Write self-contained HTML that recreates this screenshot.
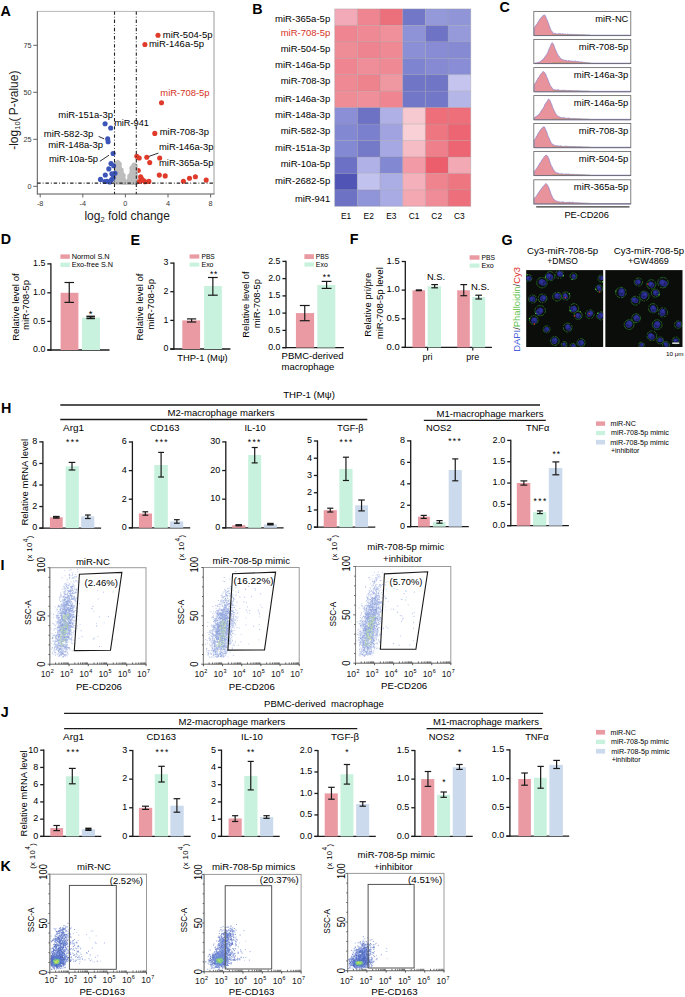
<!DOCTYPE html>
<html><head><meta charset="utf-8"><style>
html,body{margin:0;padding:0;background:#fff;}
svg{display:block;}
text{font-family:"Liberation Sans",sans-serif;}
</style></head><body>
<svg width="685" height="997" viewBox="0 0 685 997">
<rect width="685" height="997" fill="#fff"/>
<text x="0.5" y="16.2" font-size="14.3" fill="#000" font-weight="bold">A</text>
<line x1="37.3" y1="11.4" x2="214" y2="11.4" stroke="#b8b8b8" stroke-width="1"/>
<line x1="214" y1="11.4" x2="214" y2="194" stroke="#9a9a9a" stroke-width="1"/>
<line x1="37.3" y1="11.2" x2="37.3" y2="194.5" stroke="#555" stroke-width="1"/>
<line x1="37.3" y1="194" x2="214.4" y2="194" stroke="#555" stroke-width="1"/>
<line x1="33.2" y1="186.3" x2="37.3" y2="186.3" stroke="#555" stroke-width="0.9"/>
<text x="31.6" y="188.9" font-size="7.3" text-anchor="end" fill="#3a3632">0</text>
<line x1="33.2" y1="139.3" x2="37.3" y2="139.3" stroke="#555" stroke-width="0.9"/>
<text x="31.6" y="141.9" font-size="7.3" text-anchor="end" fill="#3a3632">25</text>
<line x1="33.2" y1="92.3" x2="37.3" y2="92.3" stroke="#555" stroke-width="0.9"/>
<text x="31.6" y="94.9" font-size="7.3" text-anchor="end" fill="#3a3632">50</text>
<line x1="33.2" y1="45.3" x2="37.3" y2="45.3" stroke="#555" stroke-width="0.9"/>
<text x="31.6" y="47.9" font-size="7.3" text-anchor="end" fill="#3a3632">75</text>
<line x1="40.2" y1="194" x2="40.2" y2="197.5" stroke="#555" stroke-width="0.9"/>
<text x="40.2" y="205.5" font-size="7.3" text-anchor="middle" fill="#3a3632">-8</text>
<line x1="82.8" y1="194" x2="82.8" y2="197.5" stroke="#555" stroke-width="0.9"/>
<text x="82.8" y="205.5" font-size="7.3" text-anchor="middle" fill="#3a3632">-4</text>
<line x1="125.4" y1="194" x2="125.4" y2="197.5" stroke="#555" stroke-width="0.9"/>
<text x="125.4" y="205.5" font-size="7.3" text-anchor="middle" fill="#3a3632">0</text>
<line x1="168" y1="194" x2="168" y2="197.5" stroke="#555" stroke-width="0.9"/>
<text x="168" y="205.5" font-size="7.3" text-anchor="middle" fill="#3a3632">4</text>
<line x1="210.6" y1="194" x2="210.6" y2="197.5" stroke="#555" stroke-width="0.9"/>
<text x="210.6" y="205.5" font-size="7.3" text-anchor="middle" fill="#3a3632">8</text>
<circle cx="138.3" cy="170.4" r="2.5" fill="#E03A2A"/>
<path d="M114.6,183.8 L114.8,172 L115.3,165 L116.4,161.6 L117.8,160.6 L119.3,161.4 L120.6,163.6 L120.8,166.5 L121.8,169.5 L123.2,172.5 L124.3,176 L125.2,180 L125.6,184.2 Z" fill="#BDBDBD" stroke="#BDBDBD" stroke-width="1.6" stroke-linejoin="round"/>
<path d="M127.0,184.3 L127.4,180.5 L128.6,176.5 L130.0,173 L130.6,169.5 L131.6,166 L132.8,163.8 L134.3,163.2 L135.8,164.2 L136.6,166.5 L137.0,172 L137.2,184.3 Z" fill="#BDBDBD" stroke="#BDBDBD" stroke-width="1.6" stroke-linejoin="round"/>
<circle cx="116.5" cy="163" r="2.3" fill="#BDBDBD"/>
<circle cx="119.5" cy="164" r="2.3" fill="#BDBDBD"/>
<circle cx="121.5" cy="170" r="2.3" fill="#BDBDBD"/>
<circle cx="123.5" cy="175.5" r="2.3" fill="#BDBDBD"/>
<circle cx="116" cy="170" r="2.3" fill="#BDBDBD"/>
<circle cx="129.5" cy="176" r="2.3" fill="#BDBDBD"/>
<circle cx="131.5" cy="168" r="2.3" fill="#BDBDBD"/>
<circle cx="135.5" cy="166" r="2.3" fill="#BDBDBD"/>
<circle cx="128.5" cy="181" r="2.3" fill="#BDBDBD"/>
<circle cx="124.6" cy="181" r="2.3" fill="#BDBDBD"/>
<circle cx="158" cy="35.3" r="2.55" fill="#E03A2A"/>
<circle cx="144.9" cy="44.5" r="2.55" fill="#E03A2A"/>
<circle cx="161.5" cy="102.8" r="2.55" fill="#E03A2A"/>
<circle cx="154.8" cy="133.4" r="2.55" fill="#E03A2A"/>
<circle cx="136.8" cy="156.2" r="2.55" fill="#E03A2A"/>
<circle cx="139.2" cy="158" r="2.55" fill="#E03A2A"/>
<circle cx="146.8" cy="157.3" r="2.55" fill="#E03A2A"/>
<circle cx="149.7" cy="162.6" r="2.55" fill="#E03A2A"/>
<circle cx="159.7" cy="158" r="2.55" fill="#E03A2A"/>
<circle cx="140.6" cy="176.9" r="2.55" fill="#E03A2A"/>
<circle cx="141.5" cy="178.6" r="2.55" fill="#E03A2A"/>
<circle cx="143.5" cy="180.5" r="2.55" fill="#E03A2A"/>
<circle cx="145" cy="181.8" r="2.55" fill="#E03A2A"/>
<circle cx="148.9" cy="181.4" r="2.55" fill="#E03A2A"/>
<circle cx="159.3" cy="175.1" r="2.55" fill="#E03A2A"/>
<circle cx="165.2" cy="175.9" r="2.55" fill="#E03A2A"/>
<circle cx="183.4" cy="181.2" r="2.55" fill="#E03A2A"/>
<circle cx="189.5" cy="178.2" r="2.55" fill="#E03A2A"/>
<circle cx="195.4" cy="176.7" r="2.55" fill="#E03A2A"/>
<circle cx="206.2" cy="180.1" r="2.55" fill="#E03A2A"/>
<circle cx="139.5" cy="181.5" r="2.55" fill="#E03A2A"/>
<circle cx="105.1" cy="123.7" r="2.55" fill="#3C55B8"/>
<circle cx="110.7" cy="128" r="2.55" fill="#3C55B8"/>
<circle cx="107.7" cy="138.9" r="2.55" fill="#3C55B8"/>
<circle cx="108.1" cy="141.7" r="2.55" fill="#3C55B8"/>
<circle cx="113.1" cy="153.5" r="2.55" fill="#3C55B8"/>
<circle cx="111" cy="163.5" r="2.55" fill="#3C55B8"/>
<circle cx="113.6" cy="165.8" r="2.55" fill="#3C55B8"/>
<circle cx="108.8" cy="168.9" r="2.55" fill="#3C55B8"/>
<circle cx="105.3" cy="175" r="2.55" fill="#3C55B8"/>
<circle cx="111.9" cy="173.7" r="2.55" fill="#3C55B8"/>
<circle cx="115" cy="173.3" r="2.55" fill="#3C55B8"/>
<circle cx="100.5" cy="179.4" r="2.55" fill="#3C55B8"/>
<circle cx="107.1" cy="181.2" r="2.55" fill="#3C55B8"/>
<circle cx="109.7" cy="182" r="2.55" fill="#3C55B8"/>
<circle cx="111.5" cy="179.8" r="2.55" fill="#3C55B8"/>
<circle cx="113.2" cy="177.7" r="2.55" fill="#3C55B8"/>
<circle cx="104.8" cy="181.5" r="2.55" fill="#3C55B8"/>
<line x1="114.5" y1="11.4" x2="114.5" y2="194" stroke="#222" stroke-width="1.1" stroke-dasharray="3.4,2,0.8,2"/>
<line x1="136.3" y1="11.4" x2="136.3" y2="194" stroke="#222" stroke-width="1.1" stroke-dasharray="3.4,2,0.8,2"/>
<line x1="37.3" y1="183.1" x2="214" y2="183.1" stroke="#222" stroke-width="1.1" stroke-dasharray="3.4,2,0.8,2"/>
<text x="162.8" y="37.8" font-size="8.2" textLength="49.7" lengthAdjust="spacingAndGlyphs">miR-504-5p</text>
<text x="148.9" y="46.8" font-size="8.2" textLength="55.1" lengthAdjust="spacingAndGlyphs">miR-146a-5p</text>
<text x="160.3" y="95.8" font-size="8.2" textLength="49.3" lengthAdjust="spacingAndGlyphs" fill="#D63224">miR-708-5p</text>
<text x="58.3" y="117.5" font-size="8.2" textLength="54.7" lengthAdjust="spacingAndGlyphs">miR-151a-3p</text>
<text x="114.2" y="126" font-size="8.2" textLength="34.7" lengthAdjust="spacingAndGlyphs">miR-941</text>
<text x="43.8" y="137.3" font-size="8.2" textLength="49.6" lengthAdjust="spacingAndGlyphs">miR-582-3p</text>
<text x="48.2" y="148.2" font-size="8.2" textLength="54.8" lengthAdjust="spacingAndGlyphs">miR-148a-3p</text>
<text x="49" y="161.7" font-size="8.2" textLength="49.1" lengthAdjust="spacingAndGlyphs">miR-10a-5p</text>
<text x="159.7" y="135.1" font-size="8.2" textLength="49.3" lengthAdjust="spacingAndGlyphs">miR-708-3p</text>
<text x="159" y="149.7" font-size="8.2" textLength="54.4" lengthAdjust="spacingAndGlyphs">miR-146a-3p</text>
<text x="159" y="166" font-size="8.2" textLength="54.4" lengthAdjust="spacingAndGlyphs">miR-365a-5p</text>
<line x1="98.6" y1="136.4" x2="104.2" y2="138.9" stroke="#1a1a1a" stroke-width="0.9"/>
<line x1="99.9" y1="161.3" x2="109" y2="155.2" stroke="#1a1a1a" stroke-width="0.9"/>
<line x1="148.9" y1="156.4" x2="158.4" y2="153.1" stroke="#1a1a1a" stroke-width="0.9"/>
<text x="18" y="149.8" font-size="12" transform="rotate(-90 18 149.8)" fill="#1a1a1a">-log<tspan font-size="7.5" dy="2.2">10</tspan><tspan dy="-2.2">(</tspan><tspan dx="2.2">P-value)</tspan></text>
<text x="84.4" y="219.7" font-size="12" fill="#1a1a1a">log<tspan font-size="7.5" dy="2.2">2</tspan><tspan dy="-2.2"> fold change</tspan></text>
<text x="252.3" y="14.2" font-size="14.3" fill="#000" font-weight="bold">B</text>
<rect x="334.7" y="8.9" width="22.72" height="16.5" fill="#F2AAB8"/>
<rect x="357.37" y="8.9" width="22.72" height="16.5" fill="#EE8590"/>
<rect x="380.04" y="8.9" width="22.72" height="16.5" fill="#EC6F7C"/>
<rect x="402.71" y="8.9" width="22.72" height="16.5" fill="#7277C8"/>
<rect x="425.38" y="8.9" width="22.72" height="16.5" fill="#9499DA"/>
<rect x="448.05" y="8.9" width="22.72" height="16.5" fill="#9095D8"/>
<rect x="334.7" y="25.35" width="22.72" height="16.5" fill="#EF8590"/>
<rect x="357.37" y="25.35" width="22.72" height="16.5" fill="#EF8A95"/>
<rect x="380.04" y="25.35" width="22.72" height="16.5" fill="#EF909A"/>
<rect x="402.71" y="25.35" width="22.72" height="16.5" fill="#8E93D8"/>
<rect x="425.38" y="25.35" width="22.72" height="16.5" fill="#6E73C6"/>
<rect x="448.05" y="25.35" width="22.72" height="16.5" fill="#969ADB"/>
<rect x="334.7" y="41.8" width="22.72" height="16.5" fill="#EF8D97"/>
<rect x="357.37" y="41.8" width="22.72" height="16.5" fill="#EE8490"/>
<rect x="380.04" y="41.8" width="22.72" height="16.5" fill="#EF8A95"/>
<rect x="402.71" y="41.8" width="22.72" height="16.5" fill="#8B90D6"/>
<rect x="425.38" y="41.8" width="22.72" height="16.5" fill="#878CD4"/>
<rect x="448.05" y="41.8" width="22.72" height="16.5" fill="#858AD3"/>
<rect x="334.7" y="58.25" width="22.72" height="16.5" fill="#EE8590"/>
<rect x="357.37" y="58.25" width="22.72" height="16.5" fill="#EF8D98"/>
<rect x="380.04" y="58.25" width="22.72" height="16.5" fill="#EF8A95"/>
<rect x="402.71" y="58.25" width="22.72" height="16.5" fill="#7F84D0"/>
<rect x="425.38" y="58.25" width="22.72" height="16.5" fill="#858AD3"/>
<rect x="448.05" y="58.25" width="22.72" height="16.5" fill="#888DD5"/>
<rect x="334.7" y="74.7" width="22.72" height="16.5" fill="#EF8994"/>
<rect x="357.37" y="74.7" width="22.72" height="16.5" fill="#EE828D"/>
<rect x="380.04" y="74.7" width="22.72" height="16.5" fill="#F098A2"/>
<rect x="402.71" y="74.7" width="22.72" height="16.5" fill="#7075C6"/>
<rect x="425.38" y="74.7" width="22.72" height="16.5" fill="#7075C6"/>
<rect x="448.05" y="74.7" width="22.72" height="16.5" fill="#C4C4EE"/>
<rect x="334.7" y="91.15" width="22.72" height="16.5" fill="#EF8D97"/>
<rect x="357.37" y="91.15" width="22.72" height="16.5" fill="#EF8F99"/>
<rect x="380.04" y="91.15" width="22.72" height="16.5" fill="#EE8590"/>
<rect x="402.71" y="91.15" width="22.72" height="16.5" fill="#7277C8"/>
<rect x="425.38" y="91.15" width="22.72" height="16.5" fill="#7277C8"/>
<rect x="448.05" y="91.15" width="22.72" height="16.5" fill="#B5B6E8"/>
<rect x="334.7" y="107.6" width="22.72" height="16.5" fill="#8B90D6"/>
<rect x="357.37" y="107.6" width="22.72" height="16.5" fill="#6D72C5"/>
<rect x="380.04" y="107.6" width="22.72" height="16.5" fill="#AFB0E6"/>
<rect x="402.71" y="107.6" width="22.72" height="16.5" fill="#F6C8D0"/>
<rect x="425.38" y="107.6" width="22.72" height="16.5" fill="#EE6E7A"/>
<rect x="448.05" y="107.6" width="22.72" height="16.5" fill="#EE6E7A"/>
<rect x="334.7" y="124.05" width="22.72" height="16.5" fill="#8388D2"/>
<rect x="357.37" y="124.05" width="22.72" height="16.5" fill="#7B80CE"/>
<rect x="380.04" y="124.05" width="22.72" height="16.5" fill="#A0A3E0"/>
<rect x="402.71" y="124.05" width="22.72" height="16.5" fill="#F8D0D6"/>
<rect x="425.38" y="124.05" width="22.72" height="16.5" fill="#EE7681"/>
<rect x="448.05" y="124.05" width="22.72" height="16.5" fill="#ED6572"/>
<rect x="334.7" y="140.5" width="22.72" height="16.5" fill="#8489D3"/>
<rect x="357.37" y="140.5" width="22.72" height="16.5" fill="#7479C8"/>
<rect x="380.04" y="140.5" width="22.72" height="16.5" fill="#A6A8E3"/>
<rect x="402.71" y="140.5" width="22.72" height="16.5" fill="#F5BCC5"/>
<rect x="425.38" y="140.5" width="22.72" height="16.5" fill="#EF7F8A"/>
<rect x="448.05" y="140.5" width="22.72" height="16.5" fill="#ED6572"/>
<rect x="334.7" y="156.95" width="22.72" height="16.5" fill="#6C71C5"/>
<rect x="357.37" y="156.95" width="22.72" height="16.5" fill="#B0B1E7"/>
<rect x="380.04" y="156.95" width="22.72" height="16.5" fill="#8388D2"/>
<rect x="402.71" y="156.95" width="22.72" height="16.5" fill="#F29AA5"/>
<rect x="425.38" y="156.95" width="22.72" height="16.5" fill="#EC5E6B"/>
<rect x="448.05" y="156.95" width="22.72" height="16.5" fill="#F3A9B3"/>
<rect x="334.7" y="173.4" width="22.72" height="16.5" fill="#5055B5"/>
<rect x="357.37" y="173.4" width="22.72" height="16.5" fill="#C2C2EE"/>
<rect x="380.04" y="173.4" width="22.72" height="16.5" fill="#ABADE5"/>
<rect x="402.71" y="173.4" width="22.72" height="16.5" fill="#F4B1BB"/>
<rect x="425.38" y="173.4" width="22.72" height="16.5" fill="#EF838E"/>
<rect x="448.05" y="173.4" width="22.72" height="16.5" fill="#EE7681"/>
<rect x="334.7" y="189.85" width="22.72" height="16.5" fill="#6D72C5"/>
<rect x="357.37" y="189.85" width="22.72" height="16.5" fill="#9094D8"/>
<rect x="380.04" y="189.85" width="22.72" height="16.5" fill="#A9ABE4"/>
<rect x="402.71" y="189.85" width="22.72" height="16.5" fill="#F4A8B2"/>
<rect x="425.38" y="189.85" width="22.72" height="16.5" fill="#F08C97"/>
<rect x="448.05" y="189.85" width="22.72" height="16.5" fill="#ED6F7B"/>
<line x1="334.7" y1="8.9" x2="470.72" y2="8.9" stroke="rgba(150,150,150,0.55)" stroke-width="0.6"/>
<line x1="334.7" y1="25.35" x2="470.72" y2="25.35" stroke="rgba(150,150,150,0.55)" stroke-width="0.6"/>
<line x1="334.7" y1="41.8" x2="470.72" y2="41.8" stroke="rgba(150,150,150,0.55)" stroke-width="0.6"/>
<line x1="334.7" y1="58.25" x2="470.72" y2="58.25" stroke="rgba(150,150,150,0.55)" stroke-width="0.6"/>
<line x1="334.7" y1="74.7" x2="470.72" y2="74.7" stroke="rgba(150,150,150,0.55)" stroke-width="0.6"/>
<line x1="334.7" y1="91.15" x2="470.72" y2="91.15" stroke="rgba(150,150,150,0.55)" stroke-width="0.6"/>
<line x1="334.7" y1="107.6" x2="470.72" y2="107.6" stroke="rgba(150,150,150,0.55)" stroke-width="0.6"/>
<line x1="334.7" y1="124.05" x2="470.72" y2="124.05" stroke="rgba(150,150,150,0.55)" stroke-width="0.6"/>
<line x1="334.7" y1="140.5" x2="470.72" y2="140.5" stroke="rgba(150,150,150,0.55)" stroke-width="0.6"/>
<line x1="334.7" y1="156.95" x2="470.72" y2="156.95" stroke="rgba(150,150,150,0.55)" stroke-width="0.6"/>
<line x1="334.7" y1="173.4" x2="470.72" y2="173.4" stroke="rgba(150,150,150,0.55)" stroke-width="0.6"/>
<line x1="334.7" y1="189.85" x2="470.72" y2="189.85" stroke="rgba(150,150,150,0.55)" stroke-width="0.6"/>
<line x1="334.7" y1="206.3" x2="470.72" y2="206.3" stroke="rgba(150,150,150,0.55)" stroke-width="0.6"/>
<line x1="334.7" y1="8.9" x2="334.7" y2="206.3" stroke="rgba(150,150,150,0.55)" stroke-width="0.6"/>
<line x1="357.37" y1="8.9" x2="357.37" y2="206.3" stroke="rgba(150,150,150,0.55)" stroke-width="0.6"/>
<line x1="380.04" y1="8.9" x2="380.04" y2="206.3" stroke="rgba(150,150,150,0.55)" stroke-width="0.6"/>
<line x1="402.71" y1="8.9" x2="402.71" y2="206.3" stroke="rgba(150,150,150,0.55)" stroke-width="0.6"/>
<line x1="425.38" y1="8.9" x2="425.38" y2="206.3" stroke="rgba(150,150,150,0.55)" stroke-width="0.6"/>
<line x1="448.05" y1="8.9" x2="448.05" y2="206.3" stroke="rgba(150,150,150,0.55)" stroke-width="0.6"/>
<line x1="470.72" y1="8.9" x2="470.72" y2="206.3" stroke="rgba(150,150,150,0.55)" stroke-width="0.6"/>
<text x="330.2" y="21.9" font-size="8.2" text-anchor="end" textLength="55.2" lengthAdjust="spacingAndGlyphs">miR-365a-5p</text>
<text x="330.2" y="36.4" font-size="8.2" text-anchor="end" textLength="49.5" lengthAdjust="spacingAndGlyphs" fill="#D63224">miR-708-5p</text>
<text x="330.2" y="51.8" font-size="8.2" text-anchor="end" textLength="49.5" lengthAdjust="spacingAndGlyphs">miR-504-5p</text>
<text x="330.2" y="68.4" font-size="8.2" text-anchor="end" textLength="55.2" lengthAdjust="spacingAndGlyphs">miR-146a-5p</text>
<text x="330.2" y="84.4" font-size="8.2" text-anchor="end" textLength="49.5" lengthAdjust="spacingAndGlyphs">miR-708-3p</text>
<text x="330.2" y="101.6" font-size="8.2" text-anchor="end" textLength="55.2" lengthAdjust="spacingAndGlyphs">miR-146a-3p</text>
<text x="330.2" y="117.6" font-size="8.2" text-anchor="end" textLength="55.2" lengthAdjust="spacingAndGlyphs">miR-148a-3p</text>
<text x="330.2" y="133.8" font-size="8.2" text-anchor="end" textLength="49.5" lengthAdjust="spacingAndGlyphs">miR-582-3p</text>
<text x="330.2" y="150.6" font-size="8.2" text-anchor="end" textLength="55.2" lengthAdjust="spacingAndGlyphs">miR-151a-3p</text>
<text x="330.2" y="167.3" font-size="8.2" text-anchor="end" textLength="49.5" lengthAdjust="spacingAndGlyphs">miR-10a-5p</text>
<text x="330.2" y="184.4" font-size="8.2" text-anchor="end" textLength="55.2" lengthAdjust="spacingAndGlyphs">miR-2682-5p</text>
<text x="330.2" y="201.8" font-size="8.2" text-anchor="end" textLength="35.3" lengthAdjust="spacingAndGlyphs">miR-941</text>
<text x="346.03" y="219.1" font-size="8.4" text-anchor="middle">E1</text>
<text x="368.7" y="219.1" font-size="8.4" text-anchor="middle">E2</text>
<text x="391.38" y="219.1" font-size="8.4" text-anchor="middle">E3</text>
<text x="414.04" y="219.1" font-size="8.4" text-anchor="middle">C1</text>
<text x="436.72" y="219.1" font-size="8.4" text-anchor="middle">C2</text>
<text x="459.38" y="219.1" font-size="8.4" text-anchor="middle">C3</text>
<text x="499.5" y="11.6" font-size="14.3" fill="#000" font-weight="bold">C</text>
<path d="M534.3,35.6 L534.3,27.89 L534.8,26.86 L535.3,26.27 L535.8,25.31 L536.3,24.54 L536.8,24.29 L537.3,23.59 L537.8,22.1 L538.3,21.87 L538.8,21.14 L539.3,19.7 L539.8,19.43 L540.3,18.42 L540.8,18.12 L541.3,17.35 L541.8,17.16 L542.3,16.26 L542.8,15.68 L543.3,15.63 L543.8,15.05 L544.3,14.72 L544.8,15.67 L545.3,15.63 L545.8,16.72 L546.3,18.15 L546.8,19.56 L547.3,20.1 L547.8,21.82 L548.3,22.98 L548.8,24.21 L549.3,25.71 L549.8,26.85 L550.3,28.66 L550.8,29.39 L551.3,30.64 L551.8,31.13 L552.3,31.77 L552.8,32.82 L553.3,33.14 L553.8,33.41 L554.3,32.94 L554.8,33.52 L555.3,33.45 L555.8,33.84 L556.3,33.75 L556.8,33.96 L557.3,34.05 L557.8,33.85 L558.3,33.87 L558.8,33.6 L559.3,33.82 L559.8,33.62 L560.3,33.7 L560.8,33.6 L561.3,33.91 L561.8,34.38 L562.3,33.77 L562.8,33.7 L563.3,33.77 L563.8,34.09 L564.3,33.98 L564.8,34.45 L565.3,33.91 L565.8,34.16 L566.3,34.43 L566.8,34.65 L567.3,33.95 L567.8,33.84 L568.3,34.67 L568.8,34.31 L569.3,34.33 L569.8,34.34 L570.3,34.36 L570.8,34.37 L571.3,34.39 L571.8,34.4 L572.3,34.42 L572.8,34.43 L573.3,34.45 L573.8,34.46 L574.3,34.48 L574.8,34.49 L575.3,34.51 L575.8,34.53 L576.3,34.55 L576.8,34.56 L577.3,34.58 L577.8,34.6 L578.3,34.62 L578.8,34.63 L579.3,34.65 L579.8,34.67 L580.3,34.69 L580.8,34.7 L581.3,34.72 L581.8,34.74 L582.3,34.76 L582.8,34.77 L583.3,34.79 L583.8,34.81 L584.3,34.83 L584.8,34.84 L585.3,34.86 L585.8,34.88 L586.3,34.9 L586.8,34.91 L587.3,34.93 L587.8,34.95 L588.3,34.97 L588.8,34.99 L589.3,35 L589.8,35.02 L590.3,35.04 L590.8,35.06 L591.3,35.08 L591.8,35.09 L592.3,35.1 L592.8,35.1 L593.3,35.1 L593.8,35.1 L594.3,35.1 L594.8,35.1 L595.3,35.1 L595.8,35.1 L596.3,35.1 L596.8,35.1 L597.3,35.1 L597.8,35.1 L598.3,35.1 L598.8,35.1 L599.3,35.1 L599.8,35.1 L600.3,35.1 L600.8,35.1 L601.3,35.1 L601.8,35.1 L602.3,35.1 L602.8,35.1 L603.3,35.1 L603.8,35.1 L604.3,35.1 L604.8,35.1 L605.3,35.1 L605.8,35.1 L606.3,35.1 L606.8,35.1 L607.3,35.1 L607.8,35.1 L608.3,35.1 L608.8,35.1 L609.3,35.1 L609.8,35.1 L610.3,35.1 L610.8,35.1 L611.3,35.1 L611.8,35.1 L612.3,35.1 L612.8,35.1 L613.3,35.1 L613.8,35.1 L614.3,35.1 L614.8,35.1 L615.3,35.1 L615.8,35.1 L616.3,35.1 L616.8,35.1 L617.3,35.1 L617.8,35.1 L618.3,35.1 L618.8,35.1 L619.3,35.1 L619.8,35.1 L620.3,35.1 L620.8,35.1 L621.3,35.1 L621.8,35.1 L622.3,35.1 L622.8,35.1 L623.3,35.1 L623.8,35.1 L624.3,35.1 L624.8,35.1 L625.3,35.1 L625.8,35.1 L626.3,35.1 L626.8,35.1 L627.3,35.1 L627.8,35.1 L628.3,35.1 L628.8,35.1 L629.3,35.1 L629.8,35.1 L630.3,35.1 L630.3,35.6 Z" fill="#E8939C" stroke="#6E72D0" stroke-width="0.55"/>
<line x1="552" y1="34.6" x2="590" y2="34.8" stroke="rgba(120,140,60,0.45)" stroke-width="0.6"/>
<rect x="533.8" y="11.4" width="97" height="24.2" fill="none" stroke="#6a6a6a" stroke-width="0.85"/>
<text x="628.3" y="21.6" font-size="8.4" text-anchor="end" textLength="33" lengthAdjust="spacingAndGlyphs">miR-NC</text>
<path d="M534.3,63.6 L534.3,63.05 L534.8,62.98 L535.3,62.91 L535.8,62.83 L536.3,62.76 L536.8,62.68 L537.3,62.61 L537.8,62.53 L538.3,62.36 L538.8,61.86 L539.3,61.97 L539.8,61.97 L540.3,61.61 L540.8,60.95 L541.3,60.48 L541.8,60.76 L542.3,59.78 L542.8,59.83 L543.3,58.76 L543.8,58.64 L544.3,57.55 L544.8,56.79 L545.3,56.54 L545.8,55.42 L546.3,55.17 L546.8,54.38 L547.3,52.91 L547.8,52.42 L548.3,51.12 L548.8,49.68 L549.3,48.25 L549.8,47.41 L550.3,46.41 L550.8,44.67 L551.3,44.17 L551.8,42.95 L552.3,42.62 L552.8,43.45 L553.3,43.92 L553.8,44.98 L554.3,46.37 L554.8,47.91 L555.3,49.22 L555.8,50.29 L556.3,51.13 L556.8,52.64 L557.3,53.69 L557.8,54.3 L558.3,55.61 L558.8,56.43 L559.3,56.47 L559.8,57.38 L560.3,57.86 L560.8,58.84 L561.3,58.98 L561.8,59.15 L562.3,59.85 L562.8,59.52 L563.3,59.7 L563.8,60.42 L564.3,60.04 L564.8,60.26 L565.3,60.16 L565.8,60.53 L566.3,60.3 L566.8,60.35 L567.3,61.06 L567.8,61.08 L568.3,60.57 L568.8,60.36 L569.3,61.05 L569.8,60.92 L570.3,60.84 L570.8,61.12 L571.3,61.11 L571.8,61.19 L572.3,61.17 L572.8,61 L573.3,61.29 L573.8,61.25 L574.3,60.92 L574.8,61.62 L575.3,61.15 L575.8,61.03 L576.3,61.44 L576.8,61.54 L577.3,61.07 L577.8,61.66 L578.3,61.79 L578.8,61.65 L579.3,61.49 L579.8,62.11 L580.3,61.99 L580.8,62.06 L581.3,61.69 L581.8,62.12 L582.3,61.82 L582.8,62.49 L583.3,62.4 L583.8,62.31 L584.3,62.37 L584.8,62.43 L585.3,62.48 L585.8,62.54 L586.3,62.6 L586.8,62.66 L587.3,62.72 L587.8,62.78 L588.3,62.81 L588.8,62.84 L589.3,62.86 L589.8,62.89 L590.3,62.91 L590.8,62.94 L591.3,62.96 L591.8,62.99 L592.3,63.01 L592.8,63.04 L593.3,63.06 L593.8,63.09 L594.3,63.1 L594.8,63.1 L595.3,63.1 L595.8,63.1 L596.3,63.1 L596.8,63.1 L597.3,63.1 L597.8,63.1 L598.3,63.1 L598.8,63.1 L599.3,63.1 L599.8,63.1 L600.3,63.1 L600.8,63.1 L601.3,63.1 L601.8,63.1 L602.3,63.1 L602.8,63.1 L603.3,63.1 L603.8,63.1 L604.3,63.1 L604.8,63.1 L605.3,63.1 L605.8,63.1 L606.3,63.1 L606.8,63.1 L607.3,63.1 L607.8,63.1 L608.3,63.1 L608.8,63.1 L609.3,63.1 L609.8,63.1 L610.3,63.1 L610.8,63.1 L611.3,63.1 L611.8,63.1 L612.3,63.1 L612.8,63.1 L613.3,63.1 L613.8,63.1 L614.3,63.1 L614.8,63.1 L615.3,63.1 L615.8,63.1 L616.3,63.1 L616.8,63.1 L617.3,63.1 L617.8,63.1 L618.3,63.1 L618.8,63.1 L619.3,63.1 L619.8,63.1 L620.3,63.1 L620.8,63.1 L621.3,63.1 L621.8,63.1 L622.3,63.1 L622.8,63.1 L623.3,63.1 L623.8,63.1 L624.3,63.1 L624.8,63.1 L625.3,63.1 L625.8,63.1 L626.3,63.1 L626.8,63.1 L627.3,63.1 L627.8,63.1 L628.3,63.1 L628.8,63.1 L629.3,63.1 L629.8,63.1 L630.3,63.1 L630.3,63.6 Z" fill="#E8939C" stroke="#6E72D0" stroke-width="0.55"/>
<line x1="552" y1="62.6" x2="590" y2="62.8" stroke="rgba(120,140,60,0.45)" stroke-width="0.6"/>
<rect x="533.8" y="39.4" width="97" height="24.2" fill="none" stroke="#6a6a6a" stroke-width="0.85"/>
<text x="628.3" y="49.6" font-size="8.4" text-anchor="end" textLength="49.5" lengthAdjust="spacingAndGlyphs">miR-708-5p</text>
<path d="M534.3,91.8 L534.3,84.47 L534.8,83.43 L535.3,83 L535.8,82.38 L536.3,81.62 L536.8,80.37 L537.3,79.8 L537.8,78.37 L538.3,77.55 L538.8,77.38 L539.3,76.55 L539.8,75.32 L540.3,74.75 L540.8,73.9 L541.3,73.62 L541.8,73.11 L542.3,72.45 L542.8,71.6 L543.3,71.67 L543.8,71.74 L544.3,72.17 L544.8,72.67 L545.3,73.56 L545.8,74.22 L546.3,76.03 L546.8,77.3 L547.3,77.73 L547.8,79.16 L548.3,80.44 L548.8,82.31 L549.3,82.99 L549.8,84.02 L550.3,85.65 L550.8,86.18 L551.3,86.84 L551.8,87.57 L552.3,88.28 L552.8,89.06 L553.3,89.33 L553.8,89.59 L554.3,89.88 L554.8,89.56 L555.3,89.98 L555.8,89.66 L556.3,90.42 L556.8,89.67 L557.3,89.88 L557.8,89.7 L558.3,89.75 L558.8,89.76 L559.3,90.08 L559.8,90.61 L560.3,89.97 L560.8,90.51 L561.3,90.42 L561.8,90.11 L562.3,90.26 L562.8,90.38 L563.3,89.93 L563.8,90.25 L564.3,90.51 L564.8,90.61 L565.3,90.08 L565.8,90.45 L566.3,90.19 L566.8,90.59 L567.3,90.74 L567.8,90.45 L568.3,90.5 L568.8,90.52 L569.3,90.53 L569.8,90.55 L570.3,90.56 L570.8,90.58 L571.3,90.59 L571.8,90.61 L572.3,90.62 L572.8,90.64 L573.3,90.66 L573.8,90.67 L574.3,90.69 L574.8,90.7 L575.3,90.72 L575.8,90.73 L576.3,90.75 L576.8,90.76 L577.3,90.78 L577.8,90.79 L578.3,90.81 L578.8,90.83 L579.3,90.85 L579.8,90.88 L580.3,90.9 L580.8,90.92 L581.3,90.94 L581.8,90.96 L582.3,90.98 L582.8,91 L583.3,91.02 L583.8,91.04 L584.3,91.06 L584.8,91.08 L585.3,91.1 L585.8,91.12 L586.3,91.15 L586.8,91.17 L587.3,91.19 L587.8,91.21 L588.3,91.23 L588.8,91.25 L589.3,91.27 L589.8,91.29 L590.3,91.3 L590.8,91.3 L591.3,91.3 L591.8,91.3 L592.3,91.3 L592.8,91.3 L593.3,91.3 L593.8,91.3 L594.3,91.3 L594.8,91.3 L595.3,91.3 L595.8,91.3 L596.3,91.3 L596.8,91.3 L597.3,91.3 L597.8,91.3 L598.3,91.3 L598.8,91.3 L599.3,91.3 L599.8,91.3 L600.3,91.3 L600.8,91.3 L601.3,91.3 L601.8,91.3 L602.3,91.3 L602.8,91.3 L603.3,91.3 L603.8,91.3 L604.3,91.3 L604.8,91.3 L605.3,91.3 L605.8,91.3 L606.3,91.3 L606.8,91.3 L607.3,91.3 L607.8,91.3 L608.3,91.3 L608.8,91.3 L609.3,91.3 L609.8,91.3 L610.3,91.3 L610.8,91.3 L611.3,91.3 L611.8,91.3 L612.3,91.3 L612.8,91.3 L613.3,91.3 L613.8,91.3 L614.3,91.3 L614.8,91.3 L615.3,91.3 L615.8,91.3 L616.3,91.3 L616.8,91.3 L617.3,91.3 L617.8,91.3 L618.3,91.3 L618.8,91.3 L619.3,91.3 L619.8,91.3 L620.3,91.3 L620.8,91.3 L621.3,91.3 L621.8,91.3 L622.3,91.3 L622.8,91.3 L623.3,91.3 L623.8,91.3 L624.3,91.3 L624.8,91.3 L625.3,91.3 L625.8,91.3 L626.3,91.3 L626.8,91.3 L627.3,91.3 L627.8,91.3 L628.3,91.3 L628.8,91.3 L629.3,91.3 L629.8,91.3 L630.3,91.3 L630.3,91.8 Z" fill="#E8939C" stroke="#6E72D0" stroke-width="0.55"/>
<line x1="552" y1="90.8" x2="590" y2="91" stroke="rgba(120,140,60,0.45)" stroke-width="0.6"/>
<rect x="533.8" y="67.6" width="97" height="24.2" fill="none" stroke="#6a6a6a" stroke-width="0.85"/>
<text x="628.3" y="77.8" font-size="8.4" text-anchor="end" textLength="54.5" lengthAdjust="spacingAndGlyphs">miR-146a-3p</text>
<path d="M534.3,119.8 L534.3,117.62 L534.8,117.88 L535.3,116.99 L535.8,116.55 L536.3,116.3 L536.8,115.91 L537.3,116.27 L537.8,115.33 L538.3,114.6 L538.8,114.71 L539.3,113.88 L539.8,113.26 L540.3,112.33 L540.8,111.67 L541.3,110.87 L541.8,109.85 L542.3,109.72 L542.8,108.8 L543.3,107.86 L543.8,106.99 L544.3,106.16 L544.8,104.47 L545.3,103.71 L545.8,103.52 L546.3,102.3 L546.8,101.63 L547.3,100.8 L547.8,100.13 L548.3,99.37 L548.8,98.92 L549.3,99.58 L549.8,100.19 L550.3,101.03 L550.8,102.52 L551.3,103.43 L551.8,104.59 L552.3,106.16 L552.8,107.68 L553.3,108.84 L553.8,109.91 L554.3,110.81 L554.8,111.65 L555.3,113.01 L555.8,113.63 L556.3,114.49 L556.8,115.16 L557.3,115.71 L557.8,116.1 L558.3,116.24 L558.8,116.69 L559.3,116.65 L559.8,117.06 L560.3,117.45 L560.8,117.39 L561.3,117.37 L561.8,118 L562.3,117.75 L562.8,117.82 L563.3,117.48 L563.8,117.5 L564.3,118.08 L564.8,117.67 L565.3,117.84 L565.8,118.39 L566.3,118.25 L566.8,118.57 L567.3,117.98 L567.8,118.13 L568.3,117.95 L568.8,118.06 L569.3,118.2 L569.8,118.16 L570.3,118.33 L570.8,118.77 L571.3,118.36 L571.8,118.9 L572.3,118.8 L572.8,118.5 L573.3,118.52 L573.8,118.55 L574.3,118.57 L574.8,118.59 L575.3,118.61 L575.8,118.64 L576.3,118.66 L576.8,118.68 L577.3,118.71 L577.8,118.73 L578.3,118.75 L578.8,118.78 L579.3,118.8 L579.8,118.82 L580.3,118.85 L580.8,118.87 L581.3,118.89 L581.8,118.92 L582.3,118.94 L582.8,118.96 L583.3,118.99 L583.8,119.01 L584.3,119.03 L584.8,119.06 L585.3,119.08 L585.8,119.1 L586.3,119.13 L586.8,119.15 L587.3,119.17 L587.8,119.2 L588.3,119.22 L588.8,119.24 L589.3,119.27 L589.8,119.29 L590.3,119.3 L590.8,119.3 L591.3,119.3 L591.8,119.3 L592.3,119.3 L592.8,119.3 L593.3,119.3 L593.8,119.3 L594.3,119.3 L594.8,119.3 L595.3,119.3 L595.8,119.3 L596.3,119.3 L596.8,119.3 L597.3,119.3 L597.8,119.3 L598.3,119.3 L598.8,119.3 L599.3,119.3 L599.8,119.3 L600.3,119.3 L600.8,119.3 L601.3,119.3 L601.8,119.3 L602.3,119.3 L602.8,119.3 L603.3,119.3 L603.8,119.3 L604.3,119.3 L604.8,119.3 L605.3,119.3 L605.8,119.3 L606.3,119.3 L606.8,119.3 L607.3,119.3 L607.8,119.3 L608.3,119.3 L608.8,119.3 L609.3,119.3 L609.8,119.3 L610.3,119.3 L610.8,119.3 L611.3,119.3 L611.8,119.3 L612.3,119.3 L612.8,119.3 L613.3,119.3 L613.8,119.3 L614.3,119.3 L614.8,119.3 L615.3,119.3 L615.8,119.3 L616.3,119.3 L616.8,119.3 L617.3,119.3 L617.8,119.3 L618.3,119.3 L618.8,119.3 L619.3,119.3 L619.8,119.3 L620.3,119.3 L620.8,119.3 L621.3,119.3 L621.8,119.3 L622.3,119.3 L622.8,119.3 L623.3,119.3 L623.8,119.3 L624.3,119.3 L624.8,119.3 L625.3,119.3 L625.8,119.3 L626.3,119.3 L626.8,119.3 L627.3,119.3 L627.8,119.3 L628.3,119.3 L628.8,119.3 L629.3,119.3 L629.8,119.3 L630.3,119.3 L630.3,119.8 Z" fill="#E8939C" stroke="#6E72D0" stroke-width="0.55"/>
<line x1="552" y1="118.8" x2="590" y2="119" stroke="rgba(120,140,60,0.45)" stroke-width="0.6"/>
<rect x="533.8" y="95.6" width="97" height="24.2" fill="none" stroke="#6a6a6a" stroke-width="0.85"/>
<text x="628.3" y="105.8" font-size="8.4" text-anchor="end" textLength="54.5" lengthAdjust="spacingAndGlyphs">miR-146a-5p</text>
<path d="M534.3,147.7 L534.3,139.59 L534.8,139.47 L535.3,138.65 L535.8,137.87 L536.3,136.33 L536.8,136.09 L537.3,135.35 L537.8,133.74 L538.3,133.59 L538.8,132.19 L539.3,131.59 L539.8,130.7 L540.3,129.92 L540.8,129.63 L541.3,128.81 L541.8,128.87 L542.3,127.68 L542.8,127.43 L543.3,126.78 L543.8,126.85 L544.3,126.88 L544.8,127.32 L545.3,128.84 L545.8,129.86 L546.3,130.89 L546.8,131.9 L547.3,133.76 L547.8,135.19 L548.3,136.5 L548.8,137.55 L549.3,138.6 L549.8,139.98 L550.3,141.05 L550.8,142.07 L551.3,142.89 L551.8,143.43 L552.3,144.34 L552.8,144.56 L553.3,144.47 L553.8,145.15 L554.3,145.01 L554.8,145.71 L555.3,145.39 L555.8,145.5 L556.3,145.66 L556.8,145.83 L557.3,145.89 L557.8,145.77 L558.3,145.57 L558.8,146.27 L559.3,146.35 L559.8,145.79 L560.3,145.66 L560.8,146.05 L561.3,146.15 L561.8,145.93 L562.3,146.43 L562.8,146.39 L563.3,146.48 L563.8,146.16 L564.3,146.43 L564.8,146.53 L565.3,146.14 L565.8,145.92 L566.3,146.52 L566.8,146.17 L567.3,146.45 L567.8,146.07 L568.3,146.4 L568.8,146.42 L569.3,146.43 L569.8,146.45 L570.3,146.46 L570.8,146.48 L571.3,146.49 L571.8,146.51 L572.3,146.52 L572.8,146.54 L573.3,146.56 L573.8,146.57 L574.3,146.59 L574.8,146.6 L575.3,146.62 L575.8,146.63 L576.3,146.65 L576.8,146.66 L577.3,146.68 L577.8,146.69 L578.3,146.71 L578.8,146.73 L579.3,146.75 L579.8,146.77 L580.3,146.8 L580.8,146.82 L581.3,146.84 L581.8,146.86 L582.3,146.88 L582.8,146.9 L583.3,146.92 L583.8,146.94 L584.3,146.96 L584.8,146.98 L585.3,147 L585.8,147.02 L586.3,147.05 L586.8,147.07 L587.3,147.09 L587.8,147.11 L588.3,147.13 L588.8,147.15 L589.3,147.17 L589.8,147.19 L590.3,147.2 L590.8,147.2 L591.3,147.2 L591.8,147.2 L592.3,147.2 L592.8,147.2 L593.3,147.2 L593.8,147.2 L594.3,147.2 L594.8,147.2 L595.3,147.2 L595.8,147.2 L596.3,147.2 L596.8,147.2 L597.3,147.2 L597.8,147.2 L598.3,147.2 L598.8,147.2 L599.3,147.2 L599.8,147.2 L600.3,147.2 L600.8,147.2 L601.3,147.2 L601.8,147.2 L602.3,147.2 L602.8,147.2 L603.3,147.2 L603.8,147.2 L604.3,147.2 L604.8,147.2 L605.3,147.2 L605.8,147.2 L606.3,147.2 L606.8,147.2 L607.3,147.2 L607.8,147.2 L608.3,147.2 L608.8,147.2 L609.3,147.2 L609.8,147.2 L610.3,147.2 L610.8,147.2 L611.3,147.2 L611.8,147.2 L612.3,147.2 L612.8,147.2 L613.3,147.2 L613.8,147.2 L614.3,147.2 L614.8,147.2 L615.3,147.2 L615.8,147.2 L616.3,147.2 L616.8,147.2 L617.3,147.2 L617.8,147.2 L618.3,147.2 L618.8,147.2 L619.3,147.2 L619.8,147.2 L620.3,147.2 L620.8,147.2 L621.3,147.2 L621.8,147.2 L622.3,147.2 L622.8,147.2 L623.3,147.2 L623.8,147.2 L624.3,147.2 L624.8,147.2 L625.3,147.2 L625.8,147.2 L626.3,147.2 L626.8,147.2 L627.3,147.2 L627.8,147.2 L628.3,147.2 L628.8,147.2 L629.3,147.2 L629.8,147.2 L630.3,147.2 L630.3,147.7 Z" fill="#E8939C" stroke="#6E72D0" stroke-width="0.55"/>
<line x1="552" y1="146.7" x2="590" y2="146.9" stroke="rgba(120,140,60,0.45)" stroke-width="0.6"/>
<rect x="533.8" y="123.5" width="97" height="24.2" fill="none" stroke="#6a6a6a" stroke-width="0.85"/>
<text x="628.3" y="133.7" font-size="8.4" text-anchor="end" textLength="49.5" lengthAdjust="spacingAndGlyphs">miR-708-3p</text>
<path d="M534.3,175.6 L534.3,170.98 L534.8,170.69 L535.3,170.16 L535.8,169.76 L536.3,168.67 L536.8,168.01 L537.3,167.44 L537.8,166.53 L538.3,165.81 L538.8,164.65 L539.3,164.47 L539.8,162.96 L540.3,162.67 L540.8,161.81 L541.3,161.18 L541.8,160.1 L542.3,159.36 L542.8,158.85 L543.3,158.17 L543.8,157.2 L544.3,156.52 L544.8,156.49 L545.3,155.75 L545.8,155.1 L546.3,155.11 L546.8,155.48 L547.3,156.05 L547.8,156.18 L548.3,157.27 L548.8,158.39 L549.3,159.86 L549.8,161.78 L550.3,163.13 L550.8,164.32 L551.3,165.63 L551.8,166.42 L552.3,167.3 L552.8,168.14 L553.3,169.6 L553.8,169.92 L554.3,171.05 L554.8,171.43 L555.3,171.63 L555.8,172.68 L556.3,172.97 L556.8,172.47 L557.3,173.12 L557.8,173.23 L558.3,173.19 L558.8,173.28 L559.3,173.97 L559.8,173.73 L560.3,173.69 L560.8,173.69 L561.3,173.99 L561.8,173.7 L562.3,173.42 L562.8,173.98 L563.3,173.89 L563.8,174.32 L564.3,174.23 L564.8,173.93 L565.3,174.46 L565.8,173.78 L566.3,173.77 L566.8,174.52 L567.3,173.77 L567.8,174.3 L568.3,173.95 L568.8,173.98 L569.3,174.41 L569.8,174.09 L570.3,174.12 L570.8,174 L571.3,174.5 L571.8,174.3 L572.3,174.32 L572.8,174.33 L573.3,174.35 L573.8,174.36 L574.3,174.38 L574.8,174.39 L575.3,174.41 L575.8,174.44 L576.3,174.46 L576.8,174.48 L577.3,174.51 L577.8,174.53 L578.3,174.55 L578.8,174.58 L579.3,174.6 L579.8,174.62 L580.3,174.65 L580.8,174.67 L581.3,174.69 L581.8,174.72 L582.3,174.74 L582.8,174.76 L583.3,174.79 L583.8,174.81 L584.3,174.83 L584.8,174.86 L585.3,174.88 L585.8,174.9 L586.3,174.93 L586.8,174.95 L587.3,174.97 L587.8,175 L588.3,175.02 L588.8,175.04 L589.3,175.07 L589.8,175.09 L590.3,175.1 L590.8,175.1 L591.3,175.1 L591.8,175.1 L592.3,175.1 L592.8,175.1 L593.3,175.1 L593.8,175.1 L594.3,175.1 L594.8,175.1 L595.3,175.1 L595.8,175.1 L596.3,175.1 L596.8,175.1 L597.3,175.1 L597.8,175.1 L598.3,175.1 L598.8,175.1 L599.3,175.1 L599.8,175.1 L600.3,175.1 L600.8,175.1 L601.3,175.1 L601.8,175.1 L602.3,175.1 L602.8,175.1 L603.3,175.1 L603.8,175.1 L604.3,175.1 L604.8,175.1 L605.3,175.1 L605.8,175.1 L606.3,175.1 L606.8,175.1 L607.3,175.1 L607.8,175.1 L608.3,175.1 L608.8,175.1 L609.3,175.1 L609.8,175.1 L610.3,175.1 L610.8,175.1 L611.3,175.1 L611.8,175.1 L612.3,175.1 L612.8,175.1 L613.3,175.1 L613.8,175.1 L614.3,175.1 L614.8,175.1 L615.3,175.1 L615.8,175.1 L616.3,175.1 L616.8,175.1 L617.3,175.1 L617.8,175.1 L618.3,175.1 L618.8,175.1 L619.3,175.1 L619.8,175.1 L620.3,175.1 L620.8,175.1 L621.3,175.1 L621.8,175.1 L622.3,175.1 L622.8,175.1 L623.3,175.1 L623.8,175.1 L624.3,175.1 L624.8,175.1 L625.3,175.1 L625.8,175.1 L626.3,175.1 L626.8,175.1 L627.3,175.1 L627.8,175.1 L628.3,175.1 L628.8,175.1 L629.3,175.1 L629.8,175.1 L630.3,175.1 L630.3,175.6 Z" fill="#E8939C" stroke="#6E72D0" stroke-width="0.55"/>
<line x1="552" y1="174.6" x2="590" y2="174.8" stroke="rgba(120,140,60,0.45)" stroke-width="0.6"/>
<rect x="533.8" y="151.4" width="97" height="24.2" fill="none" stroke="#6a6a6a" stroke-width="0.85"/>
<text x="628.3" y="161.6" font-size="8.4" text-anchor="end" textLength="49.5" lengthAdjust="spacingAndGlyphs">miR-504-5p</text>
<path d="M534.3,204 L534.3,198.4 L534.8,197.58 L535.3,197.22 L535.8,196.72 L536.3,196.4 L536.8,195.31 L537.3,194.68 L537.8,193.6 L538.3,192.89 L538.8,192.24 L539.3,191.84 L539.8,190.67 L540.3,190.01 L540.8,189.79 L541.3,188.52 L541.8,188.11 L542.3,187.96 L542.8,186.61 L543.3,186.7 L543.8,185.9 L544.3,184.99 L544.8,184.57 L545.3,184.09 L545.8,183.48 L546.3,183.7 L546.8,184.26 L547.3,184.82 L547.8,185.81 L548.3,186.43 L548.8,187.59 L549.3,188.98 L549.8,190.11 L550.3,191.83 L550.8,193.29 L551.3,194.55 L551.8,195.26 L552.3,197.01 L552.8,197.6 L553.3,198.83 L553.8,199 L554.3,199.77 L554.8,200.19 L555.3,200.53 L555.8,200.8 L556.3,200.82 L556.8,201.31 L557.3,200.98 L557.8,201.75 L558.3,201.72 L558.8,201.99 L559.3,202.09 L559.8,201.6 L560.3,201.72 L560.8,202.24 L561.3,202.27 L561.8,202.1 L562.3,201.83 L562.8,201.8 L563.3,201.9 L563.8,202.07 L564.3,202.5 L564.8,202.31 L565.3,202.53 L565.8,202.26 L566.3,202.25 L566.8,202.59 L567.3,202.57 L567.8,202.11 L568.3,202.8 L568.8,202.12 L569.3,202.06 L569.8,202.02 L570.3,202.55 L570.8,202.41 L571.3,202.4 L571.8,202.37 L572.3,202.09 L572.8,202.37 L573.3,202.75 L573.8,202.27 L574.3,202.63 L574.8,202.55 L575.3,202.46 L575.8,203.14 L576.3,202.72 L576.8,202.74 L577.3,202.76 L577.8,202.79 L578.3,202.82 L578.8,202.85 L579.3,202.88 L579.8,202.91 L580.3,202.93 L580.8,202.96 L581.3,202.99 L581.8,203.02 L582.3,203.05 L582.8,203.08 L583.3,203.11 L583.8,203.14 L584.3,203.17 L584.8,203.2 L585.3,203.23 L585.8,203.25 L586.3,203.28 L586.8,203.31 L587.3,203.34 L587.8,203.37 L588.3,203.4 L588.8,203.43 L589.3,203.46 L589.8,203.49 L590.3,203.5 L590.8,203.5 L591.3,203.5 L591.8,203.5 L592.3,203.5 L592.8,203.5 L593.3,203.5 L593.8,203.5 L594.3,203.5 L594.8,203.5 L595.3,203.5 L595.8,203.5 L596.3,203.5 L596.8,203.5 L597.3,203.5 L597.8,203.5 L598.3,203.5 L598.8,203.5 L599.3,203.5 L599.8,203.5 L600.3,203.5 L600.8,203.5 L601.3,203.5 L601.8,203.5 L602.3,203.5 L602.8,203.5 L603.3,203.5 L603.8,203.5 L604.3,203.5 L604.8,203.5 L605.3,203.5 L605.8,203.5 L606.3,203.5 L606.8,203.5 L607.3,203.5 L607.8,203.5 L608.3,203.5 L608.8,203.5 L609.3,203.5 L609.8,203.5 L610.3,203.5 L610.8,203.5 L611.3,203.5 L611.8,203.5 L612.3,203.5 L612.8,203.5 L613.3,203.5 L613.8,203.5 L614.3,203.5 L614.8,203.5 L615.3,203.5 L615.8,203.5 L616.3,203.5 L616.8,203.5 L617.3,203.5 L617.8,203.5 L618.3,203.5 L618.8,203.5 L619.3,203.5 L619.8,203.5 L620.3,203.5 L620.8,203.5 L621.3,203.5 L621.8,203.5 L622.3,203.5 L622.8,203.5 L623.3,203.5 L623.8,203.5 L624.3,203.5 L624.8,203.5 L625.3,203.5 L625.8,203.5 L626.3,203.5 L626.8,203.5 L627.3,203.5 L627.8,203.5 L628.3,203.5 L628.8,203.5 L629.3,203.5 L629.8,203.5 L630.3,203.5 L630.3,204 Z" fill="#E8939C" stroke="#6E72D0" stroke-width="0.55"/>
<line x1="552" y1="203" x2="590" y2="203.2" stroke="rgba(120,140,60,0.45)" stroke-width="0.6"/>
<rect x="533.8" y="179.8" width="97" height="24.2" fill="none" stroke="#6a6a6a" stroke-width="0.85"/>
<text x="628.3" y="190" font-size="8.4" text-anchor="end" textLength="54.5" lengthAdjust="spacingAndGlyphs">miR-365a-5p</text>
<line x1="536.2" y1="206.9" x2="629.5" y2="206.9" stroke="#3a3a3a" stroke-width="1.4"/>
<text x="564.4" y="218.1" font-size="8.8" textLength="44.5" lengthAdjust="spacingAndGlyphs">PE-CD206</text>
<text x="0.8" y="244.4" font-size="14.3" fill="#000" font-weight="bold">D</text>
<line x1="50.9" y1="263.3" x2="50.9" y2="350.65" stroke="#1a1a1a" stroke-width="1.3"/>
<line x1="47.3" y1="350" x2="109.5" y2="350" stroke="#1a1a1a" stroke-width="1.3"/>
<line x1="47.3" y1="263.9" x2="50.9" y2="263.9" stroke="#1a1a1a" stroke-width="1.3"/>
<text x="45.3" y="266.2" font-size="8.8" text-anchor="end" textLength="12.3" lengthAdjust="spacingAndGlyphs">1.5</text>
<line x1="47.3" y1="292.8" x2="50.9" y2="292.8" stroke="#1a1a1a" stroke-width="1.3"/>
<text x="45.3" y="295.1" font-size="8.8" text-anchor="end" textLength="12.3" lengthAdjust="spacingAndGlyphs">1.0</text>
<line x1="47.3" y1="321.4" x2="50.9" y2="321.4" stroke="#1a1a1a" stroke-width="1.3"/>
<text x="45.3" y="323.7" font-size="8.8" text-anchor="end" textLength="12.3" lengthAdjust="spacingAndGlyphs">0.5</text>
<line x1="47.3" y1="350" x2="50.9" y2="350" stroke="#1a1a1a" stroke-width="1.3"/>
<text x="45.3" y="352.3" font-size="8.8" text-anchor="end" textLength="12.3" lengthAdjust="spacingAndGlyphs">0.0</text>
<rect x="60.6" y="292.8" width="17.8" height="57.2" fill="#E99AA2"/>
<line x1="69.25" y1="282.5" x2="69.25" y2="302.4" stroke="#1a1a1a" stroke-width="1.2"/>
<line x1="64.5" y1="282.5" x2="74" y2="282.5" stroke="#1a1a1a" stroke-width="1.2"/>
<line x1="64.5" y1="302.4" x2="74" y2="302.4" stroke="#1a1a1a" stroke-width="1.2"/>
<rect x="82" y="317.6" width="18" height="32.4" fill="#C8F2DE"/>
<line x1="90.65" y1="316.4" x2="90.65" y2="318.4" stroke="#1a1a1a" stroke-width="1.6"/>
<line x1="86.4" y1="316.4" x2="94.9" y2="316.4" stroke="#1a1a1a" stroke-width="1.6"/>
<line x1="86.4" y1="318.4" x2="94.9" y2="318.4" stroke="#1a1a1a" stroke-width="1.6"/>
<text x="90.7" y="317.2" font-size="9.5" text-anchor="middle" textLength="3.2" lengthAdjust="spacing">*</text>
<rect x="60.4" y="254.4" width="9.4" height="4.4" fill="#E99AA2"/>
<rect x="60.4" y="262.6" width="9.4" height="4.4" fill="#C8F2DE"/>
<text x="71.7" y="258.8" font-size="7.4" textLength="38" lengthAdjust="spacingAndGlyphs">Normol S.N</text>
<text x="71.7" y="266.9" font-size="7.4" textLength="41.2" lengthAdjust="spacingAndGlyphs">Exo-free S.N</text>
<text x="18.6" y="307.1" font-size="9.2" text-anchor="middle" textLength="67.4" lengthAdjust="spacingAndGlyphs" transform="rotate(-90 18.6 307.1)">Relative level of</text>
<text x="29.2" y="305" font-size="9.2" text-anchor="middle" textLength="50" lengthAdjust="spacingAndGlyphs" transform="rotate(-90 29.2 305)">miR-708-5p</text>
<text x="130.5" y="244.7" font-size="14.3" fill="#000" font-weight="bold">E</text>
<line x1="173.9" y1="262.5" x2="173.9" y2="349.65" stroke="#1a1a1a" stroke-width="1.3"/>
<line x1="170.3" y1="349" x2="230.4" y2="349" stroke="#1a1a1a" stroke-width="1.3"/>
<line x1="170.3" y1="263.1" x2="173.9" y2="263.1" stroke="#1a1a1a" stroke-width="1.3"/>
<text x="168.3" y="265.4" font-size="8.8" text-anchor="end">3</text>
<line x1="170.3" y1="291.7" x2="173.9" y2="291.7" stroke="#1a1a1a" stroke-width="1.3"/>
<text x="168.3" y="294" font-size="8.8" text-anchor="end">2</text>
<line x1="170.3" y1="320.4" x2="173.9" y2="320.4" stroke="#1a1a1a" stroke-width="1.3"/>
<text x="168.3" y="322.7" font-size="8.8" text-anchor="end">1</text>
<line x1="170.3" y1="349" x2="173.9" y2="349" stroke="#1a1a1a" stroke-width="1.3"/>
<text x="168.3" y="351.3" font-size="8.8" text-anchor="end">0</text>
<rect x="182.3" y="320.4" width="17.8" height="28.6" fill="#E99AA2"/>
<line x1="191.6" y1="318.9" x2="191.6" y2="322" stroke="#1a1a1a" stroke-width="1.2"/>
<line x1="187" y1="318.9" x2="196.2" y2="318.9" stroke="#1a1a1a" stroke-width="1.2"/>
<line x1="187" y1="322" x2="196.2" y2="322" stroke="#1a1a1a" stroke-width="1.2"/>
<rect x="204.1" y="286" width="17.8" height="63" fill="#C8F2DE"/>
<line x1="212.85" y1="277.5" x2="212.85" y2="295.2" stroke="#1a1a1a" stroke-width="1.2"/>
<line x1="208" y1="277.5" x2="217.7" y2="277.5" stroke="#1a1a1a" stroke-width="1.2"/>
<line x1="208" y1="295.2" x2="217.7" y2="295.2" stroke="#1a1a1a" stroke-width="1.2"/>
<text x="213.6" y="277.4" font-size="8.5" text-anchor="middle" textLength="7.4" lengthAdjust="spacing">**</text>
<rect x="189.6" y="254.4" width="9.7" height="4.2" fill="#E99AA2"/>
<rect x="189.6" y="262.6" width="9.7" height="4" fill="#C8F2DE"/>
<text x="201.5" y="258.7" font-size="7.2" textLength="13.2" lengthAdjust="spacingAndGlyphs">PBS</text>
<text x="201.5" y="266.7" font-size="7.2" textLength="12" lengthAdjust="spacingAndGlyphs">Exo</text>
<text x="142.8" y="307.1" font-size="9.2" text-anchor="middle" textLength="67" lengthAdjust="spacingAndGlyphs" transform="rotate(-90 142.8 307.1)">Relative level of</text>
<text x="154.2" y="304.3" font-size="9.2" text-anchor="middle" textLength="50.7" lengthAdjust="spacingAndGlyphs" transform="rotate(-90 154.2 304.3)">miR-708-5p</text>
<text x="177.3" y="361.1" font-size="9.2" textLength="50.4" lengthAdjust="spacingAndGlyphs">THP-1 (M&#968;)</text>
<line x1="286" y1="260.8" x2="286" y2="348.25" stroke="#1a1a1a" stroke-width="1.3"/>
<line x1="282.4" y1="347.6" x2="343.9" y2="347.6" stroke="#1a1a1a" stroke-width="1.3"/>
<line x1="282.4" y1="261.4" x2="286" y2="261.4" stroke="#1a1a1a" stroke-width="1.3"/>
<text x="280.4" y="263.7" font-size="8.8" text-anchor="end" textLength="12.2" lengthAdjust="spacingAndGlyphs">2.5</text>
<line x1="282.4" y1="278.6" x2="286" y2="278.6" stroke="#1a1a1a" stroke-width="1.3"/>
<text x="280.4" y="280.9" font-size="8.8" text-anchor="end" textLength="12.2" lengthAdjust="spacingAndGlyphs">2.0</text>
<line x1="282.4" y1="295.9" x2="286" y2="295.9" stroke="#1a1a1a" stroke-width="1.3"/>
<text x="280.4" y="298.2" font-size="8.8" text-anchor="end" textLength="12.2" lengthAdjust="spacingAndGlyphs">1.5</text>
<line x1="282.4" y1="313.1" x2="286" y2="313.1" stroke="#1a1a1a" stroke-width="1.3"/>
<text x="280.4" y="315.4" font-size="8.8" text-anchor="end" textLength="12.2" lengthAdjust="spacingAndGlyphs">1.0</text>
<line x1="282.4" y1="330.4" x2="286" y2="330.4" stroke="#1a1a1a" stroke-width="1.3"/>
<text x="280.4" y="332.7" font-size="8.8" text-anchor="end" textLength="12.2" lengthAdjust="spacingAndGlyphs">0.5</text>
<line x1="282.4" y1="347.6" x2="286" y2="347.6" stroke="#1a1a1a" stroke-width="1.3"/>
<text x="280.4" y="349.9" font-size="8.8" text-anchor="end" textLength="12.2" lengthAdjust="spacingAndGlyphs">0.0</text>
<rect x="295.9" y="313.1" width="18.2" height="34.5" fill="#E99AA2"/>
<line x1="304.75" y1="305.5" x2="304.75" y2="320.7" stroke="#1a1a1a" stroke-width="1.2"/>
<line x1="299.8" y1="305.5" x2="309.7" y2="305.5" stroke="#1a1a1a" stroke-width="1.2"/>
<line x1="299.8" y1="320.7" x2="309.7" y2="320.7" stroke="#1a1a1a" stroke-width="1.2"/>
<rect x="317.3" y="285" width="18" height="62.6" fill="#C8F2DE"/>
<line x1="326.6" y1="281.4" x2="326.6" y2="288.4" stroke="#1a1a1a" stroke-width="1.2"/>
<line x1="321.7" y1="281.4" x2="331.5" y2="281.4" stroke="#1a1a1a" stroke-width="1.2"/>
<line x1="321.7" y1="288.4" x2="331.5" y2="288.4" stroke="#1a1a1a" stroke-width="1.2"/>
<text x="326.5" y="279.6" font-size="8.5" text-anchor="middle" textLength="7.4" lengthAdjust="spacing">**</text>
<rect x="304.4" y="254.2" width="9.5" height="4.8" fill="#E99AA2"/>
<rect x="304.4" y="262.4" width="9.5" height="4.2" fill="#C8F2DE"/>
<text x="315.8" y="259" font-size="7.2" textLength="13.2" lengthAdjust="spacingAndGlyphs">PBS</text>
<text x="315.8" y="266.8" font-size="7.2" textLength="12" lengthAdjust="spacingAndGlyphs">Exo</text>
<text x="249.3" y="304.5" font-size="9.2" text-anchor="middle" textLength="66.4" lengthAdjust="spacingAndGlyphs" transform="rotate(-90 249.3 304.5)">Relative level of</text>
<text x="260.4" y="303.6" font-size="9.2" text-anchor="middle" textLength="49.4" lengthAdjust="spacingAndGlyphs" transform="rotate(-90 260.4 303.6)">miR-708-5p</text>
<text x="281.6" y="358.6" font-size="9.2" textLength="61.9" lengthAdjust="spacingAndGlyphs">PBMC-derived</text>
<text x="281.6" y="370" font-size="9.2" textLength="52.8" lengthAdjust="spacingAndGlyphs">macrophage</text>
<text x="349.8" y="244.4" font-size="14.3" fill="#000" font-weight="bold">F</text>
<line x1="405.3" y1="260.9" x2="405.3" y2="348.05" stroke="#1a1a1a" stroke-width="1.3"/>
<line x1="401.7" y1="347.4" x2="491.9" y2="347.4" stroke="#1a1a1a" stroke-width="1.3"/>
<line x1="401.7" y1="261.5" x2="405.3" y2="261.5" stroke="#1a1a1a" stroke-width="1.3"/>
<text x="399.7" y="263.8" font-size="8.8" text-anchor="end" textLength="13.1" lengthAdjust="spacingAndGlyphs">1.5</text>
<line x1="401.7" y1="290.1" x2="405.3" y2="290.1" stroke="#1a1a1a" stroke-width="1.3"/>
<text x="399.7" y="292.4" font-size="8.8" text-anchor="end" textLength="13.1" lengthAdjust="spacingAndGlyphs">1.0</text>
<line x1="401.7" y1="318.8" x2="405.3" y2="318.8" stroke="#1a1a1a" stroke-width="1.3"/>
<text x="399.7" y="321.1" font-size="8.8" text-anchor="end" textLength="13.1" lengthAdjust="spacingAndGlyphs">0.5</text>
<line x1="401.7" y1="347.4" x2="405.3" y2="347.4" stroke="#1a1a1a" stroke-width="1.3"/>
<text x="399.7" y="349.7" font-size="8.8" text-anchor="end" textLength="13.1" lengthAdjust="spacingAndGlyphs">0.0</text>
<line x1="427.6" y1="347.4" x2="427.6" y2="350.6" stroke="#1a1a1a" stroke-width="1.2"/>
<line x1="472.8" y1="347.4" x2="472.8" y2="350.6" stroke="#1a1a1a" stroke-width="1.2"/>
<rect x="412.5" y="290.3" width="12.6" height="57.1" fill="#E99AA2"/>
<line x1="418.9" y1="290" x2="418.9" y2="290.6" stroke="#1a1a1a" stroke-width="1.3"/>
<line x1="415.8" y1="290" x2="422" y2="290" stroke="#1a1a1a" stroke-width="1.3"/>
<line x1="415.8" y1="290.6" x2="422" y2="290.6" stroke="#1a1a1a" stroke-width="1.3"/>
<rect x="427.6" y="286.3" width="13.4" height="61.1" fill="#C8F2DE"/>
<line x1="434.65" y1="284.6" x2="434.65" y2="287.8" stroke="#1a1a1a" stroke-width="1.2"/>
<line x1="431.3" y1="284.6" x2="438" y2="284.6" stroke="#1a1a1a" stroke-width="1.2"/>
<line x1="431.3" y1="287.8" x2="438" y2="287.8" stroke="#1a1a1a" stroke-width="1.2"/>
<rect x="457.2" y="290.3" width="12.6" height="57.1" fill="#E99AA2"/>
<line x1="463.75" y1="284.6" x2="463.75" y2="295.7" stroke="#1a1a1a" stroke-width="1.2"/>
<line x1="460.4" y1="284.6" x2="467.1" y2="284.6" stroke="#1a1a1a" stroke-width="1.2"/>
<line x1="460.4" y1="295.7" x2="467.1" y2="295.7" stroke="#1a1a1a" stroke-width="1.2"/>
<rect x="472.3" y="297" width="12.9" height="50.4" fill="#C8F2DE"/>
<line x1="478.65" y1="295.2" x2="478.65" y2="299" stroke="#1a1a1a" stroke-width="1.2"/>
<line x1="475.3" y1="295.2" x2="482" y2="295.2" stroke="#1a1a1a" stroke-width="1.2"/>
<line x1="475.3" y1="299" x2="482" y2="299" stroke="#1a1a1a" stroke-width="1.2"/>
<text x="426.9" y="280.1" font-size="8.8" textLength="18.1" lengthAdjust="spacingAndGlyphs">N.S.</text>
<text x="471" y="290" font-size="8.8" textLength="18.4" lengthAdjust="spacingAndGlyphs">N.S.</text>
<rect x="469.6" y="255.3" width="9.9" height="4.4" fill="#E99AA2"/>
<rect x="469.6" y="263.5" width="9.9" height="4.2" fill="#C8F2DE"/>
<text x="481.5" y="259.8" font-size="7.2" textLength="13.5" lengthAdjust="spacingAndGlyphs">PBS</text>
<text x="481.5" y="267.8" font-size="7.2" textLength="12.2" lengthAdjust="spacingAndGlyphs">Exo</text>
<text x="427.6" y="360.3" font-size="9" text-anchor="middle">pri</text>
<text x="472.8" y="360.3" font-size="9" text-anchor="middle">pre</text>
<text x="370.6" y="304.7" font-size="9.2" text-anchor="middle" textLength="64" lengthAdjust="spacingAndGlyphs" transform="rotate(-90 370.6 304.7)">Relative pri/pre</text>
<text x="382.9" y="303.2" font-size="9.2" text-anchor="middle" textLength="72" lengthAdjust="spacingAndGlyphs" transform="rotate(-90 382.9 303.2)">miR-708-5p level</text>
<text x="501.5" y="244.9" font-size="14.3" fill="#000" font-weight="bold">G</text>
<text x="527" y="253.5" font-size="8.8" textLength="71.2" lengthAdjust="spacingAndGlyphs">Cy3-miR-708-5p</text>
<text x="562.6" y="264.3" font-size="8.8" text-anchor="middle" textLength="30.5" lengthAdjust="spacingAndGlyphs">+DMSO</text>
<text x="613.8" y="253.5" font-size="8.8" textLength="70.3" lengthAdjust="spacingAndGlyphs">Cy3-miR-708-5p</text>
<text x="648.4" y="264.3" font-size="8.8" text-anchor="middle" textLength="41" lengthAdjust="spacingAndGlyphs">+GW4869</text>
<text x="520.2" y="309.4" font-size="8.8" text-anchor="middle" transform="rotate(-90 520.2 309.4)" textLength="84.6" lengthAdjust="spacingAndGlyphs"><tspan fill="#4a5fd8">DAPI</tspan><tspan fill="#1a1a1a">/</tspan><tspan fill="#5ec24a">Phalloidin</tspan><tspan fill="#1a1a1a">/</tspan><tspan fill="#e0302a">Cy3</tspan></text>
<defs><radialGradient id="nuc" cx="50%" cy="50%" r="50%"><stop offset="0" stop-color="#4a4ad8"/><stop offset="0.7" stop-color="#3535b0"/><stop offset="1" stop-color="#1c1c6a"/></radialGradient><clipPath id="g1"><rect x="526.2" y="270.1" width="77.2" height="76.9"/></clipPath><clipPath id="g2"><rect x="605.2" y="270.1" width="77.3" height="76.9"/></clipPath><filter id="blur1" x="-20%" y="-20%" width="140%" height="140%"><feGaussianBlur stdDeviation="0.5"/></filter></defs>
<rect x="526.2" y="270.1" width="77.2" height="76.9" fill="#0b0d0b"/>
<rect x="605.2" y="270.1" width="77.3" height="76.9" fill="#0b0d0b"/>
<g clip-path="url(#g1)"><g filter="url(#blur1)">
<circle cx="528.5" cy="277.93" r="3.5" fill="#0c120d" stroke="#2e8a32" stroke-width="0.75" stroke-dasharray="4.68,0.97,3.49,1.43" opacity="0.85"/>
<g transform="rotate(7 528.76 278.37)">
<ellipse cx="528.76" cy="278.37" rx="2.81" ry="2.36" fill="#262a82"/>
<ellipse cx="527.88" cy="278.02" rx="1.33" ry="1.05" fill="#3034a2" opacity="0.7"/>
<ellipse cx="529.81" cy="278.55" rx="0.49" ry="1.12" fill="#14163c" opacity="0.55"/>
</g>
<circle cx="541.93" cy="282.6" r="5.26" fill="#0c120d" stroke="#2e8a32" stroke-width="0.75" stroke-dasharray="3.37,0.35,1.89,0.75" opacity="0.85"/>
<g transform="rotate(26 542.52 282.41)">
<ellipse cx="542.52" cy="282.41" rx="4.04" ry="3.06" fill="#262a82"/>
<ellipse cx="541.2" cy="281.88" rx="2" ry="1.58" fill="#3034a2" opacity="0.7"/>
<ellipse cx="544.09" cy="282.67" rx="0.74" ry="1.68" fill="#14163c" opacity="0.55"/>
</g>
<circle cx="550.11" cy="276.18" r="4.67" fill="#0c120d" stroke="#2e8a32" stroke-width="0.75" stroke-dasharray="3.26,0.55,3.79,1.22" opacity="0.85"/>
<g transform="rotate(35 549.63 276.59)">
<ellipse cx="549.63" cy="276.59" rx="3.62" ry="2.96" fill="#262a82"/>
<ellipse cx="548.46" cy="276.12" rx="1.78" ry="1.4" fill="#3034a2" opacity="0.7"/>
<ellipse cx="551.03" cy="276.83" rx="0.65" ry="1.49" fill="#14163c" opacity="0.55"/>
</g>
<circle cx="559.45" cy="274.42" r="4.09" fill="#0c120d" stroke="#2e8a32" stroke-width="0.75" stroke-dasharray="2.96,1.18,1.51,1.23" opacity="0.85"/>
<g transform="rotate(42 560.02 274.01)">
<ellipse cx="560.02" cy="274.01" rx="3" ry="2.84" fill="#262a82"/>
<ellipse cx="558.99" cy="273.6" rx="1.55" ry="1.23" fill="#3034a2" opacity="0.7"/>
<ellipse cx="561.24" cy="274.22" rx="0.57" ry="1.31" fill="#14163c" opacity="0.55"/>
</g>
<circle cx="573.47" cy="276.18" r="3.5" fill="#0c120d" stroke="#2e8a32" stroke-width="0.75" stroke-dasharray="4.39,0.91,2.01,1.43" opacity="0.85"/>
<g transform="rotate(98 573.67 276.67)">
<ellipse cx="573.67" cy="276.67" rx="2.58" ry="2.18" fill="#262a82"/>
<ellipse cx="572.79" cy="276.32" rx="1.33" ry="1.05" fill="#3034a2" opacity="0.7"/>
<ellipse cx="574.72" cy="276.84" rx="0.49" ry="1.12" fill="#14163c" opacity="0.55"/>
</g>
<circle cx="601.5" cy="278.51" r="3.5" fill="#0c120d" stroke="#2e8a32" stroke-width="0.75" stroke-dasharray="3.08,0.43,1.66,0.66" opacity="0.85"/>
<g transform="rotate(173 601.6 277.99)">
<ellipse cx="601.6" cy="277.99" rx="2.75" ry="2.06" fill="#262a82"/>
<ellipse cx="600.73" cy="277.64" rx="1.33" ry="1.05" fill="#3034a2" opacity="0.7"/>
<ellipse cx="602.66" cy="278.16" rx="0.49" ry="1.12" fill="#14163c" opacity="0.55"/>
</g>
<circle cx="599.16" cy="288.44" r="3.5" fill="#0c120d" stroke="#2e8a32" stroke-width="0.75" stroke-dasharray="3.74,0.58,3.24,0.52" opacity="0.85"/>
<g transform="rotate(65 599.13 288.1)">
<ellipse cx="599.13" cy="288.1" rx="2.86" ry="2.04" fill="#262a82"/>
<ellipse cx="598.26" cy="287.75" rx="1.33" ry="1.05" fill="#3034a2" opacity="0.7"/>
<ellipse cx="600.18" cy="288.27" rx="0.49" ry="1.12" fill="#14163c" opacity="0.55"/>
</g>
<circle cx="532.59" cy="298.95" r="4.09" fill="#0c120d" stroke="#2e8a32" stroke-width="0.75" stroke-dasharray="5.12,1.06,1.55,1.25" opacity="0.85"/>
<g transform="rotate(2 532.43 299.05)">
<ellipse cx="532.43" cy="299.05" rx="3.08" ry="2.72" fill="#262a82"/>
<ellipse cx="531.41" cy="298.64" rx="1.55" ry="1.23" fill="#3034a2" opacity="0.7"/>
<ellipse cx="533.65" cy="299.25" rx="0.57" ry="1.31" fill="#14163c" opacity="0.55"/>
</g>
<circle cx="542.52" cy="298.36" r="4.44" fill="#0c120d" stroke="#2e8a32" stroke-width="0.75" stroke-dasharray="4.68,1.16,1.8,0.6" opacity="0.85"/>
<g transform="rotate(131 542.94 298.31)">
<ellipse cx="542.94" cy="298.31" rx="3.3" ry="2.85" fill="#262a82"/>
<ellipse cx="541.83" cy="297.87" rx="1.69" ry="1.33" fill="#3034a2" opacity="0.7"/>
<ellipse cx="544.28" cy="298.54" rx="0.62" ry="1.42" fill="#14163c" opacity="0.55"/>
</g>
<circle cx="557.12" cy="296.61" r="4.44" fill="#0c120d" stroke="#2e8a32" stroke-width="0.75" stroke-dasharray="5.21,0.4,3.37,1.26" opacity="0.85"/>
<g transform="rotate(23 557.6 296)">
<ellipse cx="557.6" cy="296" rx="3.22" ry="2.85" fill="#262a82"/>
<ellipse cx="556.49" cy="295.55" rx="1.69" ry="1.33" fill="#3034a2" opacity="0.7"/>
<ellipse cx="558.93" cy="296.22" rx="0.62" ry="1.42" fill="#14163c" opacity="0.55"/>
</g>
<circle cx="565.88" cy="296.03" r="4.09" fill="#0c120d" stroke="#2e8a32" stroke-width="0.75" stroke-dasharray="3.77,0.43,2.19,1.14" opacity="0.85"/>
<g transform="rotate(78 565.38 296.26)">
<ellipse cx="565.38" cy="296.26" rx="2.95" ry="2.41" fill="#262a82"/>
<ellipse cx="564.35" cy="295.85" rx="1.55" ry="1.23" fill="#3034a2" opacity="0.7"/>
<ellipse cx="566.6" cy="296.46" rx="0.57" ry="1.31" fill="#14163c" opacity="0.55"/>
</g>
<circle cx="540.18" cy="310.63" r="5.26" fill="#0c120d" stroke="#2e8a32" stroke-width="0.75" stroke-dasharray="3.02,0.92,3.99,0.49" opacity="0.85"/>
<g transform="rotate(136 539.47 311.4)">
<ellipse cx="539.47" cy="311.4" rx="4.26" ry="3.07" fill="#262a82"/>
<ellipse cx="538.16" cy="310.87" rx="2" ry="1.58" fill="#3034a2" opacity="0.7"/>
<ellipse cx="541.05" cy="311.66" rx="0.74" ry="1.68" fill="#14163c" opacity="0.55"/>
</g>
<circle cx="574.05" cy="308.29" r="4.67" fill="#0c120d" stroke="#2e8a32" stroke-width="0.75" stroke-dasharray="5.09,0.61,2.13,1.08" opacity="0.85"/>
<g transform="rotate(163 573.55 308.96)">
<ellipse cx="573.55" cy="308.96" rx="3.29" ry="2.99" fill="#262a82"/>
<ellipse cx="572.39" cy="308.5" rx="1.78" ry="1.4" fill="#3034a2" opacity="0.7"/>
<ellipse cx="574.96" cy="309.2" rx="0.65" ry="1.49" fill="#14163c" opacity="0.55"/>
</g>
<circle cx="578.14" cy="315.3" r="4.09" fill="#0c120d" stroke="#2e8a32" stroke-width="0.75" stroke-dasharray="5.43,0.42,3.33,1.44" opacity="0.85"/>
<g transform="rotate(27 578.3 315.65)">
<ellipse cx="578.3" cy="315.65" rx="2.94" ry="2.55" fill="#262a82"/>
<ellipse cx="577.28" cy="315.24" rx="1.55" ry="1.23" fill="#3034a2" opacity="0.7"/>
<ellipse cx="579.52" cy="315.86" rx="0.57" ry="1.31" fill="#14163c" opacity="0.55"/>
</g>
<circle cx="589.82" cy="314.13" r="4.44" fill="#0c120d" stroke="#2e8a32" stroke-width="0.75" stroke-dasharray="2.71,0.68,1.85,1.41" opacity="0.85"/>
<g transform="rotate(133 589.98 313.69)">
<ellipse cx="589.98" cy="313.69" rx="3.35" ry="2.83" fill="#262a82"/>
<ellipse cx="588.87" cy="313.25" rx="1.69" ry="1.33" fill="#3034a2" opacity="0.7"/>
<ellipse cx="591.31" cy="313.91" rx="0.62" ry="1.42" fill="#14163c" opacity="0.55"/>
</g>
<circle cx="600.91" cy="315.88" r="4.09" fill="#0c120d" stroke="#2e8a32" stroke-width="0.75" stroke-dasharray="5.05,0.73,2.23,0.78" opacity="0.85"/>
<g transform="rotate(136 600.48 315.73)">
<ellipse cx="600.48" cy="315.73" rx="3.33" ry="2.68" fill="#262a82"/>
<ellipse cx="599.46" cy="315.32" rx="1.55" ry="1.23" fill="#3034a2" opacity="0.7"/>
<ellipse cx="601.71" cy="315.94" rx="0.57" ry="1.31" fill="#14163c" opacity="0.55"/>
</g>
<circle cx="533.76" cy="319.97" r="4.44" fill="#0c120d" stroke="#2e8a32" stroke-width="0.75" stroke-dasharray="4.25,0.6,1.72,0.63" opacity="0.85"/>
<g transform="rotate(92 534.13 320.46)">
<ellipse cx="534.13" cy="320.46" rx="3.14" ry="3" fill="#262a82"/>
<ellipse cx="533.03" cy="320.02" rx="1.69" ry="1.33" fill="#3034a2" opacity="0.7"/>
<ellipse cx="535.47" cy="320.68" rx="0.62" ry="1.42" fill="#14163c" opacity="0.55"/>
</g>
<circle cx="546.61" cy="329.31" r="3.5" fill="#0c120d" stroke="#2e8a32" stroke-width="0.75" stroke-dasharray="3.74,0.83,1.59,0.67" opacity="0.85"/>
<g transform="rotate(124 546.67 329.49)">
<ellipse cx="546.67" cy="329.49" rx="2.56" ry="2.44" fill="#262a82"/>
<ellipse cx="545.79" cy="329.14" rx="1.33" ry="1.05" fill="#3034a2" opacity="0.7"/>
<ellipse cx="547.72" cy="329.67" rx="0.49" ry="1.12" fill="#14163c" opacity="0.55"/>
</g>
<circle cx="567.63" cy="327.56" r="4.44" fill="#0c120d" stroke="#2e8a32" stroke-width="0.75" stroke-dasharray="5.01,1.16,2.35,0.51" opacity="0.85"/>
<g transform="rotate(64 568.1 327.53)">
<ellipse cx="568.1" cy="327.53" rx="3.28" ry="2.72" fill="#262a82"/>
<ellipse cx="566.99" cy="327.08" rx="1.69" ry="1.33" fill="#3034a2" opacity="0.7"/>
<ellipse cx="569.43" cy="327.75" rx="0.62" ry="1.42" fill="#14163c" opacity="0.55"/>
</g>
<circle cx="554.78" cy="340.99" r="4.44" fill="#0c120d" stroke="#2e8a32" stroke-width="0.75" stroke-dasharray="3.51,0.75,3.18,0.73" opacity="0.85"/>
<g transform="rotate(104 554.48 340.79)">
<ellipse cx="554.48" cy="340.79" rx="3.29" ry="3.02" fill="#262a82"/>
<ellipse cx="553.37" cy="340.34" rx="1.69" ry="1.33" fill="#3034a2" opacity="0.7"/>
<ellipse cx="555.81" cy="341.01" rx="0.62" ry="1.42" fill="#14163c" opacity="0.55"/>
</g>
<circle cx="564.12" cy="344.5" r="2.92" fill="#0c120d" stroke="#2e8a32" stroke-width="0.75" stroke-dasharray="5.54,0.92,3.94,1.45" opacity="0.85"/>
<g transform="rotate(42 564.14 344.52)">
<ellipse cx="564.14" cy="344.52" rx="2.11" ry="1.82" fill="#262a82"/>
<ellipse cx="563.41" cy="344.23" rx="1.11" ry="0.88" fill="#3034a2" opacity="0.7"/>
<ellipse cx="565.02" cy="344.67" rx="0.41" ry="0.93" fill="#14163c" opacity="0.55"/>
</g>
<circle cx="581.06" cy="342.74" r="4.09" fill="#0c120d" stroke="#2e8a32" stroke-width="0.75" stroke-dasharray="5.49,0.55,1.7,1.11" opacity="0.85"/>
<g transform="rotate(148 580.96 342.89)">
<ellipse cx="580.96" cy="342.89" rx="3.11" ry="2.83" fill="#262a82"/>
<ellipse cx="579.93" cy="342.48" rx="1.55" ry="1.23" fill="#3034a2" opacity="0.7"/>
<ellipse cx="582.18" cy="343.09" rx="0.57" ry="1.31" fill="#14163c" opacity="0.55"/>
</g>
<circle cx="572.88" cy="346.25" r="2.92" fill="#0c120d" stroke="#2e8a32" stroke-width="0.75" stroke-dasharray="3.56,0.8,3.67,0.62" opacity="0.85"/>
<g transform="rotate(150 573.32 345.98)">
<ellipse cx="573.32" cy="345.98" rx="2.2" ry="1.92" fill="#262a82"/>
<ellipse cx="572.59" cy="345.69" rx="1.11" ry="0.88" fill="#3034a2" opacity="0.7"/>
<ellipse cx="574.19" cy="346.13" rx="0.41" ry="0.93" fill="#14163c" opacity="0.55"/>
</g>
<circle cx="565.29" cy="297.43" r="0.75" fill="#d83028"/>
<circle cx="589.23" cy="313.78" r="0.75" fill="#d83028"/>
<circle cx="534.34" cy="324.06" r="0.75" fill="#d83028"/>
<circle cx="574.64" cy="315.88" r="0.75" fill="#d83028"/>
<circle cx="599.74" cy="291.94" r="0.75" fill="#d83028"/>
<circle cx="527.13" cy="274.7" r="0.7" fill="#4cc040"/>
<circle cx="545.51" cy="277.01" r="0.7" fill="#4cc040"/>
<circle cx="563.31" cy="275.79" r="0.7" fill="#4cc040"/>
<circle cx="572.03" cy="279.37" r="0.7" fill="#4cc040"/>
<circle cx="602.72" cy="281.8" r="0.7" fill="#4cc040"/>
<circle cx="595.74" cy="289.2" r="0.7" fill="#4cc040"/>
<circle cx="569.23" cy="293.69" r="0.7" fill="#4cc040"/>
<circle cx="535.83" cy="313.57" r="0.7" fill="#4cc040"/>
<circle cx="570.11" cy="310.79" r="0.7" fill="#4cc040"/>
<circle cx="580.14" cy="311.73" r="0.7" fill="#4cc040"/>
<circle cx="597.82" cy="313.21" r="0.7" fill="#4cc040"/>
<circle cx="529.5" cy="318.73" r="0.7" fill="#4cc040"/>
</g></g>
<g clip-path="url(#g2)"><g filter="url(#blur1)">
<circle cx="638.45" cy="282.01" r="4.09" fill="#0c120d" stroke="#2e8a32" stroke-width="0.75" stroke-dasharray="4.12,0.64,1.85,1.34" opacity="0.85"/>
<g transform="rotate(154 637.85 282.02)">
<ellipse cx="637.85" cy="282.02" rx="2.9" ry="2.64" fill="#262a82"/>
<ellipse cx="636.83" cy="281.61" rx="1.55" ry="1.23" fill="#3034a2" opacity="0.7"/>
<ellipse cx="639.07" cy="282.22" rx="0.57" ry="1.31" fill="#14163c" opacity="0.55"/>
</g>
<circle cx="651.3" cy="284.35" r="4.67" fill="#0c120d" stroke="#2e8a32" stroke-width="0.75" stroke-dasharray="4.66,0.34,2.45,1.14" opacity="0.85"/>
<g transform="rotate(40 651.23 284.67)">
<ellipse cx="651.23" cy="284.67" rx="3.36" ry="2.74" fill="#262a82"/>
<ellipse cx="650.06" cy="284.2" rx="1.78" ry="1.4" fill="#3034a2" opacity="0.7"/>
<ellipse cx="652.63" cy="284.9" rx="0.65" ry="1.49" fill="#14163c" opacity="0.55"/>
</g>
<circle cx="662.98" cy="282.6" r="5.26" fill="#0c120d" stroke="#2e8a32" stroke-width="0.75" stroke-dasharray="2.96,1.08,3.98,0.38" opacity="0.85"/>
<g transform="rotate(26 663.28 283.06)">
<ellipse cx="663.28" cy="283.06" rx="4.26" ry="3.18" fill="#262a82"/>
<ellipse cx="661.96" cy="282.53" rx="2" ry="1.58" fill="#3034a2" opacity="0.7"/>
<ellipse cx="664.85" cy="283.32" rx="0.74" ry="1.68" fill="#14163c" opacity="0.55"/>
</g>
<circle cx="620.93" cy="292.53" r="5.26" fill="#0c120d" stroke="#2e8a32" stroke-width="0.75" stroke-dasharray="3.29,1.01,3.72,1.23" opacity="0.85"/>
<g transform="rotate(87 621.58 292.36)">
<ellipse cx="621.58" cy="292.36" rx="4.19" ry="3.17" fill="#262a82"/>
<ellipse cx="620.27" cy="291.84" rx="2" ry="1.58" fill="#3034a2" opacity="0.7"/>
<ellipse cx="623.16" cy="292.63" rx="0.74" ry="1.68" fill="#14163c" opacity="0.55"/>
</g>
<circle cx="644.29" cy="296.03" r="4.91" fill="#0c120d" stroke="#2e8a32" stroke-width="0.75" stroke-dasharray="5.6,1.09,1.64,0.75" opacity="0.85"/>
<g transform="rotate(108 644.28 295.33)">
<ellipse cx="644.28" cy="295.33" rx="3.87" ry="3.35" fill="#262a82"/>
<ellipse cx="643.05" cy="294.84" rx="1.86" ry="1.47" fill="#3034a2" opacity="0.7"/>
<ellipse cx="645.75" cy="295.57" rx="0.69" ry="1.57" fill="#14163c" opacity="0.55"/>
</g>
<circle cx="655.39" cy="293.11" r="4.09" fill="#0c120d" stroke="#2e8a32" stroke-width="0.75" stroke-dasharray="5.87,0.3,3.41,0.54" opacity="0.85"/>
<g transform="rotate(21 655.82 292.9)">
<ellipse cx="655.82" cy="292.9" rx="2.93" ry="2.82" fill="#262a82"/>
<ellipse cx="654.8" cy="292.49" rx="1.55" ry="1.23" fill="#3034a2" opacity="0.7"/>
<ellipse cx="657.05" cy="293.11" rx="0.57" ry="1.31" fill="#14163c" opacity="0.55"/>
</g>
<circle cx="635.53" cy="300.7" r="4.44" fill="#0c120d" stroke="#2e8a32" stroke-width="0.75" stroke-dasharray="4.25,0.82,2.84,0.54" opacity="0.85"/>
<g transform="rotate(23 634.96 300.29)">
<ellipse cx="634.96" cy="300.29" rx="3.48" ry="2.65" fill="#262a82"/>
<ellipse cx="633.85" cy="299.85" rx="1.69" ry="1.33" fill="#3034a2" opacity="0.7"/>
<ellipse cx="636.29" cy="300.51" rx="0.62" ry="1.42" fill="#14163c" opacity="0.55"/>
</g>
<circle cx="653.05" cy="308.29" r="4.67" fill="#0c120d" stroke="#2e8a32" stroke-width="0.75" stroke-dasharray="5.79,0.95,1.6,0.62" opacity="0.85"/>
<g transform="rotate(68 653.31 308.79)">
<ellipse cx="653.31" cy="308.79" rx="3.68" ry="3.03" fill="#262a82"/>
<ellipse cx="652.14" cy="308.32" rx="1.78" ry="1.4" fill="#3034a2" opacity="0.7"/>
<ellipse cx="654.71" cy="309.02" rx="0.65" ry="1.49" fill="#14163c" opacity="0.55"/>
</g>
<circle cx="662.98" cy="312.38" r="4.67" fill="#0c120d" stroke="#2e8a32" stroke-width="0.75" stroke-dasharray="2.62,1.08,2.51,1.39" opacity="0.85"/>
<g transform="rotate(93 662.5 312.39)">
<ellipse cx="662.5" cy="312.39" rx="3.74" ry="3" fill="#262a82"/>
<ellipse cx="661.34" cy="311.92" rx="1.78" ry="1.4" fill="#3034a2" opacity="0.7"/>
<ellipse cx="663.91" cy="312.62" rx="0.65" ry="1.49" fill="#14163c" opacity="0.55"/>
</g>
<circle cx="636.12" cy="318.22" r="4.44" fill="#0c120d" stroke="#2e8a32" stroke-width="0.75" stroke-dasharray="4.48,0.92,3.67,0.43" opacity="0.85"/>
<g transform="rotate(53 636.62 318.04)">
<ellipse cx="636.62" cy="318.04" rx="3.32" ry="3.1" fill="#262a82"/>
<ellipse cx="635.52" cy="317.6" rx="1.69" ry="1.33" fill="#3034a2" opacity="0.7"/>
<ellipse cx="637.96" cy="318.26" rx="0.62" ry="1.42" fill="#14163c" opacity="0.55"/>
</g>
<circle cx="629.11" cy="324.64" r="4.91" fill="#0c120d" stroke="#2e8a32" stroke-width="0.75" stroke-dasharray="4.51,0.32,3.5,0.69" opacity="0.85"/>
<g transform="rotate(113 629.01 324.22)">
<ellipse cx="629.01" cy="324.22" rx="3.59" ry="3.32" fill="#262a82"/>
<ellipse cx="627.79" cy="323.73" rx="1.86" ry="1.47" fill="#3034a2" opacity="0.7"/>
<ellipse cx="630.48" cy="324.47" rx="0.69" ry="1.57" fill="#14163c" opacity="0.55"/>
</g>
<circle cx="657.14" cy="324.64" r="4.91" fill="#0c120d" stroke="#2e8a32" stroke-width="0.75" stroke-dasharray="3.58,0.56,2.79,0.37" opacity="0.85"/>
<g transform="rotate(109 656.96 324.73)">
<ellipse cx="656.96" cy="324.73" rx="3.73" ry="3.26" fill="#262a82"/>
<ellipse cx="655.74" cy="324.24" rx="1.86" ry="1.47" fill="#3034a2" opacity="0.7"/>
<ellipse cx="658.44" cy="324.98" rx="0.69" ry="1.57" fill="#14163c" opacity="0.55"/>
</g>
<circle cx="678.16" cy="324.64" r="3.74" fill="#0c120d" stroke="#2e8a32" stroke-width="0.75" stroke-dasharray="3.37,0.96,2.56,0.58" opacity="0.85"/>
<g transform="rotate(95 678.68 324.53)">
<ellipse cx="678.68" cy="324.53" rx="3.04" ry="2.42" fill="#262a82"/>
<ellipse cx="677.75" cy="324.16" rx="1.42" ry="1.12" fill="#3034a2" opacity="0.7"/>
<ellipse cx="679.8" cy="324.72" rx="0.52" ry="1.2" fill="#14163c" opacity="0.55"/>
</g>
<circle cx="651.88" cy="335.74" r="4.91" fill="#0c120d" stroke="#2e8a32" stroke-width="0.75" stroke-dasharray="2.99,0.56,3.23,1.35" opacity="0.85"/>
<g transform="rotate(44 651.19 336.38)">
<ellipse cx="651.19" cy="336.38" rx="3.59" ry="2.94" fill="#262a82"/>
<ellipse cx="649.96" cy="335.89" rx="1.86" ry="1.47" fill="#3034a2" opacity="0.7"/>
<ellipse cx="652.66" cy="336.63" rx="0.69" ry="1.57" fill="#14163c" opacity="0.55"/>
</g>
<circle cx="660.06" cy="340.41" r="3.5" fill="#0c120d" stroke="#2e8a32" stroke-width="0.75" stroke-dasharray="2.92,0.43,1.62,0.84" opacity="0.85"/>
<g transform="rotate(3 660.36 340.19)">
<ellipse cx="660.36" cy="340.19" rx="2.86" ry="2.18" fill="#262a82"/>
<ellipse cx="659.48" cy="339.84" rx="1.33" ry="1.05" fill="#3034a2" opacity="0.7"/>
<ellipse cx="661.41" cy="340.37" rx="0.49" ry="1.12" fill="#14163c" opacity="0.55"/>
</g>
<circle cx="675.82" cy="340.41" r="3.5" fill="#0c120d" stroke="#2e8a32" stroke-width="0.75" stroke-dasharray="2.99,0.81,1.84,0.4" opacity="0.85"/>
<g transform="rotate(16 675.88 340.61)">
<ellipse cx="675.88" cy="340.61" rx="2.63" ry="2.09" fill="#262a82"/>
<ellipse cx="675.01" cy="340.26" rx="1.33" ry="1.05" fill="#3034a2" opacity="0.7"/>
<ellipse cx="676.93" cy="340.79" rx="0.49" ry="1.12" fill="#14163c" opacity="0.55"/>
</g>
<circle cx="641.37" cy="345.08" r="2.92" fill="#0c120d" stroke="#2e8a32" stroke-width="0.75" stroke-dasharray="4.47,1.02,2.97,1.26" opacity="0.85"/>
<g transform="rotate(152 641.52 344.88)">
<ellipse cx="641.52" cy="344.88" rx="2.35" ry="1.87" fill="#262a82"/>
<ellipse cx="640.79" cy="344.59" rx="1.11" ry="0.88" fill="#3034a2" opacity="0.7"/>
<ellipse cx="642.39" cy="345.03" rx="0.41" ry="0.93" fill="#14163c" opacity="0.55"/>
</g>
<circle cx="665.9" cy="345.08" r="3.5" fill="#0c120d" stroke="#2e8a32" stroke-width="0.75" stroke-dasharray="2.85,0.34,2.82,0.51" opacity="0.85"/>
<g transform="rotate(56 666.03 344.64)">
<ellipse cx="666.03" cy="344.64" rx="2.81" ry="2.12" fill="#262a82"/>
<ellipse cx="665.16" cy="344.29" rx="1.33" ry="1.05" fill="#3034a2" opacity="0.7"/>
<ellipse cx="667.09" cy="344.82" rx="0.49" ry="1.12" fill="#14163c" opacity="0.55"/>
</g>
<circle cx="647.8" cy="284.12" r="0.75" fill="#d83028"/>
<circle cx="615.92" cy="290.95" r="0.7" fill="#4cc040"/>
<circle cx="659.12" cy="294.77" r="0.7" fill="#4cc040"/>
<circle cx="666.46" cy="348.54" r="0.7" fill="#4cc040"/>
</g></g>
<rect x="603.4" y="270.1" width="1.8" height="76.9" fill="#ffffff"/>
<line x1="672.2" y1="343.2" x2="679.3" y2="343.2" stroke="#e8e8e8" stroke-width="1.4"/>
<text x="665.9" y="356" font-size="6" textLength="17.7" lengthAdjust="spacingAndGlyphs">10 &#956;m</text>
<text x="1" y="412.7" font-size="14.3" fill="#000" font-weight="bold">H</text>
<text x="283.2" y="398.4" font-size="8.8" textLength="51.7" lengthAdjust="spacingAndGlyphs">THP-1 (M&#968;)</text>
<line x1="60.3" y1="405" x2="540" y2="405" stroke="#1a1a1a" stroke-width="1.3"/>
<text x="274.5" y="415.9" font-size="8.8" text-anchor="end" textLength="107" lengthAdjust="spacingAndGlyphs">M2-macrophage markers</text>
<line x1="60.3" y1="419.5" x2="367.3" y2="419.5" stroke="#1a1a1a" stroke-width="1.3"/>
<text x="436.4" y="416.8" font-size="8.8" textLength="107.1" lengthAdjust="spacingAndGlyphs">M1-macrophage markers</text>
<line x1="423.8" y1="420.3" x2="545.8" y2="420.3" stroke="#1a1a1a" stroke-width="1.3"/>
<text x="63" y="430.7" font-size="8.8" textLength="21" lengthAdjust="spacingAndGlyphs">Arg1</text>
<text x="150" y="430.7" font-size="8.8" textLength="29.4" lengthAdjust="spacingAndGlyphs">CD163</text>
<text x="244.4" y="430.7" font-size="8.8" textLength="21.3" lengthAdjust="spacingAndGlyphs">IL-10</text>
<text x="337.2" y="430.7" font-size="8.8" textLength="26.3" lengthAdjust="spacingAndGlyphs">TGF-&#946;</text>
<text x="426.1" y="430.7" font-size="8.8" textLength="25.4" lengthAdjust="spacingAndGlyphs">NOS2</text>
<text x="526" y="430.7" font-size="8.8" textLength="23.3" lengthAdjust="spacingAndGlyphs">TNF&#945;</text>
<line x1="42.9" y1="441.3" x2="42.9" y2="528.75" stroke="#1a1a1a" stroke-width="1.3"/>
<line x1="39.3" y1="528.1" x2="101.1" y2="528.1" stroke="#1a1a1a" stroke-width="1.3"/>
<line x1="39.3" y1="528.1" x2="42.9" y2="528.1" stroke="#1a1a1a" stroke-width="1.3"/>
<text x="37.3" y="530.4" font-size="9" text-anchor="end">0</text>
<line x1="39.3" y1="506.55" x2="42.9" y2="506.55" stroke="#1a1a1a" stroke-width="1.3"/>
<text x="37.3" y="508.85" font-size="9" text-anchor="end">2</text>
<line x1="39.3" y1="485" x2="42.9" y2="485" stroke="#1a1a1a" stroke-width="1.3"/>
<text x="37.3" y="487.3" font-size="9" text-anchor="end">4</text>
<line x1="39.3" y1="463.45" x2="42.9" y2="463.45" stroke="#1a1a1a" stroke-width="1.3"/>
<text x="37.3" y="465.75" font-size="9" text-anchor="end">6</text>
<line x1="39.3" y1="441.9" x2="42.9" y2="441.9" stroke="#1a1a1a" stroke-width="1.3"/>
<text x="37.3" y="444.2" font-size="9" text-anchor="end">8</text>
<rect x="49.9" y="517.3" width="12.8" height="10.8" fill="#E99AA2"/>
<line x1="56.3" y1="516.6" x2="56.3" y2="518" stroke="#1a1a1a" stroke-width="1.5"/>
<line x1="53" y1="516.6" x2="59.6" y2="516.6" stroke="#1a1a1a" stroke-width="1.5"/>
<line x1="53" y1="518" x2="59.6" y2="518" stroke="#1a1a1a" stroke-width="1.5"/>
<rect x="65.7" y="466.3" width="13.1" height="61.8" fill="#C8F2DE"/>
<line x1="72" y1="462.4" x2="72" y2="470" stroke="#1a1a1a" stroke-width="1.2"/>
<line x1="68.7" y1="462.4" x2="75.3" y2="462.4" stroke="#1a1a1a" stroke-width="1.2"/>
<line x1="68.7" y1="470" x2="75.3" y2="470" stroke="#1a1a1a" stroke-width="1.2"/>
<rect x="81.1" y="516.4" width="13.2" height="11.7" fill="#CBDAEC"/>
<line x1="87.85" y1="515" x2="87.85" y2="518.5" stroke="#1a1a1a" stroke-width="1.2"/>
<line x1="85" y1="515" x2="90.7" y2="515" stroke="#1a1a1a" stroke-width="1.2"/>
<line x1="85" y1="518.5" x2="90.7" y2="518.5" stroke="#1a1a1a" stroke-width="1.2"/>
<text x="72.4" y="445.3" font-size="8.5" text-anchor="middle" textLength="12.6" lengthAdjust="spacing">***</text>
<text x="27.7" y="482.2" font-size="9.2" text-anchor="middle" textLength="86.7" lengthAdjust="spacingAndGlyphs" transform="rotate(-90 27.7 482.2)">Relative mRNA level</text>
<line x1="132.4" y1="441.3" x2="132.4" y2="528.45" stroke="#1a1a1a" stroke-width="1.3"/>
<line x1="128.8" y1="527.8" x2="190.2" y2="527.8" stroke="#1a1a1a" stroke-width="1.3"/>
<line x1="128.8" y1="527.8" x2="132.4" y2="527.8" stroke="#1a1a1a" stroke-width="1.3"/>
<text x="126.8" y="530.1" font-size="9" text-anchor="end">0</text>
<line x1="128.8" y1="499.2" x2="132.4" y2="499.2" stroke="#1a1a1a" stroke-width="1.3"/>
<text x="126.8" y="501.5" font-size="9" text-anchor="end">2</text>
<line x1="128.8" y1="470.6" x2="132.4" y2="470.6" stroke="#1a1a1a" stroke-width="1.3"/>
<text x="126.8" y="472.9" font-size="9" text-anchor="end">4</text>
<line x1="128.8" y1="442" x2="132.4" y2="442" stroke="#1a1a1a" stroke-width="1.3"/>
<text x="126.8" y="444.3" font-size="9" text-anchor="end">6</text>
<rect x="138.9" y="513.5" width="13.1" height="14.3" fill="#E99AA2"/>
<line x1="145.3" y1="511.8" x2="145.3" y2="515.2" stroke="#1a1a1a" stroke-width="1.2"/>
<line x1="142.4" y1="511.8" x2="148.2" y2="511.8" stroke="#1a1a1a" stroke-width="1.2"/>
<line x1="142.4" y1="515.2" x2="148.2" y2="515.2" stroke="#1a1a1a" stroke-width="1.2"/>
<rect x="154.3" y="465" width="13.5" height="62.8" fill="#C8F2DE"/>
<line x1="161.1" y1="452.4" x2="161.1" y2="477" stroke="#1a1a1a" stroke-width="1.2"/>
<line x1="158.2" y1="452.4" x2="164" y2="452.4" stroke="#1a1a1a" stroke-width="1.2"/>
<line x1="158.2" y1="477" x2="164" y2="477" stroke="#1a1a1a" stroke-width="1.2"/>
<rect x="170.1" y="521.4" width="13.1" height="6.4" fill="#CBDAEC"/>
<line x1="176.85" y1="519.7" x2="176.85" y2="523.2" stroke="#1a1a1a" stroke-width="1.2"/>
<line x1="174" y1="519.7" x2="179.7" y2="519.7" stroke="#1a1a1a" stroke-width="1.2"/>
<line x1="174" y1="523.2" x2="179.7" y2="523.2" stroke="#1a1a1a" stroke-width="1.2"/>
<text x="161.3" y="445.3" font-size="8.5" text-anchor="middle" textLength="12.6" lengthAdjust="spacing">***</text>
<line x1="225.8" y1="441.3" x2="225.8" y2="528.45" stroke="#1a1a1a" stroke-width="1.3"/>
<line x1="222.2" y1="527.8" x2="283.6" y2="527.8" stroke="#1a1a1a" stroke-width="1.3"/>
<line x1="222.2" y1="527.8" x2="225.8" y2="527.8" stroke="#1a1a1a" stroke-width="1.3"/>
<text x="220.2" y="530.1" font-size="9" text-anchor="end">0</text>
<line x1="222.2" y1="499.17" x2="225.8" y2="499.17" stroke="#1a1a1a" stroke-width="1.3"/>
<text x="220.2" y="501.47" font-size="9" text-anchor="end">10</text>
<line x1="222.2" y1="470.54" x2="225.8" y2="470.54" stroke="#1a1a1a" stroke-width="1.3"/>
<text x="220.2" y="472.84" font-size="9" text-anchor="end">20</text>
<line x1="222.2" y1="441.91" x2="225.8" y2="441.91" stroke="#1a1a1a" stroke-width="1.3"/>
<text x="220.2" y="444.21" font-size="9" text-anchor="end">30</text>
<rect x="232.2" y="525.2" width="13.2" height="2.6" fill="#E99AA2"/>
<line x1="238.75" y1="524.9" x2="238.75" y2="525.6" stroke="#1a1a1a" stroke-width="1.6"/>
<line x1="235.5" y1="524.9" x2="242" y2="524.9" stroke="#1a1a1a" stroke-width="1.6"/>
<line x1="235.5" y1="525.6" x2="242" y2="525.6" stroke="#1a1a1a" stroke-width="1.6"/>
<rect x="248.2" y="455" width="13" height="72.8" fill="#C8F2DE"/>
<line x1="254.7" y1="447.5" x2="254.7" y2="462.9" stroke="#1a1a1a" stroke-width="1.2"/>
<line x1="251.7" y1="447.5" x2="257.7" y2="447.5" stroke="#1a1a1a" stroke-width="1.2"/>
<line x1="251.7" y1="462.9" x2="257.7" y2="462.9" stroke="#1a1a1a" stroke-width="1.2"/>
<rect x="264" y="524.4" width="12.9" height="3.4" fill="#CBDAEC"/>
<line x1="270.4" y1="523.7" x2="270.4" y2="524.6" stroke="#1a1a1a" stroke-width="1.8"/>
<line x1="267.2" y1="523.7" x2="273.6" y2="523.7" stroke="#1a1a1a" stroke-width="1.8"/>
<line x1="267.2" y1="524.6" x2="273.6" y2="524.6" stroke="#1a1a1a" stroke-width="1.8"/>
<text x="254.1" y="445.3" font-size="8.5" text-anchor="middle" textLength="12.6" lengthAdjust="spacing">***</text>
<line x1="317.5" y1="440.4" x2="317.5" y2="527.85" stroke="#1a1a1a" stroke-width="1.3"/>
<line x1="313.9" y1="527.2" x2="375.3" y2="527.2" stroke="#1a1a1a" stroke-width="1.3"/>
<line x1="313.9" y1="527.2" x2="317.5" y2="527.2" stroke="#1a1a1a" stroke-width="1.3"/>
<text x="311.9" y="529.5" font-size="9" text-anchor="end">0</text>
<line x1="313.9" y1="509.96" x2="317.5" y2="509.96" stroke="#1a1a1a" stroke-width="1.3"/>
<text x="311.9" y="512.26" font-size="9" text-anchor="end">1</text>
<line x1="313.9" y1="492.72" x2="317.5" y2="492.72" stroke="#1a1a1a" stroke-width="1.3"/>
<text x="311.9" y="495.02" font-size="9" text-anchor="end">2</text>
<line x1="313.9" y1="475.48" x2="317.5" y2="475.48" stroke="#1a1a1a" stroke-width="1.3"/>
<text x="311.9" y="477.78" font-size="9" text-anchor="end">3</text>
<line x1="313.9" y1="458.24" x2="317.5" y2="458.24" stroke="#1a1a1a" stroke-width="1.3"/>
<text x="311.9" y="460.54" font-size="9" text-anchor="end">4</text>
<line x1="313.9" y1="441" x2="317.5" y2="441" stroke="#1a1a1a" stroke-width="1.3"/>
<text x="311.9" y="443.3" font-size="9" text-anchor="end">5</text>
<rect x="323.7" y="510.2" width="13.1" height="17" fill="#E99AA2"/>
<line x1="330.25" y1="508.2" x2="330.25" y2="512" stroke="#1a1a1a" stroke-width="1.2"/>
<line x1="327.2" y1="508.2" x2="333.3" y2="508.2" stroke="#1a1a1a" stroke-width="1.2"/>
<line x1="327.2" y1="512" x2="333.3" y2="512" stroke="#1a1a1a" stroke-width="1.2"/>
<rect x="339.4" y="468.9" width="13.2" height="58.3" fill="#C8F2DE"/>
<line x1="345.95" y1="457.2" x2="345.95" y2="480.5" stroke="#1a1a1a" stroke-width="1.2"/>
<line x1="342.9" y1="457.2" x2="349" y2="457.2" stroke="#1a1a1a" stroke-width="1.2"/>
<line x1="342.9" y1="480.5" x2="349" y2="480.5" stroke="#1a1a1a" stroke-width="1.2"/>
<rect x="355.2" y="505.3" width="12.8" height="21.9" fill="#CBDAEC"/>
<line x1="361.55" y1="500" x2="361.55" y2="510.9" stroke="#1a1a1a" stroke-width="1.2"/>
<line x1="358.3" y1="500" x2="364.8" y2="500" stroke="#1a1a1a" stroke-width="1.2"/>
<line x1="358.3" y1="510.9" x2="364.8" y2="510.9" stroke="#1a1a1a" stroke-width="1.2"/>
<text x="345.9" y="444.8" font-size="8.5" text-anchor="middle" textLength="12.6" lengthAdjust="spacing">***</text>
<line x1="410.7" y1="440.3" x2="410.7" y2="527.35" stroke="#1a1a1a" stroke-width="1.3"/>
<line x1="407.1" y1="526.7" x2="468.8" y2="526.7" stroke="#1a1a1a" stroke-width="1.3"/>
<line x1="407.1" y1="526.7" x2="410.7" y2="526.7" stroke="#1a1a1a" stroke-width="1.3"/>
<text x="405.1" y="529" font-size="9" text-anchor="end">0</text>
<line x1="407.1" y1="505.25" x2="410.7" y2="505.25" stroke="#1a1a1a" stroke-width="1.3"/>
<text x="405.1" y="507.55" font-size="9" text-anchor="end">2</text>
<line x1="407.1" y1="483.8" x2="410.7" y2="483.8" stroke="#1a1a1a" stroke-width="1.3"/>
<text x="405.1" y="486.1" font-size="9" text-anchor="end">4</text>
<line x1="407.1" y1="462.35" x2="410.7" y2="462.35" stroke="#1a1a1a" stroke-width="1.3"/>
<text x="405.1" y="464.65" font-size="9" text-anchor="end">6</text>
<line x1="407.1" y1="440.9" x2="410.7" y2="440.9" stroke="#1a1a1a" stroke-width="1.3"/>
<text x="405.1" y="443.2" font-size="9" text-anchor="end">8</text>
<rect x="418" y="516.7" width="11.8" height="10" fill="#E99AA2"/>
<line x1="423.75" y1="515.4" x2="423.75" y2="518.4" stroke="#1a1a1a" stroke-width="1.2"/>
<line x1="420.7" y1="515.4" x2="426.8" y2="515.4" stroke="#1a1a1a" stroke-width="1.2"/>
<line x1="420.7" y1="518.4" x2="426.8" y2="518.4" stroke="#1a1a1a" stroke-width="1.2"/>
<rect x="432.9" y="522" width="12.8" height="4.7" fill="#C8F2DE"/>
<line x1="439.5" y1="520.6" x2="439.5" y2="523.2" stroke="#1a1a1a" stroke-width="1.2"/>
<line x1="436.4" y1="520.6" x2="442.6" y2="520.6" stroke="#1a1a1a" stroke-width="1.2"/>
<line x1="436.4" y1="523.2" x2="442.6" y2="523.2" stroke="#1a1a1a" stroke-width="1.2"/>
<rect x="448.7" y="470" width="13.1" height="56.7" fill="#CBDAEC"/>
<line x1="455.25" y1="458.9" x2="455.25" y2="480.8" stroke="#1a1a1a" stroke-width="1.2"/>
<line x1="452.2" y1="458.9" x2="458.3" y2="458.9" stroke="#1a1a1a" stroke-width="1.2"/>
<line x1="452.2" y1="480.8" x2="458.3" y2="480.8" stroke="#1a1a1a" stroke-width="1.2"/>
<text x="454.5" y="444.2" font-size="8.5" text-anchor="middle" textLength="12.6" lengthAdjust="spacing">***</text>
<line x1="510.8" y1="439.8" x2="510.8" y2="526.35" stroke="#1a1a1a" stroke-width="1.3"/>
<line x1="507.2" y1="525.7" x2="568.9" y2="525.7" stroke="#1a1a1a" stroke-width="1.3"/>
<line x1="507.2" y1="525.7" x2="510.8" y2="525.7" stroke="#1a1a1a" stroke-width="1.3"/>
<text x="505.2" y="528" font-size="9" text-anchor="end" textLength="12.6" lengthAdjust="spacingAndGlyphs">0.0</text>
<line x1="507.2" y1="504.38" x2="510.8" y2="504.38" stroke="#1a1a1a" stroke-width="1.3"/>
<text x="505.2" y="506.68" font-size="9" text-anchor="end" textLength="12.6" lengthAdjust="spacingAndGlyphs">0.5</text>
<line x1="507.2" y1="483.05" x2="510.8" y2="483.05" stroke="#1a1a1a" stroke-width="1.3"/>
<text x="505.2" y="485.35" font-size="9" text-anchor="end" textLength="12.6" lengthAdjust="spacingAndGlyphs">1.0</text>
<line x1="507.2" y1="461.73" x2="510.8" y2="461.73" stroke="#1a1a1a" stroke-width="1.3"/>
<text x="505.2" y="464.03" font-size="9" text-anchor="end" textLength="12.6" lengthAdjust="spacingAndGlyphs">1.5</text>
<line x1="507.2" y1="440.4" x2="510.8" y2="440.4" stroke="#1a1a1a" stroke-width="1.3"/>
<text x="505.2" y="442.7" font-size="9" text-anchor="end" textLength="12.6" lengthAdjust="spacingAndGlyphs">2.0</text>
<rect x="516.8" y="483" width="13.5" height="42.7" fill="#E99AA2"/>
<line x1="523.85" y1="480.9" x2="523.85" y2="485.1" stroke="#1a1a1a" stroke-width="1.2"/>
<line x1="520.4" y1="480.9" x2="527.3" y2="480.9" stroke="#1a1a1a" stroke-width="1.2"/>
<line x1="520.4" y1="485.1" x2="527.3" y2="485.1" stroke="#1a1a1a" stroke-width="1.2"/>
<rect x="533" y="512.2" width="13.4" height="13.5" fill="#C8F2DE"/>
<line x1="539.9" y1="510.9" x2="539.9" y2="513.6" stroke="#1a1a1a" stroke-width="1.2"/>
<line x1="536.9" y1="510.9" x2="542.9" y2="510.9" stroke="#1a1a1a" stroke-width="1.2"/>
<line x1="536.9" y1="513.6" x2="542.9" y2="513.6" stroke="#1a1a1a" stroke-width="1.2"/>
<rect x="548.8" y="468" width="13.5" height="57.7" fill="#CBDAEC"/>
<line x1="555.85" y1="461.9" x2="555.85" y2="474.8" stroke="#1a1a1a" stroke-width="1.2"/>
<line x1="552.4" y1="461.9" x2="559.3" y2="461.9" stroke="#1a1a1a" stroke-width="1.2"/>
<line x1="552.4" y1="474.8" x2="559.3" y2="474.8" stroke="#1a1a1a" stroke-width="1.2"/>
<text x="539.9" y="503.6" font-size="8.5" text-anchor="middle" textLength="12.6" lengthAdjust="spacing">***</text>
<text x="556.3" y="457" font-size="8.5" text-anchor="middle" textLength="7.4" lengthAdjust="spacing">**</text>
<rect x="596" y="421.4" width="9.1" height="4.4" fill="#E99AA2"/>
<rect x="596" y="430.9" width="9.1" height="4.2" fill="#C8F2DE"/>
<rect x="596" y="439.9" width="9.1" height="4.6" fill="#CBDAEC"/>
<text x="610.5" y="425.8" font-size="6.6" textLength="25.3" lengthAdjust="spacingAndGlyphs">miR-NC</text>
<text x="611" y="435.1" font-size="6.6" textLength="57.9" lengthAdjust="spacingAndGlyphs">miR-708-5p mimic</text>
<text x="610.3" y="444.6" font-size="6.6" textLength="58.6" lengthAdjust="spacingAndGlyphs">miR-708-5p mimic</text>
<text x="611" y="453.4" font-size="6.6" textLength="28.3" lengthAdjust="spacingAndGlyphs">+inhibitor</text>
<text x="0.6" y="569.6" font-size="14.3" fill="#000" font-weight="bold">I</text>
<g opacity="0.6" stroke-width="0.6" stroke-linecap="square" fill="none"><path d="M69.9 599.5h0M63.0 606.1h0M68.3 595.6h0M63.9 632.4h0M74.3 600.0h0M52.7 623.5h0M67.2 612.2h0M64.6 608.5h0M73.1 640.1h0M74.3 585.9h0M64.2 628.0h0M57.7 632.0h0M61.0 612.0h0M56.1 638.2h0M67.2 623.0h0M57.7 623.8h0M70.7 620.6h0M76.0 581.0h0M75.2 601.0h0M59.0 617.7h0M70.4 607.7h0M64.9 634.4h0M66.2 628.0h0M66.8 604.6h0M62.3 604.5h0M58.2 614.9h0M58.0 654.9h0M58.8 626.1h0M62.9 617.0h0M76.0 608.3h0M64.1 618.0h0M59.0 650.8h0M64.5 639.9h0M56.3 636.1h0M65.7 630.6h0M58.6 630.4h0M62.1 628.5h0M72.5 619.0h0M66.8 589.9h0M66.6 614.6h0M76.6 615.3h0M72.8 617.3h0M74.1 612.3h0M69.9 634.6h0M69.7 618.6h0M67.0 627.1h0M69.7 614.5h0M66.4 607.1h0M58.1 617.8h0M59.8 650.2h0M68.8 629.8h0M64.7 621.3h0M71.3 639.3h0M66.5 644.6h0M67.7 624.1h0M68.0 605.6h0M65.7 641.0h0M65.7 643.9h0M65.0 620.2h0M62.1 653.4h0M61.2 631.1h0M62.5 637.9h0M65.9 609.9h0M59.1 631.6h0M72.1 615.2h0M68.7 629.3h0M66.2 607.4h0M67.3 612.8h0M71.0 608.8h0M76.5 608.1h0M67.3 655.9h0M57.7 645.8h0M74.2 617.8h0M68.2 639.0h0M60.7 629.6h0M60.3 638.3h0M60.9 592.8h0M67.9 618.3h0M63.6 631.4h0M65.3 611.3h0M65.6 621.5h0M77.0 612.0h0M73.0 577.4h0M63.2 635.3h0M70.6 595.7h0M58.7 636.2h0M62.3 631.0h0M64.4 646.8h0M62.2 653.7h0M60.4 649.2h0M57.2 615.9h0M59.6 632.8h0M61.9 614.2h0M68.8 609.8h0M65.4 590.6h0M65.8 647.2h0M68.1 597.7h0M60.2 596.6h0M60.6 648.0h0M62.5 626.8h0M64.8 654.6h0M70.6 610.6h0M67.6 599.2h0M69.5 612.0h0M70.0 630.1h0M61.7 647.2h0M65.0 622.1h0M70.6 608.3h0M66.7 633.0h0M62.0 636.1h0M69.5 593.4h0M62.7 608.2h0M58.9 640.8h0M59.4 627.2h0M75.3 620.0h0M62.4 609.5h0M64.0 631.5h0M67.9 610.0h0M66.6 629.1h0M74.4 605.4h0M64.7 628.9h0M57.1 638.1h0M72.1 626.8h0M61.9 652.9h0M66.8 622.9h0M57.2 644.7h0M65.2 602.3h0M63.0 624.6h0M59.3 652.2h0M58.0 631.1h0M58.3 623.8h0M69.3 615.9h0M58.5 637.3h0M65.1 614.5h0M56.7 618.0h0M75.2 598.7h0M60.1 633.8h0M72.0 622.8h0M67.1 618.8h0M60.8 615.9h0M66.9 608.8h0M61.9 596.9h0M63.2 641.5h0M64.6 625.0h0M63.9 603.4h0M68.4 634.0h0M68.5 632.3h0M71.4 632.7h0M59.1 634.5h0M72.5 592.8h0M60.9 636.4h0M62.9 644.9h0M68.1 633.8h0M60.5 643.2h0M72.0 625.7h0M63.5 630.4h0M68.1 611.8h0M58.0 616.2h0M71.8 622.7h0M71.2 588.2h0M57.6 632.9h0M65.9 603.7h0M67.2 585.2h0M68.1 631.1h0M67.5 590.4h0M65.0 638.9h0M68.5 595.4h0M64.9 646.2h0M65.3 631.7h0M58.6 619.1h0M58.3 625.4h0M64.6 595.1h0M58.5 630.7h0M64.1 608.0h0M63.5 620.6h0M67.2 632.1h0M64.7 598.4h0M71.0 586.5h0M54.5 647.1h0M68.3 630.0h0M61.8 636.9h0M63.5 640.4h0M67.0 617.6h0M71.2 612.1h0M61.1 636.7h0M66.1 645.6h0M68.4 636.6h0M70.4 613.7h0M76.2 621.5h0M75.1 606.0h0M67.8 612.6h0M62.8 618.3h0M60.9 596.5h0M60.5 646.4h0M65.5 637.3h0M62.0 612.4h0M61.8 619.1h0M64.6 634.4h0M57.9 633.0h0M67.2 578.8h0M56.3 615.3h0M68.4 592.2h0M79.8 582.2h0M59.2 637.4h0M65.3 655.3h0M62.8 643.9h0M59.6 609.7h0M69.9 619.4h0M76.1 576.4h0M65.9 611.3h0M62.4 630.7h0M64.6 624.7h0M63.4 628.1h0M71.2 611.0h0M69.5 626.5h0M74.9 599.4h0M61.6 619.0h0M74.6 620.3h0M62.4 619.8h0M64.8 625.8h0M71.5 591.3h0M66.8 585.2h0M68.3 636.0h0M66.6 597.5h0M76.5 590.1h0M65.7 596.9h0M68.8 637.9h0M59.7 628.0h0M72.4 584.0h0M69.4 634.5h0M61.0 626.2h0M65.6 585.2h0M71.5 634.7h0M59.8 648.8h0M62.8 625.0h0M65.1 617.4h0M65.1 589.8h0M69.0 635.3h0M60.1 630.1h0M65.7 618.4h0M66.5 598.1h0M62.4 619.2h0M67.0 588.4h0M68.3 629.2h0M68.7 621.4h0M69.5 615.4h0M64.5 630.1h0M51.1 628.9h0M71.3 614.4h0M69.6 632.7h0M74.8 643.6h0M64.7 596.2h0M68.2 634.2h0M64.8 633.9h0M65.8 614.9h0M57.4 622.7h0M64.4 625.3h0M62.2 633.3h0M66.1 624.9h0M67.4 649.0h0M53.1 641.2h0M68.3 618.7h0M61.8 652.1h0M56.6 638.7h0M63.8 640.0h0M67.3 625.3h0M69.5 605.6h0M64.5 628.7h0M64.5 628.7h0M72.7 607.7h0M59.0 627.4h0M76.8 589.1h0M65.6 629.6h0M70.8 608.2h0M62.2 646.1h0M69.7 621.7h0M66.6 626.5h0M65.5 597.9h0M60.3 634.8h0M64.5 617.8h0M67.0 604.0h0M65.3 629.1h0M60.5 645.9h0M70.2 601.9h0M65.6 626.7h0M62.9 627.9h0M67.2 625.1h0M59.2 636.1h0M72.6 610.6h0M62.8 605.7h0M60.2 630.2h0M70.0 634.8h0M64.6 616.7h0M62.8 623.3h0M59.8 619.8h0M62.3 652.2h0M66.5 584.5h0M61.8 652.4h0M65.7 612.8h0M68.2 654.2h0M64.2 638.1h0M61.8 595.2h0M70.4 617.1h0M66.3 607.6h0M56.5 648.7h0M64.4 619.1h0M68.2 619.3h0M71.7 604.6h0M64.5 607.5h0M63.9 630.7h0M63.8 619.7h0M63.0 612.8h0M62.7 645.6h0M67.8 598.2h0M56.9 644.1h0M63.4 620.4h0M65.8 610.3h0M61.6 649.6h0M69.6 633.2h0M63.3 626.9h0M64.9 634.0h0M72.1 616.3h0M63.5 653.1h0M67.6 613.1h0M59.9 598.8h0" stroke="#5a7ad0"/><path d="M72.5 586.5h0M64.5 614.3h0M62.9 645.9h0M58.4 634.5h0M69.2 647.5h0M70.9 603.3h0M63.9 639.6h0M64.6 608.4h0M64.5 605.8h0M55.9 650.2h0M69.6 610.5h0M62.2 624.8h0M74.9 576.5h0M63.3 611.1h0M68.7 609.2h0M71.5 601.9h0M57.9 648.2h0M70.4 621.3h0M66.3 610.3h0M57.7 640.3h0M60.8 638.3h0M67.6 593.9h0M56.0 639.7h0M69.5 602.3h0M69.4 631.5h0M64.8 622.5h0M65.0 605.3h0M68.9 628.3h0M68.1 617.1h0M65.8 610.7h0M65.0 593.4h0M52.9 654.0h0M64.6 637.8h0M66.1 626.9h0M59.5 629.8h0M70.9 621.4h0M65.3 612.7h0M54.8 640.8h0M64.9 616.7h0M62.8 638.5h0M58.3 648.9h0M65.5 617.1h0M67.8 623.3h0M67.4 608.7h0M74.5 597.2h0M68.8 585.6h0M62.8 601.0h0M58.7 617.8h0M68.3 621.9h0M59.3 645.2h0M69.5 614.4h0M71.6 610.7h0M69.1 620.6h0M64.1 636.6h0M68.8 629.9h0M75.9 589.3h0M58.8 624.9h0M62.2 635.1h0M73.1 598.4h0M59.3 606.8h0M67.1 602.7h0M74.3 593.7h0M65.4 639.4h0M74.6 617.3h0M65.1 639.3h0M62.1 654.8h0M68.3 618.3h0M64.2 655.7h0M60.3 652.5h0M63.7 597.0h0M66.2 637.7h0M66.1 583.1h0M54.6 643.6h0M60.9 615.3h0M71.6 637.2h0M66.0 649.9h0M67.4 595.1h0M68.1 617.3h0M71.9 597.8h0M65.5 633.9h0M68.5 623.8h0M67.1 605.6h0M68.7 585.0h0M72.8 573.0h0M75.8 600.9h0M63.1 630.3h0M63.0 617.0h0M61.1 604.4h0M66.5 642.4h0M73.8 614.5h0M64.9 605.1h0M58.8 632.7h0M69.2 611.0h0M65.8 636.8h0M61.5 650.8h0M69.6 615.8h0M64.7 621.3h0M66.1 627.9h0M59.9 648.6h0M62.4 623.4h0M63.3 646.1h0M65.5 625.4h0M63.4 633.6h0M52.8 637.0h0M61.9 632.3h0M65.7 607.0h0M66.8 637.1h0M62.1 618.9h0M72.1 650.7h0M68.9 627.8h0M73.8 632.1h0M69.2 591.3h0M68.1 624.5h0M60.9 612.6h0M73.9 598.3h0M69.0 619.6h0M71.6 601.6h0M56.8 616.0h0M58.3 615.3h0M60.5 651.8h0M63.7 635.7h0M70.6 591.4h0M66.3 610.3h0M65.2 628.0h0M72.7 598.9h0M59.8 646.1h0M69.1 602.9h0M67.1 618.8h0M71.4 622.4h0M63.3 630.0h0M62.5 626.7h0M61.9 612.7h0M67.4 633.4h0M62.1 610.6h0M67.8 626.4h0M72.9 632.8h0M63.0 656.8h0M55.6 636.0h0M64.5 640.4h0M63.2 632.2h0M65.9 621.2h0M74.5 597.3h0M64.9 621.6h0M71.1 569.8h0M72.2 623.5h0M68.5 625.0h0M69.3 574.9h0M63.7 622.9h0M71.3 625.5h0M68.4 616.1h0M60.9 595.7h0M70.4 599.9h0M72.2 611.9h0M62.5 637.2h0M61.8 615.7h0M76.0 592.3h0M53.7 624.0h0M60.0 655.7h0M58.0 606.2h0M68.6 632.0h0M75.5 610.5h0M69.3 611.6h0M63.2 638.8h0M63.4 656.7h0M68.0 617.4h0M61.1 625.3h0M65.4 594.2h0M67.1 639.8h0M71.6 606.4h0M71.1 634.9h0M73.3 612.0h0M66.7 601.7h0M74.4 607.0h0M69.5 574.2h0M60.9 649.5h0M64.1 620.8h0M62.0 641.5h0M65.5 599.8h0M59.6 625.5h0M69.5 625.2h0M67.1 649.9h0M58.7 620.1h0M70.1 616.6h0M61.7 640.1h0M65.6 646.3h0M61.1 601.1h0M65.8 624.7h0M65.3 604.5h0M59.9 638.6h0M68.4 627.2h0M65.6 605.5h0M60.4 610.4h0M65.4 629.9h0M65.4 626.0h0M69.7 630.1h0M65.7 652.0h0M55.0 642.0h0M71.7 605.1h0M60.1 613.6h0M61.2 653.4h0M70.5 594.2h0M63.8 605.2h0M68.2 616.4h0M61.7 628.7h0M64.4 655.0h0M63.8 607.5h0M70.2 607.5h0M67.8 617.2h0M58.2 643.3h0M69.5 601.1h0M58.3 640.6h0M54.8 644.2h0M69.6 623.5h0M70.3 591.5h0M64.5 637.3h0M65.7 620.3h0M72.2 610.3h0M60.8 631.0h0M65.5 647.5h0M66.9 587.0h0M68.4 595.7h0M57.9 627.9h0M66.7 610.2h0M74.9 592.6h0M61.3 629.1h0M72.1 606.1h0M63.7 621.3h0M67.5 644.7h0M70.1 627.6h0M66.3 612.2h0M63.7 616.7h0M66.6 648.5h0M62.3 653.6h0M60.8 622.7h0M74.2 589.4h0M65.5 615.6h0M71.1 617.0h0M61.6 627.4h0M77.4 626.0h0M62.7 620.8h0M66.1 605.8h0M64.9 633.9h0M62.0 605.3h0M71.0 639.9h0M62.1 577.8h0M64.9 600.7h0M61.6 618.1h0M66.5 624.6h0M67.9 623.6h0M63.5 627.4h0M73.5 599.2h0M69.0 609.0h0M54.9 647.2h0M73.9 627.6h0M63.8 638.3h0M67.6 652.3h0M65.9 640.4h0M63.3 634.8h0M63.9 593.1h0M72.0 615.0h0M58.3 636.2h0M68.9 648.4h0M69.0 621.4h0M60.8 607.9h0M71.0 611.2h0M59.8 597.5h0M65.5 626.7h0M59.9 642.7h0M68.7 616.0h0M64.1 628.5h0M66.0 640.6h0M58.5 651.7h0M64.6 639.9h0M61.6 616.8h0M72.6 608.0h0M66.0 625.4h0M60.4 648.7h0M63.2 601.7h0M68.1 604.2h0M60.3 622.6h0M69.8 584.3h0M55.5 655.1h0M66.6 639.1h0M74.8 598.8h0M73.4 611.9h0M66.5 647.4h0M54.8 635.0h0M58.2 611.5h0M55.1 641.8h0M66.2 618.7h0M67.4 623.8h0M67.8 603.3h0M68.7 590.9h0M67.2 636.5h0M67.0 628.7h0M68.3 599.0h0M61.7 648.8h0M66.4 646.1h0M67.9 587.4h0M64.7 609.2h0M69.6 638.6h0M62.9 588.9h0M63.4 626.9h0M70.7 589.2h0M68.6 616.6h0M61.9 640.0h0M57.1 641.4h0M63.9 597.9h0M66.5 604.2h0M66.5 604.6h0M58.9 647.4h0M61.7 615.3h0M55.9 637.5h0" stroke="#3a5cc0"/><path d="M68.6 633.6h0M65.1 654.7h0M62.0 637.1h0M66.5 637.0h0M66.4 640.0h0M73.3 634.4h0M64.4 646.4h0M65.9 607.4h0M64.9 624.5h0M65.1 638.7h0M57.5 635.0h0M76.1 598.8h0M69.4 615.0h0M73.2 578.0h0M64.9 617.2h0M71.4 613.3h0M63.9 605.4h0M64.8 634.2h0M63.7 644.3h0M61.3 644.6h0M64.3 628.3h0M56.6 609.1h0M68.2 622.2h0M58.7 640.0h0M62.0 623.7h0M72.8 599.2h0M63.9 636.7h0M60.2 636.4h0M64.9 606.2h0M63.2 646.4h0M70.2 603.5h0M71.2 593.6h0M58.5 605.1h0M63.5 612.9h0M56.1 610.9h0M59.9 642.9h0M56.2 636.2h0M73.5 625.4h0M67.8 604.2h0M70.8 616.3h0M64.7 622.2h0M65.6 621.2h0M63.1 591.3h0M65.8 629.6h0M60.1 642.5h0M59.7 642.8h0M68.8 599.3h0M55.3 647.2h0M67.1 643.9h0M66.6 649.7h0M75.1 599.9h0M78.6 615.8h0M68.6 613.8h0M66.8 616.0h0M76.7 623.6h0M53.4 644.8h0M64.3 654.9h0M55.8 637.9h0M73.1 602.3h0M58.5 643.2h0M59.8 643.6h0M67.6 593.3h0M67.0 637.6h0M60.4 610.4h0M69.0 601.1h0M63.7 606.5h0M69.7 622.5h0M65.8 613.6h0M65.6 609.7h0M66.3 631.7h0M64.7 625.7h0M63.1 624.8h0M73.3 611.7h0M73.5 586.1h0M63.8 629.0h0M63.6 610.4h0M69.4 612.0h0M67.7 614.7h0M65.4 613.8h0M66.7 618.5h0M65.0 575.7h0M56.4 638.9h0M60.0 631.1h0M55.1 654.0h0M66.8 647.7h0M61.3 622.7h0M66.6 606.9h0M73.6 597.4h0M60.5 654.7h0M62.5 650.2h0M68.2 607.0h0M62.0 644.0h0M67.9 616.4h0M64.6 624.5h0M63.7 586.1h0M57.1 636.5h0M59.4 630.9h0M61.5 618.1h0M62.0 627.4h0M68.1 604.7h0M75.1 615.5h0M62.0 616.9h0M57.9 633.6h0M64.1 604.6h0M69.0 641.4h0M68.8 605.6h0M66.8 603.3h0M64.2 589.4h0M64.8 587.7h0M66.7 627.8h0M59.8 656.0h0M61.2 630.8h0M62.8 636.4h0M61.8 645.0h0M57.9 650.4h0M66.1 640.8h0M67.2 580.5h0M70.2 575.9h0M66.2 639.4h0M71.1 599.7h0M63.2 621.8h0M68.9 600.3h0M58.4 631.6h0M65.7 611.2h0M65.6 609.6h0M63.9 618.8h0M65.6 627.9h0M60.6 635.1h0M65.3 649.6h0M72.8 608.4h0M66.2 617.1h0M59.7 629.6h0M68.1 612.5h0M65.2 616.7h0M60.4 611.6h0M70.4 623.5h0M71.9 611.6h0M73.6 621.2h0M67.4 626.0h0M56.0 621.4h0M61.6 641.0h0M75.6 610.3h0M75.9 589.6h0M55.4 606.9h0M61.9 606.1h0M61.8 608.3h0M59.0 640.1h0M69.1 619.9h0M66.4 637.3h0M76.5 610.3h0M69.5 622.5h0M62.9 623.0h0M69.2 616.4h0M67.5 597.0h0M65.9 611.4h0M71.9 587.9h0M73.7 616.0h0M66.9 642.5h0M71.2 624.2h0M59.1 645.2h0M60.1 615.2h0M58.4 632.4h0M71.2 608.5h0M66.9 609.1h0M57.3 632.9h0M56.4 635.4h0M68.1 624.9h0M58.0 649.7h0M64.8 647.3h0M65.2 632.5h0M77.2 589.0h0M58.1 616.6h0M70.8 623.3h0M63.1 638.3h0M67.2 603.3h0M59.8 611.2h0M72.3 623.1h0M67.9 582.4h0M66.6 618.9h0M65.9 593.8h0M65.0 613.4h0M61.5 642.8h0M57.1 647.2h0M65.3 606.2h0M63.6 619.7h0M75.8 600.0h0M61.6 624.5h0M54.2 629.0h0M65.4 622.1h0M65.8 631.0h0M60.7 642.3h0M71.5 615.8h0M58.5 647.9h0M68.6 630.6h0M68.1 622.9h0M66.3 611.8h0M69.8 610.4h0M65.3 635.9h0M58.1 612.4h0M61.0 619.0h0M64.2 630.9h0M67.3 613.3h0M69.9 600.6h0M72.6 590.4h0M71.4 613.8h0M65.8 621.8h0M68.0 603.2h0M73.7 584.1h0M63.2 615.3h0M60.4 624.5h0M64.8 630.8h0M61.4 621.5h0M69.0 598.9h0M65.1 583.5h0M63.5 640.3h0M62.7 648.6h0M65.2 615.6h0M68.8 617.5h0M66.9 629.3h0M62.6 619.0h0M67.7 645.1h0M61.1 621.9h0M71.0 605.7h0M64.4 618.8h0M73.6 590.5h0M65.3 616.3h0M60.4 623.0h0M69.2 630.6h0M64.5 639.7h0M57.9 648.8h0M60.4 627.2h0M65.1 588.3h0M57.8 621.3h0M64.9 617.4h0M64.7 640.5h0M69.3 605.7h0M66.0 627.8h0M74.0 621.7h0M68.1 609.6h0M57.7 646.8h0M65.5 614.1h0M66.2 637.6h0M70.1 593.5h0M66.2 616.2h0M63.5 633.2h0M64.3 599.6h0M59.0 650.8h0M63.9 649.0h0M59.4 620.7h0M61.9 643.3h0M69.9 602.1h0M73.4 617.4h0M69.5 618.7h0M63.3 624.6h0M65.8 617.1h0M65.6 610.1h0M55.7 644.9h0M60.1 616.0h0M65.9 591.0h0M65.0 626.4h0M58.3 613.2h0M60.5 630.0h0M64.2 598.2h0M62.9 635.4h0M60.2 625.3h0M69.6 590.0h0M72.5 607.2h0M65.9 616.6h0M65.7 651.9h0M61.3 625.2h0M64.5 630.6h0M63.2 636.6h0M54.6 651.1h0M67.3 592.2h0M68.1 617.9h0M63.8 634.5h0M67.7 628.5h0M65.2 656.6h0M62.4 626.2h0M60.1 636.1h0M65.9 598.3h0M59.1 617.8h0M53.0 641.0h0M66.5 644.8h0M70.7 628.0h0M55.1 652.5h0M60.3 620.1h0M60.8 648.1h0M56.0 646.3h0M67.2 600.4h0M63.6 604.5h0M68.2 600.5h0M62.7 610.0h0M65.2 630.7h0M69.7 611.8h0M57.6 615.7h0" stroke="#7c94dc"/><path d="M59.6 652.4h0M62.2 607.6h0M64.8 629.0h0M72.0 638.0h0M61.0 651.1h0M67.9 627.5h0M66.7 642.6h0M69.6 648.8h0M67.9 624.0h0M61.6 607.1h0M70.9 608.9h0M58.0 634.2h0M57.2 645.0h0M71.5 597.1h0M64.0 606.8h0M52.4 638.4h0M64.1 592.9h0M78.0 619.3h0M66.7 601.6h0M64.7 642.1h0M67.2 600.9h0M67.4 603.9h0M69.9 615.8h0M68.3 600.5h0M62.0 652.0h0M59.7 628.2h0M59.5 613.5h0M65.4 633.8h0M69.6 625.8h0M66.8 601.4h0M70.4 617.0h0M63.2 609.3h0M65.0 635.4h0M73.0 614.7h0M55.5 632.5h0M70.2 602.6h0M62.1 645.2h0M64.0 636.3h0M54.0 649.3h0M68.3 626.0h0M71.1 593.1h0M73.1 609.3h0M67.3 646.4h0M59.8 649.6h0M69.5 630.5h0M70.4 615.8h0M61.9 636.9h0M63.1 634.6h0M70.8 615.1h0M71.8 596.5h0M77.8 571.8h0M66.6 625.8h0M65.2 610.0h0M59.3 643.5h0M72.6 622.6h0M73.9 623.3h0M57.2 635.2h0M64.7 625.6h0M64.9 636.3h0M59.5 622.0h0M68.5 610.9h0M64.6 628.3h0M73.3 605.3h0M67.6 608.7h0M69.7 621.3h0M58.2 627.8h0M69.7 628.5h0M73.3 616.6h0M68.1 625.4h0M55.1 644.7h0M61.6 633.0h0M70.0 619.8h0M72.5 588.6h0M68.3 603.4h0M67.7 632.6h0M71.5 595.4h0M56.1 649.5h0M65.0 603.0h0M55.5 641.1h0M65.7 630.8h0M72.6 598.9h0M69.2 607.9h0M62.8 625.5h0M70.7 604.7h0M61.7 634.7h0M59.7 648.5h0M60.1 647.1h0M71.2 614.7h0M67.9 601.1h0M63.7 620.5h0M64.4 646.5h0M60.0 654.2h0M69.3 605.4h0M71.2 622.0h0M65.2 602.4h0M60.2 607.8h0M65.2 649.4h0M70.9 620.4h0M68.8 611.9h0M67.0 639.1h0M64.2 626.8h0M70.4 611.7h0M69.1 608.6h0M70.9 607.1h0M56.2 624.2h0M72.8 612.1h0M77.5 611.6h0M59.7 645.0h0M65.3 620.1h0M62.9 623.6h0M60.4 630.8h0M59.7 634.4h0M67.3 601.8h0M58.7 634.9h0M63.6 644.8h0M72.3 589.8h0M57.8 627.2h0M55.4 628.6h0M62.7 623.9h0M62.9 597.3h0M67.5 597.4h0M75.6 616.6h0M61.6 637.8h0M76.9 598.7h0M69.3 635.4h0M61.0 654.3h0M65.6 623.0h0M65.9 638.0h0M68.0 618.5h0M65.0 629.3h0M71.6 597.9h0M64.6 584.2h0M58.5 643.0h0M67.7 608.5h0M62.2 633.9h0M60.7 652.9h0M69.5 598.3h0M65.3 631.7h0M65.8 605.0h0M61.9 633.1h0M53.5 617.5h0M70.2 633.4h0M67.6 640.5h0M60.8 626.1h0M69.1 637.1h0M59.0 627.6h0M54.8 628.8h0M72.5 636.2h0M72.7 626.8h0M58.7 640.7h0M64.2 604.1h0M55.1 642.7h0M62.2 629.5h0M72.3 606.6h0M72.4 588.5h0M67.7 600.2h0M65.7 616.7h0M73.6 623.0h0M67.3 623.7h0M64.9 627.6h0M72.0 595.0h0M63.8 623.9h0M58.7 656.5h0M67.6 628.4h0M71.6 640.0h0M70.2 627.8h0M58.4 643.8h0M66.6 631.6h0M67.0 629.2h0M64.8 586.8h0M58.3 638.3h0M61.4 612.9h0M64.8 610.3h0M67.0 613.2h0M71.3 581.9h0M72.5 643.6h0M58.2 627.3h0M60.6 623.3h0M76.6 601.9h0M62.3 616.5h0M76.7 628.4h0M60.9 651.3h0M67.8 599.1h0M59.3 627.0h0M70.2 592.5h0M62.1 646.1h0M67.6 629.2h0M60.2 624.0h0M62.8 629.2h0M62.3 617.3h0M64.4 624.3h0M59.1 634.6h0M60.1 624.7h0M61.0 626.0h0M73.1 593.6h0M66.6 630.4h0M64.6 633.5h0M62.6 614.4h0M62.4 652.7h0M62.9 626.3h0M57.2 636.1h0M57.2 650.2h0M66.9 598.7h0M53.1 635.7h0M69.9 610.9h0M58.5 611.2h0M73.0 610.2h0M70.2 614.9h0M58.1 642.4h0M67.4 609.3h0M65.1 625.0h0M63.7 608.8h0M66.0 650.4h0M59.6 652.3h0M60.7 628.3h0M68.1 587.1h0M57.9 607.7h0M60.6 642.1h0M64.4 603.4h0M65.1 632.3h0M71.4 643.0h0M63.8 630.0h0M72.7 627.1h0M70.5 615.4h0M64.7 570.5h0M64.1 609.8h0M71.6 641.8h0M65.9 632.7h0M69.7 615.8h0M55.5 645.0h0M63.4 631.6h0M61.7 647.1h0M59.9 640.0h0M65.9 612.2h0M68.1 602.3h0M56.8 629.0h0M65.3 632.6h0M65.0 629.0h0M56.2 649.3h0M66.1 641.6h0M63.4 634.2h0M66.7 604.8h0M68.3 591.8h0M66.4 629.9h0M62.8 632.5h0M66.4 605.2h0M61.6 617.0h0M59.7 634.3h0M61.9 605.8h0M70.3 623.7h0M70.5 593.8h0M64.9 634.6h0M65.2 631.0h0M73.5 615.1h0M68.0 642.5h0M55.3 646.5h0M51.1 649.4h0M71.2 595.5h0M71.7 605.1h0M69.3 570.2h0M63.7 639.1h0M69.0 637.6h0M71.5 615.8h0M64.0 628.5h0M67.4 607.0h0M68.9 622.8h0M54.6 625.1h0M62.8 650.1h0M61.7 644.9h0M73.4 586.9h0M61.6 621.2h0M66.2 613.9h0M71.0 623.0h0M66.5 625.1h0M69.9 606.9h0M65.8 602.4h0M65.9 641.5h0M67.2 626.3h0M72.0 589.0h0M58.3 622.2h0M64.0 600.1h0M57.2 621.8h0M51.2 643.6h0M57.4 613.9h0M72.2 578.3h0M64.1 645.6h0M66.7 631.7h0M70.3 626.4h0" stroke="#6a88d8"/><path d="M68.9 623.0h0M65.8 642.6h0M71.7 626.3h0M57.7 640.6h0M65.1 633.1h0M68.3 605.4h0M63.0 636.9h0M68.3 618.8h0M60.4 627.0h0M62.7 616.9h0M70.9 591.3h0M76.3 617.3h0M73.4 617.2h0M66.9 602.9h0M68.8 616.2h0M66.4 641.1h0M71.9 627.6h0M66.1 633.9h0M65.3 645.4h0M72.3 596.2h0M53.5 614.4h0M66.6 621.4h0M68.7 623.1h0M60.3 634.3h0M61.5 604.1h0M72.4 618.0h0M51.1 613.7h0M67.5 603.2h0M65.2 612.7h0M66.5 605.3h0M71.8 605.1h0M67.2 627.7h0M67.2 614.4h0M60.4 638.1h0M58.2 621.1h0M67.1 601.9h0M58.1 638.3h0M57.1 622.8h0M70.8 638.9h0M72.0 593.7h0M72.1 575.6h0M70.0 631.4h0M61.3 621.9h0M66.8 594.4h0M61.6 645.3h0M59.4 620.0h0M68.1 600.8h0M61.3 641.2h0M62.1 626.7h0M65.8 605.2h0M63.5 630.1h0M70.8 606.3h0M68.7 614.7h0M73.1 606.9h0M64.1 613.5h0M69.1 630.2h0M63.4 645.1h0M73.6 613.9h0M70.7 609.8h0M68.0 603.7h0M66.7 636.6h0M69.2 629.0h0M62.0 617.2h0M62.0 620.6h0M63.3 654.2h0M59.8 636.0h0M59.8 639.9h0M73.2 614.2h0M64.9 628.8h0M63.9 586.7h0M57.2 634.1h0M69.1 595.2h0M74.2 582.1h0M69.2 593.3h0M68.8 622.2h0M69.3 648.0h0M68.1 605.0h0M56.8 635.5h0M61.3 616.7h0M72.0 598.4h0M60.3 620.2h0M63.0 626.9h0M63.4 629.7h0M59.3 645.5h0M65.3 601.6h0M67.3 637.0h0M56.8 645.6h0M72.4 612.8h0M66.3 626.4h0M70.6 626.5h0M70.6 629.3h0M62.9 630.8h0M63.9 600.4h0M62.2 611.5h0M67.3 623.3h0M63.0 632.1h0M61.7 623.0h0M72.1 606.1h0M68.5 612.6h0M63.5 606.0h0M57.3 618.7h0M61.7 639.5h0M63.6 602.7h0M61.6 613.5h0M73.2 617.5h0M66.3 609.1h0M71.4 618.2h0M67.6 608.1h0M57.0 654.2h0M70.5 616.7h0M70.4 630.0h0M68.2 630.4h0M68.7 633.8h0M65.3 632.8h0M60.8 601.5h0M59.6 634.2h0M60.2 619.9h0M71.2 626.2h0M61.7 633.1h0M57.5 646.4h0M72.2 590.3h0M57.9 629.5h0M63.8 612.4h0M63.7 617.0h0M74.5 588.1h0M65.1 629.0h0M68.5 601.1h0M63.0 635.7h0M61.1 615.8h0M76.7 612.9h0M76.9 597.0h0M57.1 615.6h0M67.9 625.9h0M73.3 605.5h0M58.8 644.5h0M69.2 575.7h0M59.6 655.3h0M59.2 623.4h0M72.4 607.8h0M54.0 630.1h0M58.3 653.2h0M67.5 588.0h0M70.9 619.3h0M69.6 597.1h0M61.1 608.6h0M65.8 606.6h0M60.9 615.4h0M71.9 605.1h0M57.6 639.7h0M69.5 617.5h0M64.6 612.2h0M64.1 599.8h0M73.7 593.2h0M73.4 580.8h0M64.3 604.3h0M69.3 632.1h0M70.1 623.2h0M64.8 594.3h0M60.5 640.8h0M66.4 624.4h0M52.1 633.6h0M67.0 651.7h0M67.6 608.4h0M63.9 613.9h0M64.9 618.5h0M74.2 611.3h0M68.3 611.8h0M61.4 619.2h0M64.2 634.1h0M66.6 603.4h0M57.2 627.9h0M71.1 589.0h0M63.4 630.7h0M64.4 647.7h0M64.6 637.5h0M69.1 618.4h0M70.8 603.1h0M62.5 633.9h0M62.9 646.4h0M62.8 633.4h0M66.1 613.4h0M71.9 586.1h0M68.2 596.6h0M73.6 596.6h0M62.7 624.9h0M72.3 599.4h0M64.1 620.9h0M69.1 632.4h0M73.3 620.2h0M71.2 606.9h0M67.1 641.1h0M64.4 600.9h0M55.5 637.0h0M61.0 637.0h0M62.4 645.8h0M65.4 637.1h0M69.9 625.1h0M63.7 636.2h0M67.2 601.4h0M55.4 625.8h0M65.7 612.9h0M59.4 649.1h0M71.8 618.9h0M59.8 649.3h0M73.4 585.2h0M67.3 622.5h0M59.9 635.8h0M65.1 634.8h0M63.7 636.9h0M65.7 608.9h0M62.4 639.6h0M61.9 615.5h0M65.6 615.1h0M71.8 587.5h0M60.8 641.6h0M60.3 613.7h0M59.6 639.3h0M65.7 608.3h0M68.3 588.5h0M68.1 615.0h0M66.9 636.5h0M57.0 646.7h0M63.1 613.3h0M72.5 586.4h0M65.0 627.9h0M75.8 603.8h0M61.2 625.3h0M75.7 627.9h0M75.8 592.5h0M66.8 646.9h0M59.2 654.2h0M69.9 649.9h0M62.1 608.8h0M67.9 615.2h0M69.2 600.6h0M65.2 619.1h0M53.1 637.9h0M66.3 615.4h0M63.3 605.9h0M70.2 631.0h0M61.8 646.0h0M69.6 577.5h0M68.3 638.8h0M77.0 597.8h0M64.3 622.7h0M63.9 647.9h0M66.7 639.8h0M65.1 612.5h0M68.0 609.4h0M66.7 618.1h0M65.1 632.5h0M60.5 654.2h0M66.8 622.8h0M74.2 616.8h0M59.5 630.6h0M61.1 615.1h0M62.3 631.8h0M66.0 597.1h0M65.1 614.4h0M72.4 624.3h0M66.2 637.6h0M57.5 609.6h0M54.0 650.6h0M61.9 606.3h0M66.6 605.2h0M61.0 622.0h0M70.1 615.8h0M63.1 651.1h0M63.7 621.8h0M71.1 638.5h0M56.8 648.1h0M62.1 648.1h0M70.1 623.6h0M65.2 632.7h0M65.9 624.1h0M70.0 620.8h0M54.2 652.1h0M63.6 619.0h0M75.7 628.9h0M66.5 623.2h0M58.8 636.2h0M59.8 612.9h0M70.4 625.5h0M56.3 616.9h0M65.2 605.4h0M60.0 623.5h0M59.3 626.9h0M71.0 586.7h0M66.4 601.2h0M65.6 620.3h0M64.9 610.0h0M62.8 603.0h0M72.4 627.3h0M64.7 623.7h0M54.9 635.7h0M67.8 614.3h0M66.8 610.8h0M69.8 583.6h0M65.4 655.2h0M71.4 610.8h0M59.2 656.0h0M62.8 631.8h0M69.3 609.2h0M69.9 615.0h0M63.9 639.6h0M77.6 569.3h0M68.1 616.3h0M74.7 578.0h0M63.7 632.2h0M67.3 619.9h0M67.7 616.3h0M62.6 620.8h0M71.1 606.1h0M62.8 651.8h0M56.3 640.9h0M70.7 631.3h0M59.9 628.9h0" stroke="#4a6cc8"/><path d="M68.9 597.5h0M71.8 608.4h0M69.4 626.0h0M69.4 616.0h0M64.7 636.2h0M64.5 607.3h0M68.2 620.7h0M63.2 639.8h0M59.5 649.2h0M62.4 613.5h0M64.8 648.4h0M65.5 604.3h0M70.7 629.8h0M57.3 617.4h0M74.2 611.2h0M60.3 645.6h0M69.3 613.4h0M71.4 606.2h0M66.0 614.5h0M62.6 633.4h0M78.8 638.2h0M71.8 599.1h0M60.8 622.0h0M63.1 656.9h0M64.4 591.9h0M77.0 607.8h0M64.2 636.5h0M64.3 597.0h0M63.5 596.2h0M64.7 602.8h0M71.8 595.6h0M61.7 625.3h0M73.1 608.8h0M61.6 643.4h0M66.5 610.6h0M74.0 617.0h0M59.7 622.0h0M70.8 625.8h0M66.5 627.9h0M59.9 606.4h0M64.6 613.8h0M72.7 603.4h0M62.0 643.9h0M73.1 591.6h0M60.3 632.5h0M74.3 596.3h0M58.9 606.5h0M66.1 618.7h0M64.8 637.8h0M57.3 647.7h0M60.4 609.1h0M67.9 607.5h0M69.0 605.4h0M70.5 613.9h0M62.3 620.0h0M63.0 618.0h0M69.6 578.8h0M71.8 590.4h0M64.5 620.6h0M70.5 590.6h0M62.3 610.3h0M73.9 607.1h0M58.5 637.3h0M64.3 616.3h0M73.5 625.8h0M70.2 623.6h0M54.4 648.4h0M67.4 634.4h0M73.0 577.9h0M64.3 611.3h0M67.3 626.3h0M66.8 603.8h0M66.2 633.7h0M63.1 641.5h0M59.2 627.1h0M64.1 635.1h0M65.8 594.6h0M67.3 597.4h0M75.2 591.7h0M69.9 617.2h0M61.7 641.7h0M64.0 630.3h0M63.5 634.1h0M61.7 637.9h0M69.3 609.7h0M65.6 613.3h0M58.1 646.5h0M68.5 607.6h0M65.2 651.5h0M76.2 577.1h0M69.4 599.1h0M63.0 629.5h0M58.9 627.3h0M62.1 627.3h0M68.5 636.5h0M64.0 611.7h0M67.3 653.3h0M63.2 615.4h0M75.1 600.2h0M64.3 619.9h0M62.5 625.6h0M70.0 610.8h0M65.7 640.0h0M65.0 613.6h0M72.2 586.3h0M67.7 637.6h0M62.6 599.8h0M65.4 621.3h0M61.4 631.4h0M60.7 625.0h0M63.2 612.4h0M72.6 617.3h0M57.8 630.8h0M72.4 609.7h0M61.9 611.3h0M58.8 651.2h0M65.4 623.5h0M63.2 628.9h0M72.7 616.7h0M71.0 620.5h0M66.5 654.8h0M69.9 611.1h0M58.8 645.4h0M71.2 587.5h0M60.5 629.8h0M67.6 617.0h0M63.3 631.8h0M60.7 629.2h0M61.7 618.1h0M67.9 628.2h0M69.6 633.6h0M70.4 601.2h0M74.9 625.7h0M58.7 650.2h0M56.1 647.1h0M61.8 636.7h0M70.7 627.3h0M70.4 594.0h0M62.1 605.8h0M75.8 601.8h0M70.8 616.7h0M64.7 632.3h0M68.9 625.0h0M53.7 635.0h0M64.6 606.4h0M70.3 595.3h0M67.5 626.5h0M64.4 609.4h0M67.9 637.4h0M73.4 606.8h0M63.3 650.3h0M67.4 601.5h0M66.8 603.1h0M68.8 596.7h0M68.7 636.5h0M56.8 641.6h0M62.9 653.5h0M65.0 591.8h0M63.9 604.9h0M77.2 581.9h0M66.2 628.0h0M71.3 598.9h0M71.3 605.6h0M67.8 624.9h0M71.8 619.4h0M60.4 623.0h0M67.9 630.3h0M61.6 642.2h0M70.5 622.6h0M67.5 647.6h0M72.1 620.7h0M59.4 600.0h0M67.1 633.9h0M62.4 616.6h0M61.0 613.3h0M69.3 610.1h0M65.7 645.2h0M64.0 622.1h0M70.6 615.2h0M67.9 609.3h0M65.2 614.7h0M66.4 586.4h0M59.7 631.2h0M72.4 604.2h0M66.0 629.4h0M63.6 654.2h0M62.6 618.7h0M71.5 619.8h0M67.8 627.2h0M63.3 646.3h0M69.8 602.2h0M70.7 609.0h0M65.2 647.3h0M69.3 619.1h0M61.2 629.0h0M58.6 636.4h0M65.1 588.4h0M61.1 626.7h0M70.3 605.3h0M65.6 597.6h0M68.4 627.5h0M65.9 609.6h0M68.3 616.3h0M75.2 631.5h0M70.8 586.5h0M58.2 618.9h0M62.2 638.3h0M62.1 634.0h0M66.2 628.8h0M70.2 619.3h0M65.0 613.1h0M57.9 639.5h0M63.9 651.9h0M68.5 601.4h0M68.2 625.7h0M74.1 630.8h0M60.7 619.4h0M64.1 644.2h0M75.9 580.6h0M70.4 608.8h0M67.4 639.8h0M67.3 610.4h0M52.6 637.7h0M66.1 601.4h0M63.6 625.6h0M65.2 610.9h0M70.8 627.1h0M55.7 652.6h0M70.0 639.4h0M61.5 625.9h0M65.2 615.1h0M63.8 632.6h0M64.8 627.3h0M72.5 623.7h0M72.8 624.4h0M66.3 611.4h0M79.4 603.6h0M61.6 654.7h0M68.3 604.6h0M68.7 591.1h0M64.0 600.1h0M64.0 628.5h0M65.4 622.3h0M66.7 629.0h0M60.5 609.6h0M58.2 642.1h0M57.1 635.3h0M63.3 612.7h0M58.6 605.8h0M62.7 619.9h0M52.5 647.4h0M61.3 625.2h0M66.6 616.2h0M69.7 613.5h0M64.7 599.5h0M61.7 626.9h0M69.2 628.0h0M66.1 611.6h0M71.3 630.8h0M60.2 605.8h0M61.6 632.6h0M68.7 617.7h0M68.7 637.6h0M72.4 615.0h0M63.0 633.8h0M68.7 609.1h0M70.3 623.7h0M70.9 608.4h0M59.7 617.6h0M61.8 614.4h0M52.2 638.6h0M61.3 631.3h0M59.1 640.8h0M56.0 644.6h0M62.9 634.4h0M67.1 626.0h0M72.7 592.6h0M62.3 624.7h0M68.2 614.9h0M63.9 636.4h0M58.6 622.2h0M55.8 638.1h0M75.9 593.0h0M67.3 603.1h0M69.3 591.5h0M68.7 618.3h0M63.4 608.2h0M59.5 635.9h0M69.1 614.2h0M61.5 654.9h0M63.6 624.6h0M59.2 634.6h0M67.6 619.8h0M63.3 609.5h0M75.7 574.7h0M52.2 648.1h0M70.9 633.0h0M61.9 627.8h0M59.9 636.9h0M65.5 599.7h0M65.0 615.2h0M71.7 596.3h0M63.6 637.4h0M69.9 595.9h0M65.9 648.3h0M52.5 652.8h0M60.1 645.9h0M76.6 590.2h0M60.7 594.2h0M69.8 622.9h0M71.8 610.9h0M62.1 653.1h0M67.5 596.0h0M72.2 593.6h0M69.6 622.6h0M68.9 618.0h0M72.7 574.7h0M59.3 622.9h0M59.2 617.6h0M60.7 639.6h0M68.6 610.0h0M62.4 641.1h0M63.4 641.3h0M67.3 635.7h0M68.5 647.6h0M64.1 613.9h0M69.6 598.2h0M69.7 590.6h0M62.0 624.3h0M63.7 611.7h0M75.4 634.4h0M70.7 595.9h0M66.0 625.6h0M69.2 613.4h0M64.6 651.8h0M57.6 627.1h0M70.6 608.6h0M64.2 620.7h0M58.1 621.1h0M60.5 621.1h0M63.3 603.3h0" stroke="#2f50b8"/><path d="M65.9 638.6h0M63.6 634.4h0M64.4 639.7h0M61.9 640.7h0M66.6 616.5h0M64.4 629.8h0M68.5 615.0h0M66.1 618.8h0M59.8 641.1h0M65.2 638.5h0M64.2 617.3h0M67.7 614.2h0M63.9 640.3h0M67.2 622.9h0M61.6 627.3h0M62.2 627.3h0M66.0 624.6h0M68.9 614.7h0M63.7 618.8h0M67.4 627.6h0M59.4 641.8h0M62.5 629.9h0M64.9 621.2h0M68.1 622.6h0M61.8 639.7h0M68.1 617.0h0M61.3 627.9h0M66.5 625.4h0M66.2 616.2h0M66.7 627.2h0" stroke="#7fc85a"/><path d="M63.9 636.5h0M66.8 631.3h0M64.0 635.3h0M63.6 641.9h0M60.9 637.6h0M63.6 618.3h0M61.0 631.1h0M60.7 638.6h0M61.8 630.5h0M60.5 635.9h0M65.1 641.2h0M68.0 615.9h0M67.4 625.1h0M64.4 627.5h0M67.1 625.9h0M60.9 641.8h0M62.1 627.2h0M67.4 628.7h0M65.4 619.3h0M64.0 616.0h0M65.1 615.1h0M62.1 645.4h0M62.4 635.1h0M64.9 633.0h0M65.2 618.0h0" stroke="#c8d850"/><path d="M61.9 624.1h0M65.3 626.3h0M65.5 630.4h0M66.8 623.5h0M65.7 614.5h0M61.4 635.9h0M64.7 631.2h0M65.5 616.0h0M66.9 629.6h0M64.6 644.5h0M63.5 645.3h0M62.4 629.0h0M65.8 630.9h0M65.7 614.7h0M60.8 644.6h0M65.2 632.8h0M62.4 633.6h0M67.0 626.0h0M68.5 616.7h0M62.6 621.4h0M59.5 640.3h0M66.3 635.6h0M61.2 640.1h0M65.2 624.6h0M66.5 618.5h0M65.2 630.3h0M64.7 624.0h0M61.8 632.0h0M63.3 629.8h0M62.5 634.0h0M68.8 618.2h0M64.7 633.5h0M61.4 631.5h0M63.9 631.5h0M65.8 630.4h0" stroke="#5ab48a"/><path d="M60.9 633.3h0M65.1 631.8h0M64.2 616.3h0M67.0 632.5h0M64.4 626.4h0M65.1 635.9h0M67.9 614.7h0M60.7 637.4h0M67.4 626.9h0M63.5 616.5h0M63.5 618.3h0M61.1 644.1h0M62.0 643.8h0M61.9 633.4h0M64.0 620.6h0M69.0 615.1h0M66.2 627.1h0M65.1 633.4h0M64.8 615.3h0M63.8 631.9h0M64.2 621.6h0M61.9 643.9h0M63.2 616.4h0M62.8 628.7h0M65.4 619.1h0M63.8 641.7h0M60.1 642.2h0M63.2 615.2h0M66.0 622.6h0M64.1 627.4h0" stroke="#9ad25a"/></g>
<g opacity="0.8" stroke-width="0.7" stroke-linecap="square" fill="none"><path d="M96.6 626.4h0M104.2 622.9h0M98.0 636.6h0M112.2 636.6h0M114.0 619.0h0M94.0 611.4h0M96.4 623.4h0M91.7 608.4h0" stroke="#9ab0e6"/><path d="M92.2 609.0h0M96.9 625.5h0M80.1 624.3h0M97.8 590.7h0M113.1 592.1h0M114.2 626.8h0M112.9 639.6h0M98.2 599.0h0" stroke="#8aa2e0"/><path d="M92.9 606.4h0M82.1 636.6h0M94.2 638.1h0M99.5 646.5h0M99.4 617.0h0M81.1 630.8h0M103.6 592.2h0M108.4 616.5h0M93.3 639.1h0" stroke="#6a88d8"/></g>
<rect x="49.8" y="567.7" width="96.2" height="96.5" fill="none" stroke="#9a9a9a" stroke-width="1"/>
<line x1="49.8" y1="567.2" x2="49.8" y2="664.7" stroke="#8a8a8a" stroke-width="1.1"/>
<line x1="49.3" y1="664.2" x2="146.5" y2="664.2" stroke="#8a8a8a" stroke-width="1.1"/>
<line x1="47.6" y1="664.2" x2="49.8" y2="664.2" stroke="#444" stroke-width="0.8"/>
<line x1="48.4" y1="654.55" x2="49.8" y2="654.55" stroke="#444" stroke-width="0.8"/>
<line x1="48.4" y1="644.9" x2="49.8" y2="644.9" stroke="#444" stroke-width="0.8"/>
<line x1="48.4" y1="635.25" x2="49.8" y2="635.25" stroke="#444" stroke-width="0.8"/>
<line x1="48.4" y1="625.6" x2="49.8" y2="625.6" stroke="#444" stroke-width="0.8"/>
<line x1="47.6" y1="615.95" x2="49.8" y2="615.95" stroke="#444" stroke-width="0.8"/>
<line x1="48.4" y1="606.3" x2="49.8" y2="606.3" stroke="#444" stroke-width="0.8"/>
<line x1="48.4" y1="596.65" x2="49.8" y2="596.65" stroke="#444" stroke-width="0.8"/>
<line x1="48.4" y1="587" x2="49.8" y2="587" stroke="#444" stroke-width="0.8"/>
<line x1="48.4" y1="577.35" x2="49.8" y2="577.35" stroke="#444" stroke-width="0.8"/>
<line x1="47.6" y1="567.7" x2="49.8" y2="567.7" stroke="#444" stroke-width="0.8"/>
<line x1="55.59" y1="662.4" x2="55.59" y2="664.2" stroke="#333" stroke-width="0.7"/>
<line x1="58.98" y1="662.4" x2="58.98" y2="664.2" stroke="#333" stroke-width="0.7"/>
<line x1="61.38" y1="662.4" x2="61.38" y2="664.2" stroke="#333" stroke-width="0.7"/>
<line x1="63.25" y1="662.4" x2="63.25" y2="664.2" stroke="#333" stroke-width="0.7"/>
<line x1="64.77" y1="662.4" x2="64.77" y2="664.2" stroke="#333" stroke-width="0.7"/>
<line x1="66.06" y1="662.4" x2="66.06" y2="664.2" stroke="#333" stroke-width="0.7"/>
<line x1="67.18" y1="662.4" x2="67.18" y2="664.2" stroke="#333" stroke-width="0.7"/>
<line x1="68.16" y1="662.4" x2="68.16" y2="664.2" stroke="#333" stroke-width="0.7"/>
<line x1="74.83" y1="662.4" x2="74.83" y2="664.2" stroke="#333" stroke-width="0.7"/>
<line x1="78.22" y1="662.4" x2="78.22" y2="664.2" stroke="#333" stroke-width="0.7"/>
<line x1="80.62" y1="662.4" x2="80.62" y2="664.2" stroke="#333" stroke-width="0.7"/>
<line x1="82.49" y1="662.4" x2="82.49" y2="664.2" stroke="#333" stroke-width="0.7"/>
<line x1="84.01" y1="662.4" x2="84.01" y2="664.2" stroke="#333" stroke-width="0.7"/>
<line x1="85.3" y1="662.4" x2="85.3" y2="664.2" stroke="#333" stroke-width="0.7"/>
<line x1="86.42" y1="662.4" x2="86.42" y2="664.2" stroke="#333" stroke-width="0.7"/>
<line x1="87.4" y1="662.4" x2="87.4" y2="664.2" stroke="#333" stroke-width="0.7"/>
<line x1="94.07" y1="662.4" x2="94.07" y2="664.2" stroke="#333" stroke-width="0.7"/>
<line x1="97.46" y1="662.4" x2="97.46" y2="664.2" stroke="#333" stroke-width="0.7"/>
<line x1="99.86" y1="662.4" x2="99.86" y2="664.2" stroke="#333" stroke-width="0.7"/>
<line x1="101.73" y1="662.4" x2="101.73" y2="664.2" stroke="#333" stroke-width="0.7"/>
<line x1="103.25" y1="662.4" x2="103.25" y2="664.2" stroke="#333" stroke-width="0.7"/>
<line x1="104.54" y1="662.4" x2="104.54" y2="664.2" stroke="#333" stroke-width="0.7"/>
<line x1="105.66" y1="662.4" x2="105.66" y2="664.2" stroke="#333" stroke-width="0.7"/>
<line x1="106.64" y1="662.4" x2="106.64" y2="664.2" stroke="#333" stroke-width="0.7"/>
<line x1="113.31" y1="662.4" x2="113.31" y2="664.2" stroke="#333" stroke-width="0.7"/>
<line x1="116.7" y1="662.4" x2="116.7" y2="664.2" stroke="#333" stroke-width="0.7"/>
<line x1="119.1" y1="662.4" x2="119.1" y2="664.2" stroke="#333" stroke-width="0.7"/>
<line x1="120.97" y1="662.4" x2="120.97" y2="664.2" stroke="#333" stroke-width="0.7"/>
<line x1="122.49" y1="662.4" x2="122.49" y2="664.2" stroke="#333" stroke-width="0.7"/>
<line x1="123.78" y1="662.4" x2="123.78" y2="664.2" stroke="#333" stroke-width="0.7"/>
<line x1="124.9" y1="662.4" x2="124.9" y2="664.2" stroke="#333" stroke-width="0.7"/>
<line x1="125.88" y1="662.4" x2="125.88" y2="664.2" stroke="#333" stroke-width="0.7"/>
<line x1="132.55" y1="662.4" x2="132.55" y2="664.2" stroke="#333" stroke-width="0.7"/>
<line x1="135.94" y1="662.4" x2="135.94" y2="664.2" stroke="#333" stroke-width="0.7"/>
<line x1="138.34" y1="662.4" x2="138.34" y2="664.2" stroke="#333" stroke-width="0.7"/>
<line x1="140.21" y1="662.4" x2="140.21" y2="664.2" stroke="#333" stroke-width="0.7"/>
<line x1="141.73" y1="662.4" x2="141.73" y2="664.2" stroke="#333" stroke-width="0.7"/>
<line x1="143.02" y1="662.4" x2="143.02" y2="664.2" stroke="#333" stroke-width="0.7"/>
<line x1="144.14" y1="662.4" x2="144.14" y2="664.2" stroke="#333" stroke-width="0.7"/>
<line x1="145.12" y1="662.4" x2="145.12" y2="664.2" stroke="#333" stroke-width="0.7"/>
<line x1="49.8" y1="664.2" x2="49.8" y2="666.2" stroke="#333" stroke-width="0.8"/>
<text x="50.4" y="677.4" font-size="9.8" text-anchor="end" fill="#1a1a1a" textLength="9.6" lengthAdjust="spacingAndGlyphs">10</text>
<text x="50.7" y="673.4" font-size="5.4">2</text>
<line x1="69.04" y1="664.2" x2="69.04" y2="666.2" stroke="#333" stroke-width="0.8"/>
<text x="69.64" y="677.4" font-size="9.8" text-anchor="end" fill="#1a1a1a" textLength="9.6" lengthAdjust="spacingAndGlyphs">10</text>
<text x="69.94" y="673.4" font-size="5.4">3</text>
<line x1="88.28" y1="664.2" x2="88.28" y2="666.2" stroke="#333" stroke-width="0.8"/>
<text x="88.88" y="677.4" font-size="9.8" text-anchor="end" fill="#1a1a1a" textLength="9.6" lengthAdjust="spacingAndGlyphs">10</text>
<text x="89.18" y="673.4" font-size="5.4">4</text>
<line x1="107.52" y1="664.2" x2="107.52" y2="666.2" stroke="#333" stroke-width="0.8"/>
<text x="108.12" y="677.4" font-size="9.8" text-anchor="end" fill="#1a1a1a" textLength="9.6" lengthAdjust="spacingAndGlyphs">10</text>
<text x="108.42" y="673.4" font-size="5.4">5</text>
<line x1="126.76" y1="664.2" x2="126.76" y2="666.2" stroke="#333" stroke-width="0.8"/>
<text x="127.36" y="677.4" font-size="9.8" text-anchor="end" fill="#1a1a1a" textLength="9.6" lengthAdjust="spacingAndGlyphs">10</text>
<text x="127.66" y="673.4" font-size="5.4">6</text>
<line x1="146" y1="664.2" x2="146" y2="666.2" stroke="#333" stroke-width="0.8"/>
<text x="146.6" y="677.4" font-size="9.8" text-anchor="end" fill="#1a1a1a" textLength="9.6" lengthAdjust="spacingAndGlyphs">10</text>
<text x="146.9" y="673.4" font-size="5.4">7</text>
<text x="44.8" y="564.9" font-size="10.5" text-anchor="middle" textLength="15.6" lengthAdjust="spacingAndGlyphs" transform="rotate(-90 44.8 564.9)">100</text>
<text x="44.8" y="615.95" font-size="10.5" text-anchor="middle" textLength="10.4" lengthAdjust="spacingAndGlyphs" transform="rotate(-90 44.8 615.95)">50</text>
<text x="44.8" y="664.2" font-size="10.5" text-anchor="middle" textLength="5.2" lengthAdjust="spacingAndGlyphs" transform="rotate(-90 44.8 664.2)">0</text>
<text x="75.9" y="690.3" font-size="9" textLength="46" lengthAdjust="spacingAndGlyphs">PE-CD206</text>
<polygon points="79.4,574.2 121.9,572.4 110.5,650.2 74.3,650.6" fill="none" stroke="#1a1a1a" stroke-width="1.1"/>
<text x="75.9" y="565.4" font-size="9" textLength="33.9" lengthAdjust="spacingAndGlyphs">miR-NC</text>
<text x="84.6" y="585.9" font-size="9.2" textLength="33.4" lengthAdjust="spacingAndGlyphs">(2.46%)</text>
<text x="30.9" y="612.6" font-size="8.6" text-anchor="middle" textLength="24.7" lengthAdjust="spacingAndGlyphs" transform="rotate(-90 30.9 612.6)">SSC-A</text>
<text x="32.4" y="548.4" font-size="7.8" text-anchor="middle" letter-spacing="0.35" transform="rotate(-90 32.4 548.4)">(x 10<tspan font-size="6.6" dy="-4.6">4</tspan><tspan dy="4.6">)</tspan></text>
<g opacity="0.6" stroke-width="0.6" stroke-linecap="square" fill="none"><path d="M227.5 643.2h0M218.2 623.7h0M216.2 615.9h0M221.0 638.2h0M230.6 611.8h0M235.8 587.4h0M223.7 633.4h0M222.1 638.9h0M221.0 614.0h0M219.2 630.9h0M227.9 588.8h0M213.6 652.8h0M219.4 614.1h0M213.9 646.7h0M219.1 627.7h0M221.2 631.9h0M235.9 625.5h0M220.8 614.9h0M215.5 646.3h0M228.0 656.9h0M230.2 624.4h0M219.8 645.7h0M228.4 628.2h0M230.4 615.8h0M233.6 598.7h0M223.7 629.6h0M219.4 651.6h0M232.1 622.0h0M223.9 639.0h0M222.1 603.8h0M225.5 634.0h0M223.9 602.7h0M219.6 614.1h0M224.3 648.7h0M219.0 624.0h0M219.1 646.0h0M222.9 620.3h0M227.5 625.2h0M217.5 611.9h0M223.5 657.1h0M235.4 641.6h0M227.2 615.5h0M229.8 593.9h0M225.1 631.0h0M218.9 639.7h0M218.2 624.5h0M212.9 649.7h0M222.4 640.9h0M222.4 615.4h0M222.1 625.6h0M225.8 609.7h0M229.6 603.5h0M222.5 637.7h0M228.4 632.1h0M216.5 654.0h0M232.4 593.9h0M232.7 645.8h0M233.2 619.8h0M221.1 626.1h0M230.1 623.4h0M213.8 648.1h0M224.1 636.8h0M224.3 606.0h0M224.3 617.8h0M226.8 591.2h0M226.0 639.6h0M226.4 608.5h0M221.7 597.3h0M222.6 641.7h0M226.7 635.1h0M221.0 637.2h0M221.6 617.2h0M210.7 638.2h0M230.5 633.3h0M228.9 638.5h0M223.5 653.5h0M216.4 628.6h0M226.9 628.2h0M224.3 631.3h0M225.7 608.8h0M222.5 606.2h0M229.7 611.0h0M211.8 633.5h0M221.3 625.7h0M217.7 631.2h0M208.2 651.0h0M219.8 638.1h0M221.2 633.0h0M231.3 617.6h0M221.8 629.4h0M229.3 623.7h0M227.2 628.2h0M220.2 639.3h0M219.5 627.6h0M221.5 643.6h0M227.9 621.8h0M215.6 625.4h0M214.2 652.0h0M216.1 648.2h0M226.3 647.8h0M215.2 653.2h0M225.9 605.5h0M217.5 620.9h0M227.5 646.1h0M221.1 623.9h0M232.0 611.5h0M216.9 635.9h0M230.1 628.2h0M224.9 642.2h0M232.6 618.5h0M231.2 631.8h0M214.9 614.0h0M226.4 628.5h0M218.7 631.3h0M219.1 630.2h0M221.6 603.2h0M216.3 647.8h0M215.3 644.5h0M219.1 646.8h0M215.3 654.2h0M223.2 653.5h0M218.4 631.3h0M225.0 600.3h0M228.0 642.4h0M221.1 627.7h0M228.0 626.6h0M224.7 638.7h0M214.7 646.3h0M225.2 616.5h0M226.5 637.4h0M219.8 628.0h0M228.2 609.2h0M226.1 623.3h0M226.6 622.8h0M224.7 651.2h0M226.2 637.0h0M225.4 621.3h0M229.7 626.7h0M231.6 610.4h0M223.1 623.1h0M220.4 614.7h0M220.0 635.5h0M221.0 633.1h0M228.2 627.7h0M218.4 639.5h0M234.9 630.7h0M215.1 625.1h0M231.6 577.7h0M217.0 631.6h0M219.0 639.0h0M215.0 627.4h0M221.8 628.9h0M212.0 626.6h0M217.7 627.6h0M217.5 634.0h0M225.1 611.3h0M220.7 636.8h0M217.4 627.1h0M223.5 614.9h0M217.2 615.6h0M228.2 612.8h0M216.3 613.2h0M217.7 632.4h0M226.5 615.5h0M230.1 623.7h0M235.3 642.1h0M229.1 609.5h0M223.9 637.2h0M232.9 603.3h0M227.1 622.6h0M226.7 635.9h0M222.4 609.2h0M214.6 650.3h0M224.1 629.0h0M224.5 626.9h0M223.4 647.0h0M232.0 619.3h0M223.0 631.8h0M226.4 615.6h0M224.6 656.5h0M217.4 641.4h0M225.9 628.6h0M226.1 599.4h0M223.0 648.2h0M229.9 614.8h0M227.4 610.0h0M210.4 653.8h0M219.6 633.0h0M226.3 651.5h0M220.3 634.3h0M224.6 639.4h0M222.1 613.1h0M207.8 632.5h0M220.1 633.9h0M218.0 611.8h0M228.7 612.9h0M232.0 613.8h0M235.7 606.0h0M224.9 631.2h0M222.2 627.5h0M225.4 627.5h0M220.6 634.4h0M222.2 622.6h0M219.2 639.5h0M214.4 639.8h0M229.3 629.4h0M227.2 621.5h0M225.2 620.9h0M228.2 620.5h0M218.7 645.4h0M219.0 630.8h0M222.8 613.8h0M223.7 635.6h0M225.9 629.9h0M226.9 611.7h0M228.8 613.9h0M222.6 627.3h0M221.5 614.5h0M218.3 625.4h0M230.0 633.6h0M232.4 616.5h0M219.3 609.2h0M210.8 652.9h0M219.8 641.5h0M225.4 620.8h0M219.4 623.1h0M225.2 649.4h0M221.5 650.0h0M225.8 607.3h0M218.3 625.1h0M230.0 623.3h0M216.6 630.0h0M222.5 641.0h0M209.3 632.4h0M225.4 616.9h0M221.8 622.1h0M217.6 616.2h0M222.6 646.0h0M227.3 609.3h0M229.3 629.6h0M216.6 632.5h0M224.0 621.6h0M223.3 602.5h0M222.7 634.0h0M233.2 594.3h0M224.0 651.5h0M226.0 633.2h0M225.2 647.9h0M217.4 648.8h0M231.6 628.3h0M218.9 610.4h0M225.3 624.9h0M217.8 656.8h0M227.5 641.2h0M219.0 647.8h0M215.6 612.3h0M232.2 601.6h0M226.5 647.9h0M219.3 608.1h0M213.8 650.1h0M220.4 616.5h0M223.5 624.5h0M216.3 631.4h0M219.7 632.2h0M224.8 614.5h0M220.0 635.2h0M218.4 647.4h0M220.1 626.4h0M222.3 628.7h0M226.6 625.8h0M225.2 605.8h0M230.4 634.6h0M222.8 637.7h0M224.7 638.3h0M216.1 616.2h0M217.4 656.9h0M219.1 644.5h0M212.5 647.5h0M230.0 609.0h0M220.5 623.1h0M213.1 635.5h0M221.4 648.0h0M227.0 630.0h0M223.2 602.2h0M220.0 629.5h0M225.2 651.7h0M215.5 637.8h0M211.5 643.2h0M228.3 603.8h0M224.6 610.2h0M217.8 622.4h0M225.8 607.9h0M225.5 641.5h0M218.1 629.8h0M209.9 650.7h0M229.3 618.3h0M223.9 640.7h0" stroke="#7c94dc"/><path d="M233.2 623.6h0M216.9 632.3h0M225.3 622.1h0M227.1 616.3h0M224.5 615.1h0M223.0 635.0h0M221.7 600.3h0M216.2 632.8h0M226.4 647.4h0M236.1 616.5h0M231.9 604.1h0M222.3 652.8h0M229.9 626.4h0M228.6 628.5h0M221.7 629.4h0M220.2 636.6h0M226.5 627.7h0M223.6 614.0h0M216.1 635.5h0M230.7 613.4h0M224.8 621.1h0M228.1 625.1h0M223.1 581.1h0M220.3 622.4h0M218.5 635.6h0M229.2 627.9h0M233.2 620.7h0M222.0 645.4h0M225.6 632.3h0M221.9 654.5h0M220.4 639.0h0M220.0 654.2h0M214.9 620.1h0M217.8 617.2h0M221.4 656.8h0M226.2 624.7h0M227.0 594.6h0M206.7 651.0h0M217.6 654.3h0M228.2 642.7h0M226.2 629.8h0M226.6 626.3h0M219.9 603.1h0M232.1 604.4h0M221.7 626.4h0M227.2 639.3h0M217.9 613.7h0M219.4 616.4h0M226.5 623.5h0M221.6 613.1h0M225.8 653.9h0M222.2 614.1h0M228.5 640.1h0M219.7 618.5h0M228.7 635.8h0M219.0 626.5h0M218.2 630.6h0M228.1 600.5h0M207.3 652.8h0M226.7 642.2h0M233.5 600.2h0M221.8 615.0h0M212.4 634.0h0M228.5 610.5h0M222.1 645.5h0M221.8 636.1h0M227.9 631.3h0M221.5 636.0h0M223.5 633.2h0M228.3 611.2h0M232.8 624.7h0M221.3 646.3h0M227.8 604.9h0M225.4 655.2h0M230.8 639.6h0M219.0 647.0h0M219.3 646.7h0M217.9 648.4h0M225.2 615.1h0M229.2 603.4h0M227.9 628.0h0M223.6 656.1h0M213.5 628.6h0M227.7 640.6h0M225.5 624.3h0M223.5 627.7h0M230.3 632.0h0M214.6 635.6h0M228.9 595.9h0M224.5 631.3h0M219.4 641.9h0M224.4 644.9h0M224.4 630.5h0M218.0 636.4h0M217.6 636.8h0M223.5 648.4h0M216.6 637.8h0M231.7 623.8h0M226.2 644.5h0M213.7 636.5h0M217.3 651.2h0M214.1 654.5h0M215.6 633.9h0M210.5 639.3h0M232.5 614.3h0M219.4 644.2h0M233.7 599.8h0M220.5 639.4h0M219.8 653.1h0M208.5 652.7h0M227.1 637.6h0M225.0 652.3h0M214.4 644.1h0M222.7 638.8h0M225.6 634.0h0M213.8 611.2h0M216.8 642.0h0M218.9 643.1h0M227.5 637.1h0M218.2 610.0h0M220.9 636.7h0M221.9 626.4h0M220.9 615.8h0M223.5 635.0h0M228.5 629.2h0M225.9 647.1h0M209.6 640.1h0M212.9 650.4h0M233.5 599.0h0M217.0 639.3h0M229.7 578.9h0M220.4 621.8h0M229.9 627.0h0M211.8 625.3h0M225.7 616.4h0M215.9 625.9h0M211.0 657.2h0M214.8 628.5h0M220.9 626.1h0M216.8 633.6h0M216.0 630.8h0M228.3 613.3h0M226.2 639.8h0M221.8 637.0h0M208.4 653.7h0M226.6 653.7h0M218.4 649.9h0M227.6 591.3h0M216.1 608.4h0M220.0 637.6h0M227.7 633.5h0M221.6 627.8h0M221.4 656.1h0M224.6 638.6h0M225.9 592.2h0M227.4 634.3h0M225.5 633.4h0M209.0 653.6h0M224.5 636.6h0M219.8 617.0h0M215.6 653.5h0M218.1 634.1h0M224.3 614.5h0M226.9 611.6h0M220.5 636.5h0M224.3 605.2h0M234.4 622.6h0M223.8 623.6h0M220.5 625.9h0M217.2 649.2h0M221.5 617.2h0M224.9 633.6h0M225.3 615.5h0M229.2 640.0h0M207.2 640.3h0M230.3 604.1h0M212.1 631.3h0M228.6 600.9h0M211.8 630.6h0M229.6 614.0h0M224.8 640.7h0M220.5 621.4h0M229.9 593.3h0M231.4 613.6h0M216.5 639.7h0M216.1 651.6h0M228.2 626.3h0M225.8 646.2h0M227.4 638.1h0M219.8 630.7h0M220.2 640.0h0M227.5 616.5h0M226.6 615.3h0M216.9 632.9h0M224.7 637.8h0M227.7 630.1h0M222.2 624.4h0M232.2 611.3h0M217.1 616.9h0M224.9 610.5h0M228.6 628.2h0M226.8 601.2h0M212.6 616.7h0M221.6 655.5h0M224.4 614.5h0M223.0 625.4h0M215.2 646.4h0M223.7 629.9h0M233.5 612.3h0M212.6 639.1h0M221.5 652.3h0M219.0 624.2h0M232.1 641.3h0M222.4 635.0h0M226.4 639.5h0M220.2 633.0h0M229.5 637.3h0M221.7 629.6h0M220.7 638.3h0M211.0 611.7h0M216.1 621.5h0M218.8 612.7h0M220.2 646.3h0M219.7 648.0h0M229.7 622.6h0M222.2 615.9h0M225.3 620.6h0M213.4 615.7h0M232.1 631.0h0M231.2 607.5h0M223.4 635.8h0M223.9 612.1h0M227.8 631.0h0M212.5 638.3h0M232.2 602.8h0M230.1 642.5h0M223.2 638.5h0M218.1 633.1h0M213.1 626.9h0M220.7 638.8h0M228.5 643.8h0M221.6 623.1h0M219.3 629.6h0M213.2 619.2h0M224.0 630.1h0M220.8 627.3h0M225.7 618.2h0M220.4 619.3h0M227.1 609.6h0M205.7 639.6h0M225.7 615.0h0M225.2 617.0h0M219.7 631.3h0M224.1 624.6h0M220.7 613.1h0M214.6 646.8h0M231.0 588.2h0M225.4 616.3h0M210.9 642.0h0M228.7 611.8h0M226.7 630.8h0M223.0 621.3h0M224.7 638.1h0M225.6 651.8h0M219.5 641.0h0M222.5 653.2h0M222.6 619.6h0M229.5 641.7h0M220.8 636.0h0M219.4 627.2h0M224.5 639.7h0M223.3 635.6h0M213.0 627.7h0M216.7 654.2h0M211.4 617.8h0M219.5 646.3h0M224.5 622.9h0M220.7 624.1h0M218.3 628.6h0M223.0 611.9h0M214.4 627.5h0M231.5 597.7h0M226.8 650.0h0M212.8 633.3h0M213.4 625.2h0M215.0 626.0h0M221.6 631.6h0M221.9 610.5h0M222.1 635.5h0M224.1 603.2h0M219.0 638.2h0M218.5 637.5h0M225.4 619.9h0M226.3 609.1h0M224.9 653.2h0M225.1 604.2h0M226.3 627.6h0M217.4 624.2h0M233.5 655.4h0M215.9 605.7h0M227.8 650.0h0M222.9 616.8h0M222.5 640.3h0M232.0 597.1h0M226.9 612.9h0M216.5 631.2h0M222.4 614.6h0M228.3 604.0h0M218.9 616.0h0M227.6 621.9h0M214.6 650.7h0M222.3 651.1h0M223.9 613.0h0M233.4 610.1h0M216.7 634.0h0M225.6 640.0h0M219.6 613.8h0M224.0 628.0h0M221.8 640.5h0M219.5 643.8h0M221.5 631.1h0M226.2 652.1h0M221.3 595.5h0M224.9 613.5h0M222.5 636.7h0M222.8 626.9h0M223.7 618.8h0M218.0 634.0h0M216.8 641.0h0M221.4 628.1h0M220.2 651.9h0M221.4 615.3h0M227.5 617.7h0M215.2 628.0h0M208.1 655.3h0M215.7 634.9h0M226.3 618.3h0M218.9 610.9h0M222.5 619.1h0M217.4 629.2h0M219.9 630.4h0M225.4 598.5h0M226.7 629.1h0M231.6 610.2h0M228.2 608.4h0M226.4 603.0h0M228.7 607.9h0M229.5 632.8h0M225.0 637.5h0M227.7 640.0h0M222.1 631.0h0M223.0 634.9h0M217.6 633.5h0M216.0 647.6h0M223.1 642.9h0M214.5 650.0h0M218.5 641.8h0M229.6 612.5h0M221.6 642.6h0M226.8 605.0h0" stroke="#5a7ad0"/><path d="M215.7 637.2h0M213.6 630.9h0M221.4 636.5h0M218.7 635.3h0M221.6 636.5h0M228.9 634.1h0M210.8 639.8h0M235.2 634.6h0M207.9 622.3h0M215.9 636.5h0M224.0 648.8h0M221.7 617.5h0M231.4 620.3h0M219.1 630.5h0M219.6 618.7h0M221.8 640.2h0M229.7 612.3h0M225.5 629.0h0M225.5 613.4h0M212.0 645.1h0M217.1 619.7h0M221.7 630.7h0M229.8 650.7h0M232.2 627.3h0M222.9 628.8h0M227.8 622.0h0M222.0 656.5h0M221.9 628.0h0M217.5 624.4h0M219.9 617.6h0M212.8 646.3h0M227.9 630.6h0M222.4 625.4h0M213.7 634.4h0M221.4 652.8h0M227.5 628.5h0M219.0 633.4h0M230.6 643.7h0M227.6 625.5h0M226.9 645.7h0M223.8 617.9h0M223.0 613.9h0M226.7 605.9h0M231.1 629.9h0M228.4 612.5h0M223.2 627.7h0M227.9 609.7h0M227.9 635.9h0M226.3 627.3h0M223.8 631.0h0M229.5 628.1h0M221.2 655.4h0M230.3 616.5h0M215.9 656.6h0M213.0 634.6h0M227.4 616.6h0M221.5 633.8h0M218.0 630.1h0M211.6 654.0h0M222.0 643.1h0M226.4 652.6h0M219.2 634.3h0M227.4 640.1h0M221.4 654.6h0M223.0 640.2h0M225.8 632.7h0M222.2 627.1h0M228.5 617.5h0M219.9 617.0h0M228.0 604.8h0M224.8 621.5h0M222.7 619.7h0M210.3 635.3h0M221.2 631.7h0M219.9 643.1h0M214.1 654.9h0M230.7 602.5h0M223.4 612.1h0M234.4 622.7h0M211.5 650.8h0M232.9 612.8h0M225.0 613.6h0M219.0 649.0h0M222.6 619.7h0M211.1 630.8h0M233.9 605.3h0M230.0 634.9h0M212.1 625.4h0M227.9 611.2h0M222.1 627.4h0M222.7 593.2h0M220.2 623.2h0M215.9 623.7h0M234.4 627.9h0M222.8 619.5h0M216.9 648.0h0M211.6 641.0h0M235.8 591.8h0M221.5 613.8h0M222.9 636.1h0M212.1 634.2h0M221.8 601.5h0M223.9 620.6h0M220.9 613.5h0M226.7 625.6h0M227.8 630.8h0M221.0 626.3h0M221.7 629.8h0M229.2 623.5h0M217.2 627.9h0M221.3 622.1h0M221.3 614.8h0M211.8 650.0h0M220.0 641.7h0M226.9 619.1h0M224.8 638.4h0M226.6 634.4h0M219.6 636.7h0M219.2 625.3h0M218.1 618.1h0M216.9 652.1h0M224.8 597.0h0M222.7 640.6h0M227.1 613.7h0M215.1 631.9h0M224.6 638.0h0M222.5 644.4h0M225.8 618.6h0M214.0 643.3h0M227.9 626.1h0M224.5 627.4h0M220.4 625.0h0M221.3 631.1h0M231.7 597.8h0M217.1 624.2h0M225.0 640.6h0M227.2 620.2h0M218.8 625.0h0M235.3 595.6h0M233.3 616.1h0M221.2 636.2h0M227.0 626.3h0M220.0 618.5h0M221.1 620.6h0M223.6 652.1h0M221.0 631.1h0M225.4 623.6h0M214.0 643.2h0M224.3 616.9h0M218.8 654.1h0M222.2 627.0h0M218.8 639.8h0M228.1 593.4h0M225.4 626.6h0M222.2 601.3h0M216.2 629.4h0M225.7 611.1h0M220.1 608.9h0M229.1 629.3h0M219.4 641.8h0M232.2 636.8h0M220.2 653.8h0M214.4 643.4h0M225.1 655.2h0M214.7 635.8h0M218.1 624.5h0M226.0 595.6h0M230.3 593.7h0M219.0 632.9h0M234.8 599.2h0M227.7 631.2h0M221.8 633.5h0M226.1 609.0h0M224.2 646.0h0M219.1 646.7h0M220.1 655.1h0M232.2 610.7h0M223.0 602.1h0M230.5 623.1h0M225.2 625.7h0M229.4 624.7h0M231.2 614.7h0M218.8 615.8h0M212.9 648.8h0M223.2 607.0h0M228.5 610.2h0M224.5 616.2h0M233.7 618.4h0M221.6 640.4h0M207.5 626.3h0M222.8 629.0h0M226.9 592.5h0M225.4 598.8h0M214.8 649.0h0M224.5 631.0h0M219.6 627.8h0M216.6 638.6h0M227.3 651.9h0M228.1 636.2h0M227.8 622.8h0M220.2 634.8h0M227.2 620.7h0M226.3 638.9h0M212.2 652.9h0M220.6 626.9h0M229.0 640.3h0M223.4 610.0h0M227.6 626.7h0M225.1 640.0h0M222.3 639.5h0M224.0 643.4h0M220.0 622.1h0M225.2 648.0h0M222.7 625.9h0M223.5 610.2h0M231.9 625.1h0M227.4 619.4h0M223.9 619.5h0M226.8 640.2h0M225.5 645.2h0M217.3 613.0h0M214.8 644.0h0M225.8 631.4h0M226.3 610.1h0M229.6 641.8h0M220.9 634.3h0M216.2 650.3h0M224.4 608.8h0M231.0 614.0h0M222.5 638.5h0M231.3 615.5h0M228.8 601.2h0M223.9 645.6h0M224.9 653.1h0M224.8 623.2h0M232.0 620.9h0M216.1 631.2h0M217.0 636.6h0M227.7 622.3h0M214.2 638.9h0M224.6 646.4h0M225.1 639.5h0M230.2 652.4h0M230.0 614.0h0M218.0 634.9h0M223.0 626.5h0M226.4 606.1h0M217.9 627.5h0M226.5 607.8h0M224.4 639.7h0M225.1 633.5h0M222.5 605.6h0M229.5 611.6h0M225.4 649.3h0M227.2 613.6h0M236.0 617.7h0M222.2 633.7h0M215.9 619.5h0M216.8 620.5h0M227.9 617.8h0M220.4 633.9h0M220.6 601.8h0M221.1 616.0h0M224.9 650.5h0M221.8 629.4h0M217.5 649.3h0M231.0 589.8h0M223.9 632.6h0M221.9 625.8h0M222.1 646.0h0M216.3 645.3h0M229.9 623.3h0M215.8 654.1h0M232.7 648.8h0M221.3 629.8h0M224.5 619.7h0M211.9 625.1h0M224.1 609.2h0M226.9 618.9h0M227.7 618.1h0M218.5 615.2h0M235.8 616.7h0M233.3 590.2h0M220.1 649.4h0M223.6 633.5h0M223.4 600.9h0M212.9 650.7h0M223.0 623.2h0M215.6 605.6h0M223.1 622.8h0M223.4 617.2h0M220.0 618.0h0M223.6 640.7h0M221.1 647.0h0M220.9 648.7h0M230.0 599.8h0M217.1 618.8h0M229.4 606.7h0M227.9 637.1h0M225.4 616.2h0M219.3 617.0h0M227.7 626.7h0M212.2 648.2h0M224.1 636.7h0M218.3 638.2h0M229.2 643.2h0M230.5 624.9h0M219.1 621.7h0M229.8 627.9h0M236.6 610.5h0M220.5 650.7h0M226.3 615.6h0M216.9 628.3h0M220.6 648.4h0M217.6 650.5h0M224.0 623.3h0" stroke="#6a88d8"/><path d="M225.3 600.5h0M229.7 614.5h0M221.4 644.8h0M217.4 606.2h0M228.0 647.7h0M227.9 597.8h0M214.3 645.1h0M213.0 613.3h0M218.0 611.2h0M216.9 624.7h0M212.8 634.6h0M226.6 595.4h0M218.3 600.5h0M228.3 630.6h0M221.1 618.9h0M233.3 621.4h0M227.5 632.1h0M209.0 634.5h0M217.0 628.1h0M219.6 640.2h0M216.1 632.6h0M219.1 624.9h0M225.0 619.0h0M219.6 626.4h0M222.9 640.9h0M232.2 611.4h0M219.5 630.2h0M213.6 650.3h0M223.0 624.7h0M224.1 634.2h0M222.9 617.0h0M217.7 623.0h0M228.2 644.0h0M219.0 631.4h0M227.9 639.1h0M230.8 607.7h0M214.8 625.8h0M220.1 645.8h0M210.0 640.2h0M222.5 616.0h0M223.6 614.7h0M216.9 635.4h0M220.3 627.1h0M224.2 645.1h0M224.2 625.4h0M228.3 618.3h0M231.6 603.1h0M224.6 616.3h0M232.2 647.9h0M223.5 633.3h0M223.3 615.0h0M221.1 614.2h0M227.2 650.1h0M217.5 641.9h0M225.0 632.5h0M222.2 621.1h0M213.4 617.1h0M217.8 649.1h0M217.3 656.2h0M214.1 627.3h0M217.2 617.1h0M224.7 639.2h0M221.3 615.1h0M214.4 636.1h0M233.1 630.6h0M214.1 625.2h0M225.3 630.3h0M223.7 646.7h0M230.3 641.7h0M228.6 613.2h0M227.1 632.8h0M223.6 649.4h0M222.3 630.8h0M230.4 634.3h0M226.4 634.5h0M232.6 620.7h0M221.8 637.2h0M217.5 628.9h0M222.3 638.2h0M227.7 621.3h0M216.6 631.3h0M222.0 635.8h0M218.4 642.6h0M220.3 617.8h0M224.8 605.7h0M221.7 652.0h0M226.0 635.4h0M222.8 649.8h0M217.2 652.6h0M221.5 624.8h0M209.9 631.3h0M225.7 639.2h0M215.8 635.7h0M219.9 604.5h0M230.6 630.7h0M227.0 618.3h0M225.7 613.4h0M234.0 614.9h0M224.2 643.3h0M225.8 645.3h0M217.7 631.8h0M221.7 622.2h0M230.0 622.1h0M227.8 591.6h0M211.4 647.0h0M223.9 609.2h0M220.9 609.7h0M214.7 646.0h0M219.7 633.7h0M233.9 612.8h0M229.8 596.2h0M217.2 657.1h0M225.0 618.5h0M212.3 644.9h0M215.4 652.1h0M223.0 612.1h0M224.8 604.6h0M231.9 619.3h0M216.6 638.3h0M221.0 626.3h0M217.6 622.9h0M220.3 613.5h0M234.7 619.9h0M214.4 620.9h0M225.4 647.0h0M226.0 633.0h0M215.8 645.8h0M214.9 620.5h0M224.9 609.2h0M233.0 611.2h0M222.2 655.8h0M218.5 626.3h0M221.1 621.8h0M217.1 647.0h0M221.2 628.7h0M230.6 613.6h0M222.2 623.3h0M223.9 620.2h0M222.6 628.7h0M226.2 594.6h0M221.5 639.9h0M226.7 643.4h0M219.6 622.5h0M219.1 626.3h0M224.5 624.7h0M224.2 577.5h0M215.8 621.8h0M220.5 624.9h0M219.1 613.9h0M220.5 652.0h0M224.9 621.5h0M227.8 616.7h0M233.5 626.0h0M219.2 626.3h0M226.2 635.7h0M231.7 635.1h0M213.8 626.6h0M215.4 627.8h0M220.6 619.8h0M219.5 635.3h0M230.5 619.7h0M233.0 633.4h0M221.8 644.5h0M220.7 638.9h0M227.3 611.2h0M221.4 648.7h0M221.2 630.2h0M224.5 643.8h0M234.0 645.4h0M226.9 623.2h0M216.4 656.9h0M224.8 589.3h0M218.7 623.0h0M222.0 652.9h0M219.0 625.9h0M215.0 631.7h0M218.5 655.5h0M211.5 636.1h0M218.8 633.5h0M229.4 603.3h0M228.1 628.5h0M223.2 631.1h0M221.0 635.9h0M220.1 630.6h0M215.8 634.8h0M223.4 655.9h0M217.0 612.1h0M221.6 633.6h0M224.1 607.7h0M222.1 610.1h0M224.2 628.4h0M214.4 641.1h0M221.1 630.7h0M218.9 628.4h0M220.3 653.5h0M231.5 620.5h0M223.3 625.1h0M228.8 600.1h0M225.8 619.3h0M228.8 636.7h0M222.2 618.5h0M227.1 621.3h0M218.7 631.4h0M221.0 613.2h0M221.0 628.2h0M220.5 656.6h0M223.6 654.3h0M227.9 628.4h0M221.7 616.8h0M223.7 636.4h0M230.9 624.1h0M228.0 601.8h0M220.7 656.4h0M222.7 647.3h0M217.7 614.8h0M226.0 592.8h0M215.8 642.0h0M232.1 608.8h0M231.3 614.9h0M214.5 643.7h0M225.1 627.3h0M217.6 630.7h0M222.1 638.2h0M224.7 628.0h0M224.4 611.6h0M215.7 651.4h0M226.3 615.6h0M213.7 621.5h0M230.2 615.3h0M216.9 631.4h0M219.1 626.2h0M226.7 629.6h0M212.4 648.6h0M227.9 621.7h0M224.0 649.6h0M223.9 619.6h0M221.9 642.1h0M231.8 587.7h0M225.3 619.8h0M221.9 642.4h0M221.7 625.4h0M220.8 611.0h0M222.1 611.9h0M226.8 617.5h0M213.2 642.9h0M228.9 611.8h0M226.4 632.4h0M225.7 598.3h0M213.0 629.6h0M230.0 638.7h0M218.1 647.4h0M220.2 622.8h0M224.2 638.9h0M213.8 642.6h0M217.7 614.2h0M216.0 624.0h0M223.5 612.8h0M218.2 620.5h0M226.4 618.0h0M209.4 657.0h0M219.7 633.5h0M216.0 648.7h0M225.2 618.7h0M220.3 625.3h0M216.2 624.4h0M232.8 633.3h0M226.5 625.0h0M217.3 623.8h0M226.6 602.8h0M213.7 641.6h0M232.5 626.0h0M233.6 616.3h0M222.7 618.9h0M225.5 590.4h0M217.4 631.9h0M231.8 600.8h0M227.8 628.9h0M225.6 653.4h0M220.5 626.8h0M223.4 608.9h0M217.7 610.5h0M216.3 638.3h0M224.5 649.3h0M228.3 621.1h0M221.4 638.8h0M221.8 655.0h0M222.3 643.7h0M220.5 640.9h0M231.9 618.2h0M220.8 643.1h0M220.7 618.4h0M214.4 640.7h0M229.3 590.9h0M224.5 624.8h0M232.4 621.8h0M225.3 628.1h0M223.0 657.1h0M226.8 611.5h0M214.9 642.5h0M214.1 622.0h0M222.1 620.5h0M218.2 628.1h0M226.0 641.8h0M226.1 611.6h0M221.1 612.7h0M218.0 638.4h0M217.3 630.0h0M216.1 651.7h0M219.5 612.8h0M216.6 648.9h0M226.6 606.0h0M216.0 618.9h0M222.9 617.8h0M218.2 627.3h0M222.2 606.0h0M222.0 632.5h0M226.1 614.1h0M221.9 626.4h0M227.7 650.8h0M215.0 618.6h0M218.7 656.6h0M225.2 619.4h0M226.3 623.3h0M222.4 613.9h0M216.1 637.5h0" stroke="#2f50b8"/><path d="M226.9 647.4h0M218.5 638.3h0M210.1 632.9h0M225.2 605.3h0M225.8 604.8h0M227.3 628.6h0M216.2 618.4h0M214.5 646.7h0M224.3 618.0h0M229.9 644.0h0M224.0 630.8h0M217.3 626.9h0M227.0 617.8h0M221.7 618.7h0M232.5 640.3h0M215.5 635.0h0M237.2 613.5h0M221.2 615.3h0M223.6 638.4h0M229.6 640.6h0M215.4 629.5h0M215.2 651.3h0M224.9 612.5h0M226.6 610.6h0M218.6 629.7h0M221.8 614.3h0M217.7 629.9h0M219.8 606.6h0M230.0 606.2h0M227.6 598.6h0M230.7 626.8h0M223.4 622.0h0M222.9 614.8h0M223.9 619.9h0M230.1 632.4h0M227.9 609.2h0M223.6 600.7h0M218.3 615.3h0M233.4 601.4h0M214.2 629.3h0M227.7 604.7h0M236.2 595.1h0M224.4 602.4h0M217.6 641.8h0M217.3 626.2h0M231.1 632.2h0M217.0 620.0h0M230.6 624.9h0M222.8 639.0h0M220.2 623.9h0M220.2 624.6h0M212.0 656.9h0M213.0 617.6h0M222.1 609.9h0M221.9 638.7h0M222.1 649.2h0M213.7 640.4h0M226.7 617.9h0M217.5 613.5h0M218.6 614.5h0M227.2 604.9h0M224.3 596.5h0M216.2 639.8h0M217.7 633.2h0M206.5 649.1h0M224.4 609.6h0M225.0 633.6h0M224.4 622.6h0M229.4 628.7h0M233.3 623.0h0M205.6 644.2h0M237.0 602.1h0M212.9 606.6h0M209.1 650.7h0M216.1 644.7h0M233.9 614.6h0M220.1 613.8h0M220.4 615.4h0M212.5 638.9h0M218.7 618.8h0M223.3 625.1h0M211.3 654.2h0M231.7 631.5h0M220.3 634.3h0M222.9 616.9h0M220.5 637.3h0M221.9 647.3h0M229.5 604.2h0M221.3 640.7h0M223.8 623.4h0M224.7 645.4h0M225.1 622.7h0M218.3 612.2h0M227.5 613.6h0M218.5 655.3h0M221.2 618.7h0M212.9 638.0h0M222.7 631.9h0M218.6 656.4h0M226.0 596.6h0M215.1 641.4h0M228.9 625.5h0M224.7 581.6h0M228.3 624.1h0M227.2 614.0h0M218.9 625.0h0M226.9 631.8h0M220.0 629.6h0M216.5 636.5h0M220.3 641.8h0M215.6 641.3h0M225.7 620.0h0M219.7 653.9h0M223.3 645.6h0M222.0 595.2h0M221.7 642.3h0M217.7 634.2h0M225.3 636.3h0M216.9 631.7h0M234.6 622.3h0M225.0 607.9h0M227.3 637.7h0M225.6 631.6h0M222.5 612.5h0M218.6 628.7h0M232.3 605.2h0M227.9 608.7h0M227.5 623.4h0M213.7 655.1h0M231.6 620.2h0M230.4 609.6h0M218.8 613.8h0M221.7 646.6h0M216.7 623.8h0M215.9 631.7h0M217.4 633.8h0M235.6 571.5h0M223.4 646.3h0M217.2 634.1h0M229.7 631.8h0M212.3 630.1h0M225.8 627.0h0M226.7 630.5h0M225.6 611.5h0M222.8 618.1h0M223.4 646.9h0M230.4 603.7h0M219.3 613.7h0M216.3 618.1h0M227.1 621.7h0M214.5 627.8h0M225.7 608.1h0M226.4 611.7h0M223.8 645.4h0M220.0 615.7h0M235.7 624.1h0M222.0 599.8h0M230.1 617.7h0M225.1 646.8h0M227.9 625.1h0M215.2 622.1h0M223.2 616.4h0M223.2 630.6h0M226.6 627.3h0M218.8 645.7h0M223.2 625.3h0M224.8 606.9h0M222.5 610.7h0M230.2 644.0h0M228.6 627.6h0M215.3 623.3h0M233.5 618.9h0M215.5 620.1h0M225.6 618.8h0M229.2 643.8h0M222.7 610.4h0M214.6 635.1h0M235.2 623.7h0M226.2 628.9h0M214.3 646.9h0M227.9 625.7h0M223.0 617.0h0M231.7 631.6h0M234.0 612.3h0M218.7 618.8h0M216.0 648.2h0M227.4 612.1h0M230.7 626.7h0M227.5 633.5h0M219.5 620.1h0M235.0 613.0h0M229.3 606.0h0M226.4 617.1h0M213.0 633.5h0M235.6 609.6h0M228.3 640.7h0M217.2 633.4h0M233.5 597.7h0M223.2 598.1h0M231.4 603.9h0M227.0 633.1h0M217.8 630.2h0M232.1 623.5h0M229.0 624.3h0M217.3 625.3h0M229.1 593.3h0M218.5 639.4h0M229.1 627.3h0M225.7 601.9h0M225.0 591.2h0M214.0 657.2h0M212.1 642.0h0M227.3 595.6h0M224.8 645.0h0M214.7 643.1h0M220.8 635.2h0M226.3 622.6h0M235.3 583.1h0M224.9 618.0h0M220.5 654.9h0M229.5 624.6h0M221.5 632.0h0M229.3 613.7h0M232.1 607.5h0M228.1 603.7h0M222.4 621.6h0M215.3 652.5h0M223.7 624.3h0M221.6 648.3h0M216.7 647.1h0M225.9 633.5h0M223.9 641.6h0M224.5 602.4h0M228.3 650.5h0M214.4 650.0h0M225.5 643.7h0M225.5 595.1h0M224.5 622.9h0M218.3 639.0h0M215.8 649.9h0M217.3 626.4h0M218.2 625.0h0M229.1 606.7h0M207.6 643.1h0M227.2 613.1h0M222.3 636.9h0M225.2 617.6h0M225.9 612.6h0M221.1 618.5h0M229.0 617.5h0M223.4 597.3h0M217.1 655.5h0M211.0 632.6h0M223.5 646.9h0M219.0 617.8h0M224.9 618.1h0M237.0 627.5h0M217.9 633.3h0M222.5 632.2h0M217.9 606.3h0M232.6 596.0h0M209.4 638.4h0M217.8 637.1h0M215.5 654.5h0M215.9 650.0h0M213.4 635.2h0M217.4 632.2h0M214.8 649.0h0M225.7 600.0h0M218.4 627.2h0M224.6 646.8h0M227.8 618.2h0M218.0 637.6h0M225.7 615.9h0M218.7 627.6h0M227.9 623.4h0M227.4 611.5h0M223.0 614.3h0M227.5 595.9h0M210.0 630.3h0M217.7 638.7h0M233.9 644.1h0M227.3 620.3h0M224.3 610.2h0M225.8 613.6h0M220.4 625.4h0M230.3 640.2h0M228.2 622.1h0M225.1 638.5h0M214.0 641.4h0M222.4 646.4h0M231.0 601.0h0M222.5 597.0h0M217.3 653.8h0M227.9 611.1h0M231.1 613.4h0" stroke="#3a5cc0"/><path d="M221.4 631.2h0M225.3 620.9h0M222.6 641.8h0M220.4 645.5h0M220.8 636.5h0M220.4 640.2h0M223.0 636.5h0M219.8 628.0h0M220.4 624.8h0M223.6 626.7h0M224.6 625.5h0M223.6 631.5h0M222.5 625.1h0M223.9 626.1h0M219.8 639.8h0M225.9 624.7h0M223.5 620.6h0M218.0 640.9h0M223.6 628.5h0M220.7 638.7h0M224.4 629.5h0M220.7 628.9h0M220.5 626.8h0M218.3 644.7h0M222.0 623.3h0M222.1 627.4h0M221.8 620.7h0M220.1 626.7h0M225.8 623.3h0M221.4 634.1h0M218.4 650.5h0" stroke="#c8d850"/><path d="M223.7 627.0h0M221.0 624.2h0M223.1 635.3h0M221.1 638.2h0M220.7 631.0h0M223.2 620.2h0M224.5 635.6h0M218.7 643.2h0M219.6 642.9h0M223.1 645.2h0M223.9 630.0h0M222.0 628.2h0M223.9 640.5h0M222.1 624.8h0M222.7 623.0h0M219.4 645.7h0M217.3 646.2h0M222.9 636.0h0M224.0 622.2h0M220.3 629.5h0M221.0 641.9h0M220.7 622.5h0M223.8 643.8h0M222.0 649.9h0M219.1 632.2h0M223.4 632.6h0M223.5 622.4h0M223.4 637.9h0M222.2 631.3h0M223.4 627.5h0M222.5 630.5h0M217.3 645.4h0" stroke="#5ab48a"/><path d="M233.9 607.5h0M229.8 588.3h0M229.6 622.5h0M215.1 643.4h0M224.2 628.1h0M206.8 648.4h0M228.6 618.4h0M223.2 611.0h0M227.6 624.6h0M220.4 640.9h0M225.2 607.0h0M225.6 593.6h0M229.3 631.5h0M224.7 599.7h0M208.1 654.3h0M230.2 638.2h0M227.6 649.5h0M222.7 627.7h0M228.4 645.5h0M223.3 625.3h0M217.8 636.4h0M231.6 637.6h0M216.9 654.6h0M228.4 590.8h0M221.4 629.3h0M221.3 624.6h0M216.6 610.2h0M214.4 620.4h0M234.2 607.6h0M230.9 607.4h0M224.1 617.3h0M225.7 607.4h0M215.1 619.1h0M224.1 619.6h0M230.7 586.6h0M226.9 631.2h0M226.6 624.0h0M215.8 637.1h0M217.1 632.9h0M233.5 617.4h0M220.4 653.7h0M226.6 624.2h0M219.8 644.8h0M230.0 608.1h0M232.9 605.0h0M215.5 656.1h0M221.4 623.3h0M211.2 645.3h0M228.4 618.4h0M221.8 638.1h0M223.2 633.2h0M216.6 638.9h0M223.7 592.0h0M212.9 626.9h0M218.5 631.7h0M222.2 640.5h0M216.9 635.8h0M213.6 653.9h0M227.5 611.0h0M227.0 614.8h0M215.9 620.9h0M217.5 633.0h0M218.6 633.6h0M222.5 620.3h0M221.2 613.8h0M225.1 627.1h0M231.5 619.8h0M223.6 628.9h0M218.1 638.0h0M224.9 622.5h0M221.9 635.1h0M221.5 639.1h0M219.9 646.9h0M228.0 634.6h0M225.2 611.3h0M220.1 652.9h0M229.6 611.3h0M231.3 630.6h0M225.9 623.9h0M226.0 637.8h0M229.1 633.9h0M226.4 632.3h0M224.6 637.8h0M222.4 641.8h0M223.7 609.8h0M212.8 637.3h0M227.0 625.6h0M227.7 624.9h0M226.1 614.1h0M223.5 611.0h0M227.3 625.9h0M231.1 586.4h0M230.1 630.7h0M226.2 625.4h0M221.7 614.2h0M223.9 628.2h0M225.3 606.8h0M224.7 636.2h0M217.8 642.6h0M218.8 638.7h0M221.3 642.5h0M231.5 629.2h0M221.7 644.5h0M220.7 600.7h0M223.2 626.9h0M216.6 634.5h0M223.3 620.2h0M218.9 626.4h0M227.4 621.9h0M213.1 650.7h0M224.2 647.1h0M230.0 636.1h0M221.6 629.7h0M224.0 622.9h0M214.3 638.9h0M225.5 623.3h0M225.6 632.3h0M218.6 634.1h0M221.6 609.9h0M220.8 632.7h0M220.3 648.0h0M221.3 621.6h0M230.6 595.4h0M219.2 635.8h0M220.8 614.8h0M221.8 630.8h0M213.4 651.5h0M222.2 642.5h0M222.2 628.8h0M213.2 630.2h0M227.4 602.8h0M216.7 625.0h0M221.9 639.9h0M237.3 620.8h0M217.7 636.9h0M220.1 613.5h0M224.2 614.9h0M218.5 637.6h0M210.3 646.0h0M222.5 619.4h0M213.8 626.6h0M219.3 644.9h0M225.4 621.0h0M218.7 627.7h0M237.1 618.4h0M216.0 637.5h0M222.5 632.8h0M226.8 621.2h0M217.1 639.4h0M229.3 616.8h0M224.2 635.8h0M228.8 629.5h0M224.0 625.6h0M221.5 636.9h0M224.8 614.9h0M221.6 627.2h0M237.9 612.3h0M214.1 651.4h0M212.4 632.2h0M213.7 626.6h0M216.8 621.1h0M230.3 615.4h0M216.3 631.2h0M224.9 641.7h0M228.6 615.8h0M226.5 630.4h0M214.0 644.7h0M221.3 609.3h0M219.3 604.3h0M216.1 642.1h0M219.4 634.5h0M228.5 612.7h0M223.0 636.0h0M221.3 610.6h0M212.5 643.4h0M232.8 627.7h0M223.4 626.7h0M219.2 641.6h0M228.1 634.7h0M233.2 605.3h0M216.6 633.6h0M215.0 630.8h0M213.3 655.6h0M220.3 622.7h0M223.7 615.6h0M217.1 614.0h0M223.9 636.3h0M226.4 626.6h0M224.6 640.3h0M219.7 631.9h0M215.8 611.9h0M223.8 643.5h0M223.4 623.4h0M231.3 616.3h0M221.2 625.4h0M223.9 634.4h0M214.7 645.0h0M227.1 628.0h0M226.7 611.5h0M219.7 626.4h0M223.0 635.1h0M217.5 639.4h0M215.5 637.5h0M220.2 647.2h0M223.3 623.6h0M229.7 614.2h0M216.3 632.6h0M238.3 617.0h0M219.1 617.5h0M223.4 643.5h0M220.9 624.1h0M228.4 613.1h0M226.7 646.2h0M218.0 648.7h0M225.8 607.6h0M224.6 639.2h0M231.8 625.4h0M221.2 649.5h0M226.6 600.4h0M227.2 628.5h0M224.4 619.5h0M229.1 640.0h0M225.4 650.6h0M223.6 642.7h0M223.1 638.0h0M217.4 620.4h0M220.7 617.6h0M235.2 620.0h0M216.5 613.8h0M230.7 595.7h0M220.2 649.5h0M221.3 637.7h0M225.8 640.9h0M218.1 627.0h0M226.4 618.8h0M218.8 646.6h0M223.7 619.1h0M224.4 653.7h0M229.5 623.0h0M227.8 588.2h0M217.4 640.0h0M225.9 618.4h0M231.7 642.9h0M224.6 631.5h0M218.5 654.5h0M221.8 615.6h0M218.3 645.2h0M209.7 644.7h0M224.5 615.5h0M229.0 624.2h0M226.8 634.7h0M218.7 637.1h0M219.3 625.4h0M212.3 636.6h0M223.5 627.6h0M229.5 632.2h0M217.9 604.8h0M227.5 623.7h0M225.3 628.6h0M222.7 628.6h0M219.3 609.1h0M231.5 635.2h0M223.6 632.0h0M221.9 635.5h0M212.4 640.6h0M214.8 640.4h0M218.9 642.5h0M226.7 614.9h0M216.2 629.4h0M209.0 637.9h0M224.8 607.7h0M209.7 637.0h0M217.8 625.2h0M221.0 604.4h0M217.3 631.5h0M227.6 619.1h0M231.4 622.0h0M219.4 629.2h0M222.3 641.3h0M226.1 623.3h0M222.7 610.3h0M225.4 636.0h0M218.2 615.3h0M218.7 610.8h0M227.7 629.6h0M222.7 596.8h0M225.5 642.7h0M214.3 649.0h0" stroke="#4a6cc8"/><path d="M223.5 635.1h0M218.6 642.3h0M222.4 628.9h0M222.9 621.3h0M223.1 620.3h0M222.1 632.5h0M221.0 635.5h0M223.6 624.1h0M220.2 636.4h0M222.7 647.4h0M225.9 622.5h0M224.1 630.6h0M220.5 645.0h0M225.6 626.4h0M223.9 624.2h0M222.4 635.0h0M223.0 640.2h0M222.6 641.7h0M219.1 645.9h0M226.4 620.5h0M221.8 637.6h0M225.3 629.3h0M222.4 623.8h0M223.4 632.2h0" stroke="#7fc85a"/><path d="M223.1 634.6h0M224.2 637.7h0M225.0 631.1h0M225.1 632.8h0M220.4 643.6h0M225.7 624.9h0M220.4 626.6h0M221.2 643.3h0M222.3 627.4h0M223.7 642.6h0M221.3 641.6h0M223.5 632.8h0M224.1 626.5h0M220.5 624.4h0M221.5 624.2h0M222.1 622.3h0M219.6 635.7h0M225.9 622.9h0M225.7 628.2h0M224.3 624.2h0M221.7 645.1h0M223.7 628.4h0M218.8 643.9h0M223.4 627.5h0M221.3 630.2h0M217.6 644.3h0M219.2 642.1h0M223.3 644.2h0M221.2 638.9h0M224.6 636.9h0M219.3 645.6h0" stroke="#9ad25a"/></g>
<g opacity="0.8" stroke-width="0.7" stroke-linecap="square" fill="none"><path d="M260.7 593.8h0M259.6 629.6h0M239.9 597.0h0M251.4 596.7h0M258.2 610.0h0M258.8 611.9h0M255.0 588.7h0M246.4 610.2h0M244.7 597.2h0M253.6 626.3h0M231.7 610.9h0M259.5 614.0h0M238.3 592.5h0M243.9 601.9h0M245.6 589.3h0M249.8 610.4h0" stroke="#6a88d8"/><path d="M249.6 613.2h0M260.7 605.1h0M235.7 619.8h0M248.7 644.1h0M258.8 639.9h0M259.6 616.9h0M239.8 608.5h0M230.8 621.3h0M247.4 612.3h0M231.2 618.7h0M246.0 618.0h0M245.2 589.1h0M241.3 634.4h0M233.1 624.6h0M232.4 597.0h0" stroke="#9ab0e6"/><path d="M233.9 626.0h0M255.4 590.0h0M248.5 586.3h0M232.0 605.6h0M238.3 645.3h0M246.5 602.6h0M241.0 641.8h0M261.9 607.4h0M247.5 607.0h0M259.1 624.7h0M239.1 628.1h0M246.0 625.0h0M233.8 598.6h0M238.8 591.1h0" stroke="#8aa2e0"/></g>
<rect x="203.4" y="567.5" width="95.8" height="96.7" fill="none" stroke="#9a9a9a" stroke-width="1"/>
<line x1="203.4" y1="567" x2="203.4" y2="664.7" stroke="#8a8a8a" stroke-width="1.1"/>
<line x1="202.9" y1="664.2" x2="299.7" y2="664.2" stroke="#8a8a8a" stroke-width="1.1"/>
<line x1="201.2" y1="664.2" x2="203.4" y2="664.2" stroke="#444" stroke-width="0.8"/>
<line x1="202" y1="654.53" x2="203.4" y2="654.53" stroke="#444" stroke-width="0.8"/>
<line x1="202" y1="644.86" x2="203.4" y2="644.86" stroke="#444" stroke-width="0.8"/>
<line x1="202" y1="635.19" x2="203.4" y2="635.19" stroke="#444" stroke-width="0.8"/>
<line x1="202" y1="625.52" x2="203.4" y2="625.52" stroke="#444" stroke-width="0.8"/>
<line x1="201.2" y1="615.85" x2="203.4" y2="615.85" stroke="#444" stroke-width="0.8"/>
<line x1="202" y1="606.18" x2="203.4" y2="606.18" stroke="#444" stroke-width="0.8"/>
<line x1="202" y1="596.51" x2="203.4" y2="596.51" stroke="#444" stroke-width="0.8"/>
<line x1="202" y1="586.84" x2="203.4" y2="586.84" stroke="#444" stroke-width="0.8"/>
<line x1="202" y1="577.17" x2="203.4" y2="577.17" stroke="#444" stroke-width="0.8"/>
<line x1="201.2" y1="567.5" x2="203.4" y2="567.5" stroke="#444" stroke-width="0.8"/>
<line x1="209.17" y1="662.4" x2="209.17" y2="664.2" stroke="#333" stroke-width="0.7"/>
<line x1="212.54" y1="662.4" x2="212.54" y2="664.2" stroke="#333" stroke-width="0.7"/>
<line x1="214.94" y1="662.4" x2="214.94" y2="664.2" stroke="#333" stroke-width="0.7"/>
<line x1="216.79" y1="662.4" x2="216.79" y2="664.2" stroke="#333" stroke-width="0.7"/>
<line x1="218.31" y1="662.4" x2="218.31" y2="664.2" stroke="#333" stroke-width="0.7"/>
<line x1="219.59" y1="662.4" x2="219.59" y2="664.2" stroke="#333" stroke-width="0.7"/>
<line x1="220.7" y1="662.4" x2="220.7" y2="664.2" stroke="#333" stroke-width="0.7"/>
<line x1="221.68" y1="662.4" x2="221.68" y2="664.2" stroke="#333" stroke-width="0.7"/>
<line x1="228.33" y1="662.4" x2="228.33" y2="664.2" stroke="#333" stroke-width="0.7"/>
<line x1="231.7" y1="662.4" x2="231.7" y2="664.2" stroke="#333" stroke-width="0.7"/>
<line x1="234.1" y1="662.4" x2="234.1" y2="664.2" stroke="#333" stroke-width="0.7"/>
<line x1="235.95" y1="662.4" x2="235.95" y2="664.2" stroke="#333" stroke-width="0.7"/>
<line x1="237.47" y1="662.4" x2="237.47" y2="664.2" stroke="#333" stroke-width="0.7"/>
<line x1="238.75" y1="662.4" x2="238.75" y2="664.2" stroke="#333" stroke-width="0.7"/>
<line x1="239.86" y1="662.4" x2="239.86" y2="664.2" stroke="#333" stroke-width="0.7"/>
<line x1="240.84" y1="662.4" x2="240.84" y2="664.2" stroke="#333" stroke-width="0.7"/>
<line x1="247.49" y1="662.4" x2="247.49" y2="664.2" stroke="#333" stroke-width="0.7"/>
<line x1="250.86" y1="662.4" x2="250.86" y2="664.2" stroke="#333" stroke-width="0.7"/>
<line x1="253.26" y1="662.4" x2="253.26" y2="664.2" stroke="#333" stroke-width="0.7"/>
<line x1="255.11" y1="662.4" x2="255.11" y2="664.2" stroke="#333" stroke-width="0.7"/>
<line x1="256.63" y1="662.4" x2="256.63" y2="664.2" stroke="#333" stroke-width="0.7"/>
<line x1="257.91" y1="662.4" x2="257.91" y2="664.2" stroke="#333" stroke-width="0.7"/>
<line x1="259.02" y1="662.4" x2="259.02" y2="664.2" stroke="#333" stroke-width="0.7"/>
<line x1="260" y1="662.4" x2="260" y2="664.2" stroke="#333" stroke-width="0.7"/>
<line x1="266.65" y1="662.4" x2="266.65" y2="664.2" stroke="#333" stroke-width="0.7"/>
<line x1="270.02" y1="662.4" x2="270.02" y2="664.2" stroke="#333" stroke-width="0.7"/>
<line x1="272.42" y1="662.4" x2="272.42" y2="664.2" stroke="#333" stroke-width="0.7"/>
<line x1="274.27" y1="662.4" x2="274.27" y2="664.2" stroke="#333" stroke-width="0.7"/>
<line x1="275.79" y1="662.4" x2="275.79" y2="664.2" stroke="#333" stroke-width="0.7"/>
<line x1="277.07" y1="662.4" x2="277.07" y2="664.2" stroke="#333" stroke-width="0.7"/>
<line x1="278.18" y1="662.4" x2="278.18" y2="664.2" stroke="#333" stroke-width="0.7"/>
<line x1="279.16" y1="662.4" x2="279.16" y2="664.2" stroke="#333" stroke-width="0.7"/>
<line x1="285.81" y1="662.4" x2="285.81" y2="664.2" stroke="#333" stroke-width="0.7"/>
<line x1="289.18" y1="662.4" x2="289.18" y2="664.2" stroke="#333" stroke-width="0.7"/>
<line x1="291.58" y1="662.4" x2="291.58" y2="664.2" stroke="#333" stroke-width="0.7"/>
<line x1="293.43" y1="662.4" x2="293.43" y2="664.2" stroke="#333" stroke-width="0.7"/>
<line x1="294.95" y1="662.4" x2="294.95" y2="664.2" stroke="#333" stroke-width="0.7"/>
<line x1="296.23" y1="662.4" x2="296.23" y2="664.2" stroke="#333" stroke-width="0.7"/>
<line x1="297.34" y1="662.4" x2="297.34" y2="664.2" stroke="#333" stroke-width="0.7"/>
<line x1="298.32" y1="662.4" x2="298.32" y2="664.2" stroke="#333" stroke-width="0.7"/>
<line x1="203.4" y1="664.2" x2="203.4" y2="666.2" stroke="#333" stroke-width="0.8"/>
<text x="204" y="676.9" font-size="9.8" text-anchor="end" fill="#1a1a1a" textLength="9.6" lengthAdjust="spacingAndGlyphs">10</text>
<text x="204.3" y="672.9" font-size="5.4">2</text>
<line x1="222.56" y1="664.2" x2="222.56" y2="666.2" stroke="#333" stroke-width="0.8"/>
<text x="223.16" y="676.9" font-size="9.8" text-anchor="end" fill="#1a1a1a" textLength="9.6" lengthAdjust="spacingAndGlyphs">10</text>
<text x="223.46" y="672.9" font-size="5.4">3</text>
<line x1="241.72" y1="664.2" x2="241.72" y2="666.2" stroke="#333" stroke-width="0.8"/>
<text x="242.32" y="676.9" font-size="9.8" text-anchor="end" fill="#1a1a1a" textLength="9.6" lengthAdjust="spacingAndGlyphs">10</text>
<text x="242.62" y="672.9" font-size="5.4">4</text>
<line x1="260.88" y1="664.2" x2="260.88" y2="666.2" stroke="#333" stroke-width="0.8"/>
<text x="261.48" y="676.9" font-size="9.8" text-anchor="end" fill="#1a1a1a" textLength="9.6" lengthAdjust="spacingAndGlyphs">10</text>
<text x="261.78" y="672.9" font-size="5.4">5</text>
<line x1="280.04" y1="664.2" x2="280.04" y2="666.2" stroke="#333" stroke-width="0.8"/>
<text x="280.64" y="676.9" font-size="9.8" text-anchor="end" fill="#1a1a1a" textLength="9.6" lengthAdjust="spacingAndGlyphs">10</text>
<text x="280.94" y="672.9" font-size="5.4">6</text>
<line x1="299.2" y1="664.2" x2="299.2" y2="666.2" stroke="#333" stroke-width="0.8"/>
<text x="299.8" y="676.9" font-size="9.8" text-anchor="end" fill="#1a1a1a" textLength="9.6" lengthAdjust="spacingAndGlyphs">10</text>
<text x="300.1" y="672.9" font-size="5.4">7</text>
<text x="198.4" y="564.7" font-size="10.5" text-anchor="middle" textLength="15.6" lengthAdjust="spacingAndGlyphs" transform="rotate(-90 198.4 564.7)">100</text>
<text x="198.4" y="615.85" font-size="10.5" text-anchor="middle" textLength="10.4" lengthAdjust="spacingAndGlyphs" transform="rotate(-90 198.4 615.85)">50</text>
<text x="198.4" y="664.2" font-size="10.5" text-anchor="middle" textLength="5.2" lengthAdjust="spacingAndGlyphs" transform="rotate(-90 198.4 664.2)">0</text>
<text x="228.8" y="690.1" font-size="9" textLength="46" lengthAdjust="spacingAndGlyphs">PE-CD206</text>
<polygon points="232.6,573.8 275.6,572.1 264.5,649.9 227.9,650.1" fill="none" stroke="#1a1a1a" stroke-width="1.1"/>
<text x="212.5" y="563.9" font-size="9" textLength="77.5" lengthAdjust="spacingAndGlyphs">miR-708-5p mimic</text>
<text x="233.6" y="584.4" font-size="9.2" textLength="39.9" lengthAdjust="spacingAndGlyphs">(16.22%)</text>
<text x="183.8" y="612.2" font-size="8.6" text-anchor="middle" textLength="24.7" lengthAdjust="spacingAndGlyphs" transform="rotate(-90 183.8 612.2)">SSC-A</text>
<text x="184.2" y="547.5" font-size="7.8" text-anchor="middle" letter-spacing="0.35" transform="rotate(-90 184.2 547.5)">(x 10<tspan font-size="6.6" dy="-4.6">4</tspan><tspan dy="4.6">)</tspan></text>
<g opacity="0.6" stroke-width="0.6" stroke-linecap="square" fill="none"><path d="M369.2 634.7h0M376.0 618.1h0M369.6 651.3h0M367.7 631.2h0M363.2 608.4h0M374.1 636.9h0M367.9 637.0h0M371.9 633.5h0M379.2 578.0h0M366.4 622.4h0M377.8 577.2h0M371.4 626.3h0M372.8 629.4h0M376.3 597.3h0M362.4 642.5h0M368.5 649.8h0M378.7 620.4h0M364.1 608.1h0M361.8 638.3h0M379.4 602.9h0M374.9 600.6h0M373.6 636.2h0M378.7 601.5h0M377.7 597.8h0M365.0 621.6h0M369.9 605.4h0M367.7 629.4h0M361.6 649.0h0M366.5 620.0h0M373.6 626.4h0M377.5 620.9h0M370.4 638.3h0M367.0 648.4h0M380.1 605.3h0M370.9 633.0h0M374.9 579.4h0M375.4 619.3h0M364.3 642.3h0M370.5 632.0h0M366.7 620.8h0M372.4 637.0h0M378.5 620.9h0M380.8 584.8h0M372.5 592.7h0M362.1 620.8h0M366.6 644.4h0M366.2 615.6h0M365.5 613.9h0M364.0 626.3h0M369.5 645.6h0M371.3 606.3h0M370.9 636.3h0M367.7 642.5h0M368.8 622.7h0M368.3 648.7h0M375.9 593.3h0M371.6 642.7h0M380.3 627.1h0M376.1 647.0h0M365.1 610.7h0M363.6 636.4h0M367.0 617.0h0M373.9 604.0h0M372.5 597.3h0M363.8 655.3h0M362.7 628.7h0M371.5 631.7h0M376.5 610.1h0M367.3 627.7h0M369.6 605.5h0M376.5 595.1h0M372.0 626.1h0M378.5 614.1h0M370.9 604.5h0M361.7 627.5h0M367.6 641.1h0M372.8 610.8h0M385.5 607.0h0M378.3 619.5h0M368.8 623.2h0M377.7 607.5h0M367.1 605.6h0M386.8 589.4h0M376.2 610.0h0M372.2 611.9h0M369.2 621.4h0M369.8 635.2h0M372.2 614.6h0M372.2 612.8h0M369.5 642.9h0M374.9 622.8h0M370.6 623.8h0M373.5 622.0h0M370.1 625.3h0M372.0 607.4h0M385.8 610.1h0M366.4 614.8h0M372.5 638.8h0M366.1 611.2h0M366.5 644.7h0M371.2 649.8h0M365.2 642.4h0M368.8 628.2h0M370.8 631.6h0M363.0 638.5h0M375.3 625.7h0M375.1 623.0h0M374.0 617.4h0M362.7 649.4h0M372.8 597.4h0M378.3 616.7h0M362.7 637.0h0M380.6 635.0h0M371.9 624.8h0M367.1 650.7h0M368.9 622.2h0M362.6 632.1h0M363.6 636.0h0M373.0 604.3h0M378.8 622.1h0M375.9 586.6h0M357.0 640.7h0M370.5 595.1h0M367.8 616.7h0M374.3 649.0h0M379.4 617.6h0M369.6 632.6h0M368.4 654.9h0M369.6 622.4h0M378.4 603.4h0M367.1 645.6h0M371.0 614.4h0M375.2 630.6h0M363.9 610.0h0M363.9 654.2h0M362.8 626.9h0M365.0 618.3h0M381.4 585.6h0M360.6 623.3h0M368.1 639.2h0M373.4 623.5h0M373.1 613.3h0M361.2 641.5h0M372.2 615.5h0M360.9 625.1h0M363.4 622.1h0M369.8 649.5h0M366.6 625.8h0M368.4 608.6h0M364.1 628.4h0M371.3 620.1h0M373.0 630.3h0M363.6 632.6h0M376.6 593.3h0M362.9 606.2h0M371.9 606.9h0M369.7 624.6h0M381.4 605.8h0M380.8 590.0h0M372.2 613.9h0M368.9 619.1h0M375.8 613.8h0M373.3 637.1h0M372.1 639.4h0M369.4 592.5h0M369.6 606.0h0M373.3 608.0h0M363.4 625.7h0M378.3 611.7h0M366.1 629.4h0M375.3 594.0h0M380.7 606.4h0M374.6 603.1h0M365.7 654.2h0M366.9 620.1h0M363.8 608.0h0M377.0 629.2h0M369.7 631.5h0M370.9 610.0h0M362.0 603.7h0M373.7 607.1h0M358.5 638.0h0M371.2 621.0h0M369.1 630.6h0M374.3 643.8h0M368.0 605.7h0M371.6 620.9h0M368.3 593.6h0M369.9 630.5h0M373.4 623.8h0M371.4 611.0h0M371.1 636.9h0M373.4 626.3h0M372.5 617.6h0M373.9 618.2h0M371.9 637.5h0M369.6 610.9h0M378.6 622.9h0M366.8 651.6h0M373.2 605.3h0M373.2 634.2h0M374.6 628.1h0M368.2 607.0h0M362.6 646.4h0M371.4 616.2h0M373.6 583.6h0M369.8 603.4h0M377.2 632.6h0M369.2 636.9h0M375.9 643.5h0M373.4 620.5h0M366.0 636.8h0M366.7 609.5h0M374.1 625.5h0M371.8 617.1h0M378.4 617.8h0M360.4 641.7h0M370.5 653.9h0M380.7 621.7h0M360.8 626.2h0M370.3 630.4h0M364.0 616.3h0M374.5 613.0h0M368.4 623.8h0M375.2 602.3h0M374.9 597.6h0M370.9 624.3h0M371.8 637.3h0M370.6 629.5h0M369.1 618.1h0M363.3 642.0h0M374.2 603.6h0M371.7 611.7h0M380.1 619.5h0M375.6 607.5h0M369.0 643.4h0M361.7 625.7h0M374.8 621.1h0M373.5 592.9h0M370.7 616.0h0M367.1 653.8h0M371.1 607.9h0M362.2 635.4h0M378.4 602.8h0M375.4 598.9h0M373.8 631.0h0M371.4 610.6h0M370.1 624.5h0M375.3 598.4h0M381.0 640.2h0M365.7 629.9h0M363.4 642.9h0M374.3 614.2h0M366.0 641.0h0M361.8 653.4h0M367.3 625.6h0M363.2 636.4h0M367.2 647.7h0M377.5 614.1h0M374.5 586.6h0M367.1 625.6h0M370.6 647.1h0M375.8 596.9h0M378.6 606.0h0M363.4 628.8h0M364.5 650.9h0M361.9 633.4h0M376.2 611.7h0M372.7 634.4h0M366.6 653.1h0M371.0 648.4h0M370.3 623.3h0M363.1 640.4h0M369.7 634.7h0M370.8 626.7h0M369.1 598.7h0M365.7 605.7h0M374.7 617.1h0M373.9 607.3h0M370.1 626.3h0M365.7 621.9h0M384.3 572.8h0M367.1 620.2h0M380.0 593.6h0M371.0 637.8h0M361.1 650.1h0M376.6 624.3h0M371.6 634.3h0M378.2 604.4h0M371.9 615.9h0M371.4 606.9h0M373.1 634.4h0M378.8 607.0h0M362.3 640.6h0M373.4 633.6h0M371.8 638.6h0M367.1 613.3h0M364.6 613.6h0M375.2 620.9h0M376.2 608.7h0M363.8 643.7h0M374.6 610.4h0M369.9 607.4h0M363.1 641.4h0M379.1 611.8h0M367.4 653.6h0M367.0 603.8h0M374.4 632.8h0M368.6 632.8h0M375.2 609.4h0M372.8 635.2h0M369.9 621.2h0" stroke="#7c94dc"/><path d="M361.6 638.2h0M369.5 613.6h0M373.4 611.8h0M377.2 617.1h0M376.3 634.0h0M373.5 644.1h0M374.8 619.2h0M381.7 610.0h0M365.3 630.2h0M365.1 640.3h0M372.7 607.6h0M372.6 601.7h0M375.5 635.7h0M362.2 637.7h0M372.7 599.6h0M367.5 632.6h0M365.5 638.4h0M373.3 650.9h0M365.5 635.7h0M369.5 643.7h0M364.4 648.0h0M367.5 620.8h0M369.1 647.8h0M366.3 630.6h0M378.5 594.1h0M365.8 633.4h0M376.1 595.0h0M366.3 652.3h0M369.9 616.9h0M377.7 608.6h0M363.5 630.6h0M377.7 616.9h0M370.5 620.7h0M365.3 640.5h0M369.7 654.6h0M367.8 631.8h0M361.0 620.6h0M360.4 635.4h0M360.3 642.1h0M366.2 630.0h0M372.9 597.8h0M377.7 575.1h0M366.6 646.4h0M368.8 644.8h0M369.7 624.5h0M365.4 622.2h0M371.0 612.1h0M362.3 622.1h0M366.0 646.6h0M363.1 651.2h0M376.9 626.8h0M372.0 616.9h0M367.2 626.8h0M369.6 652.3h0M374.2 604.5h0M377.9 595.7h0M365.3 616.7h0M362.2 645.2h0M379.8 641.8h0M366.3 635.5h0M378.6 593.6h0M369.4 614.9h0M374.1 599.9h0M373.2 653.3h0M364.0 630.5h0M377.0 602.0h0M377.7 618.5h0M371.0 628.1h0M369.4 633.2h0M376.1 624.7h0M366.9 615.0h0M368.3 643.6h0M362.5 637.7h0M378.9 604.3h0M374.1 602.2h0M363.1 638.8h0M359.8 640.0h0M372.2 619.9h0M374.3 620.0h0M385.2 585.0h0M375.3 600.8h0M369.9 631.7h0M367.0 648.4h0M370.3 591.8h0M372.9 620.6h0M366.8 626.2h0M376.4 611.1h0M380.5 587.2h0M371.0 637.7h0M361.5 639.7h0M376.3 606.1h0M370.3 631.8h0M367.4 638.8h0M364.5 633.9h0M375.9 596.7h0M370.6 623.5h0M377.2 618.1h0M366.7 651.9h0M369.3 635.4h0M364.7 607.3h0M369.2 647.7h0M368.1 653.3h0M367.3 643.5h0M366.5 640.3h0M363.1 637.7h0M366.0 633.9h0M361.4 613.8h0M370.3 653.5h0M360.7 633.8h0M365.0 648.7h0M360.0 621.5h0M372.2 599.9h0M368.5 630.9h0M364.8 624.9h0M379.1 595.2h0M363.9 637.7h0M370.4 622.2h0M364.8 638.1h0M361.6 622.2h0M365.4 616.8h0M377.7 625.6h0M379.1 608.8h0M381.0 603.6h0M376.3 609.1h0M364.3 629.5h0M379.0 599.2h0M375.9 637.4h0M366.3 615.4h0M372.9 621.1h0M372.5 638.0h0M370.2 632.6h0M377.2 630.1h0M378.7 607.6h0M370.2 599.6h0M379.9 609.7h0M375.0 623.1h0M370.1 628.4h0M372.3 623.1h0M372.1 647.2h0M376.7 579.5h0M367.4 648.9h0M372.5 620.5h0M372.1 597.6h0M364.1 640.6h0M377.8 648.1h0M367.8 642.3h0M367.0 635.8h0M377.2 600.5h0M370.6 632.5h0M359.8 651.9h0M362.3 642.8h0M376.2 612.2h0M372.3 621.5h0M376.0 604.2h0M376.2 626.6h0M380.5 608.8h0M364.8 645.1h0M362.9 653.8h0M379.3 618.4h0M366.4 632.6h0M369.9 631.6h0M369.8 622.3h0M370.3 636.7h0M371.4 590.6h0M377.8 624.4h0M360.7 648.0h0M359.5 646.1h0M366.1 646.8h0M370.2 588.6h0M359.5 649.1h0M370.7 626.2h0M365.6 621.8h0M366.2 626.1h0M359.9 634.1h0M383.0 629.0h0M376.0 578.6h0M360.4 617.5h0M368.9 639.2h0M365.1 627.6h0M382.0 597.9h0M371.5 643.5h0M376.6 607.3h0M379.5 600.0h0M367.2 643.8h0M369.9 607.6h0M361.9 636.2h0M376.3 597.9h0M375.3 604.7h0M370.9 611.1h0M370.3 651.5h0M370.0 648.5h0M371.1 631.9h0M372.7 581.2h0M368.4 577.7h0M371.1 651.3h0M369.4 624.2h0M366.7 618.3h0M378.7 622.5h0M368.9 616.5h0M369.1 612.8h0M364.1 655.3h0M374.2 583.0h0M365.5 629.0h0M374.4 623.4h0M371.6 639.8h0M377.8 613.3h0M368.2 632.6h0M375.8 577.5h0M371.4 641.3h0M379.5 648.8h0M372.7 643.4h0M371.6 622.1h0M375.2 628.5h0M376.7 609.0h0M369.6 628.3h0M367.7 643.0h0M374.6 611.0h0M370.2 603.2h0M363.1 639.3h0M365.6 632.0h0M364.7 644.1h0M373.6 585.3h0M373.9 620.8h0M368.3 615.8h0M368.4 609.4h0M369.4 628.8h0M359.2 654.9h0M375.5 621.2h0M372.4 609.2h0M363.6 626.3h0M381.0 602.5h0M365.8 631.2h0M371.1 628.3h0M376.7 604.2h0M374.0 609.1h0M373.3 631.1h0M367.1 651.4h0M364.5 621.0h0M368.9 639.6h0M375.4 620.2h0M367.5 619.2h0M367.4 614.4h0M360.3 642.0h0M362.6 617.7h0M371.4 636.3h0M363.5 616.1h0M382.5 609.1h0M376.1 618.6h0M369.9 599.5h0M370.3 638.2h0M374.8 606.9h0M366.2 638.3h0M369.2 646.3h0M367.1 646.1h0M369.8 625.8h0M369.6 626.8h0M376.5 626.6h0M382.2 594.6h0M375.6 631.8h0M370.5 641.6h0M371.1 609.9h0M374.0 617.7h0M372.6 621.9h0M378.8 602.5h0M363.7 625.1h0M376.0 609.1h0M367.3 617.0h0M363.7 650.5h0M368.9 615.8h0M370.4 607.4h0M365.2 628.0h0M379.4 591.2h0M361.9 642.3h0M377.6 628.1h0M376.0 630.1h0M375.6 619.2h0M372.3 617.3h0M373.0 644.8h0M359.6 645.0h0M368.0 654.6h0M370.7 624.6h0M376.9 642.6h0M375.9 634.4h0M369.5 633.8h0M374.8 625.4h0M371.4 647.8h0M372.6 618.2h0" stroke="#3a5cc0"/><path d="M365.3 630.4h0M368.5 627.2h0M361.7 633.8h0M374.7 601.8h0M375.3 621.6h0M376.5 589.4h0M371.3 646.1h0M360.4 645.2h0M369.0 632.6h0M382.0 611.2h0M373.4 632.4h0M378.4 631.1h0M371.9 647.8h0M370.9 604.3h0M360.6 626.0h0M368.8 614.2h0M374.6 618.1h0M376.8 590.9h0M367.4 609.2h0M371.9 646.5h0M367.0 621.5h0M369.6 636.4h0M367.4 617.7h0M374.4 582.2h0M365.6 615.0h0M361.0 652.5h0M371.9 618.0h0M370.6 622.7h0M376.0 611.9h0M365.6 633.8h0M372.1 638.8h0M366.2 608.4h0M372.2 614.2h0M377.5 625.9h0M370.3 614.1h0M365.7 616.3h0M373.3 591.3h0M371.4 633.5h0M359.0 639.2h0M375.1 609.7h0M370.0 615.2h0M371.0 638.4h0M369.8 616.0h0M373.7 593.0h0M368.5 619.3h0M370.6 602.6h0M370.0 634.1h0M375.9 632.0h0M368.1 611.5h0M366.9 613.0h0M366.7 639.0h0M370.1 613.2h0M373.7 619.9h0M374.6 613.0h0M367.6 655.3h0M368.2 605.3h0M375.3 610.3h0M372.8 608.4h0M372.6 603.6h0M370.5 617.8h0M373.3 589.8h0M364.2 650.3h0M370.3 647.6h0M375.2 638.0h0M367.9 629.6h0M371.3 649.5h0M363.5 645.8h0M365.1 623.8h0M370.8 595.1h0M366.2 622.7h0M366.7 640.4h0M367.9 636.5h0M371.5 645.6h0M368.5 617.1h0M372.2 641.8h0M377.1 635.8h0M373.3 646.8h0M379.4 575.0h0M382.0 619.4h0M362.5 647.0h0M360.2 632.0h0M368.9 652.5h0M372.0 652.0h0M368.6 594.2h0M369.8 613.3h0M359.1 608.0h0M374.8 582.0h0M365.5 619.1h0M372.6 597.9h0M374.7 582.9h0M369.6 639.3h0M380.9 623.6h0M366.3 617.5h0M373.8 614.1h0M359.9 644.0h0M369.2 594.0h0M378.1 610.5h0M374.7 632.3h0M376.4 596.2h0M372.0 634.4h0M365.2 629.9h0M379.4 597.3h0M378.5 608.1h0M371.4 605.3h0M372.4 635.4h0M371.4 613.2h0M369.2 602.6h0M381.4 610.2h0M367.5 606.3h0M370.3 587.8h0M367.7 651.2h0M366.6 596.7h0M379.6 615.5h0M363.7 649.6h0M359.5 637.3h0M364.8 629.9h0M374.8 610.1h0M371.5 612.7h0M370.3 606.5h0M374.3 614.7h0M379.3 597.3h0M376.4 618.6h0M369.8 624.9h0M375.3 615.2h0M368.2 598.0h0M375.6 606.0h0M376.2 621.1h0M376.6 631.3h0M373.5 616.8h0M381.0 586.0h0M375.1 599.5h0M362.7 641.0h0M362.8 629.8h0M368.6 634.9h0M372.9 630.1h0M371.6 631.4h0M368.1 642.6h0M377.2 637.0h0M370.9 609.7h0M373.0 614.5h0M364.5 647.4h0M364.0 645.1h0M373.4 625.9h0M368.1 621.1h0M378.9 576.7h0M370.3 609.0h0M370.0 601.2h0M362.5 637.8h0M366.0 624.1h0M360.8 641.0h0M372.8 629.1h0M378.0 592.4h0M380.4 609.4h0M367.5 630.8h0M371.5 637.0h0M380.1 576.8h0M362.2 628.1h0M373.7 618.6h0M370.4 605.2h0M368.2 600.0h0M373.4 609.0h0M375.1 620.3h0M373.5 616.6h0M363.7 628.7h0M373.4 598.0h0M373.1 623.8h0M370.6 623.8h0M376.0 598.0h0M368.7 627.6h0M374.5 638.7h0M361.6 632.9h0M374.3 646.4h0M367.3 615.4h0M374.3 618.5h0M372.8 641.4h0M373.4 637.1h0M370.4 626.4h0M369.9 610.0h0M365.1 642.8h0M373.1 640.7h0M365.9 649.7h0M375.6 604.0h0M377.1 608.2h0M366.5 600.6h0M378.2 606.4h0M373.3 619.0h0M367.6 653.8h0M361.9 630.9h0M364.0 652.4h0M368.2 613.8h0M377.5 616.8h0M367.3 606.2h0M367.3 594.9h0M359.0 637.4h0M370.6 646.5h0M361.0 639.1h0M374.4 621.6h0M380.4 611.1h0M377.9 607.2h0M369.3 624.0h0M369.4 618.4h0M375.6 618.6h0M368.3 614.6h0M359.6 633.5h0M367.7 623.1h0M373.3 623.4h0M374.8 620.3h0M380.1 610.2h0M375.9 633.4h0M372.7 642.6h0M371.0 624.7h0M374.3 607.1h0M373.2 581.6h0M363.9 649.1h0M374.3 617.9h0M367.8 598.1h0M374.2 618.4h0M366.9 652.6h0M378.2 620.5h0M376.5 625.9h0M366.1 605.5h0M370.8 613.8h0M372.2 578.7h0M371.5 626.0h0M379.9 597.2h0M370.8 654.5h0M369.9 636.2h0M365.2 644.2h0M374.3 581.8h0M373.2 640.6h0M375.6 584.7h0M368.7 618.1h0M374.0 619.8h0M369.5 651.1h0M371.2 626.1h0M375.1 596.1h0M377.8 593.4h0M375.4 601.6h0M367.9 598.8h0M369.4 639.5h0M373.4 592.1h0M363.0 624.0h0M365.0 644.0h0M371.5 624.6h0M373.6 617.8h0M372.5 629.9h0M374.8 614.5h0M369.3 642.9h0M367.5 636.8h0M364.4 640.8h0M366.5 629.7h0M367.6 619.5h0M375.1 588.0h0M367.4 652.2h0M372.4 631.0h0M368.5 648.5h0M376.6 580.3h0M370.3 606.8h0M367.0 625.6h0M377.0 578.3h0M369.0 641.8h0M366.1 630.1h0M373.9 642.9h0M363.2 645.3h0M367.6 637.2h0M372.3 605.1h0M380.0 628.1h0M374.2 587.8h0M362.5 637.4h0M372.9 614.6h0M369.6 613.5h0M361.3 605.1h0M373.8 602.2h0M371.0 620.8h0M376.3 577.9h0M361.6 641.0h0M370.6 648.2h0M370.1 612.9h0M362.2 651.1h0M369.2 614.1h0M374.4 572.3h0M370.8 597.0h0M373.3 627.9h0M370.0 652.6h0M370.4 613.6h0M373.7 645.6h0M366.0 613.3h0M366.2 605.2h0M387.9 581.6h0M372.8 629.2h0M374.7 581.2h0M367.9 611.7h0M363.7 641.2h0M374.7 648.7h0M369.1 648.1h0M373.1 593.0h0M370.4 620.1h0M368.0 607.4h0M373.0 635.8h0M365.7 625.4h0M373.2 615.0h0M369.0 628.5h0M361.6 612.6h0M366.4 626.2h0M372.4 601.8h0M375.8 600.9h0M369.1 637.8h0M378.2 596.9h0" stroke="#6a88d8"/><path d="M370.3 631.7h0M373.8 614.1h0M376.4 633.5h0M378.3 624.0h0M362.5 648.1h0M373.2 607.9h0M371.4 611.7h0M378.8 627.6h0M368.7 627.1h0M380.0 612.0h0M370.8 627.7h0M369.1 616.4h0M373.1 592.1h0M374.4 619.7h0M367.4 651.1h0M365.1 628.3h0M372.5 614.0h0M376.5 622.8h0M365.6 633.1h0M372.1 627.4h0M374.6 626.5h0M372.3 635.9h0M363.7 630.8h0M363.0 636.3h0M376.3 604.9h0M372.9 613.5h0M378.6 601.6h0M381.7 622.7h0M372.3 609.9h0M367.5 606.2h0M368.3 618.8h0M376.7 607.7h0M370.4 646.8h0M378.7 574.5h0M370.0 618.8h0M364.9 641.7h0M376.6 610.5h0M371.8 628.7h0M378.7 596.1h0M371.2 651.9h0M372.4 628.4h0M366.5 652.2h0M364.6 635.3h0M364.5 617.7h0M373.6 646.7h0M365.7 641.2h0M371.9 619.8h0M370.5 612.6h0M375.5 600.5h0M367.4 633.8h0M369.1 637.6h0M373.9 611.3h0M370.5 605.4h0M373.9 615.1h0M372.5 620.0h0M371.5 612.4h0M364.9 631.8h0M366.2 608.6h0M374.9 610.8h0M375.2 611.8h0M367.4 636.0h0M365.2 652.0h0M370.4 653.9h0M373.9 639.6h0M370.9 621.0h0M377.8 609.3h0M365.0 638.1h0M364.5 609.5h0M373.8 652.2h0M364.1 652.3h0M369.0 630.2h0M367.6 621.4h0M364.6 630.9h0M381.2 602.1h0M376.9 596.9h0M376.0 636.8h0M366.3 634.6h0M378.2 576.7h0M372.3 606.9h0M367.0 634.6h0M377.7 631.8h0M377.0 632.7h0M360.3 628.2h0M371.9 607.0h0M375.9 603.2h0M373.7 620.3h0M368.5 639.8h0M370.2 627.9h0M369.9 618.9h0M374.2 588.5h0M363.4 635.2h0M369.2 623.7h0M379.1 586.4h0M368.3 606.7h0M376.8 609.7h0M373.0 639.4h0M378.1 635.9h0M360.6 615.3h0M368.1 632.7h0M365.1 632.5h0M375.0 595.5h0M371.5 628.9h0M376.5 589.4h0M379.9 619.4h0M376.2 603.9h0M363.6 633.1h0M373.5 612.0h0M364.5 635.8h0M372.4 631.4h0M377.0 595.3h0M372.8 638.4h0M368.3 633.7h0M375.4 610.3h0M374.5 614.3h0M366.0 654.6h0M360.5 620.8h0M380.0 635.7h0M365.6 625.7h0M365.1 612.4h0M366.2 639.3h0M372.9 623.2h0M368.3 629.5h0M375.0 630.1h0M366.8 608.5h0M367.0 632.5h0M375.8 615.5h0M365.3 629.5h0M373.1 615.1h0M373.1 632.6h0M371.8 624.8h0M367.9 639.0h0M369.4 633.6h0M377.0 604.7h0M371.3 611.3h0M373.0 575.2h0M377.8 603.2h0M374.7 641.8h0M369.3 630.6h0M374.1 618.7h0M371.0 594.9h0M374.5 580.8h0M361.2 643.8h0M367.4 635.4h0M375.8 605.9h0M364.9 627.5h0M373.5 620.9h0M368.0 615.6h0M364.7 656.1h0M381.5 592.5h0M360.3 642.6h0M369.1 627.9h0M367.0 618.2h0M372.4 609.3h0M370.6 644.5h0M366.5 608.0h0M372.4 634.0h0M368.8 637.6h0M367.3 638.1h0M363.7 641.9h0M375.4 618.8h0M368.9 617.6h0M373.8 598.7h0M364.8 630.5h0M378.3 590.1h0M367.9 634.3h0M372.2 606.4h0M377.8 629.3h0M366.1 631.5h0M372.2 641.8h0M367.0 641.0h0M380.8 607.5h0M376.5 639.2h0M382.5 572.5h0M370.7 615.7h0M368.5 619.0h0M371.0 620.5h0M377.3 628.5h0M376.4 607.9h0M377.0 602.7h0M369.0 603.3h0M376.1 575.0h0M373.5 635.0h0M363.7 644.1h0M367.8 640.1h0M362.7 624.5h0M377.1 631.1h0M363.8 611.6h0M364.1 644.1h0M361.9 619.3h0M370.0 646.5h0M373.6 614.2h0M372.8 626.2h0M367.2 611.0h0M371.6 607.3h0M365.0 637.7h0M367.7 649.8h0M381.4 629.0h0M364.0 655.8h0M366.0 601.3h0M373.9 626.4h0M378.9 640.9h0M369.6 613.0h0M370.2 607.4h0M366.5 645.2h0M380.7 617.6h0M380.9 601.4h0M369.3 614.1h0M367.6 647.6h0M368.0 647.3h0M365.5 627.3h0M371.6 623.4h0M376.7 623.3h0M372.2 639.7h0M364.4 650.6h0M378.3 615.5h0M371.3 594.2h0M364.3 645.3h0M359.3 623.4h0M367.9 617.2h0M377.0 644.1h0M372.8 581.9h0M373.0 607.0h0M369.1 619.8h0M372.0 616.2h0M377.8 587.5h0M365.0 642.4h0M372.0 629.2h0M376.5 612.9h0M376.5 592.6h0M363.4 631.6h0M364.8 650.5h0M366.9 620.1h0M367.2 626.5h0M367.3 618.1h0M372.8 634.4h0M374.4 593.0h0M374.3 640.3h0M376.2 640.1h0M359.9 644.2h0M383.8 604.5h0M365.4 626.9h0M379.1 606.8h0M372.9 626.3h0M370.1 613.8h0M371.3 640.3h0M377.5 599.4h0M363.6 628.1h0M365.0 616.5h0M365.2 646.2h0M366.9 632.3h0M377.5 619.8h0M371.9 642.1h0M377.5 613.7h0M363.0 634.1h0M374.3 619.3h0M370.6 628.5h0M374.6 607.8h0M377.7 628.9h0M369.9 654.1h0M359.7 642.4h0M372.2 639.7h0M370.8 602.8h0M379.6 596.6h0M370.5 629.4h0M367.7 631.8h0M365.4 626.8h0M375.5 597.6h0M373.0 585.0h0M370.3 626.1h0M368.7 616.9h0M375.2 593.8h0M376.0 626.0h0M372.8 623.2h0M381.1 633.6h0M378.9 586.2h0M358.2 632.7h0M380.0 619.4h0M373.9 610.9h0M369.1 623.6h0M377.3 614.1h0M371.8 604.3h0M379.2 599.3h0M375.1 619.9h0M374.6 604.9h0M366.5 622.9h0M367.0 597.7h0M375.8 622.7h0M374.4 630.3h0M364.1 645.8h0M364.9 640.0h0M368.3 612.4h0M371.0 622.8h0M372.7 643.8h0M373.0 613.8h0M371.9 600.2h0M370.1 608.7h0M375.6 616.9h0M372.2 613.5h0M373.4 624.0h0M366.2 615.1h0M377.6 643.8h0M385.6 597.4h0M364.6 606.2h0M368.8 619.0h0M376.5 635.2h0M377.9 624.5h0M373.6 618.7h0M369.7 577.5h0M363.9 640.7h0M374.0 609.0h0M364.3 636.8h0M376.6 614.4h0M363.1 622.3h0M369.7 619.2h0M370.8 583.9h0M365.3 620.0h0" stroke="#5a7ad0"/><path d="M371.8 636.4h0M369.9 615.1h0M373.6 622.0h0M365.6 645.3h0M368.4 624.4h0M367.6 634.1h0M370.5 617.8h0M368.7 626.2h0M369.7 637.0h0M371.3 626.1h0M369.8 639.3h0M370.7 615.3h0M371.8 619.6h0M373.0 618.9h0M370.1 621.4h0M371.1 625.5h0M368.7 627.8h0M372.6 626.7h0M370.4 624.6h0M370.9 636.7h0M370.8 626.7h0M368.5 637.7h0M373.2 623.6h0M368.8 620.0h0M370.4 634.1h0M373.1 624.0h0M371.1 635.9h0M372.4 625.9h0M368.7 638.4h0M369.1 622.8h0M369.2 623.7h0M370.6 627.1h0M371.3 621.0h0M371.8 626.7h0M369.6 617.8h0M371.7 624.6h0" stroke="#7fc85a"/><path d="M379.3 621.2h0M365.0 638.3h0M368.0 626.8h0M378.9 612.1h0M375.1 609.5h0M375.0 609.6h0M371.3 623.3h0M365.5 639.2h0M373.7 613.7h0M371.8 610.6h0M377.3 588.0h0M373.6 624.3h0M371.2 627.2h0M374.4 622.3h0M372.9 625.8h0M375.5 585.7h0M368.7 629.3h0M362.5 654.5h0M374.6 628.2h0M371.7 617.9h0M363.6 652.2h0M373.8 635.5h0M374.4 627.5h0M363.3 646.1h0M377.2 633.2h0M362.2 640.0h0M362.7 651.4h0M362.3 637.4h0M367.3 619.8h0M368.0 615.2h0M364.1 633.9h0M378.8 612.1h0M374.1 598.2h0M373.5 617.1h0M373.6 639.2h0M376.7 618.5h0M372.3 602.5h0M363.9 642.2h0M364.6 632.7h0M374.0 593.6h0M379.6 623.7h0M360.0 653.6h0M375.3 614.7h0M376.8 611.6h0M380.8 618.6h0M381.8 603.0h0M358.4 634.9h0M372.1 626.9h0M367.4 649.6h0M373.9 640.1h0M370.6 643.0h0M376.0 607.9h0M379.2 608.7h0M367.5 640.4h0M370.7 601.2h0M365.2 613.2h0M369.1 640.8h0M367.7 647.6h0M370.0 623.4h0M371.4 644.4h0M373.2 631.8h0M368.2 614.2h0M371.1 638.7h0M376.6 648.6h0M376.2 639.0h0M366.0 610.6h0M370.2 645.0h0M378.9 619.8h0M363.1 636.2h0M366.8 636.3h0M373.9 625.4h0M377.3 616.2h0M360.1 655.9h0M359.4 649.9h0M372.7 617.6h0M367.3 636.7h0M357.4 621.9h0M377.5 613.0h0M360.7 632.0h0M370.2 610.6h0M374.5 601.0h0M375.6 603.2h0M372.0 655.0h0M361.8 649.7h0M366.0 635.8h0M375.8 616.8h0M369.2 651.6h0M377.6 589.3h0M366.7 636.1h0M375.0 619.7h0M369.6 606.8h0M369.1 605.5h0M373.3 641.8h0M371.0 597.0h0M375.0 602.6h0M379.1 627.4h0M366.8 633.6h0M365.7 586.8h0M362.6 643.0h0M366.2 610.5h0M371.1 630.6h0M369.5 629.3h0M369.4 630.8h0M372.0 617.8h0M369.2 630.8h0M373.3 640.1h0M368.9 622.9h0M364.7 608.4h0M365.4 614.5h0M360.3 625.5h0M365.8 634.3h0M375.2 618.8h0M360.1 635.5h0M369.6 620.2h0M376.1 589.0h0M366.2 628.9h0M366.4 607.8h0M372.0 637.3h0M372.2 602.6h0M376.3 591.0h0M367.9 605.8h0M372.2 603.2h0M367.9 640.5h0M370.5 604.7h0M370.7 624.5h0M375.4 590.6h0M377.4 631.2h0M377.9 632.9h0M362.9 655.8h0M368.3 611.6h0M370.5 620.9h0M374.4 593.1h0M373.9 619.4h0M368.8 650.2h0M365.2 624.8h0M371.7 626.0h0M373.0 604.0h0M363.1 629.9h0M374.2 631.4h0M367.0 632.1h0M368.5 632.2h0M379.9 585.0h0M367.2 614.6h0M363.7 636.6h0M372.7 604.8h0M374.5 624.9h0M366.1 614.2h0M366.0 651.7h0M374.5 626.6h0M366.1 621.5h0M365.2 641.6h0M365.5 586.9h0M374.3 593.0h0M372.0 635.0h0M363.5 642.0h0M360.3 636.7h0M379.8 585.0h0M371.8 623.8h0M370.9 623.7h0M381.0 602.8h0M367.4 616.9h0M367.6 618.8h0M366.4 625.3h0M373.3 619.5h0M371.6 598.5h0M370.0 579.8h0M368.9 653.2h0M366.6 609.0h0M361.4 618.8h0M374.9 589.7h0M364.6 623.7h0M378.0 588.5h0M365.9 629.0h0M366.7 641.2h0M361.7 654.0h0M374.4 623.1h0M366.7 612.3h0M366.2 651.4h0M373.6 588.3h0M371.9 616.5h0M361.9 634.8h0M362.3 623.7h0M368.2 641.6h0M370.3 615.7h0M380.0 602.8h0M374.6 587.8h0M377.9 624.4h0M372.5 611.5h0M377.0 601.4h0M374.3 617.1h0M364.7 637.9h0M375.6 623.7h0M363.0 647.4h0M373.4 593.5h0M372.3 608.4h0M365.3 633.6h0M374.5 625.5h0M364.3 647.1h0M372.8 601.1h0M365.1 616.3h0M364.3 650.2h0M375.2 618.8h0M367.8 639.3h0M374.7 647.4h0M371.3 627.6h0M369.0 618.1h0M372.6 627.1h0M371.8 632.4h0M365.9 613.1h0M369.2 618.2h0M378.2 595.5h0M371.7 636.0h0M376.6 600.9h0M371.6 617.7h0M369.8 627.1h0M368.3 610.8h0M374.7 615.6h0M373.8 618.6h0M373.8 610.0h0M360.9 634.5h0M358.7 629.2h0M369.9 634.3h0M369.9 620.6h0M370.2 599.8h0M366.5 610.0h0M378.6 592.9h0M362.1 644.6h0M369.9 606.0h0M366.1 631.5h0M368.6 638.5h0M371.5 619.2h0M361.0 623.9h0M368.8 613.9h0M365.1 637.2h0M367.7 617.7h0M364.8 628.0h0M376.8 621.0h0M373.3 589.9h0M365.9 641.7h0M361.2 624.9h0M378.3 605.1h0M366.7 643.0h0M375.8 617.5h0M376.9 605.1h0M375.0 581.9h0M360.7 643.4h0M377.6 613.2h0M370.4 617.8h0M375.7 589.3h0M380.6 621.1h0M369.4 637.5h0M371.0 602.8h0M365.3 634.0h0M371.3 601.2h0M369.1 594.1h0M373.2 617.6h0M376.7 619.1h0M359.2 624.0h0M374.9 621.7h0M362.8 645.9h0M368.3 634.7h0M371.2 601.7h0M370.8 644.7h0M371.0 626.8h0M372.0 624.6h0M368.8 605.7h0M364.2 647.4h0M367.7 649.8h0M370.7 605.2h0M372.1 640.9h0M366.1 623.3h0M375.9 612.8h0M375.9 629.2h0M372.9 614.3h0M373.9 647.6h0M381.6 601.5h0M370.7 632.2h0M377.4 618.5h0M376.7 603.1h0M373.7 620.4h0M377.8 628.3h0M373.6 645.9h0M372.6 633.9h0M379.4 603.7h0M370.9 628.2h0M374.7 597.7h0M368.8 604.9h0M375.7 617.5h0M377.5 603.6h0M361.9 625.2h0M365.4 645.3h0M372.2 627.3h0M380.9 612.0h0M370.2 628.5h0M377.3 604.5h0M378.4 599.3h0M367.2 623.2h0M368.0 615.1h0M360.5 654.0h0M358.0 630.1h0M368.9 629.2h0M368.0 639.5h0M377.2 599.3h0M373.6 612.5h0M371.3 640.3h0M369.6 639.2h0M377.0 599.8h0M372.6 615.2h0M361.4 654.6h0M376.4 587.3h0" stroke="#4a6cc8"/><path d="M379.9 642.3h0M372.3 607.8h0M374.8 598.3h0M362.0 606.1h0M362.6 621.5h0M360.5 638.5h0M367.9 617.9h0M365.6 626.4h0M364.9 609.6h0M371.1 609.7h0M380.1 602.6h0M372.2 623.1h0M362.1 645.2h0M374.8 613.1h0M371.9 624.0h0M372.3 598.5h0M371.9 600.5h0M375.8 613.2h0M373.7 629.3h0M376.5 626.6h0M363.9 624.3h0M368.4 647.1h0M372.9 629.2h0M367.2 617.9h0M371.2 618.6h0M368.4 624.7h0M365.5 620.6h0M372.0 586.1h0M379.5 614.3h0M369.1 653.5h0M367.5 597.4h0M367.9 613.6h0M369.4 590.6h0M362.7 626.0h0M379.2 624.5h0M365.9 628.0h0M372.0 599.3h0M368.9 611.1h0M366.5 631.5h0M363.5 644.4h0M363.8 649.6h0M363.3 620.3h0M366.5 618.6h0M380.2 580.5h0M368.8 603.6h0M373.5 623.3h0M372.4 617.4h0M363.3 625.3h0M371.7 591.3h0M371.3 651.6h0M373.4 620.8h0M366.7 630.0h0M368.9 617.1h0M371.6 610.8h0M369.4 627.5h0M368.1 645.5h0M367.7 602.2h0M363.3 616.5h0M368.2 640.2h0M371.8 604.9h0M373.1 609.4h0M379.9 617.3h0M374.0 598.5h0M378.3 607.7h0M367.7 628.8h0M372.2 624.4h0M365.4 651.4h0M365.1 654.8h0M364.6 626.9h0M367.4 619.3h0M371.3 606.7h0M376.4 613.0h0M370.4 628.4h0M375.2 628.1h0M372.7 607.0h0M378.8 614.6h0M378.4 639.8h0M375.0 613.9h0M367.4 627.7h0M369.8 613.9h0M375.3 599.4h0M372.2 610.1h0M374.8 603.0h0M369.3 621.4h0M366.6 634.5h0M380.0 584.8h0M364.5 628.6h0M366.4 643.9h0M377.3 634.9h0M368.9 621.5h0M366.8 629.1h0M370.9 614.6h0M376.8 600.9h0M373.6 629.5h0M367.9 643.3h0M377.0 603.1h0M377.3 629.5h0M373.4 643.5h0M359.7 631.3h0M372.9 594.4h0M371.8 624.8h0M378.9 602.4h0M375.6 610.3h0M365.2 628.0h0M375.5 599.4h0M360.7 638.4h0M366.0 643.3h0M366.7 640.3h0M367.0 622.8h0M366.9 646.1h0M369.0 621.4h0M372.6 620.4h0M366.9 629.4h0M366.6 637.5h0M366.3 611.7h0M374.3 640.6h0M368.7 616.7h0M373.5 633.8h0M371.1 650.2h0M373.8 598.9h0M366.4 632.4h0M366.0 644.5h0M371.4 628.1h0M363.2 623.2h0M366.5 652.8h0M376.2 635.0h0M368.3 617.3h0M373.1 628.5h0M379.1 613.3h0M369.7 609.2h0M371.9 614.1h0M379.3 616.1h0M366.6 646.0h0M360.6 631.1h0M376.3 610.1h0M375.5 596.6h0M382.5 584.4h0M379.1 601.5h0M365.5 630.5h0M374.5 598.2h0M371.3 621.5h0M362.2 639.7h0M367.0 632.8h0M370.0 635.6h0M381.0 580.7h0M373.8 610.4h0M370.8 644.6h0M376.3 591.6h0M370.3 617.0h0M365.3 643.7h0M368.5 614.1h0M369.4 612.6h0M375.6 603.3h0M366.6 644.2h0M368.1 614.7h0M368.9 635.1h0M378.0 630.1h0M370.9 642.8h0M378.2 598.3h0M365.9 654.9h0M367.5 644.4h0M373.3 630.8h0M367.8 612.7h0M374.4 625.7h0M372.0 601.4h0M375.0 618.9h0M369.1 609.8h0M366.3 617.0h0M368.0 647.8h0M378.1 572.0h0M386.0 582.1h0M364.8 621.9h0M375.0 598.5h0M372.2 642.5h0M370.2 630.7h0M380.6 611.9h0M370.6 609.4h0M361.9 632.4h0M367.3 647.2h0M376.1 608.4h0M364.5 640.1h0M377.3 634.3h0M377.6 601.3h0M367.5 598.9h0M363.3 635.8h0M373.0 637.1h0M379.5 634.3h0M374.7 644.5h0M372.0 636.9h0M373.8 600.8h0M364.2 624.3h0M364.3 633.8h0M368.1 628.6h0M362.5 654.5h0M380.7 617.7h0M373.7 606.3h0M359.0 640.3h0M369.2 606.8h0M372.0 607.8h0M375.8 609.6h0M364.4 648.7h0M376.2 594.7h0M377.6 595.8h0M364.5 656.1h0M383.6 628.1h0M370.0 624.0h0M364.7 624.8h0M373.8 609.5h0M376.2 596.8h0M371.2 616.4h0M363.6 629.8h0M371.4 642.3h0M368.4 631.7h0M366.7 633.7h0M371.1 629.5h0M376.0 622.5h0M362.8 641.0h0M370.0 636.7h0M369.8 625.0h0M375.5 618.8h0M365.9 630.1h0M373.8 627.5h0M360.5 637.7h0M363.6 643.2h0M365.9 613.4h0M375.9 612.3h0M371.0 610.8h0M376.9 589.1h0M385.6 598.7h0M369.3 609.0h0M372.7 622.9h0M374.4 604.8h0M371.0 625.1h0M376.7 611.4h0M378.9 589.1h0M369.1 645.9h0M373.9 615.6h0M365.7 618.7h0M368.6 596.0h0M369.9 631.5h0M376.2 580.7h0M369.5 626.7h0M373.6 640.9h0M372.4 632.1h0M376.8 584.7h0M368.5 631.7h0M383.0 590.6h0M365.0 647.9h0M366.8 614.8h0M365.0 617.9h0M366.3 653.5h0M375.3 609.5h0M366.7 627.2h0M373.4 603.5h0M368.9 649.0h0M372.2 603.5h0M364.3 635.3h0M373.2 638.2h0M366.7 636.8h0M372.9 615.1h0M377.2 599.1h0M373.9 617.4h0M373.3 626.5h0M375.2 615.4h0M376.9 624.1h0M381.6 626.0h0M357.3 634.5h0M376.6 606.0h0M367.6 647.2h0M369.3 632.3h0M374.2 612.8h0M376.0 617.6h0M366.7 614.6h0M371.6 625.1h0M372.9 605.3h0M366.6 636.3h0M377.5 619.3h0M369.2 592.0h0M361.3 652.3h0M371.5 631.9h0M372.8 599.9h0M371.7 653.0h0M374.5 612.1h0M363.0 637.0h0M360.8 626.2h0M365.7 647.2h0M364.3 631.0h0M380.3 608.0h0M367.2 625.0h0M363.2 644.9h0M365.9 638.1h0M369.2 607.1h0M374.7 628.9h0M374.8 635.2h0M371.1 652.0h0M372.8 624.4h0M368.1 601.8h0M373.3 614.8h0M365.3 643.2h0M374.0 633.0h0M370.9 610.1h0M363.2 643.2h0M366.2 628.6h0M372.3 601.2h0M370.0 638.4h0M374.0 612.5h0M368.0 599.9h0M374.7 615.0h0M376.1 611.4h0M368.5 628.6h0M368.7 627.5h0M374.5 604.3h0M367.7 613.3h0M364.2 649.8h0M370.2 630.8h0M361.0 651.2h0M363.3 647.4h0M365.6 624.0h0M370.1 631.0h0" stroke="#2f50b8"/><path d="M368.6 639.3h0M365.9 635.3h0M371.9 617.8h0M366.6 644.0h0M374.5 616.0h0M372.1 623.4h0M370.1 623.9h0M365.5 641.3h0M368.1 630.6h0M369.3 637.3h0M368.7 624.4h0M366.6 631.5h0M368.5 623.8h0M371.1 639.4h0M369.9 630.2h0M370.5 623.4h0M365.4 640.4h0M370.7 617.3h0M370.6 622.4h0M372.2 620.1h0M373.8 621.1h0M370.3 639.0h0M372.5 626.4h0M374.8 617.3h0M366.8 636.3h0M371.3 627.3h0M370.0 639.0h0M369.1 637.6h0M373.1 620.8h0M367.6 633.4h0M373.7 619.1h0M369.7 645.0h0M371.9 629.5h0M365.5 642.1h0M370.9 643.1h0" stroke="#c8d850"/><path d="M368.5 634.4h0M367.7 640.3h0M372.3 632.9h0M369.7 631.3h0M367.6 634.1h0M370.6 625.7h0M374.1 620.0h0M370.6 634.1h0M373.4 624.6h0M370.2 624.1h0M371.6 618.2h0M368.4 625.3h0M365.9 640.1h0M371.4 629.0h0M367.6 642.2h0M369.7 630.5h0M370.4 636.5h0M367.9 634.5h0M371.7 628.0h0M369.4 626.5h0M373.7 618.2h0M368.9 620.7h0M373.4 617.5h0M369.9 629.1h0M372.7 620.2h0M372.7 624.4h0M368.3 645.0h0M372.6 622.7h0M367.7 644.8h0M368.4 636.8h0M369.9 625.0h0M367.9 630.3h0M374.4 616.5h0M366.5 632.6h0M365.7 643.5h0M368.0 633.1h0M371.6 629.7h0" stroke="#9ad25a"/><path d="M365.9 638.9h0M371.8 635.4h0M370.1 630.8h0M368.1 619.8h0M367.7 643.8h0M371.9 622.1h0M372.0 629.8h0M367.5 635.6h0M374.4 616.5h0M371.5 638.2h0M364.6 644.6h0M371.1 621.0h0M371.7 632.0h0M371.1 623.1h0M373.3 616.5h0M372.4 632.3h0M369.6 631.6h0M370.6 628.0h0M367.8 637.6h0M367.6 630.4h0M367.0 633.2h0M366.4 645.3h0M368.4 635.7h0M367.3 635.6h0M364.9 645.4h0M371.2 623.9h0M367.6 627.6h0M368.2 631.5h0M370.7 631.5h0M369.5 645.6h0M368.3 635.6h0M368.6 618.3h0M366.2 643.5h0M373.5 615.1h0M369.3 620.6h0M367.7 628.5h0M370.5 641.7h0M372.6 622.7h0M367.5 637.1h0M367.9 634.6h0" stroke="#5ab48a"/></g>
<g opacity="0.8" stroke-width="0.7" stroke-linecap="square" fill="none"><path d="M386.4 598.5h0M413.3 640.6h0M401.2 599.3h0M400.6 636.2h0M402.2 599.4h0M386.4 626.8h0M397.2 589.4h0M413.5 628.4h0M388.0 628.1h0M408.2 604.9h0M414.3 612.3h0" stroke="#8aa2e0"/><path d="M405.6 600.0h0M402.6 619.2h0M400.3 615.6h0M409.9 645.1h0M397.8 606.1h0M414.3 592.1h0M397.6 612.2h0M393.6 643.5h0M401.6 621.3h0M384.3 596.3h0M405.8 590.7h0M393.4 609.2h0M399.2 645.1h0M404.0 593.7h0M414.0 616.4h0M413.5 622.4h0M412.6 613.7h0" stroke="#6a88d8"/><path d="M406.3 591.3h0M394.2 588.6h0M388.1 601.4h0M402.3 615.9h0M403.2 618.1h0M391.2 609.2h0M406.4 597.3h0" stroke="#9ab0e6"/></g>
<rect x="355.5" y="566.5" width="95.3" height="96.7" fill="none" stroke="#9a9a9a" stroke-width="1"/>
<line x1="355.5" y1="566" x2="355.5" y2="663.7" stroke="#8a8a8a" stroke-width="1.1"/>
<line x1="355" y1="663.2" x2="451.3" y2="663.2" stroke="#8a8a8a" stroke-width="1.1"/>
<line x1="353.3" y1="663.2" x2="355.5" y2="663.2" stroke="#444" stroke-width="0.8"/>
<line x1="354.1" y1="653.53" x2="355.5" y2="653.53" stroke="#444" stroke-width="0.8"/>
<line x1="354.1" y1="643.86" x2="355.5" y2="643.86" stroke="#444" stroke-width="0.8"/>
<line x1="354.1" y1="634.19" x2="355.5" y2="634.19" stroke="#444" stroke-width="0.8"/>
<line x1="354.1" y1="624.52" x2="355.5" y2="624.52" stroke="#444" stroke-width="0.8"/>
<line x1="353.3" y1="614.85" x2="355.5" y2="614.85" stroke="#444" stroke-width="0.8"/>
<line x1="354.1" y1="605.18" x2="355.5" y2="605.18" stroke="#444" stroke-width="0.8"/>
<line x1="354.1" y1="595.51" x2="355.5" y2="595.51" stroke="#444" stroke-width="0.8"/>
<line x1="354.1" y1="585.84" x2="355.5" y2="585.84" stroke="#444" stroke-width="0.8"/>
<line x1="354.1" y1="576.17" x2="355.5" y2="576.17" stroke="#444" stroke-width="0.8"/>
<line x1="353.3" y1="566.5" x2="355.5" y2="566.5" stroke="#444" stroke-width="0.8"/>
<line x1="361.24" y1="661.4" x2="361.24" y2="663.2" stroke="#333" stroke-width="0.7"/>
<line x1="364.59" y1="661.4" x2="364.59" y2="663.2" stroke="#333" stroke-width="0.7"/>
<line x1="366.98" y1="661.4" x2="366.98" y2="663.2" stroke="#333" stroke-width="0.7"/>
<line x1="368.82" y1="661.4" x2="368.82" y2="663.2" stroke="#333" stroke-width="0.7"/>
<line x1="370.33" y1="661.4" x2="370.33" y2="663.2" stroke="#333" stroke-width="0.7"/>
<line x1="371.61" y1="661.4" x2="371.61" y2="663.2" stroke="#333" stroke-width="0.7"/>
<line x1="372.71" y1="661.4" x2="372.71" y2="663.2" stroke="#333" stroke-width="0.7"/>
<line x1="373.69" y1="661.4" x2="373.69" y2="663.2" stroke="#333" stroke-width="0.7"/>
<line x1="380.3" y1="661.4" x2="380.3" y2="663.2" stroke="#333" stroke-width="0.7"/>
<line x1="383.65" y1="661.4" x2="383.65" y2="663.2" stroke="#333" stroke-width="0.7"/>
<line x1="386.04" y1="661.4" x2="386.04" y2="663.2" stroke="#333" stroke-width="0.7"/>
<line x1="387.88" y1="661.4" x2="387.88" y2="663.2" stroke="#333" stroke-width="0.7"/>
<line x1="389.39" y1="661.4" x2="389.39" y2="663.2" stroke="#333" stroke-width="0.7"/>
<line x1="390.67" y1="661.4" x2="390.67" y2="663.2" stroke="#333" stroke-width="0.7"/>
<line x1="391.77" y1="661.4" x2="391.77" y2="663.2" stroke="#333" stroke-width="0.7"/>
<line x1="392.75" y1="661.4" x2="392.75" y2="663.2" stroke="#333" stroke-width="0.7"/>
<line x1="399.36" y1="661.4" x2="399.36" y2="663.2" stroke="#333" stroke-width="0.7"/>
<line x1="402.71" y1="661.4" x2="402.71" y2="663.2" stroke="#333" stroke-width="0.7"/>
<line x1="405.1" y1="661.4" x2="405.1" y2="663.2" stroke="#333" stroke-width="0.7"/>
<line x1="406.94" y1="661.4" x2="406.94" y2="663.2" stroke="#333" stroke-width="0.7"/>
<line x1="408.45" y1="661.4" x2="408.45" y2="663.2" stroke="#333" stroke-width="0.7"/>
<line x1="409.73" y1="661.4" x2="409.73" y2="663.2" stroke="#333" stroke-width="0.7"/>
<line x1="410.83" y1="661.4" x2="410.83" y2="663.2" stroke="#333" stroke-width="0.7"/>
<line x1="411.81" y1="661.4" x2="411.81" y2="663.2" stroke="#333" stroke-width="0.7"/>
<line x1="418.42" y1="661.4" x2="418.42" y2="663.2" stroke="#333" stroke-width="0.7"/>
<line x1="421.77" y1="661.4" x2="421.77" y2="663.2" stroke="#333" stroke-width="0.7"/>
<line x1="424.16" y1="661.4" x2="424.16" y2="663.2" stroke="#333" stroke-width="0.7"/>
<line x1="426" y1="661.4" x2="426" y2="663.2" stroke="#333" stroke-width="0.7"/>
<line x1="427.51" y1="661.4" x2="427.51" y2="663.2" stroke="#333" stroke-width="0.7"/>
<line x1="428.79" y1="661.4" x2="428.79" y2="663.2" stroke="#333" stroke-width="0.7"/>
<line x1="429.89" y1="661.4" x2="429.89" y2="663.2" stroke="#333" stroke-width="0.7"/>
<line x1="430.87" y1="661.4" x2="430.87" y2="663.2" stroke="#333" stroke-width="0.7"/>
<line x1="437.48" y1="661.4" x2="437.48" y2="663.2" stroke="#333" stroke-width="0.7"/>
<line x1="440.83" y1="661.4" x2="440.83" y2="663.2" stroke="#333" stroke-width="0.7"/>
<line x1="443.22" y1="661.4" x2="443.22" y2="663.2" stroke="#333" stroke-width="0.7"/>
<line x1="445.06" y1="661.4" x2="445.06" y2="663.2" stroke="#333" stroke-width="0.7"/>
<line x1="446.57" y1="661.4" x2="446.57" y2="663.2" stroke="#333" stroke-width="0.7"/>
<line x1="447.85" y1="661.4" x2="447.85" y2="663.2" stroke="#333" stroke-width="0.7"/>
<line x1="448.95" y1="661.4" x2="448.95" y2="663.2" stroke="#333" stroke-width="0.7"/>
<line x1="449.93" y1="661.4" x2="449.93" y2="663.2" stroke="#333" stroke-width="0.7"/>
<line x1="355.5" y1="663.2" x2="355.5" y2="665.2" stroke="#333" stroke-width="0.8"/>
<text x="356.1" y="676.9" font-size="9.8" text-anchor="end" fill="#1a1a1a" textLength="9.6" lengthAdjust="spacingAndGlyphs">10</text>
<text x="356.4" y="672.9" font-size="5.4">2</text>
<line x1="374.56" y1="663.2" x2="374.56" y2="665.2" stroke="#333" stroke-width="0.8"/>
<text x="375.16" y="676.9" font-size="9.8" text-anchor="end" fill="#1a1a1a" textLength="9.6" lengthAdjust="spacingAndGlyphs">10</text>
<text x="375.46" y="672.9" font-size="5.4">3</text>
<line x1="393.62" y1="663.2" x2="393.62" y2="665.2" stroke="#333" stroke-width="0.8"/>
<text x="394.22" y="676.9" font-size="9.8" text-anchor="end" fill="#1a1a1a" textLength="9.6" lengthAdjust="spacingAndGlyphs">10</text>
<text x="394.52" y="672.9" font-size="5.4">4</text>
<line x1="412.68" y1="663.2" x2="412.68" y2="665.2" stroke="#333" stroke-width="0.8"/>
<text x="413.28" y="676.9" font-size="9.8" text-anchor="end" fill="#1a1a1a" textLength="9.6" lengthAdjust="spacingAndGlyphs">10</text>
<text x="413.58" y="672.9" font-size="5.4">5</text>
<line x1="431.74" y1="663.2" x2="431.74" y2="665.2" stroke="#333" stroke-width="0.8"/>
<text x="432.34" y="676.9" font-size="9.8" text-anchor="end" fill="#1a1a1a" textLength="9.6" lengthAdjust="spacingAndGlyphs">10</text>
<text x="432.64" y="672.9" font-size="5.4">6</text>
<line x1="450.8" y1="663.2" x2="450.8" y2="665.2" stroke="#333" stroke-width="0.8"/>
<text x="451.4" y="676.9" font-size="9.8" text-anchor="end" fill="#1a1a1a" textLength="9.6" lengthAdjust="spacingAndGlyphs">10</text>
<text x="451.7" y="672.9" font-size="5.4">7</text>
<text x="350.5" y="563.7" font-size="10.5" text-anchor="middle" textLength="15.6" lengthAdjust="spacingAndGlyphs" transform="rotate(-90 350.5 563.7)">100</text>
<text x="350.5" y="614.85" font-size="10.5" text-anchor="middle" textLength="10.4" lengthAdjust="spacingAndGlyphs" transform="rotate(-90 350.5 614.85)">50</text>
<text x="350.5" y="663.2" font-size="10.5" text-anchor="middle" textLength="5.2" lengthAdjust="spacingAndGlyphs" transform="rotate(-90 350.5 663.2)">0</text>
<text x="381" y="689.4" font-size="9" textLength="46.2" lengthAdjust="spacingAndGlyphs">PE-CD206</text>
<polygon points="384.4,573.9 427.7,571.8 415.9,649.3 380.4,649.3" fill="none" stroke="#1a1a1a" stroke-width="1.1"/>
<text x="367.3" y="550.2" font-size="9" textLength="77" lengthAdjust="spacingAndGlyphs">miR-708-5p mimic</text>
<text x="383.1" y="562.1" font-size="9" textLength="38.8" lengthAdjust="spacingAndGlyphs">+inhibitor</text>
<text x="389.6" y="584.9" font-size="9.2" textLength="32.9" lengthAdjust="spacingAndGlyphs">(5.70%)</text>
<text x="336" y="614.2" font-size="8.6" text-anchor="middle" textLength="24.7" lengthAdjust="spacingAndGlyphs" transform="rotate(-90 336 614.2)">SSC-A</text>
<text x="336.8" y="547.5" font-size="7.8" text-anchor="middle" letter-spacing="0.35" transform="rotate(-90 336.8 547.5)">(x 10<tspan font-size="6.6" dy="-4.6">4</tspan><tspan dy="4.6">)</tspan></text>
<text x="0.8" y="717.3" font-size="14.3" fill="#000" font-weight="bold">J</text>
<text x="264.1" y="706.7" font-size="8.8" textLength="119.8" lengthAdjust="spacingAndGlyphs">PBMC-derived&#160; macrophage</text>
<line x1="64.1" y1="713.4" x2="543.1" y2="713.4" stroke="#1a1a1a" stroke-width="1.3"/>
<text x="285.3" y="724.7" font-size="8.8" text-anchor="end" textLength="106.8" lengthAdjust="spacingAndGlyphs">M2-macrophage markers</text>
<line x1="64.1" y1="728.6" x2="357.3" y2="728.6" stroke="#1a1a1a" stroke-width="1.3"/>
<text x="433" y="724.7" font-size="8.8" textLength="106" lengthAdjust="spacingAndGlyphs">M1-macrophage markers</text>
<line x1="426.6" y1="728.6" x2="542.2" y2="728.6" stroke="#1a1a1a" stroke-width="1.3"/>
<text x="63.1" y="739.9" font-size="8.8" textLength="21" lengthAdjust="spacingAndGlyphs">Arg1</text>
<text x="146.5" y="739.9" font-size="8.8" textLength="29.4" lengthAdjust="spacingAndGlyphs">CD163</text>
<text x="241" y="739.9" font-size="8.8" textLength="21.9" lengthAdjust="spacingAndGlyphs">IL-10</text>
<text x="330.9" y="739.9" font-size="8.8" textLength="28.3" lengthAdjust="spacingAndGlyphs">TGF-&#946;</text>
<text x="428.8" y="739.9" font-size="8.8" textLength="25.7" lengthAdjust="spacingAndGlyphs">NOS2</text>
<text x="525.2" y="739.9" font-size="8.8" textLength="23.4" lengthAdjust="spacingAndGlyphs">TNF&#945;</text>
<line x1="43.8" y1="749.6" x2="43.8" y2="837.05" stroke="#1a1a1a" stroke-width="1.3"/>
<line x1="40.2" y1="836.4" x2="101.3" y2="836.4" stroke="#1a1a1a" stroke-width="1.3"/>
<line x1="40.2" y1="836.4" x2="43.8" y2="836.4" stroke="#1a1a1a" stroke-width="1.3"/>
<text x="38.2" y="838.7" font-size="9" text-anchor="end">0</text>
<line x1="40.2" y1="819.16" x2="43.8" y2="819.16" stroke="#1a1a1a" stroke-width="1.3"/>
<text x="38.2" y="821.46" font-size="9" text-anchor="end">2</text>
<line x1="40.2" y1="801.92" x2="43.8" y2="801.92" stroke="#1a1a1a" stroke-width="1.3"/>
<text x="38.2" y="804.22" font-size="9" text-anchor="end">4</text>
<line x1="40.2" y1="784.68" x2="43.8" y2="784.68" stroke="#1a1a1a" stroke-width="1.3"/>
<text x="38.2" y="786.98" font-size="9" text-anchor="end">6</text>
<line x1="40.2" y1="767.44" x2="43.8" y2="767.44" stroke="#1a1a1a" stroke-width="1.3"/>
<text x="38.2" y="769.74" font-size="9" text-anchor="end">8</text>
<line x1="40.2" y1="750.2" x2="43.8" y2="750.2" stroke="#1a1a1a" stroke-width="1.3"/>
<text x="38.2" y="752.5" font-size="9" text-anchor="end">10</text>
<rect x="50.3" y="828.1" width="12.8" height="8.3" fill="#E99AA2"/>
<line x1="56.65" y1="825.5" x2="56.65" y2="830.6" stroke="#1a1a1a" stroke-width="1.2"/>
<line x1="53.4" y1="825.5" x2="59.9" y2="825.5" stroke="#1a1a1a" stroke-width="1.2"/>
<line x1="53.4" y1="830.6" x2="59.9" y2="830.6" stroke="#1a1a1a" stroke-width="1.2"/>
<rect x="66" y="776.3" width="13.2" height="60.1" fill="#C8F2DE"/>
<line x1="72.3" y1="768.4" x2="72.3" y2="783.8" stroke="#1a1a1a" stroke-width="1.2"/>
<line x1="68.9" y1="768.4" x2="75.7" y2="768.4" stroke="#1a1a1a" stroke-width="1.2"/>
<line x1="68.9" y1="783.8" x2="75.7" y2="783.8" stroke="#1a1a1a" stroke-width="1.2"/>
<rect x="81.8" y="829.3" width="13.2" height="7.1" fill="#CBDAEC"/>
<line x1="88.4" y1="828.5" x2="88.4" y2="830.1" stroke="#1a1a1a" stroke-width="1.8"/>
<line x1="85.3" y1="828.5" x2="91.5" y2="828.5" stroke="#1a1a1a" stroke-width="1.8"/>
<line x1="85.3" y1="830.1" x2="91.5" y2="830.1" stroke="#1a1a1a" stroke-width="1.8"/>
<text x="72.8" y="754.6" font-size="8.5" text-anchor="middle" textLength="12.6" lengthAdjust="spacing">***</text>
<text x="27" y="793.4" font-size="9.2" text-anchor="middle" textLength="86" lengthAdjust="spacingAndGlyphs" transform="rotate(-90 27 793.4)">Relative mRNA level</text>
<line x1="132.8" y1="749.9" x2="132.8" y2="837.05" stroke="#1a1a1a" stroke-width="1.3"/>
<line x1="129.2" y1="836.4" x2="190.7" y2="836.4" stroke="#1a1a1a" stroke-width="1.3"/>
<line x1="129.2" y1="836.4" x2="132.8" y2="836.4" stroke="#1a1a1a" stroke-width="1.3"/>
<text x="127.2" y="838.7" font-size="9" text-anchor="end">0</text>
<line x1="129.2" y1="807.77" x2="132.8" y2="807.77" stroke="#1a1a1a" stroke-width="1.3"/>
<text x="127.2" y="810.07" font-size="9" text-anchor="end">1</text>
<line x1="129.2" y1="779.14" x2="132.8" y2="779.14" stroke="#1a1a1a" stroke-width="1.3"/>
<text x="127.2" y="781.44" font-size="9" text-anchor="end">2</text>
<line x1="129.2" y1="750.51" x2="132.8" y2="750.51" stroke="#1a1a1a" stroke-width="1.3"/>
<text x="127.2" y="752.81" font-size="9" text-anchor="end">3</text>
<rect x="138.9" y="807.8" width="13.3" height="28.6" fill="#E99AA2"/>
<line x1="145.5" y1="806.2" x2="145.5" y2="809.4" stroke="#1a1a1a" stroke-width="1.2"/>
<line x1="142" y1="806.2" x2="149" y2="806.2" stroke="#1a1a1a" stroke-width="1.2"/>
<line x1="142" y1="809.4" x2="149" y2="809.4" stroke="#1a1a1a" stroke-width="1.2"/>
<rect x="154.8" y="774.2" width="13.2" height="62.2" fill="#C8F2DE"/>
<line x1="161.55" y1="766.3" x2="161.55" y2="782" stroke="#1a1a1a" stroke-width="1.2"/>
<line x1="158.3" y1="766.3" x2="164.8" y2="766.3" stroke="#1a1a1a" stroke-width="1.2"/>
<line x1="158.3" y1="782" x2="164.8" y2="782" stroke="#1a1a1a" stroke-width="1.2"/>
<rect x="170.4" y="805.7" width="13.3" height="30.7" fill="#CBDAEC"/>
<line x1="176.9" y1="798.7" x2="176.9" y2="812.2" stroke="#1a1a1a" stroke-width="1.2"/>
<line x1="173.6" y1="798.7" x2="180.2" y2="798.7" stroke="#1a1a1a" stroke-width="1.2"/>
<line x1="173.6" y1="812.2" x2="180.2" y2="812.2" stroke="#1a1a1a" stroke-width="1.2"/>
<text x="161.9" y="754.6" font-size="8.5" text-anchor="middle" textLength="12.6" lengthAdjust="spacing">***</text>
<line x1="221.5" y1="749.6" x2="221.5" y2="837.05" stroke="#1a1a1a" stroke-width="1.3"/>
<line x1="217.9" y1="836.4" x2="279.7" y2="836.4" stroke="#1a1a1a" stroke-width="1.3"/>
<line x1="217.9" y1="836.4" x2="221.5" y2="836.4" stroke="#1a1a1a" stroke-width="1.3"/>
<text x="215.9" y="838.7" font-size="9" text-anchor="end">0</text>
<line x1="217.9" y1="819.16" x2="221.5" y2="819.16" stroke="#1a1a1a" stroke-width="1.3"/>
<text x="215.9" y="821.46" font-size="9" text-anchor="end">1</text>
<line x1="217.9" y1="801.92" x2="221.5" y2="801.92" stroke="#1a1a1a" stroke-width="1.3"/>
<text x="215.9" y="804.22" font-size="9" text-anchor="end">2</text>
<line x1="217.9" y1="784.68" x2="221.5" y2="784.68" stroke="#1a1a1a" stroke-width="1.3"/>
<text x="215.9" y="786.98" font-size="9" text-anchor="end">3</text>
<line x1="217.9" y1="767.44" x2="221.5" y2="767.44" stroke="#1a1a1a" stroke-width="1.3"/>
<text x="215.9" y="769.74" font-size="9" text-anchor="end">4</text>
<line x1="217.9" y1="750.2" x2="221.5" y2="750.2" stroke="#1a1a1a" stroke-width="1.3"/>
<text x="215.9" y="752.5" font-size="9" text-anchor="end">5</text>
<rect x="228.6" y="818.5" width="13.1" height="17.9" fill="#E99AA2"/>
<line x1="235.15" y1="815.7" x2="235.15" y2="821.5" stroke="#1a1a1a" stroke-width="1.2"/>
<line x1="232.1" y1="815.7" x2="238.2" y2="815.7" stroke="#1a1a1a" stroke-width="1.2"/>
<line x1="232.1" y1="821.5" x2="238.2" y2="821.5" stroke="#1a1a1a" stroke-width="1.2"/>
<rect x="244.3" y="775.9" width="13.2" height="60.5" fill="#C8F2DE"/>
<line x1="250.75" y1="761.4" x2="250.75" y2="789.9" stroke="#1a1a1a" stroke-width="1.2"/>
<line x1="247.7" y1="761.4" x2="253.8" y2="761.4" stroke="#1a1a1a" stroke-width="1.2"/>
<line x1="247.7" y1="789.9" x2="253.8" y2="789.9" stroke="#1a1a1a" stroke-width="1.2"/>
<rect x="260.1" y="817.1" width="13.1" height="19.3" fill="#CBDAEC"/>
<line x1="266.55" y1="815.7" x2="266.55" y2="818.3" stroke="#1a1a1a" stroke-width="1.2"/>
<line x1="263.4" y1="815.7" x2="269.7" y2="815.7" stroke="#1a1a1a" stroke-width="1.2"/>
<line x1="263.4" y1="818.3" x2="269.7" y2="818.3" stroke="#1a1a1a" stroke-width="1.2"/>
<text x="250.7" y="754.6" font-size="8.5" text-anchor="middle" textLength="7.4" lengthAdjust="spacing">**</text>
<line x1="318" y1="749.9" x2="318" y2="837.05" stroke="#1a1a1a" stroke-width="1.3"/>
<line x1="314.4" y1="836.4" x2="375.8" y2="836.4" stroke="#1a1a1a" stroke-width="1.3"/>
<line x1="314.4" y1="836.4" x2="318" y2="836.4" stroke="#1a1a1a" stroke-width="1.3"/>
<text x="312.4" y="838.7" font-size="9" text-anchor="end" textLength="12.6" lengthAdjust="spacingAndGlyphs">0.0</text>
<line x1="314.4" y1="814.92" x2="318" y2="814.92" stroke="#1a1a1a" stroke-width="1.3"/>
<text x="312.4" y="817.22" font-size="9" text-anchor="end" textLength="12.6" lengthAdjust="spacingAndGlyphs">0.5</text>
<line x1="314.4" y1="793.45" x2="318" y2="793.45" stroke="#1a1a1a" stroke-width="1.3"/>
<text x="312.4" y="795.75" font-size="9" text-anchor="end" textLength="12.6" lengthAdjust="spacingAndGlyphs">1.0</text>
<line x1="314.4" y1="771.97" x2="318" y2="771.97" stroke="#1a1a1a" stroke-width="1.3"/>
<text x="312.4" y="774.27" font-size="9" text-anchor="end" textLength="12.6" lengthAdjust="spacingAndGlyphs">1.5</text>
<line x1="314.4" y1="750.5" x2="318" y2="750.5" stroke="#1a1a1a" stroke-width="1.3"/>
<text x="312.4" y="752.8" font-size="9" text-anchor="end" textLength="12.6" lengthAdjust="spacingAndGlyphs">2.0</text>
<rect x="324.7" y="793.4" width="13.1" height="43" fill="#E99AA2"/>
<line x1="331.45" y1="787.3" x2="331.45" y2="799.2" stroke="#1a1a1a" stroke-width="1.2"/>
<line x1="328.2" y1="787.3" x2="334.7" y2="787.3" stroke="#1a1a1a" stroke-width="1.2"/>
<line x1="328.2" y1="799.2" x2="334.7" y2="799.2" stroke="#1a1a1a" stroke-width="1.2"/>
<rect x="340.5" y="774.3" width="12.9" height="62.1" fill="#C8F2DE"/>
<line x1="346.95" y1="764.5" x2="346.95" y2="784.1" stroke="#1a1a1a" stroke-width="1.2"/>
<line x1="343.8" y1="764.5" x2="350.1" y2="764.5" stroke="#1a1a1a" stroke-width="1.2"/>
<line x1="343.8" y1="784.1" x2="350.1" y2="784.1" stroke="#1a1a1a" stroke-width="1.2"/>
<rect x="356.2" y="804.1" width="13" height="32.3" fill="#CBDAEC"/>
<line x1="362.75" y1="801.7" x2="362.75" y2="806.2" stroke="#1a1a1a" stroke-width="1.2"/>
<line x1="359.6" y1="801.7" x2="365.9" y2="801.7" stroke="#1a1a1a" stroke-width="1.2"/>
<line x1="359.6" y1="806.2" x2="365.9" y2="806.2" stroke="#1a1a1a" stroke-width="1.2"/>
<text x="346.9" y="754.6" font-size="8.5" text-anchor="middle" textLength="3.2" lengthAdjust="spacing">*</text>
<line x1="414.9" y1="749.9" x2="414.9" y2="837.05" stroke="#1a1a1a" stroke-width="1.3"/>
<line x1="411.3" y1="836.4" x2="472.7" y2="836.4" stroke="#1a1a1a" stroke-width="1.3"/>
<line x1="411.3" y1="836.4" x2="414.9" y2="836.4" stroke="#1a1a1a" stroke-width="1.3"/>
<text x="409.3" y="838.7" font-size="9" text-anchor="end" textLength="12.6" lengthAdjust="spacingAndGlyphs">0.0</text>
<line x1="411.3" y1="807.76" x2="414.9" y2="807.76" stroke="#1a1a1a" stroke-width="1.3"/>
<text x="409.3" y="810.06" font-size="9" text-anchor="end" textLength="12.6" lengthAdjust="spacingAndGlyphs">0.5</text>
<line x1="411.3" y1="779.13" x2="414.9" y2="779.13" stroke="#1a1a1a" stroke-width="1.3"/>
<text x="409.3" y="781.43" font-size="9" text-anchor="end" textLength="12.6" lengthAdjust="spacingAndGlyphs">1.0</text>
<line x1="411.3" y1="750.5" x2="414.9" y2="750.5" stroke="#1a1a1a" stroke-width="1.3"/>
<text x="409.3" y="752.79" font-size="9" text-anchor="end" textLength="12.6" lengthAdjust="spacingAndGlyphs">1.5</text>
<rect x="421.2" y="779.1" width="13.1" height="57.3" fill="#E99AA2"/>
<line x1="427.95" y1="771.5" x2="427.95" y2="786.4" stroke="#1a1a1a" stroke-width="1.2"/>
<line x1="424.7" y1="771.5" x2="431.2" y2="771.5" stroke="#1a1a1a" stroke-width="1.2"/>
<line x1="424.7" y1="786.4" x2="431.2" y2="786.4" stroke="#1a1a1a" stroke-width="1.2"/>
<rect x="437" y="794.8" width="13.1" height="41.6" fill="#C8F2DE"/>
<line x1="443.7" y1="792" x2="443.7" y2="797.3" stroke="#1a1a1a" stroke-width="1.2"/>
<line x1="440.5" y1="792" x2="446.9" y2="792" stroke="#1a1a1a" stroke-width="1.2"/>
<line x1="440.5" y1="797.3" x2="446.9" y2="797.3" stroke="#1a1a1a" stroke-width="1.2"/>
<rect x="452.7" y="767.2" width="13.2" height="69.2" fill="#CBDAEC"/>
<line x1="459.45" y1="764.5" x2="459.45" y2="769.4" stroke="#1a1a1a" stroke-width="1.2"/>
<line x1="456.2" y1="764.5" x2="462.7" y2="764.5" stroke="#1a1a1a" stroke-width="1.2"/>
<line x1="456.2" y1="769.4" x2="462.7" y2="769.4" stroke="#1a1a1a" stroke-width="1.2"/>
<text x="443.9" y="784.8" font-size="8.5" text-anchor="middle" textLength="3.2" lengthAdjust="spacing">*</text>
<text x="459.7" y="754.6" font-size="8.5" text-anchor="middle" textLength="3.2" lengthAdjust="spacing">*</text>
<line x1="509.9" y1="749.3" x2="509.9" y2="836.75" stroke="#1a1a1a" stroke-width="1.3"/>
<line x1="506.3" y1="836.1" x2="569.2" y2="836.1" stroke="#1a1a1a" stroke-width="1.3"/>
<line x1="506.3" y1="836.1" x2="509.9" y2="836.1" stroke="#1a1a1a" stroke-width="1.3"/>
<text x="504.3" y="838.4" font-size="9" text-anchor="end" textLength="12.6" lengthAdjust="spacingAndGlyphs">0.0</text>
<line x1="506.3" y1="807.37" x2="509.9" y2="807.37" stroke="#1a1a1a" stroke-width="1.3"/>
<text x="504.3" y="809.66" font-size="9" text-anchor="end" textLength="12.6" lengthAdjust="spacingAndGlyphs">0.5</text>
<line x1="506.3" y1="778.63" x2="509.9" y2="778.63" stroke="#1a1a1a" stroke-width="1.3"/>
<text x="504.3" y="780.93" font-size="9" text-anchor="end" textLength="12.6" lengthAdjust="spacingAndGlyphs">1.0</text>
<line x1="506.3" y1="749.89" x2="509.9" y2="749.89" stroke="#1a1a1a" stroke-width="1.3"/>
<text x="504.3" y="752.19" font-size="9" text-anchor="end" textLength="12.6" lengthAdjust="spacingAndGlyphs">1.5</text>
<rect x="518.3" y="779" width="12.6" height="57.1" fill="#E99AA2"/>
<line x1="524.6" y1="773" x2="524.6" y2="785.2" stroke="#1a1a1a" stroke-width="1.2"/>
<line x1="521.3" y1="773" x2="527.9" y2="773" stroke="#1a1a1a" stroke-width="1.2"/>
<line x1="521.3" y1="785.2" x2="527.9" y2="785.2" stroke="#1a1a1a" stroke-width="1.2"/>
<rect x="533.9" y="777.8" width="12.8" height="58.3" fill="#C8F2DE"/>
<line x1="540.65" y1="766.4" x2="540.65" y2="788.2" stroke="#1a1a1a" stroke-width="1.2"/>
<line x1="537.5" y1="766.4" x2="543.8" y2="766.4" stroke="#1a1a1a" stroke-width="1.2"/>
<line x1="537.5" y1="788.2" x2="543.8" y2="788.2" stroke="#1a1a1a" stroke-width="1.2"/>
<rect x="549.4" y="764.9" width="13.5" height="71.2" fill="#CBDAEC"/>
<line x1="556.6" y1="760.4" x2="556.6" y2="768.5" stroke="#1a1a1a" stroke-width="1.2"/>
<line x1="553.3" y1="760.4" x2="559.9" y2="760.4" stroke="#1a1a1a" stroke-width="1.2"/>
<line x1="553.3" y1="768.5" x2="559.9" y2="768.5" stroke="#1a1a1a" stroke-width="1.2"/>
<rect x="596" y="729.9" width="9.1" height="4.7" fill="#E99AA2"/>
<rect x="596" y="739.7" width="9.1" height="4.4" fill="#C8F2DE"/>
<rect x="596" y="748.9" width="9.1" height="4.7" fill="#CBDAEC"/>
<text x="610.5" y="734.6" font-size="6.6" textLength="25.3" lengthAdjust="spacingAndGlyphs">miR-NC</text>
<text x="611" y="744.1" font-size="6.6" textLength="57.9" lengthAdjust="spacingAndGlyphs">miR-708-5p mimic</text>
<text x="611.3" y="753.6" font-size="6.6" textLength="58.4" lengthAdjust="spacingAndGlyphs">miR-708-5p mimic</text>
<text x="611.7" y="761.6" font-size="6.6" textLength="28.8" lengthAdjust="spacingAndGlyphs">+inhibitor</text>
<text x="0.6" y="871.4" font-size="14.3" fill="#000" font-weight="bold">K</text>
<g opacity="0.85" stroke-width="0.7" stroke-linecap="square" fill="none"><path d="M56.8 963.5h0M56.2 966.6h0M53.6 964.4h0M54.2 965.7h0M54.5 943.8h0M54.4 955.8h0M61.0 959.1h0M58.8 961.7h0M63.0 965.0h0M64.2 958.2h0M54.9 963.2h0M73.1 953.6h0M65.4 951.1h0M51.1 963.3h0M64.3 942.8h0M65.6 936.8h0M51.7 955.7h0M60.5 956.5h0M52.5 955.0h0M65.8 950.6h0M58.9 958.2h0M55.7 964.3h0M60.6 959.6h0M62.6 961.3h0M55.7 947.0h0M63.5 932.7h0M54.8 962.9h0M70.5 961.2h0M59.7 965.7h0M59.2 962.7h0M59.2 963.1h0M62.9 958.9h0M55.8 957.7h0M65.1 944.4h0M58.1 965.1h0M61.3 955.6h0M66.8 944.9h0M61.1 946.8h0M53.6 958.9h0M57.3 955.3h0M53.0 956.7h0M65.3 964.3h0M62.4 954.6h0M60.0 947.5h0M51.2 936.1h0M62.0 930.1h0M61.1 965.6h0M61.2 949.7h0M57.7 964.5h0M51.9 958.8h0M61.2 929.4h0M62.6 943.0h0M55.3 958.3h0M54.7 967.4h0M61.8 964.0h0M64.2 957.5h0M63.4 950.3h0M71.4 957.3h0M59.4 942.4h0M65.8 945.0h0M62.6 962.7h0M63.8 958.7h0M63.3 952.5h0M56.2 954.2h0M56.2 954.4h0M65.0 944.8h0M52.6 957.1h0M59.6 966.5h0M56.9 952.6h0M53.4 966.1h0M61.7 930.6h0M67.8 955.4h0M52.6 964.1h0M66.0 940.2h0M81.7 956.5h0M63.8 961.3h0M56.5 950.6h0M54.0 947.1h0M64.3 939.7h0M53.9 954.5h0M62.9 962.1h0M57.7 964.7h0M56.9 949.8h0M96.0 943.4h0M63.1 953.5h0M60.3 935.3h0M52.4 958.2h0M65.4 951.9h0M55.3 959.2h0M57.7 956.3h0M56.5 963.2h0M57.0 964.2h0M57.8 959.9h0M59.1 950.6h0M65.2 959.2h0M61.0 954.8h0M66.3 961.0h0M62.6 952.6h0M55.6 939.7h0M53.3 955.7h0M57.3 950.8h0M58.0 955.4h0M59.4 939.3h0M51.8 951.1h0M58.8 958.5h0M63.1 963.0h0M53.2 951.3h0M59.6 958.6h0M58.4 966.0h0M62.7 964.0h0M63.5 951.4h0M66.2 954.1h0M58.0 962.7h0M62.8 953.6h0M65.6 943.0h0M61.2 932.8h0M60.6 961.9h0M62.9 935.0h0M63.0 961.9h0M55.4 961.1h0M67.6 953.1h0M59.8 959.5h0M95.6 957.3h0M67.5 961.2h0M58.4 933.6h0M63.6 939.7h0M60.0 961.6h0M70.7 960.0h0M53.2 957.7h0M57.4 963.2h0M54.4 957.7h0M72.2 941.9h0M55.1 958.2h0M57.8 948.7h0M51.4 959.6h0M62.1 958.8h0M66.0 959.2h0M64.1 960.2h0M58.2 947.9h0M66.0 930.6h0M59.3 961.7h0M61.2 943.8h0M55.1 947.4h0M52.6 966.2h0M52.9 939.8h0M73.7 955.4h0M56.0 956.1h0M51.8 957.0h0M53.5 959.0h0M54.5 941.9h0M82.3 959.5h0M67.1 942.4h0M61.1 940.7h0M61.6 958.3h0M62.6 949.0h0M71.0 948.5h0M51.5 958.6h0M53.1 959.3h0M64.1 934.5h0M66.2 959.3h0M57.0 958.3h0M54.0 963.9h0M61.4 939.2h0M60.2 963.3h0M62.8 953.6h0M58.4 960.4h0M56.2 958.6h0M57.0 960.0h0M59.4 961.9h0M63.0 959.0h0M55.7 960.4h0M66.4 936.0h0M65.3 943.9h0M59.0 946.3h0M53.6 965.6h0M58.7 958.4h0M58.3 942.4h0M60.6 949.9h0M69.0 957.1h0M51.5 965.8h0M66.1 944.4h0M62.0 940.7h0M59.6 951.2h0M63.5 959.2h0M55.5 958.5h0M62.1 941.7h0M60.7 930.4h0M64.5 938.3h0M63.9 957.9h0M56.9 934.6h0M62.7 948.1h0M57.3 932.6h0M59.5 938.2h0M60.1 935.3h0M52.8 959.4h0M52.4 960.0h0M57.0 956.9h0M92.3 948.1h0M86.7 952.8h0M57.3 953.6h0M50.9 964.9h0M56.6 964.1h0M59.5 960.2h0M55.9 955.1h0M57.9 951.0h0M56.8 947.3h0M60.3 959.3h0M64.9 954.5h0M63.7 945.6h0M53.6 950.7h0M104.4 942.9h0M62.3 960.2h0M65.6 937.4h0M57.1 966.0h0M52.4 953.9h0M58.3 963.6h0M78.5 946.2h0M62.5 959.5h0M55.2 966.6h0M52.7 966.3h0M56.7 943.8h0M66.7 931.6h0M64.5 945.3h0M59.9 939.0h0M70.2 954.0h0M54.5 964.1h0M62.5 955.7h0M59.0 963.8h0M60.0 948.8h0M56.1 951.9h0M61.2 937.0h0M54.0 963.6h0M55.8 939.9h0M55.6 957.0h0M51.5 958.4h0M55.6 958.6h0M61.6 954.3h0M55.3 940.1h0M55.8 956.0h0M50.9 960.1h0M64.8 965.2h0M55.1 959.1h0M68.6 937.1h0M60.7 962.4h0M53.8 964.6h0M57.8 964.5h0M65.9 961.9h0M64.3 954.7h0M64.1 947.9h0M60.0 966.0h0M65.6 947.8h0M56.1 956.8h0M60.0 935.0h0M60.2 940.7h0M56.1 956.2h0M52.9 959.3h0M60.0 955.9h0M60.8 954.8h0M53.3 964.9h0M63.4 929.7h0M53.8 964.0h0" stroke="#5a7ad0"/><path d="M61.9 952.8h0M67.7 958.4h0M54.5 958.6h0M60.3 949.7h0M61.0 940.2h0M61.5 957.9h0M59.4 956.8h0M56.2 947.2h0M51.3 960.8h0M58.4 964.9h0M65.3 956.4h0M56.0 942.4h0M56.3 962.4h0M52.4 963.8h0M58.3 941.1h0M58.3 960.3h0M55.5 959.4h0M62.9 931.2h0M82.4 958.4h0M53.1 963.6h0M51.1 960.6h0M56.3 958.2h0M57.8 955.4h0M51.6 957.2h0M54.0 962.6h0M59.6 961.3h0M57.6 962.5h0M60.1 959.7h0M65.3 931.4h0M65.9 942.0h0M55.6 951.7h0M62.6 960.0h0M59.4 952.3h0M64.3 940.7h0M52.5 959.9h0M58.2 931.0h0M54.0 963.1h0M60.4 944.4h0M52.7 959.8h0M51.4 963.2h0M66.8 960.2h0M64.7 932.7h0M59.0 959.0h0M53.9 946.6h0M61.7 953.1h0M63.7 941.7h0M56.0 959.8h0M55.7 956.6h0M56.9 966.5h0M56.8 966.1h0M52.5 959.7h0M52.8 967.7h0M54.9 957.3h0M63.0 943.2h0M57.6 941.4h0M64.0 944.6h0M59.5 947.7h0M60.4 962.1h0M79.2 955.7h0M58.0 958.3h0M58.8 968.7h0M56.4 957.3h0M56.7 958.9h0M51.4 959.5h0M58.3 958.7h0M59.3 928.2h0M61.6 966.4h0M58.1 957.6h0M61.7 962.5h0M52.7 963.2h0M71.5 956.8h0M62.9 960.3h0M67.2 935.5h0M61.5 954.5h0M75.3 948.0h0M60.0 957.8h0M55.2 955.8h0M53.4 958.8h0M50.9 961.0h0M73.0 943.6h0M55.4 963.6h0M74.7 944.6h0M55.8 951.2h0M59.3 945.1h0M53.9 958.3h0M58.9 959.4h0M62.3 961.2h0M65.5 961.1h0M60.9 963.5h0M62.8 953.5h0M67.7 948.9h0M58.2 944.2h0M62.8 960.5h0M54.1 961.2h0M56.3 938.6h0M51.2 961.4h0M64.7 959.3h0M61.1 931.0h0M57.1 959.3h0M61.4 960.3h0M76.1 960.0h0M53.7 960.3h0M71.2 927.8h0M51.9 956.1h0M54.0 968.8h0M60.3 954.1h0M60.8 943.3h0M56.8 959.1h0M57.5 958.9h0M67.9 940.2h0M56.5 967.3h0M60.9 957.5h0M65.1 961.9h0M63.2 961.1h0M64.4 963.7h0M53.3 963.8h0M62.7 947.8h0M56.7 961.5h0M55.1 946.6h0M58.6 964.1h0M60.1 932.6h0M58.1 953.7h0M60.2 957.0h0M63.4 929.8h0M65.8 947.7h0M65.5 957.4h0M58.5 968.1h0M50.9 953.7h0M58.5 949.1h0M58.7 956.4h0M51.2 965.2h0M66.8 942.3h0M59.2 947.9h0M58.8 956.4h0M71.3 948.8h0M52.2 961.4h0M62.6 947.8h0M51.5 965.9h0M68.8 946.7h0M56.0 957.1h0M60.3 951.1h0M53.4 944.3h0M65.9 955.8h0M53.2 948.8h0M62.8 948.6h0M61.4 958.2h0M58.9 940.8h0M62.4 962.2h0M53.4 954.7h0M57.2 964.5h0M60.6 957.9h0M59.1 962.9h0M65.8 959.8h0M57.9 958.3h0M63.2 942.8h0M54.2 954.5h0M68.4 929.8h0M97.8 955.7h0M79.0 946.8h0M54.4 963.4h0M62.6 962.7h0M57.9 964.1h0M57.1 963.7h0M67.7 946.6h0M64.9 935.7h0M53.7 962.3h0M59.9 955.7h0M80.4 948.9h0M57.0 949.7h0M53.6 964.0h0M52.6 958.7h0M51.6 961.3h0M53.4 961.9h0M61.0 963.0h0M60.0 941.6h0M57.0 965.4h0M65.9 954.9h0M64.3 964.6h0M57.9 968.1h0M65.3 929.4h0M62.4 957.1h0M58.9 932.8h0M57.9 955.8h0M66.6 957.6h0M59.3 959.0h0M52.6 964.3h0M58.8 947.4h0M63.4 953.2h0M71.0 959.0h0M61.0 959.9h0M64.5 952.9h0M59.6 942.9h0M59.8 948.2h0M59.9 960.4h0M61.6 957.7h0M52.3 963.3h0M56.6 954.9h0M57.7 956.9h0M51.4 957.8h0M56.7 954.5h0M65.3 944.6h0M60.0 957.8h0M67.8 936.0h0M52.9 959.9h0M51.8 962.1h0M62.0 952.7h0M53.5 964.8h0M56.0 958.7h0M58.8 959.9h0M57.4 965.4h0M63.1 968.0h0M58.7 955.7h0M56.8 967.5h0M80.7 948.1h0M73.0 941.9h0M60.5 962.2h0M62.4 937.0h0M61.1 952.9h0M58.8 948.2h0M72.7 949.9h0M58.3 958.8h0M63.7 960.6h0M55.2 966.0h0M59.0 963.1h0M62.8 932.6h0M59.5 945.1h0M56.0 928.7h0M66.6 943.2h0M55.1 959.3h0M57.4 958.8h0M68.8 935.8h0M66.4 948.6h0M57.5 959.3h0M65.7 950.2h0M55.0 941.2h0M56.6 959.0h0M61.3 955.6h0M61.8 940.0h0M59.1 953.3h0M65.4 958.6h0M62.4 956.0h0M72.9 943.9h0M64.9 925.5h0M57.3 965.8h0M59.6 959.2h0M54.8 964.8h0M56.1 957.9h0M61.7 961.6h0M56.9 954.3h0M58.5 945.3h0M65.6 937.9h0M62.9 942.4h0M58.9 955.8h0M64.2 962.8h0M59.1 959.0h0M70.5 941.1h0M60.4 962.6h0M65.9 937.6h0M53.4 947.3h0M60.8 941.2h0M64.1 935.9h0" stroke="#6a88d8"/><path d="M56.7 960.7h0M62.3 957.1h0M60.9 961.8h0M57.1 965.2h0M59.9 962.5h0M56.3 964.7h0M54.9 963.0h0M58.3 953.6h0M57.6 944.9h0M59.3 950.6h0M58.9 965.1h0M56.6 964.0h0M56.4 965.3h0M53.9 961.3h0M64.2 954.5h0M62.9 963.5h0M63.5 947.1h0M52.5 960.9h0M59.2 957.5h0M69.4 960.8h0M59.4 957.8h0M55.6 956.9h0M63.8 958.3h0M56.5 969.0h0M65.1 967.8h0M57.5 957.7h0M51.5 963.9h0M58.9 937.8h0M58.8 942.1h0M55.7 946.2h0M55.2 964.8h0M56.8 959.1h0M64.7 950.0h0M67.4 943.8h0M52.4 961.5h0M60.6 948.7h0M53.1 961.6h0M57.2 937.8h0M53.0 959.3h0M56.1 944.4h0M52.1 959.1h0M62.8 932.2h0M63.5 950.2h0M54.8 939.9h0M58.0 966.3h0M55.3 966.4h0M64.6 945.7h0M61.0 940.7h0M63.6 962.1h0M55.7 960.2h0M61.2 956.2h0M61.6 962.9h0M54.5 944.9h0M58.3 931.4h0M60.9 962.0h0M63.8 960.7h0M58.7 955.5h0M79.8 959.2h0M66.1 949.6h0M58.4 945.5h0M62.5 934.0h0M59.8 956.1h0M53.9 938.5h0M60.0 947.1h0M59.6 962.1h0M52.7 958.4h0M65.2 945.4h0M58.0 941.6h0M50.7 959.7h0M53.9 955.5h0M62.8 947.6h0M62.1 960.7h0M61.6 950.7h0M61.5 966.0h0M52.5 948.0h0M59.9 941.5h0M70.7 954.6h0M52.0 953.9h0M57.0 948.8h0M71.0 943.1h0M53.3 940.4h0M60.5 961.7h0M61.8 949.1h0M56.4 942.9h0M65.2 946.6h0M60.4 958.3h0M59.5 958.2h0M57.4 945.9h0M63.7 934.9h0M62.9 948.7h0M60.7 929.1h0M56.8 946.2h0M75.3 957.1h0M56.8 957.4h0M55.8 963.8h0M63.9 952.8h0M55.8 963.0h0M58.7 948.6h0M63.3 933.3h0M61.3 959.9h0M55.8 954.7h0M52.4 964.3h0M60.9 956.1h0M61.3 963.5h0M60.1 953.9h0M52.4 954.2h0M71.0 937.4h0M56.7 946.0h0M55.8 952.3h0M53.6 950.0h0M58.5 950.9h0M56.9 949.9h0M57.5 958.6h0M58.5 964.2h0M63.4 947.6h0M61.0 950.6h0M60.3 962.0h0M56.7 965.5h0M63.2 936.6h0M66.8 953.5h0M57.8 960.8h0M59.2 961.0h0M58.4 961.0h0M65.5 962.8h0M61.2 959.0h0M57.2 967.8h0M54.9 963.8h0M53.5 958.9h0M59.5 955.4h0M61.6 942.8h0M51.8 963.3h0M56.5 962.5h0M56.5 956.1h0M77.8 946.6h0M54.0 952.7h0M53.1 957.4h0M52.8 959.1h0M61.9 968.1h0M54.0 963.1h0M62.7 949.9h0M61.4 951.7h0M65.7 947.1h0M61.1 951.5h0M53.9 961.0h0M76.4 956.2h0M60.3 949.5h0M59.6 961.2h0M54.2 928.7h0M59.0 953.4h0M55.2 959.5h0M54.2 950.3h0M57.9 936.2h0M59.1 936.6h0M51.6 955.8h0M55.3 958.9h0M59.5 958.2h0M58.6 948.5h0M58.9 945.3h0M57.3 941.3h0M55.8 964.1h0M52.8 957.3h0M57.4 961.0h0M50.8 949.2h0M69.2 957.9h0M61.5 934.7h0M60.0 954.3h0M57.6 952.6h0M57.7 955.8h0M55.9 958.3h0M60.8 956.5h0M63.0 959.8h0M60.5 927.7h0M57.2 957.5h0M75.4 961.3h0M60.6 961.3h0M74.6 929.6h0M55.3 965.5h0M52.5 954.2h0M76.3 948.7h0M63.7 928.7h0M59.4 960.4h0M53.4 950.2h0M59.2 952.7h0M59.3 953.7h0M62.0 932.5h0M57.9 960.2h0M61.8 960.2h0M63.6 963.5h0M67.7 957.1h0M57.5 967.2h0M61.1 958.5h0M55.2 958.0h0M56.8 958.6h0M73.5 948.9h0M61.3 957.9h0M54.1 960.9h0M55.8 957.3h0M60.4 945.2h0M51.8 941.3h0M59.8 950.9h0M50.9 956.4h0M60.6 958.1h0M55.9 938.6h0M51.3 964.2h0M54.4 964.4h0M53.0 960.3h0M63.0 956.9h0M53.9 967.0h0M69.1 953.5h0M61.8 936.1h0M62.2 958.9h0M57.0 967.6h0M60.9 955.0h0M59.0 965.7h0M57.6 962.9h0M53.8 960.3h0M53.7 957.8h0M67.2 926.8h0M65.5 955.9h0M58.5 963.4h0M74.1 943.3h0M70.0 934.9h0M52.8 940.5h0M58.8 956.8h0M63.4 959.3h0M60.2 963.5h0M61.1 963.0h0M62.0 947.3h0M55.7 963.4h0M64.0 935.9h0M54.9 957.4h0M65.5 958.4h0M52.2 956.3h0M61.7 932.9h0M57.9 959.1h0M64.8 949.5h0M54.1 961.8h0M63.1 944.8h0M56.3 931.5h0M59.2 949.9h0M54.4 968.8h0M61.0 955.5h0M55.5 950.5h0M54.4 965.0h0M57.4 964.3h0M59.5 955.4h0M63.0 931.8h0M51.6 965.7h0M53.5 962.9h0M60.2 963.6h0M55.1 936.0h0M56.3 945.4h0M53.9 961.7h0M65.1 941.9h0M60.0 948.3h0M61.9 957.6h0M57.8 965.3h0M59.4 941.0h0M56.9 967.0h0M51.5 962.0h0M51.6 965.2h0M56.2 958.6h0M55.9 940.2h0M53.7 962.5h0M78.2 952.2h0M53.2 957.2h0M61.8 935.1h0" stroke="#3a58c0"/><path d="M58.9 950.6h0M67.8 939.1h0M51.8 963.4h0M52.3 962.2h0M57.9 937.6h0M59.6 940.9h0M54.8 959.6h0M62.2 946.0h0M55.2 959.1h0M59.7 954.4h0M64.4 954.2h0M59.9 963.5h0M77.2 951.2h0M53.0 967.0h0M67.2 937.1h0M54.8 950.7h0M52.2 962.6h0M55.7 957.0h0M64.8 943.3h0M63.8 947.0h0M62.7 957.5h0M58.3 937.5h0M57.6 944.0h0M60.4 945.0h0M70.3 942.6h0M59.9 961.9h0M58.9 964.9h0M73.8 961.2h0M54.6 965.2h0M56.3 936.4h0M60.1 963.1h0M52.2 959.6h0M60.4 952.2h0M62.4 961.3h0M54.0 939.5h0M61.6 935.1h0M54.5 961.5h0M51.6 960.1h0M51.6 964.9h0M52.3 963.6h0M51.7 957.1h0M51.0 958.8h0M63.4 966.1h0M64.0 957.7h0M58.6 961.5h0M62.8 933.1h0M55.1 953.5h0M52.8 961.3h0M57.2 931.7h0M59.8 958.5h0M56.8 956.8h0M59.2 952.5h0M59.7 931.1h0M60.6 954.9h0M60.3 968.4h0M61.9 957.4h0M64.4 959.9h0M65.1 967.2h0M53.4 953.0h0M63.1 965.8h0M63.7 959.6h0M58.0 938.8h0M55.1 961.1h0M65.4 927.2h0M51.8 958.2h0M57.1 964.1h0M66.2 939.7h0M59.4 933.7h0M62.0 929.8h0M71.1 960.3h0M64.2 964.1h0M55.7 958.8h0M65.7 943.4h0M59.0 936.1h0M58.0 958.7h0M55.0 964.8h0M58.6 938.9h0M62.2 956.9h0M59.6 943.0h0M59.0 959.2h0M55.6 945.4h0M50.9 961.4h0M66.2 948.1h0M63.6 944.7h0M54.8 964.1h0M58.8 966.5h0M52.6 963.1h0M63.6 944.2h0M59.9 956.6h0M52.2 961.7h0M59.3 935.8h0M53.5 951.5h0M64.6 962.9h0M64.3 934.8h0M62.5 941.8h0M51.8 956.0h0M59.3 957.1h0M57.3 952.3h0M60.4 931.1h0M50.6 958.9h0M57.7 951.7h0M61.5 955.2h0M57.2 955.6h0M59.9 930.4h0M97.3 961.2h0M60.7 943.3h0M68.3 957.8h0M55.2 958.7h0M62.3 960.9h0M57.9 950.0h0M59.4 964.3h0M57.4 955.3h0M54.5 946.4h0M61.6 957.0h0M60.5 946.5h0M59.6 952.9h0M58.5 938.0h0M63.1 927.7h0M73.1 959.3h0M63.4 946.7h0M56.7 939.2h0M56.3 958.9h0M58.0 951.5h0M62.4 962.8h0M58.9 961.8h0M51.6 963.8h0M65.5 937.4h0M58.6 955.7h0M60.6 936.5h0M58.3 958.5h0M55.5 964.7h0M53.9 956.2h0M63.1 961.2h0M59.1 930.3h0M61.1 959.2h0M61.9 953.6h0M50.6 964.0h0M60.7 962.6h0M51.6 958.1h0M55.7 958.3h0M62.9 947.4h0M66.2 934.6h0M62.8 942.8h0M62.7 959.3h0M57.0 933.6h0M64.2 951.5h0M63.5 963.7h0M64.3 929.6h0M56.1 947.4h0M58.9 944.9h0M59.1 956.6h0M63.9 955.1h0M59.5 960.7h0M54.8 946.7h0M61.9 938.7h0M59.9 928.6h0M57.4 965.9h0M58.6 956.2h0M66.6 934.7h0M62.9 951.1h0M54.4 959.0h0M51.7 962.4h0M60.2 960.7h0M59.2 943.3h0M60.8 956.5h0M62.3 952.8h0M59.3 954.2h0M53.9 944.8h0M53.2 959.1h0M62.3 943.6h0M61.9 949.6h0M63.7 962.7h0M56.9 964.5h0M59.7 960.9h0M64.7 956.3h0M53.1 962.8h0M52.8 958.1h0M60.9 938.1h0M62.7 952.5h0M77.9 957.5h0M56.4 957.0h0M53.7 967.8h0M55.7 958.3h0M64.1 938.5h0M60.7 947.8h0M61.4 958.2h0M63.3 964.6h0M62.0 963.0h0M55.5 944.7h0M61.0 958.9h0M73.3 946.4h0M53.6 949.9h0M58.7 951.1h0M64.6 953.5h0M67.0 952.0h0M56.8 953.1h0M70.2 961.2h0M61.2 959.4h0M63.7 944.7h0M61.4 951.1h0M61.5 947.5h0M57.7 960.2h0M55.9 960.3h0M64.1 928.8h0M52.0 959.2h0M56.4 965.5h0M54.6 954.1h0M53.4 964.9h0M53.1 955.6h0M60.3 959.7h0M73.1 940.5h0M60.6 961.4h0M65.7 934.3h0M59.9 964.7h0M58.7 948.7h0M56.3 946.3h0M66.4 938.2h0M56.4 966.3h0M62.4 956.7h0M55.7 965.1h0M58.7 957.1h0M51.9 969.3h0M58.3 951.3h0M63.4 929.0h0M61.0 958.5h0M61.7 945.9h0M55.8 961.8h0M52.1 961.0h0M65.3 940.5h0M67.4 940.6h0M52.9 961.4h0M57.0 954.2h0M58.1 960.3h0M63.3 964.2h0M60.7 953.7h0M58.8 955.7h0M59.8 941.1h0M55.4 965.5h0M60.9 957.3h0M61.3 943.5h0M53.9 959.5h0M67.3 959.6h0M54.1 962.4h0M67.4 959.0h0M68.0 923.3h0M74.7 954.8h0M58.4 939.5h0M64.2 941.6h0M53.5 961.9h0M64.9 934.6h0" stroke="#2a3fa8"/><path d="M62.0 937.4h0M57.5 961.9h0M57.5 938.2h0M66.6 960.1h0M53.5 959.3h0M61.1 963.1h0M55.5 938.3h0M55.7 944.6h0M59.6 960.2h0M52.0 948.5h0M56.8 956.4h0M55.9 965.3h0M62.1 963.8h0M63.8 964.6h0M61.4 943.5h0M57.4 957.1h0M64.7 941.7h0M60.8 949.4h0M53.4 963.4h0M55.6 929.9h0M51.4 958.1h0M52.9 962.8h0M61.3 954.6h0M60.1 959.3h0M58.9 938.6h0M54.9 965.0h0M54.9 950.0h0M80.1 957.8h0M53.3 958.8h0M58.4 959.5h0M57.8 956.6h0M62.7 930.4h0M60.6 957.6h0M67.9 957.6h0M54.7 959.2h0M58.3 964.6h0M57.5 967.0h0M56.3 957.4h0M57.4 957.5h0M61.2 939.8h0M57.4 965.4h0M59.9 950.2h0M58.9 949.6h0M62.8 954.3h0M57.2 967.1h0M76.4 953.3h0M60.1 945.3h0M59.3 938.7h0M60.8 961.0h0M59.8 964.4h0M60.1 960.9h0M52.1 960.7h0M60.3 966.0h0M55.3 945.2h0M58.9 961.1h0M62.2 934.9h0M63.5 943.1h0M78.0 951.6h0M51.2 961.5h0M63.6 952.6h0M52.3 961.9h0M60.7 943.4h0M55.7 948.3h0M61.3 938.9h0M60.1 952.3h0M62.2 959.3h0M65.0 959.3h0M55.8 958.1h0M51.1 955.5h0M58.5 931.5h0M53.5 957.6h0M52.1 965.8h0M63.4 945.9h0M50.9 962.4h0M88.5 951.2h0M61.0 960.6h0M61.1 960.4h0M59.4 954.6h0M57.9 967.1h0M61.7 960.0h0M56.1 964.0h0M57.2 957.5h0M60.5 942.1h0M59.4 952.1h0M62.3 952.7h0M62.4 928.1h0M55.0 963.9h0M62.4 937.1h0M59.5 958.9h0M56.1 958.6h0M54.8 953.8h0M60.5 961.2h0M61.7 951.8h0M57.6 952.8h0M52.1 961.7h0M61.2 963.3h0M63.7 955.6h0M70.3 944.2h0M57.0 966.6h0M57.5 961.9h0M52.4 956.9h0M58.0 958.0h0M63.8 938.1h0M57.4 966.2h0M55.3 960.1h0M52.2 959.9h0M61.7 932.8h0M56.6 955.3h0M63.7 940.6h0M52.2 962.3h0M62.4 940.5h0M57.1 934.1h0M60.1 941.4h0M68.0 931.9h0M55.7 958.1h0M58.6 961.5h0M58.6 961.2h0M61.8 962.0h0M60.0 962.7h0M66.4 941.8h0M57.4 964.9h0M86.9 953.1h0M57.5 939.8h0M64.2 943.5h0M63.0 931.8h0M60.0 958.3h0M57.1 962.5h0M58.5 961.1h0M64.0 935.9h0M58.4 960.1h0M62.5 938.6h0M59.6 959.4h0M70.4 961.2h0M60.4 962.6h0M60.0 940.2h0M59.8 942.7h0M53.1 956.4h0M59.9 964.3h0M60.4 947.1h0M59.4 954.5h0M53.1 957.7h0M60.6 956.8h0M60.4 963.2h0M62.9 961.3h0M66.4 955.9h0M52.5 953.6h0M61.0 935.3h0M56.6 965.8h0M55.5 965.2h0M55.0 956.7h0M52.0 960.6h0M58.9 956.0h0M54.8 962.2h0M58.7 950.6h0M57.7 963.4h0M58.9 956.2h0M74.4 939.5h0M64.9 961.1h0M60.3 948.8h0M56.7 964.3h0M59.5 964.7h0M61.2 966.3h0M52.2 940.8h0M51.9 952.5h0M66.2 956.7h0M56.5 959.9h0M58.7 962.1h0M68.4 957.5h0M51.9 962.5h0M64.9 928.5h0M54.9 957.2h0M53.2 956.0h0M65.1 963.8h0M50.7 958.7h0M60.6 964.5h0M66.4 944.3h0M60.3 961.5h0M63.3 944.9h0M76.5 942.4h0M68.0 950.4h0M50.9 958.2h0M58.3 964.6h0M70.6 936.8h0M51.3 962.8h0M58.7 956.6h0M56.5 957.0h0M58.5 959.4h0M78.3 951.0h0M53.1 961.2h0M58.3 964.2h0M56.6 931.7h0M54.9 953.1h0M63.2 933.0h0M52.2 965.1h0M59.5 964.2h0M59.7 962.7h0M60.6 950.5h0M62.6 955.8h0M53.2 964.2h0M68.3 951.1h0M65.6 945.2h0M52.5 962.3h0M64.0 938.0h0M51.1 957.2h0M54.4 956.7h0M51.2 963.2h0M90.3 960.7h0M51.0 961.4h0M53.3 961.3h0M59.5 967.6h0M51.5 962.7h0M53.4 960.9h0M56.9 957.3h0M51.5 958.0h0M50.7 962.1h0M51.6 969.3h0M64.2 933.1h0M64.5 951.4h0M60.9 966.9h0M64.3 958.2h0M52.5 951.7h0M64.3 959.5h0M53.7 952.2h0M69.8 959.5h0M54.9 959.3h0M50.6 962.8h0M54.8 958.1h0M60.3 961.0h0M52.5 956.6h0M56.3 961.4h0M54.6 956.9h0M54.5 954.2h0M65.0 935.7h0M54.4 955.1h0M52.6 963.9h0M59.8 958.5h0M70.1 952.4h0M62.7 956.9h0M62.7 929.3h0M61.1 951.2h0M53.4 959.9h0M53.8 950.1h0M60.8 959.6h0M57.6 959.7h0M52.4 957.6h0M57.6 952.3h0M61.4 954.4h0M57.8 964.8h0M63.8 925.7h0M59.7 947.8h0M66.1 930.2h0M60.8 958.4h0M58.5 959.7h0M63.2 958.6h0M56.4 940.3h0M56.2 962.2h0M67.4 943.9h0M68.8 960.1h0M52.5 959.8h0M60.6 957.8h0M53.0 956.9h0M61.0 965.6h0M57.2 940.2h0M59.0 949.3h0M59.4 958.8h0M61.4 966.5h0" stroke="#2f4db5"/><path d="M58.0 966.4h0M55.9 940.6h0M55.8 950.3h0M60.8 940.0h0M66.9 949.6h0M58.2 957.6h0M63.0 964.9h0M54.6 968.9h0M70.4 949.7h0M57.6 965.2h0M52.4 961.3h0M63.4 929.3h0M60.1 963.5h0M61.4 954.1h0M70.6 928.7h0M54.2 963.6h0M61.2 939.3h0M51.8 957.0h0M55.8 942.2h0M78.9 956.7h0M55.0 959.3h0M60.0 959.6h0M61.5 960.2h0M62.5 953.8h0M54.5 968.4h0M53.7 959.2h0M58.3 964.8h0M54.5 962.6h0M63.8 944.0h0M61.9 937.9h0M59.4 962.5h0M55.4 936.0h0M55.3 962.2h0M66.1 956.6h0M61.4 944.2h0M62.0 959.7h0M54.4 964.2h0M61.7 958.2h0M57.3 945.5h0M59.4 960.7h0M74.4 950.5h0M55.2 954.9h0M54.1 952.6h0M61.8 944.6h0M57.9 951.9h0M54.9 965.6h0M85.0 959.9h0M64.5 960.7h0M57.8 955.9h0M58.9 962.0h0M67.0 961.2h0M57.8 958.1h0M59.4 931.8h0M63.3 940.5h0M58.7 961.1h0M55.9 934.8h0M60.7 952.2h0M56.9 953.3h0M52.0 956.2h0M51.4 964.4h0M60.5 961.5h0M58.9 959.9h0M53.6 954.0h0M55.4 945.3h0M67.6 946.3h0M60.6 959.9h0M65.2 958.0h0M53.5 963.1h0M52.0 958.7h0M63.5 962.0h0M59.2 949.2h0M63.8 965.0h0M59.8 956.5h0M58.4 955.5h0M63.2 935.8h0M68.7 952.7h0M55.3 966.2h0M58.0 958.0h0M55.8 956.1h0M51.7 963.4h0M66.7 926.9h0M58.0 954.9h0M77.1 942.9h0M55.8 936.9h0M55.0 959.0h0M55.5 948.7h0M76.1 960.4h0M64.5 942.1h0M70.5 933.9h0M56.9 955.2h0M53.6 961.1h0M60.1 960.6h0M62.8 961.7h0M57.9 938.1h0M60.1 959.4h0M52.6 965.8h0M54.9 938.2h0M57.5 966.3h0M60.7 943.9h0M60.0 933.2h0M53.1 963.1h0M56.8 956.7h0M59.1 955.8h0M51.9 962.3h0M54.5 958.8h0M55.1 941.7h0M81.0 954.3h0M51.6 951.9h0M59.0 959.2h0M51.0 959.5h0M52.5 964.4h0M73.7 955.4h0M57.9 933.3h0M55.2 964.8h0M53.7 962.6h0M60.0 965.1h0M62.6 936.8h0M56.2 958.1h0M61.0 960.4h0M59.3 940.6h0M51.5 962.5h0M64.3 954.7h0M59.2 960.0h0M59.9 939.5h0M63.3 953.6h0M61.9 949.0h0M59.0 964.3h0M51.8 962.0h0M66.1 961.8h0M61.5 958.4h0M56.2 964.6h0M60.2 964.5h0M55.8 960.1h0M61.2 951.0h0M55.7 957.5h0M78.2 945.7h0M64.0 960.4h0M74.5 945.5h0M53.9 949.0h0M52.8 958.9h0M56.7 952.2h0M60.1 939.8h0M63.2 942.8h0M61.9 946.5h0M53.6 951.6h0M52.9 957.9h0M53.5 958.9h0M59.2 963.6h0M64.8 957.3h0M60.0 961.0h0M62.9 949.3h0M61.1 965.5h0M54.6 955.2h0M62.1 961.9h0M57.1 963.5h0M58.5 964.3h0M54.1 964.4h0M59.0 959.7h0M77.0 954.6h0M54.1 952.4h0M63.9 955.5h0M65.9 956.9h0M64.6 939.7h0M62.3 961.1h0M54.3 966.4h0M59.8 959.9h0M56.0 958.3h0M70.0 957.3h0M65.4 928.2h0M58.3 952.2h0M62.5 961.1h0M53.5 965.0h0M59.4 962.1h0M54.3 949.8h0M55.1 958.4h0M54.5 957.5h0M56.9 957.3h0M68.9 933.4h0M51.4 941.9h0M60.2 942.1h0M55.9 942.0h0M60.6 961.1h0M65.7 936.6h0M61.2 953.8h0M65.0 942.3h0M63.5 946.5h0M61.9 947.8h0M64.9 956.8h0M57.5 960.8h0M62.5 944.0h0M62.9 954.2h0M58.2 941.9h0M69.3 949.3h0M59.3 953.6h0M61.1 938.2h0M55.0 949.2h0M65.5 943.7h0M52.9 963.6h0M68.1 933.9h0M54.3 958.6h0M57.5 965.6h0M59.1 957.5h0M56.9 949.7h0M59.1 937.9h0M56.5 948.5h0M59.3 957.9h0M58.9 954.2h0M53.7 963.3h0M60.9 959.0h0M67.0 934.4h0M61.3 954.6h0M56.7 944.5h0M89.1 958.8h0M64.3 955.9h0M62.5 955.7h0M55.2 957.7h0M60.1 949.0h0M78.0 959.3h0M64.3 960.2h0M61.2 960.6h0M59.4 956.7h0M57.5 956.3h0M62.5 951.5h0M62.6 933.7h0M56.1 962.0h0M56.1 947.5h0M61.1 958.8h0M56.7 956.7h0M58.8 946.2h0M62.5 937.8h0M54.1 964.9h0M65.1 943.4h0M59.5 957.9h0M53.4 962.8h0M53.3 960.6h0M65.9 941.1h0M57.4 959.4h0M56.8 953.2h0M52.8 962.8h0M55.1 958.0h0M53.1 955.5h0M61.9 962.4h0M56.6 950.8h0M53.5 948.5h0M60.4 937.5h0M70.6 953.9h0M57.4 968.1h0M57.9 958.7h0M54.3 962.3h0M64.3 950.4h0M57.6 956.7h0" stroke="#4a6cc8"/><path d="M53.9 960.8h0M56.5 963.5h0M57.5 961.9h0M58.1 959.9h0M56.5 960.4h0M54.0 962.5h0M55.4 963.1h0M57.9 963.0h0M58.2 960.0h0M53.9 962.5h0M56.4 963.2h0M54.6 961.2h0M58.6 962.4h0M58.5 960.1h0M54.4 961.4h0M54.3 961.6h0M56.6 963.5h0M56.4 963.2h0M58.2 963.4h0M57.7 963.2h0M53.8 960.8h0M56.9 963.0h0M58.7 961.2h0M56.0 961.1h0M57.8 959.8h0" stroke="#3aa0a8"/><path d="M55.0 961.7h0M55.8 961.3h0M57.8 961.8h0M55.6 960.9h0M56.9 960.5h0M57.1 962.9h0M57.0 961.9h0M55.3 962.2h0M55.1 962.3h0M55.5 961.3h0M54.8 961.7h0M57.3 961.0h0" stroke="#88d050"/><path d="M54.7 962.8h0M55.4 962.8h0M54.0 961.0h0M56.9 960.6h0M53.9 960.3h0M57.8 959.5h0M55.0 962.0h0M56.5 963.1h0M58.2 960.1h0M58.0 963.2h0M55.1 959.7h0M54.8 963.0h0M58.8 959.9h0M55.3 959.3h0M58.9 960.3h0M56.9 963.0h0M56.1 963.9h0M57.0 961.7h0M57.5 963.2h0M57.8 963.0h0M54.0 961.4h0" stroke="#78c858"/><path d="M55.9 961.1h0M56.7 962.2h0M57.3 962.4h0M56.7 962.7h0M57.7 960.5h0M58.1 961.6h0M55.2 961.5h0M54.9 960.9h0M56.9 960.4h0M55.1 961.1h0M56.4 962.8h0M56.6 962.8h0M54.9 961.3h0M57.9 961.3h0M55.3 962.6h0M55.3 961.5h0M55.7 961.4h0M58.1 961.8h0M56.3 962.0h0M57.4 961.6h0" stroke="#c8dc40"/><path d="M58.5 960.2h0M55.0 960.2h0M55.0 960.1h0M54.5 963.1h0M54.4 962.9h0M53.6 961.3h0M55.8 959.9h0M58.7 962.3h0M54.6 960.5h0M55.4 963.8h0M57.5 959.8h0M59.1 961.1h0M56.3 960.0h0M58.0 961.0h0M57.1 959.8h0M58.2 962.6h0M58.9 960.2h0M56.0 963.5h0M57.9 960.3h0M56.0 959.9h0M57.1 959.2h0M56.9 963.1h0M57.0 959.5h0M55.5 959.4h0" stroke="#48b090"/><path d="M55.9 963.5h0M55.8 963.4h0M54.3 963.0h0M54.6 962.0h0M54.3 963.1h0M58.7 961.1h0M55.5 963.8h0M56.2 959.9h0M57.9 959.8h0M53.9 961.4h0M53.6 960.9h0M53.8 960.7h0M56.0 959.7h0M54.6 963.3h0M59.1 961.6h0M57.9 963.5h0M55.1 960.5h0M56.6 962.4h0M56.2 959.4h0M58.2 963.3h0M59.4 962.0h0" stroke="#58c070"/><path d="M55.8 962.8h0M55.7 962.1h0M55.7 962.3h0M56.7 960.8h0M57.0 962.3h0M56.3 961.8h0M57.7 961.7h0M58.0 961.5h0M57.8 960.6h0M56.6 961.6h0M55.4 961.6h0M56.3 962.1h0M57.9 961.0h0" stroke="#e0d838"/><path d="M55.9 961.0h0M57.2 962.7h0M57.4 961.3h0M55.3 961.5h0M57.1 961.1h0M54.9 961.2h0M57.1 962.8h0M57.2 961.8h0" stroke="#a8d848"/></g>
<g opacity="0.8" stroke-width="0.7" stroke-linecap="square" fill="none"><path d="M93.0 930.9h0M73.3 933.5h0M86.5 934.5h0M100.8 961.2h0M80.0 952.9h0M96.2 935.9h0" stroke="#8aa2e0"/><path d="M78.8 935.0h0M94.4 962.1h0M91.3 931.1h0M77.9 948.2h0M80.0 961.3h0M95.1 942.2h0M77.8 957.5h0M78.2 940.4h0M90.1 954.6h0" stroke="#6a88d8"/><path d="M90.2 955.8h0M89.6 937.9h0M91.7 959.1h0M72.8 940.6h0M92.3 961.0h0M76.9 932.5h0M75.9 942.8h0M79.6 963.7h0M72.6 952.9h0M79.7 963.3h0" stroke="#9ab0e6"/></g>
<rect x="49.8" y="874.2" width="96.7" height="98.1" fill="none" stroke="#9a9a9a" stroke-width="1"/>
<line x1="49.8" y1="873.7" x2="49.8" y2="972.8" stroke="#8a8a8a" stroke-width="1.1"/>
<line x1="49.3" y1="972.3" x2="147" y2="972.3" stroke="#8a8a8a" stroke-width="1.1"/>
<line x1="47.6" y1="972.3" x2="49.8" y2="972.3" stroke="#444" stroke-width="0.8"/>
<line x1="48.4" y1="962.49" x2="49.8" y2="962.49" stroke="#444" stroke-width="0.8"/>
<line x1="48.4" y1="952.68" x2="49.8" y2="952.68" stroke="#444" stroke-width="0.8"/>
<line x1="48.4" y1="942.87" x2="49.8" y2="942.87" stroke="#444" stroke-width="0.8"/>
<line x1="48.4" y1="933.06" x2="49.8" y2="933.06" stroke="#444" stroke-width="0.8"/>
<line x1="47.6" y1="923.25" x2="49.8" y2="923.25" stroke="#444" stroke-width="0.8"/>
<line x1="48.4" y1="913.44" x2="49.8" y2="913.44" stroke="#444" stroke-width="0.8"/>
<line x1="48.4" y1="903.63" x2="49.8" y2="903.63" stroke="#444" stroke-width="0.8"/>
<line x1="48.4" y1="893.82" x2="49.8" y2="893.82" stroke="#444" stroke-width="0.8"/>
<line x1="48.4" y1="884.01" x2="49.8" y2="884.01" stroke="#444" stroke-width="0.8"/>
<line x1="47.6" y1="874.2" x2="49.8" y2="874.2" stroke="#444" stroke-width="0.8"/>
<line x1="55.62" y1="970.5" x2="55.62" y2="972.3" stroke="#333" stroke-width="0.7"/>
<line x1="59.03" y1="970.5" x2="59.03" y2="972.3" stroke="#333" stroke-width="0.7"/>
<line x1="61.44" y1="970.5" x2="61.44" y2="972.3" stroke="#333" stroke-width="0.7"/>
<line x1="63.32" y1="970.5" x2="63.32" y2="972.3" stroke="#333" stroke-width="0.7"/>
<line x1="64.85" y1="970.5" x2="64.85" y2="972.3" stroke="#333" stroke-width="0.7"/>
<line x1="66.14" y1="970.5" x2="66.14" y2="972.3" stroke="#333" stroke-width="0.7"/>
<line x1="67.27" y1="970.5" x2="67.27" y2="972.3" stroke="#333" stroke-width="0.7"/>
<line x1="68.26" y1="970.5" x2="68.26" y2="972.3" stroke="#333" stroke-width="0.7"/>
<line x1="74.96" y1="970.5" x2="74.96" y2="972.3" stroke="#333" stroke-width="0.7"/>
<line x1="78.37" y1="970.5" x2="78.37" y2="972.3" stroke="#333" stroke-width="0.7"/>
<line x1="80.78" y1="970.5" x2="80.78" y2="972.3" stroke="#333" stroke-width="0.7"/>
<line x1="82.66" y1="970.5" x2="82.66" y2="972.3" stroke="#333" stroke-width="0.7"/>
<line x1="84.19" y1="970.5" x2="84.19" y2="972.3" stroke="#333" stroke-width="0.7"/>
<line x1="85.48" y1="970.5" x2="85.48" y2="972.3" stroke="#333" stroke-width="0.7"/>
<line x1="86.61" y1="970.5" x2="86.61" y2="972.3" stroke="#333" stroke-width="0.7"/>
<line x1="87.6" y1="970.5" x2="87.6" y2="972.3" stroke="#333" stroke-width="0.7"/>
<line x1="94.3" y1="970.5" x2="94.3" y2="972.3" stroke="#333" stroke-width="0.7"/>
<line x1="97.71" y1="970.5" x2="97.71" y2="972.3" stroke="#333" stroke-width="0.7"/>
<line x1="100.12" y1="970.5" x2="100.12" y2="972.3" stroke="#333" stroke-width="0.7"/>
<line x1="102" y1="970.5" x2="102" y2="972.3" stroke="#333" stroke-width="0.7"/>
<line x1="103.53" y1="970.5" x2="103.53" y2="972.3" stroke="#333" stroke-width="0.7"/>
<line x1="104.82" y1="970.5" x2="104.82" y2="972.3" stroke="#333" stroke-width="0.7"/>
<line x1="105.95" y1="970.5" x2="105.95" y2="972.3" stroke="#333" stroke-width="0.7"/>
<line x1="106.94" y1="970.5" x2="106.94" y2="972.3" stroke="#333" stroke-width="0.7"/>
<line x1="113.64" y1="970.5" x2="113.64" y2="972.3" stroke="#333" stroke-width="0.7"/>
<line x1="117.05" y1="970.5" x2="117.05" y2="972.3" stroke="#333" stroke-width="0.7"/>
<line x1="119.46" y1="970.5" x2="119.46" y2="972.3" stroke="#333" stroke-width="0.7"/>
<line x1="121.34" y1="970.5" x2="121.34" y2="972.3" stroke="#333" stroke-width="0.7"/>
<line x1="122.87" y1="970.5" x2="122.87" y2="972.3" stroke="#333" stroke-width="0.7"/>
<line x1="124.16" y1="970.5" x2="124.16" y2="972.3" stroke="#333" stroke-width="0.7"/>
<line x1="125.29" y1="970.5" x2="125.29" y2="972.3" stroke="#333" stroke-width="0.7"/>
<line x1="126.28" y1="970.5" x2="126.28" y2="972.3" stroke="#333" stroke-width="0.7"/>
<line x1="132.98" y1="970.5" x2="132.98" y2="972.3" stroke="#333" stroke-width="0.7"/>
<line x1="136.39" y1="970.5" x2="136.39" y2="972.3" stroke="#333" stroke-width="0.7"/>
<line x1="138.8" y1="970.5" x2="138.8" y2="972.3" stroke="#333" stroke-width="0.7"/>
<line x1="140.68" y1="970.5" x2="140.68" y2="972.3" stroke="#333" stroke-width="0.7"/>
<line x1="142.21" y1="970.5" x2="142.21" y2="972.3" stroke="#333" stroke-width="0.7"/>
<line x1="143.5" y1="970.5" x2="143.5" y2="972.3" stroke="#333" stroke-width="0.7"/>
<line x1="144.63" y1="970.5" x2="144.63" y2="972.3" stroke="#333" stroke-width="0.7"/>
<line x1="145.62" y1="970.5" x2="145.62" y2="972.3" stroke="#333" stroke-width="0.7"/>
<line x1="49.8" y1="972.3" x2="49.8" y2="974.3" stroke="#333" stroke-width="0.8"/>
<text x="54.2" y="982.8" font-size="9.8" text-anchor="end" fill="#1a1a1a" textLength="9.6" lengthAdjust="spacingAndGlyphs">10</text>
<text x="54.5" y="978.8" font-size="5.4">2</text>
<line x1="69.14" y1="972.3" x2="69.14" y2="974.3" stroke="#333" stroke-width="0.8"/>
<text x="73.54" y="982.8" font-size="9.8" text-anchor="end" fill="#1a1a1a" textLength="9.6" lengthAdjust="spacingAndGlyphs">10</text>
<text x="73.84" y="978.8" font-size="5.4">3</text>
<line x1="88.48" y1="972.3" x2="88.48" y2="974.3" stroke="#333" stroke-width="0.8"/>
<text x="92.88" y="982.8" font-size="9.8" text-anchor="end" fill="#1a1a1a" textLength="9.6" lengthAdjust="spacingAndGlyphs">10</text>
<text x="93.18" y="978.8" font-size="5.4">4</text>
<line x1="107.82" y1="972.3" x2="107.82" y2="974.3" stroke="#333" stroke-width="0.8"/>
<text x="112.22" y="982.8" font-size="9.8" text-anchor="end" fill="#1a1a1a" textLength="9.6" lengthAdjust="spacingAndGlyphs">10</text>
<text x="112.52" y="978.8" font-size="5.4">5</text>
<line x1="127.16" y1="972.3" x2="127.16" y2="974.3" stroke="#333" stroke-width="0.8"/>
<text x="131.56" y="982.8" font-size="9.8" text-anchor="end" fill="#1a1a1a" textLength="9.6" lengthAdjust="spacingAndGlyphs">10</text>
<text x="131.86" y="978.8" font-size="5.4">6</text>
<line x1="146.5" y1="972.3" x2="146.5" y2="974.3" stroke="#333" stroke-width="0.8"/>
<text x="150.9" y="982.8" font-size="9.8" text-anchor="end" fill="#1a1a1a" textLength="9.6" lengthAdjust="spacingAndGlyphs">10</text>
<text x="151.2" y="978.8" font-size="5.4">7</text>
<text x="47.3" y="871.9" font-size="10" text-anchor="middle" textLength="15.6" lengthAdjust="spacingAndGlyphs" transform="rotate(-90 47.3 871.9)">100</text>
<text x="47.3" y="923.25" font-size="10" text-anchor="middle" textLength="10.4" lengthAdjust="spacingAndGlyphs" transform="rotate(-90 47.3 923.25)">50</text>
<text x="47.3" y="972.3" font-size="10" text-anchor="middle" textLength="5.2" lengthAdjust="spacingAndGlyphs" transform="rotate(-90 47.3 972.3)">0</text>
<text x="79.4" y="994.8" font-size="9" textLength="45.6" lengthAdjust="spacingAndGlyphs">PE-CD163</text>
<rect x="69.4" y="885.4" width="46.9" height="83.9" fill="none" stroke="#4a4a4a" stroke-width="0.95"/>
<text x="77.1" y="869.5" font-size="9" textLength="33.9" lengthAdjust="spacingAndGlyphs">miR-NC</text>
<text x="109.8" y="884.2" font-size="9.2" textLength="33.2" lengthAdjust="spacingAndGlyphs">(2.52%)</text>
<text x="33.6" y="920" font-size="8.6" text-anchor="middle" textLength="24.7" lengthAdjust="spacingAndGlyphs" transform="rotate(-90 33.6 920)">SSC-A</text>
<text x="34.9" y="855.8" font-size="7.8" text-anchor="middle" letter-spacing="0.35" transform="rotate(-90 34.9 855.8)">(x 10<tspan font-size="6.6" dy="-4.6">4</tspan><tspan dy="4.6">)</tspan></text>
<g opacity="0.85" stroke-width="0.7" stroke-linecap="square" fill="none"><path d="M216.8 960.5h0M219.3 963.9h0M219.8 957.0h0M231.0 935.1h0M218.7 956.2h0M221.1 954.2h0M219.8 957.0h0M224.9 941.5h0M218.0 955.3h0M220.1 962.5h0M220.3 965.3h0M216.8 952.1h0M217.9 963.2h0M216.5 955.4h0M217.6 956.2h0M227.1 944.8h0M226.3 941.8h0M223.5 959.9h0M209.4 959.9h0M222.3 956.0h0M221.9 958.5h0M234.5 957.3h0M224.8 950.0h0M231.4 943.9h0M224.2 961.5h0M222.0 952.1h0M225.6 950.8h0M217.1 948.5h0M218.2 962.2h0M230.6 954.6h0M223.4 956.2h0M223.2 959.4h0M217.6 952.5h0M214.0 960.5h0M225.3 940.5h0M225.6 952.2h0M225.0 935.9h0M220.3 942.1h0M220.9 964.1h0M218.8 955.3h0M222.0 961.0h0M225.3 951.0h0M220.7 951.9h0M219.9 958.7h0M226.8 944.9h0M227.5 953.6h0M217.7 953.5h0M220.0 945.4h0M227.7 950.8h0M223.7 958.3h0M219.6 960.1h0M227.1 934.8h0M219.4 957.6h0M223.6 956.5h0M232.2 936.4h0M221.3 961.7h0M227.7 938.0h0M223.8 947.6h0M230.8 943.1h0M227.0 959.0h0M225.9 960.4h0M222.7 959.8h0M223.2 948.2h0M228.3 937.9h0M222.0 958.4h0M225.5 964.1h0M233.5 956.9h0M216.7 951.6h0M224.4 944.7h0M220.1 942.0h0M228.8 955.4h0M223.7 961.7h0M222.4 962.5h0M223.6 954.3h0M219.6 953.3h0M219.4 957.9h0M213.2 959.2h0M217.7 960.8h0M219.9 963.2h0M231.3 956.4h0M229.1 933.2h0M217.5 963.9h0M219.4 959.9h0M210.7 962.6h0M214.8 962.7h0M226.1 953.0h0M215.9 959.2h0M217.7 962.3h0M226.5 941.0h0M222.1 950.7h0M239.8 959.8h0M223.3 962.8h0M221.3 942.2h0M223.4 964.4h0M223.6 947.4h0M222.7 962.6h0M215.1 958.3h0M229.0 948.4h0M218.5 966.5h0M218.7 959.2h0M221.5 957.1h0M230.2 959.4h0M223.2 937.4h0M224.4 957.7h0M218.2 963.8h0M227.7 937.6h0M226.8 945.5h0M217.0 951.8h0M216.7 956.9h0M225.6 943.4h0M224.9 959.1h0M222.9 953.0h0M229.0 955.0h0M213.9 957.8h0M224.2 964.3h0M229.5 945.8h0M215.2 954.8h0M226.7 937.1h0M226.4 967.8h0M208.1 963.1h0M221.2 953.8h0M228.7 934.3h0M223.5 944.1h0M226.9 965.5h0M233.6 939.5h0M213.3 954.8h0M227.2 939.9h0M223.2 956.9h0M233.1 959.6h0M219.9 955.9h0M211.9 968.0h0M214.8 958.5h0M219.9 948.0h0M215.2 960.4h0M205.7 961.7h0M221.0 956.8h0M221.6 958.7h0M212.7 958.9h0M225.2 957.1h0M226.6 940.7h0M219.2 956.2h0M220.2 957.5h0M226.5 965.0h0M224.0 953.2h0M230.7 933.4h0M229.1 949.3h0M227.6 964.7h0M230.8 935.2h0M215.8 966.8h0M223.4 942.5h0M222.2 957.0h0M227.1 963.4h0M224.1 958.7h0M233.7 937.0h0M230.4 939.3h0M229.1 959.6h0M215.6 964.1h0M222.7 955.9h0M215.2 959.6h0M223.1 930.1h0M218.8 959.7h0M224.9 940.2h0M224.2 946.3h0M222.9 958.8h0M215.6 960.2h0M219.2 953.8h0M232.4 957.1h0M219.5 940.2h0M222.2 945.1h0M222.2 956.1h0M228.9 951.0h0M214.8 959.8h0M221.5 966.4h0M222.8 958.9h0M221.4 953.1h0M220.9 954.1h0M233.4 934.6h0M226.1 940.8h0M227.5 943.3h0M209.6 954.3h0M227.0 934.4h0M228.4 948.9h0M224.3 960.2h0M226.2 946.9h0M219.7 957.7h0M226.1 961.8h0M221.5 933.8h0M227.6 956.2h0M221.3 957.2h0M228.5 934.1h0M223.2 962.1h0M221.8 946.4h0M223.2 944.5h0M225.7 947.8h0M219.4 933.6h0M225.4 958.9h0M224.3 944.8h0M227.2 937.9h0M222.4 957.0h0M221.7 958.0h0M219.8 955.6h0M214.7 961.1h0M227.7 960.4h0M225.0 963.5h0M226.6 957.4h0M226.9 947.9h0M233.7 937.4h0M249.4 960.1h0M232.2 930.1h0M221.4 958.2h0M223.9 956.5h0M223.3 959.1h0M213.3 955.8h0M216.6 958.7h0M227.4 959.8h0M220.1 955.7h0M216.4 949.9h0M230.2 954.5h0M215.8 959.2h0M223.7 955.6h0M219.1 940.7h0M230.1 949.3h0M216.7 941.0h0M228.7 929.7h0M223.2 944.7h0M231.8 939.1h0M226.9 962.2h0M220.4 954.0h0M226.2 927.3h0M223.2 939.0h0M227.1 943.5h0M222.8 964.4h0M234.7 958.7h0M228.3 934.6h0M217.1 952.4h0M216.7 958.4h0M218.7 951.8h0M232.6 931.6h0M221.1 951.0h0M222.6 939.0h0M223.6 950.4h0M225.4 950.0h0M226.0 947.4h0M225.4 929.5h0M213.7 963.4h0M221.0 957.5h0M216.3 955.4h0M224.0 955.4h0M210.4 956.6h0M218.5 954.1h0M216.8 956.9h0M234.5 950.7h0M222.1 963.5h0M220.8 951.5h0M221.1 949.2h0M231.4 936.6h0M211.7 965.7h0M218.7 952.2h0M219.4 969.0h0M207.8 969.3h0M224.5 955.0h0M221.5 956.0h0M222.3 940.8h0M227.6 948.6h0M221.8 954.7h0M230.4 960.1h0M222.9 945.5h0M231.6 930.1h0M223.5 954.6h0M218.6 956.2h0M216.4 960.9h0M219.8 962.3h0M228.8 955.2h0M214.4 959.1h0M230.9 938.0h0M219.5 963.4h0" stroke="#3a58c0"/><path d="M224.3 953.1h0M229.4 954.7h0M220.5 956.4h0M220.1 947.6h0M222.2 955.1h0M227.6 958.2h0M220.1 960.4h0M221.8 946.1h0M226.9 944.0h0M220.5 965.4h0M225.2 953.4h0M219.5 966.9h0M217.8 954.2h0M222.7 941.9h0M222.7 962.6h0M221.2 962.8h0M225.4 933.1h0M220.4 947.1h0M218.6 963.4h0M226.4 947.2h0M217.1 967.1h0M224.1 963.4h0M217.9 962.5h0M224.1 956.5h0M226.5 946.9h0M214.7 957.4h0M218.1 958.2h0M222.2 945.9h0M212.0 957.2h0M218.7 957.9h0M215.4 954.3h0M215.3 960.7h0M223.3 933.3h0M226.9 940.6h0M220.0 955.5h0M213.8 959.9h0M221.1 964.9h0M223.3 934.0h0M222.2 953.6h0M228.7 927.2h0M214.7 963.6h0M228.3 965.5h0M217.3 962.6h0M215.1 967.1h0M222.3 955.7h0M214.1 960.1h0M219.5 949.7h0M224.2 945.9h0M218.4 957.5h0M214.6 955.9h0M224.2 953.9h0M227.8 959.7h0M212.2 963.3h0M220.8 957.2h0M227.6 969.5h0M230.7 934.2h0M211.5 959.7h0M222.8 961.7h0M235.4 934.5h0M220.5 961.2h0M217.4 956.9h0M224.4 956.5h0M223.1 967.9h0M222.7 958.2h0M221.3 944.9h0M221.1 956.8h0M215.0 960.5h0M210.2 958.5h0M236.3 939.3h0M221.9 960.2h0M219.7 956.2h0M225.9 953.1h0M223.9 961.2h0M210.6 965.0h0M220.4 939.6h0M210.2 960.2h0M209.1 955.0h0M219.6 956.9h0M218.3 964.3h0M216.3 957.6h0M232.5 943.6h0M225.6 950.0h0M222.3 954.8h0M223.9 934.3h0M221.7 958.2h0M213.2 957.6h0M230.7 934.4h0M222.6 953.9h0M218.5 959.0h0M225.8 946.3h0M209.2 961.0h0M226.7 935.9h0M226.6 953.2h0M219.7 958.5h0M219.8 937.1h0M219.7 945.3h0M224.1 960.1h0M228.8 949.4h0M225.5 938.8h0M215.2 953.7h0M222.9 952.5h0M213.8 957.3h0M227.7 948.0h0M228.3 935.3h0M223.5 957.0h0M230.5 935.5h0M220.9 956.6h0M223.2 940.9h0M220.7 957.3h0M227.9 933.4h0M225.0 941.3h0M221.4 954.4h0M226.6 953.4h0M226.0 939.4h0M212.3 961.4h0M218.0 948.5h0M224.8 949.8h0M222.7 962.6h0M220.8 960.1h0M232.3 943.1h0M228.1 941.1h0M226.7 936.7h0M223.3 938.0h0M226.9 958.2h0M212.4 954.1h0M219.1 956.4h0M218.7 943.6h0M226.6 930.8h0M220.1 962.9h0M228.6 950.7h0M220.1 956.4h0M227.3 935.2h0M222.6 938.5h0M229.6 950.3h0M211.7 961.2h0M226.6 952.5h0M216.8 967.1h0M211.6 964.4h0M235.1 960.5h0M225.2 945.4h0M231.5 938.8h0M215.2 960.3h0M222.5 941.9h0M214.8 962.6h0M222.5 954.1h0M218.5 962.1h0M226.5 960.1h0M225.4 943.2h0M232.8 944.5h0M218.3 937.4h0M213.9 954.9h0M218.8 955.1h0M230.7 939.7h0M211.0 961.4h0M227.0 936.8h0M215.1 958.8h0M227.5 940.4h0M214.5 963.4h0M217.8 945.1h0M215.9 964.9h0M223.6 934.9h0M210.5 958.4h0M212.6 963.8h0M226.1 956.4h0M222.1 966.5h0M231.4 940.9h0M224.6 961.6h0M212.4 955.4h0M225.3 944.2h0M230.4 931.3h0M232.1 952.8h0M221.2 942.0h0M215.3 963.6h0M221.6 959.6h0M221.2 952.7h0M221.8 953.7h0M224.5 953.8h0M215.1 962.1h0M225.2 930.7h0M226.7 940.4h0M227.9 944.0h0M225.4 950.4h0M213.1 957.7h0M222.1 960.8h0M235.6 948.8h0M217.3 947.0h0M226.5 947.7h0M226.4 961.2h0M212.9 958.5h0M230.2 933.2h0M214.8 954.9h0M215.4 959.2h0M232.9 932.9h0M221.1 946.7h0M233.1 935.7h0M223.6 964.4h0M220.4 957.3h0M212.8 957.4h0M213.5 956.3h0M215.6 960.1h0M221.4 964.4h0M223.6 953.7h0M220.2 952.1h0M221.3 956.7h0M222.7 956.6h0M220.7 962.5h0M221.3 936.0h0M225.0 956.8h0M218.2 956.7h0M226.7 954.3h0M221.5 956.0h0M222.9 939.8h0M226.9 934.4h0M223.4 960.3h0M229.7 950.8h0M216.1 956.0h0M227.6 961.8h0M216.0 960.7h0M216.3 955.8h0M221.8 966.0h0M222.5 968.0h0M232.2 934.2h0M227.8 957.8h0M209.2 961.1h0M231.3 939.8h0M233.4 954.8h0M222.6 933.5h0M223.3 948.0h0M222.8 955.0h0M241.1 951.7h0M227.9 951.5h0M223.0 962.8h0M218.9 955.4h0M230.9 925.9h0M232.1 929.2h0M238.9 959.1h0M222.9 948.9h0M223.7 939.3h0M223.7 951.5h0M219.3 937.2h0M234.0 959.7h0M217.4 953.2h0M212.1 962.1h0M220.9 961.3h0M222.0 965.6h0M231.5 944.4h0M225.4 943.0h0M211.3 959.7h0M213.5 945.1h0M217.7 954.0h0" stroke="#2a3fa8"/><path d="M219.9 944.7h0M220.1 940.2h0M220.8 929.6h0M212.0 960.3h0M227.2 958.6h0M215.5 966.8h0M221.5 963.9h0M216.2 950.8h0M226.3 935.4h0M226.7 958.2h0M224.1 941.3h0M210.6 958.2h0M224.4 937.2h0M218.6 958.2h0M226.8 954.9h0M232.9 927.8h0M217.9 959.5h0M214.2 956.8h0M223.1 926.4h0M224.4 963.2h0M223.8 947.7h0M228.0 935.3h0M229.3 944.7h0M229.2 944.6h0M221.5 941.1h0M224.2 953.5h0M215.3 960.0h0M219.6 960.0h0M223.0 956.8h0M217.7 959.6h0M225.7 945.1h0M224.8 965.9h0M223.1 956.4h0M226.0 941.6h0M224.2 962.7h0M223.7 962.9h0M212.6 964.3h0M219.6 964.8h0M221.9 953.8h0M226.8 945.9h0M229.5 952.0h0M224.9 963.1h0M225.1 933.4h0M224.4 959.5h0M215.0 961.2h0M221.4 938.5h0M220.8 940.4h0M232.1 944.2h0M221.5 952.9h0M238.2 947.0h0M224.0 959.1h0M225.0 957.2h0M228.3 939.6h0M219.9 954.7h0M226.3 945.8h0M228.8 952.7h0M219.4 955.4h0M221.6 951.9h0M224.9 957.2h0M225.0 962.5h0M227.6 935.2h0M229.4 956.8h0M226.3 936.9h0M213.5 962.5h0M229.6 942.2h0M235.4 955.7h0M225.7 963.2h0M215.7 961.1h0M224.1 965.0h0M222.5 939.8h0M220.8 956.3h0M228.0 953.3h0M227.7 936.2h0M223.7 958.9h0M216.9 957.6h0M220.9 957.7h0M223.8 966.7h0M223.9 947.7h0M222.7 942.9h0M227.6 940.9h0M218.5 967.8h0M222.7 963.4h0M223.3 947.9h0M227.2 949.1h0M234.0 930.9h0M230.5 955.4h0M232.2 930.8h0M226.9 930.8h0M243.6 957.7h0M222.7 948.6h0M221.6 944.4h0M221.2 927.6h0M227.7 951.4h0M226.6 959.7h0M224.4 958.6h0M226.0 942.7h0M221.3 957.5h0M215.0 964.4h0M225.5 950.4h0M210.6 956.7h0M232.4 952.2h0M220.7 960.4h0M219.7 947.7h0M215.0 951.8h0M218.0 953.6h0M231.5 944.0h0M222.8 955.1h0M211.1 968.4h0M230.9 928.9h0M231.2 953.7h0M222.7 961.9h0M226.8 932.4h0M221.6 962.8h0M225.5 953.7h0M227.5 935.8h0M213.4 963.4h0M221.8 938.1h0M222.0 951.2h0M219.0 944.2h0M226.9 931.7h0M230.1 958.9h0M218.4 941.5h0M222.5 954.0h0M221.6 955.7h0M222.6 959.2h0M221.8 946.0h0M228.1 958.4h0M217.9 963.9h0M209.1 964.3h0M227.7 953.7h0M229.5 934.0h0M214.3 956.3h0M215.8 958.0h0M225.8 956.8h0M219.6 965.3h0M223.1 962.5h0M214.7 955.5h0M230.2 928.6h0M222.1 950.0h0M225.2 927.9h0M228.8 959.2h0M223.1 952.5h0M217.2 964.1h0M222.6 942.9h0M219.9 963.7h0M221.4 964.5h0M222.7 955.9h0M226.5 965.5h0M219.2 937.4h0M218.2 964.2h0M223.3 953.6h0M221.4 949.2h0M222.6 959.9h0M222.4 953.1h0M228.5 939.1h0M218.2 955.2h0M218.9 955.0h0M218.0 959.3h0M215.7 962.5h0M220.7 956.8h0M231.6 945.3h0M224.9 964.2h0M225.2 946.2h0M227.1 940.2h0M226.7 935.5h0M225.4 967.3h0M224.2 965.1h0M222.4 959.3h0M225.1 955.3h0M223.0 964.6h0M250.0 951.6h0M210.6 964.3h0M223.0 952.9h0M221.5 947.2h0M226.2 933.3h0M213.2 957.6h0M225.4 957.9h0M216.3 959.3h0M221.5 957.6h0M222.7 943.3h0M225.1 962.4h0M222.5 955.1h0M227.8 957.6h0M220.0 951.6h0M230.3 954.6h0M217.5 962.5h0M212.3 956.3h0M216.9 957.5h0M226.4 943.7h0M224.1 961.0h0M235.0 956.3h0M218.3 958.5h0M219.6 955.7h0M218.0 964.0h0M218.9 945.9h0M222.7 959.2h0M227.2 959.7h0M226.2 954.4h0M220.5 956.7h0M226.5 947.9h0M223.2 940.3h0M221.5 960.8h0M231.0 926.9h0M231.8 940.6h0M221.6 943.1h0M229.2 942.4h0M231.2 943.9h0M228.5 961.1h0M224.4 964.1h0M222.5 950.8h0M219.3 964.3h0M223.6 940.6h0M227.5 965.6h0M218.6 947.1h0M219.9 950.6h0M217.8 959.2h0M215.2 958.2h0M228.7 952.2h0M216.9 950.2h0M216.9 967.2h0M224.3 958.2h0M226.6 933.6h0M229.2 934.3h0M213.3 957.3h0M218.7 954.3h0M218.3 955.3h0M222.7 957.6h0M218.0 961.1h0M226.4 937.6h0M229.5 933.4h0M221.4 956.4h0M223.2 943.3h0M224.3 934.7h0M220.3 964.0h0M226.4 944.8h0M230.4 939.5h0M223.2 952.0h0M224.7 958.5h0M224.6 959.1h0M215.1 962.9h0M214.8 951.6h0M231.1 962.9h0M223.2 958.1h0M225.9 964.3h0M219.9 941.2h0" stroke="#4a6cc8"/><path d="M218.3 965.5h0M232.2 943.6h0M231.0 938.0h0M219.9 957.6h0M218.6 953.4h0M226.6 933.3h0M223.9 965.6h0M221.4 958.1h0M224.4 956.5h0M230.8 931.3h0M236.1 930.1h0M215.8 949.0h0M225.7 959.4h0M240.6 949.9h0M226.4 958.3h0M225.4 956.1h0M233.8 948.5h0M223.5 941.1h0M222.4 958.8h0M212.2 967.0h0M215.3 961.5h0M218.2 963.8h0M227.8 947.4h0M225.2 964.9h0M217.2 959.7h0M221.8 947.5h0M220.7 944.0h0M223.1 940.0h0M223.0 957.1h0M221.2 940.0h0M212.7 955.2h0M224.9 963.1h0M227.8 942.2h0M220.9 958.1h0M218.3 960.7h0M215.6 961.4h0M224.5 963.4h0M222.0 945.2h0M223.9 963.7h0M222.0 952.5h0M224.9 964.5h0M222.9 958.6h0M219.7 951.8h0M210.5 960.5h0M220.1 962.0h0M222.9 959.2h0M222.8 949.9h0M233.9 960.1h0M215.5 954.3h0M226.0 954.6h0M220.3 961.8h0M228.7 936.8h0M226.1 938.1h0M235.5 941.8h0M223.0 956.1h0M222.7 958.4h0M233.0 931.6h0M221.5 962.5h0M230.2 953.0h0M223.7 959.7h0M214.7 964.2h0M221.4 951.0h0M214.1 955.2h0M221.6 955.8h0M216.8 966.6h0M208.3 959.9h0M221.2 946.1h0M225.8 961.9h0M224.3 962.3h0M224.4 954.9h0M224.5 937.3h0M226.1 932.2h0M221.4 962.1h0M225.4 958.1h0M224.3 959.1h0M225.1 949.1h0M218.5 964.6h0M214.2 956.5h0M215.5 961.4h0M225.9 959.5h0M226.0 961.2h0M220.6 956.3h0M215.0 960.1h0M216.7 961.2h0M215.5 947.1h0M233.5 949.7h0M225.9 944.2h0M238.1 953.6h0M210.1 954.8h0M216.4 957.0h0M226.1 935.3h0M227.6 962.7h0M215.9 957.1h0M218.3 958.0h0M217.2 956.5h0M225.5 961.5h0M217.2 959.9h0M226.6 941.4h0M208.2 956.6h0M225.0 949.2h0M227.0 952.5h0M224.4 966.8h0M222.2 957.4h0M224.2 954.9h0M227.1 938.8h0M220.7 956.2h0M238.2 952.5h0M223.1 955.8h0M221.9 931.1h0M212.8 960.1h0M221.7 934.6h0M228.1 951.3h0M229.0 938.3h0M226.3 956.3h0M222.9 957.5h0M220.1 963.8h0M225.6 959.8h0M223.6 957.9h0M218.9 945.5h0M230.2 936.7h0M223.0 951.3h0M219.9 946.3h0M214.1 957.8h0M242.1 953.1h0M227.2 954.4h0M222.7 941.5h0M221.9 958.1h0M227.6 927.0h0M220.3 961.6h0M216.8 964.1h0M224.3 951.0h0M224.9 932.5h0M229.2 942.2h0M233.8 959.9h0M222.8 950.5h0M220.1 962.9h0M226.1 937.4h0M229.8 944.9h0M222.5 964.6h0M213.5 958.3h0M216.4 956.7h0M219.4 957.3h0M215.3 967.0h0M222.0 936.4h0M221.1 961.2h0M235.7 944.2h0M229.4 959.0h0M230.2 955.7h0M227.1 935.3h0M225.1 961.2h0M219.4 956.7h0M217.7 961.6h0M219.1 958.0h0M223.1 946.9h0M226.4 952.0h0M209.8 960.4h0M228.0 950.2h0M225.9 948.6h0M224.5 959.8h0M224.1 962.6h0M225.6 954.3h0M227.8 955.7h0M237.5 958.2h0M224.8 936.2h0M227.7 950.8h0M219.2 964.5h0M224.7 956.3h0M225.3 959.4h0M215.1 963.0h0M226.5 953.6h0M224.6 959.4h0M220.4 953.8h0M219.6 938.9h0M230.1 943.9h0M234.9 959.4h0M220.9 964.0h0M213.4 957.3h0M214.5 955.6h0M220.1 950.1h0M227.8 949.3h0M215.6 962.0h0M222.0 958.1h0M225.6 954.0h0M215.4 961.5h0M223.8 963.5h0M223.1 955.6h0M215.6 959.6h0M225.3 932.8h0M215.7 949.4h0M217.7 949.0h0M217.1 965.4h0M236.8 959.6h0M230.4 930.8h0M223.8 957.3h0M221.7 937.4h0M221.8 962.8h0M223.3 946.0h0M228.9 963.5h0M225.9 929.9h0M225.8 950.3h0M217.2 963.0h0M221.3 957.8h0M210.1 950.0h0M225.1 931.8h0M216.8 964.1h0M217.1 965.6h0M231.3 963.9h0M222.6 959.0h0M222.2 948.0h0M226.0 950.9h0M213.7 965.4h0M218.7 953.2h0M216.1 954.6h0M234.6 928.5h0M219.4 963.6h0M223.9 959.6h0M236.1 945.6h0M241.2 957.3h0M219.6 956.5h0M226.1 955.9h0M226.8 957.1h0M217.7 967.4h0M222.0 951.9h0M222.8 958.6h0M227.3 964.4h0M225.5 951.6h0M237.3 940.0h0M226.0 960.6h0M220.1 958.8h0M240.1 935.1h0M224.0 960.8h0M229.3 943.0h0M215.3 964.3h0M227.8 937.8h0M232.6 940.1h0M228.5 939.0h0M225.7 954.1h0M215.9 958.5h0M222.1 963.6h0M216.8 954.3h0M214.6 962.0h0M222.2 963.2h0M226.6 959.0h0M226.0 956.8h0M216.6 954.9h0M222.0 967.0h0M224.5 959.3h0M220.7 948.5h0M222.3 955.9h0M226.1 946.8h0M222.5 957.1h0M216.1 960.7h0M222.9 959.4h0M220.3 964.2h0M227.5 937.0h0M227.7 948.1h0M228.0 961.0h0M226.4 945.5h0M221.3 937.0h0M229.7 936.1h0M218.2 954.2h0M213.2 962.7h0M227.2 948.7h0M221.0 956.9h0" stroke="#2f4db5"/><path d="M218.0 963.9h0M235.2 934.3h0M222.0 950.5h0M225.8 951.4h0M215.9 956.3h0M220.1 957.9h0M224.0 948.5h0M217.0 964.4h0M227.8 933.9h0M223.6 961.2h0M214.1 956.4h0M219.5 962.3h0M220.7 963.8h0M211.8 964.2h0M221.9 958.1h0M219.8 963.7h0M216.8 967.5h0M219.2 969.3h0M222.6 966.3h0M215.3 965.1h0M231.7 951.4h0M224.9 962.5h0M214.4 959.8h0M211.4 958.0h0M235.1 937.9h0M229.2 961.3h0M224.5 960.0h0M232.3 930.6h0M218.3 951.9h0M228.1 946.6h0M216.4 959.4h0M218.4 957.4h0M219.1 948.7h0M234.2 954.3h0M220.0 958.4h0M212.6 965.0h0M221.7 956.1h0M216.8 956.8h0M215.9 961.2h0M214.3 943.9h0M226.1 934.8h0M229.8 957.3h0M212.9 959.7h0M228.6 942.0h0M220.3 960.5h0M220.3 942.8h0M218.0 964.8h0M228.1 941.1h0M231.8 929.0h0M227.7 944.5h0M219.7 957.0h0M226.4 963.2h0M219.5 955.4h0M222.0 939.8h0M229.6 945.4h0M222.5 933.5h0M218.5 961.7h0M216.7 963.5h0M216.6 958.6h0M232.4 941.8h0M225.3 954.8h0M219.6 955.7h0M223.5 960.5h0M225.8 936.8h0M221.0 966.6h0M233.4 955.4h0M217.7 959.8h0M219.2 952.7h0M220.0 964.3h0M223.1 939.1h0M224.0 954.2h0M222.7 947.6h0M228.7 955.7h0M219.4 950.0h0M213.3 968.3h0M217.7 962.7h0M214.2 961.6h0M220.9 950.0h0M228.4 936.4h0M217.3 960.6h0M228.0 930.8h0M223.1 956.6h0M221.5 951.5h0M228.8 943.3h0M214.3 953.0h0M217.7 956.3h0M218.9 962.2h0M218.8 964.1h0M219.8 958.6h0M228.9 940.4h0M222.7 960.8h0M224.0 945.9h0M225.6 959.2h0M219.8 959.0h0M225.1 941.4h0M222.2 956.3h0M223.4 958.3h0M224.3 949.7h0M224.7 951.9h0M218.5 952.2h0M211.2 966.6h0M227.2 948.1h0M227.7 951.6h0M216.7 959.1h0M222.7 960.3h0M215.4 959.8h0M220.8 956.6h0M220.6 964.5h0M223.6 946.3h0M217.4 958.4h0M222.8 961.1h0M218.2 964.1h0M218.3 949.4h0M221.1 958.9h0M230.8 952.7h0M218.2 961.6h0M223.7 955.1h0M216.1 966.4h0M216.4 963.1h0M229.0 942.5h0M222.5 958.6h0M226.7 941.0h0M241.1 957.3h0M219.1 955.4h0M216.8 963.3h0M224.3 956.4h0M222.9 958.6h0M222.5 947.4h0M219.2 962.5h0M227.4 947.1h0M229.2 930.4h0M221.2 943.8h0M222.6 956.7h0M215.1 960.0h0M218.3 964.4h0M218.6 957.9h0M217.3 956.5h0M220.1 964.6h0M221.2 939.5h0M222.6 942.6h0M218.6 945.0h0M220.0 956.0h0M222.8 953.1h0M219.2 962.0h0M218.2 954.8h0M216.7 963.1h0M223.4 954.5h0M217.2 960.6h0M226.1 950.2h0M220.3 943.1h0M233.5 930.3h0M217.1 965.5h0M210.4 957.9h0M225.9 937.7h0M225.5 964.0h0M226.9 946.7h0M227.6 959.4h0M224.7 949.8h0M226.4 958.7h0M217.3 967.1h0M228.0 943.2h0M224.1 953.5h0M223.0 959.3h0M219.4 960.8h0M223.1 961.5h0M217.4 960.7h0M234.0 940.4h0M220.3 962.7h0M219.8 941.4h0M222.4 944.4h0M216.6 956.0h0M225.0 951.9h0M226.4 954.7h0M215.7 959.0h0M221.1 960.9h0M222.8 938.8h0M220.2 960.7h0M219.0 962.7h0M220.6 961.4h0M218.8 962.7h0M222.8 957.4h0M225.0 940.1h0M216.3 955.7h0M215.7 964.3h0M224.9 960.7h0M225.4 939.2h0M217.4 962.8h0M213.8 959.0h0M219.9 954.9h0M216.2 956.4h0M230.7 945.5h0M222.5 943.1h0M222.0 958.9h0M216.2 958.8h0M232.1 931.6h0M223.9 961.2h0M213.0 967.3h0M221.9 958.6h0M217.5 956.3h0M232.0 942.8h0M226.4 965.8h0M220.2 958.2h0M218.4 954.2h0M217.6 949.2h0M227.4 960.8h0M223.9 943.3h0M237.9 951.9h0M222.3 961.8h0M220.0 938.8h0M229.2 933.0h0M214.9 962.4h0M227.4 964.1h0M227.3 943.3h0M218.5 955.8h0M220.3 938.3h0M226.3 958.6h0M222.0 962.9h0M221.9 963.8h0M226.6 951.9h0M218.0 954.6h0M214.4 958.2h0M219.7 957.2h0M223.5 956.5h0M223.5 958.1h0M227.5 941.7h0M227.1 960.4h0M218.9 962.7h0M224.8 946.1h0M221.1 958.0h0M220.2 951.9h0M210.7 956.1h0M214.1 959.6h0M220.7 962.4h0M214.3 960.6h0M221.7 963.7h0M223.8 958.2h0M222.5 958.8h0M220.1 957.3h0M221.5 956.8h0M221.8 963.7h0M221.9 956.7h0M221.6 964.0h0M224.5 959.4h0M226.3 960.1h0M224.3 965.4h0M223.8 949.3h0M229.1 963.7h0M215.3 958.8h0M224.8 952.6h0M205.8 961.9h0M221.6 958.6h0M232.7 955.4h0M221.8 959.1h0M233.3 935.0h0M228.5 933.8h0M236.0 937.0h0M223.8 957.6h0M221.7 954.5h0M226.6 945.4h0M227.1 959.8h0M211.2 959.7h0M227.9 944.3h0M223.7 957.0h0M228.3 954.2h0M232.7 960.1h0M226.2 957.9h0M213.3 960.7h0M223.6 960.4h0M223.5 945.0h0M223.5 953.5h0M215.4 957.1h0M231.7 960.4h0M216.5 963.7h0M216.4 955.7h0" stroke="#6a88d8"/><path d="M229.6 950.4h0M228.7 946.2h0M234.3 953.3h0M220.9 957.9h0M227.3 948.9h0M231.8 954.4h0M223.3 951.2h0M222.7 958.8h0M230.3 945.4h0M224.1 933.2h0M225.5 950.6h0M220.0 955.5h0M217.3 965.0h0M223.9 963.0h0M219.5 958.8h0M229.0 935.3h0M229.9 934.9h0M223.5 950.5h0M222.6 956.6h0M213.2 960.5h0M228.6 935.6h0M224.1 962.9h0M220.6 962.8h0M225.1 961.0h0M226.2 943.5h0M229.8 946.7h0M217.6 957.2h0M216.7 952.8h0M221.5 954.2h0M219.3 965.4h0M223.5 957.0h0M221.3 949.6h0M225.3 933.9h0M223.8 953.3h0M218.2 955.9h0M225.1 948.3h0M220.4 947.4h0M218.4 959.5h0M218.1 963.8h0M214.4 955.5h0M221.8 941.6h0M216.8 958.6h0M222.4 939.8h0M223.6 958.5h0M226.8 935.3h0M228.7 939.5h0M219.1 947.8h0M220.8 953.5h0M227.4 957.8h0M221.0 957.6h0M221.3 953.0h0M224.6 947.2h0M218.6 969.5h0M222.2 962.5h0M231.1 962.7h0M221.0 956.6h0M227.0 950.8h0M216.3 961.9h0M244.0 930.7h0M229.7 936.0h0M233.7 937.7h0M231.2 959.7h0M226.1 947.2h0M212.6 964.3h0M217.5 957.8h0M219.9 960.0h0M213.0 956.5h0M216.0 953.7h0M227.3 962.9h0M230.2 953.5h0M231.4 958.2h0M222.4 966.1h0M222.5 943.8h0M213.1 959.6h0M223.9 962.0h0M224.2 960.0h0M209.2 962.3h0M213.8 955.6h0M222.6 955.3h0M216.4 949.2h0M218.7 953.1h0M218.6 958.5h0M227.6 931.0h0M218.1 957.6h0M225.0 940.5h0M230.2 928.9h0M215.4 961.6h0M221.1 929.8h0M228.7 930.4h0M215.4 958.3h0M221.2 947.8h0M228.7 962.9h0M229.3 940.0h0M222.7 939.2h0M223.8 941.6h0M223.2 952.5h0M218.8 944.3h0M221.8 934.7h0M225.5 933.1h0M214.0 959.3h0M219.1 954.7h0M223.5 962.0h0M230.8 949.7h0M215.5 963.2h0M211.8 962.2h0M219.4 943.4h0M227.3 939.8h0M229.4 932.5h0M234.9 932.2h0M213.0 955.6h0M223.4 949.2h0M222.4 958.4h0M214.8 955.9h0M223.0 963.7h0M222.0 964.8h0M221.5 957.8h0M215.6 959.8h0M230.0 945.4h0M215.9 953.5h0M228.2 954.2h0M222.5 963.0h0M225.1 949.5h0M226.1 958.7h0M221.8 954.0h0M231.1 952.6h0M223.4 954.2h0M225.4 962.7h0M224.7 952.0h0M225.8 961.8h0M224.7 940.2h0M215.1 960.3h0M218.4 964.5h0M222.8 947.7h0M217.4 962.9h0M222.3 949.0h0M221.1 943.4h0M212.0 962.2h0M223.4 958.7h0M226.4 954.2h0M236.6 941.8h0M219.5 952.9h0M220.6 956.8h0M219.7 953.7h0M221.5 942.2h0M218.8 956.7h0M232.7 942.6h0M223.9 959.9h0M218.0 957.8h0M235.1 940.4h0M223.0 943.0h0M215.8 960.5h0M221.3 953.4h0M216.0 956.5h0M224.8 942.5h0M216.9 956.4h0M217.9 956.6h0M217.8 958.2h0M214.9 947.8h0M225.1 957.8h0M223.2 958.3h0M226.6 951.7h0M221.6 943.3h0M214.9 960.1h0M218.3 961.4h0M221.9 951.7h0M220.4 935.7h0M236.3 944.4h0M226.0 942.8h0M226.1 937.9h0M213.0 957.2h0M233.8 953.4h0M233.4 934.0h0M226.0 953.4h0M221.4 953.9h0M224.0 962.3h0M221.5 953.3h0M225.5 940.6h0M232.1 953.4h0M223.7 958.4h0M223.8 933.3h0M214.9 962.4h0M217.9 953.9h0M225.6 950.2h0M223.8 961.1h0M219.4 963.2h0M223.7 954.5h0M227.6 965.4h0M224.3 939.6h0M219.1 967.2h0M222.2 946.4h0M220.9 965.7h0M221.2 949.6h0M213.8 958.5h0M224.7 945.5h0M220.2 963.6h0M221.5 962.4h0M218.9 936.2h0M213.4 954.6h0M219.7 967.4h0M224.3 939.0h0M224.2 956.1h0M225.0 956.5h0M221.4 965.6h0M228.7 952.4h0M225.3 933.9h0M217.1 957.7h0M224.2 950.1h0M225.0 948.0h0M223.4 947.6h0M227.8 958.9h0M227.7 944.8h0M217.0 964.8h0M212.8 956.7h0M221.9 955.7h0M222.1 955.2h0M215.8 961.9h0M228.4 948.3h0M219.1 956.0h0M221.7 957.5h0M230.2 957.7h0M219.3 944.7h0M216.3 953.5h0M234.0 931.2h0M236.5 924.5h0M229.8 937.5h0M222.9 941.3h0M215.2 962.3h0M213.2 959.4h0M216.1 964.1h0M219.6 931.0h0M214.9 952.4h0M226.1 945.5h0M215.9 955.0h0M226.5 950.1h0M229.6 949.4h0M222.4 962.5h0M229.1 954.6h0M232.0 933.2h0M219.7 956.6h0M235.2 953.4h0M211.0 964.0h0M222.8 943.7h0M232.0 951.2h0M234.8 960.4h0M219.6 955.6h0M230.1 947.0h0M224.3 942.9h0M218.2 956.5h0M222.3 947.1h0M230.2 963.4h0M239.8 958.7h0M219.2 962.1h0M222.0 957.2h0M214.5 968.0h0M213.3 953.2h0M219.5 957.5h0M218.8 954.9h0M226.8 947.1h0M222.6 958.0h0M226.9 959.4h0M225.4 933.8h0M222.9 954.0h0M216.7 959.1h0M226.2 958.3h0M220.7 959.4h0M224.2 961.0h0M223.7 934.7h0M224.5 955.1h0" stroke="#5a7ad0"/><path d="M218.2 960.2h0M218.4 961.2h0M220.2 960.4h0M218.2 961.3h0M218.4 960.3h0M219.0 960.1h0M218.8 959.4h0M219.2 961.7h0M220.7 961.1h0M219.4 961.3h0M219.5 960.7h0M219.8 961.7h0M219.9 961.5h0M220.1 959.3h0M218.6 961.0h0" stroke="#c8dc40"/><path d="M219.2 959.6h0M218.0 960.2h0M217.7 960.3h0M220.4 961.3h0M220.3 959.7h0M219.6 961.8h0M220.8 959.7h0M220.3 959.6h0M221.1 959.9h0M219.2 959.7h0M219.1 959.7h0M218.1 960.6h0M220.0 960.4h0" stroke="#e0d838"/><path d="M219.8 959.9h0M221.4 960.5h0M221.0 960.4h0M219.8 959.5h0M218.9 961.4h0M219.1 961.3h0M220.5 960.3h0M218.9 961.2h0M219.7 959.5h0M217.7 960.1h0M220.4 960.6h0M219.4 959.7h0M220.3 959.7h0M220.8 961.4h0M218.6 959.2h0M217.9 961.2h0" stroke="#88d050"/><path d="M219.7 958.1h0M222.3 960.4h0M219.4 958.9h0M219.8 961.0h0M217.4 961.1h0M217.6 962.3h0M219.1 962.0h0M220.7 962.5h0M219.0 962.7h0M217.5 960.7h0M221.7 960.7h0M222.6 960.8h0M220.7 960.6h0M221.8 961.4h0M220.4 962.9h0M222.4 959.8h0M218.9 962.3h0" stroke="#3aa0a8"/><path d="M219.1 961.9h0M219.7 959.2h0M219.1 960.6h0M218.5 959.5h0M221.3 960.0h0M219.3 961.6h0M218.6 961.6h0M219.6 959.1h0M221.3 961.0h0M217.8 959.8h0M219.4 959.9h0M219.6 961.1h0M218.9 960.9h0M219.5 960.7h0M217.8 960.5h0M220.2 959.5h0M220.7 959.9h0" stroke="#a8d848"/><path d="M218.1 962.2h0M217.5 961.0h0M217.6 959.7h0M217.2 962.0h0M220.5 962.5h0M221.7 962.2h0M219.8 962.4h0M216.7 960.8h0M221.1 962.0h0M218.0 962.1h0M222.5 960.8h0M217.0 960.3h0M218.4 958.9h0M219.3 962.7h0M220.6 958.8h0" stroke="#58c070"/><path d="M220.3 958.8h0M221.5 959.6h0M220.9 962.5h0M217.0 962.0h0M216.9 959.5h0M216.6 959.7h0M222.4 961.6h0M220.2 958.4h0M221.6 960.8h0M221.0 960.5h0M222.1 960.4h0M218.8 962.0h0M219.8 958.9h0M217.2 961.1h0" stroke="#48b090"/><path d="M220.5 962.9h0M220.5 962.5h0M221.2 958.7h0M217.1 959.1h0M221.6 959.2h0M216.6 959.7h0M222.3 959.4h0M220.7 962.2h0M221.9 958.9h0M219.2 959.2h0M217.7 959.5h0M217.0 962.0h0M221.0 961.8h0M221.5 959.5h0M222.8 960.5h0M220.0 962.1h0" stroke="#78c858"/></g>
<g opacity="0.8" stroke-width="0.7" stroke-linecap="square" fill="none"><path d="M245.7 941.2h0M237.8 958.9h0M244.5 960.8h0M239.6 943.1h0" stroke="#9ab0e6"/><path d="M239.2 958.8h0M235.3 943.5h0M235.2 946.0h0M237.5 959.6h0" stroke="#8aa2e0"/><path d="M237.7 960.2h0M245.8 957.6h0M245.5 949.7h0M232.5 948.5h0" stroke="#6a88d8"/></g>
<rect x="204.1" y="874.4" width="97" height="97.2" fill="none" stroke="#9a9a9a" stroke-width="1"/>
<line x1="204.1" y1="873.9" x2="204.1" y2="972.1" stroke="#8a8a8a" stroke-width="1.1"/>
<line x1="203.6" y1="971.6" x2="301.6" y2="971.6" stroke="#8a8a8a" stroke-width="1.1"/>
<line x1="201.9" y1="971.6" x2="204.1" y2="971.6" stroke="#444" stroke-width="0.8"/>
<line x1="202.7" y1="961.88" x2="204.1" y2="961.88" stroke="#444" stroke-width="0.8"/>
<line x1="202.7" y1="952.16" x2="204.1" y2="952.16" stroke="#444" stroke-width="0.8"/>
<line x1="202.7" y1="942.44" x2="204.1" y2="942.44" stroke="#444" stroke-width="0.8"/>
<line x1="202.7" y1="932.72" x2="204.1" y2="932.72" stroke="#444" stroke-width="0.8"/>
<line x1="201.9" y1="923" x2="204.1" y2="923" stroke="#444" stroke-width="0.8"/>
<line x1="202.7" y1="913.28" x2="204.1" y2="913.28" stroke="#444" stroke-width="0.8"/>
<line x1="202.7" y1="903.56" x2="204.1" y2="903.56" stroke="#444" stroke-width="0.8"/>
<line x1="202.7" y1="893.84" x2="204.1" y2="893.84" stroke="#444" stroke-width="0.8"/>
<line x1="202.7" y1="884.12" x2="204.1" y2="884.12" stroke="#444" stroke-width="0.8"/>
<line x1="201.9" y1="874.4" x2="204.1" y2="874.4" stroke="#444" stroke-width="0.8"/>
<line x1="209.94" y1="969.8" x2="209.94" y2="971.6" stroke="#333" stroke-width="0.7"/>
<line x1="213.36" y1="969.8" x2="213.36" y2="971.6" stroke="#333" stroke-width="0.7"/>
<line x1="215.78" y1="969.8" x2="215.78" y2="971.6" stroke="#333" stroke-width="0.7"/>
<line x1="217.66" y1="969.8" x2="217.66" y2="971.6" stroke="#333" stroke-width="0.7"/>
<line x1="219.2" y1="969.8" x2="219.2" y2="971.6" stroke="#333" stroke-width="0.7"/>
<line x1="220.49" y1="969.8" x2="220.49" y2="971.6" stroke="#333" stroke-width="0.7"/>
<line x1="221.62" y1="969.8" x2="221.62" y2="971.6" stroke="#333" stroke-width="0.7"/>
<line x1="222.61" y1="969.8" x2="222.61" y2="971.6" stroke="#333" stroke-width="0.7"/>
<line x1="229.34" y1="969.8" x2="229.34" y2="971.6" stroke="#333" stroke-width="0.7"/>
<line x1="232.76" y1="969.8" x2="232.76" y2="971.6" stroke="#333" stroke-width="0.7"/>
<line x1="235.18" y1="969.8" x2="235.18" y2="971.6" stroke="#333" stroke-width="0.7"/>
<line x1="237.06" y1="969.8" x2="237.06" y2="971.6" stroke="#333" stroke-width="0.7"/>
<line x1="238.6" y1="969.8" x2="238.6" y2="971.6" stroke="#333" stroke-width="0.7"/>
<line x1="239.89" y1="969.8" x2="239.89" y2="971.6" stroke="#333" stroke-width="0.7"/>
<line x1="241.02" y1="969.8" x2="241.02" y2="971.6" stroke="#333" stroke-width="0.7"/>
<line x1="242.01" y1="969.8" x2="242.01" y2="971.6" stroke="#333" stroke-width="0.7"/>
<line x1="248.74" y1="969.8" x2="248.74" y2="971.6" stroke="#333" stroke-width="0.7"/>
<line x1="252.16" y1="969.8" x2="252.16" y2="971.6" stroke="#333" stroke-width="0.7"/>
<line x1="254.58" y1="969.8" x2="254.58" y2="971.6" stroke="#333" stroke-width="0.7"/>
<line x1="256.46" y1="969.8" x2="256.46" y2="971.6" stroke="#333" stroke-width="0.7"/>
<line x1="258" y1="969.8" x2="258" y2="971.6" stroke="#333" stroke-width="0.7"/>
<line x1="259.29" y1="969.8" x2="259.29" y2="971.6" stroke="#333" stroke-width="0.7"/>
<line x1="260.42" y1="969.8" x2="260.42" y2="971.6" stroke="#333" stroke-width="0.7"/>
<line x1="261.41" y1="969.8" x2="261.41" y2="971.6" stroke="#333" stroke-width="0.7"/>
<line x1="268.14" y1="969.8" x2="268.14" y2="971.6" stroke="#333" stroke-width="0.7"/>
<line x1="271.56" y1="969.8" x2="271.56" y2="971.6" stroke="#333" stroke-width="0.7"/>
<line x1="273.98" y1="969.8" x2="273.98" y2="971.6" stroke="#333" stroke-width="0.7"/>
<line x1="275.86" y1="969.8" x2="275.86" y2="971.6" stroke="#333" stroke-width="0.7"/>
<line x1="277.4" y1="969.8" x2="277.4" y2="971.6" stroke="#333" stroke-width="0.7"/>
<line x1="278.69" y1="969.8" x2="278.69" y2="971.6" stroke="#333" stroke-width="0.7"/>
<line x1="279.82" y1="969.8" x2="279.82" y2="971.6" stroke="#333" stroke-width="0.7"/>
<line x1="280.81" y1="969.8" x2="280.81" y2="971.6" stroke="#333" stroke-width="0.7"/>
<line x1="287.54" y1="969.8" x2="287.54" y2="971.6" stroke="#333" stroke-width="0.7"/>
<line x1="290.96" y1="969.8" x2="290.96" y2="971.6" stroke="#333" stroke-width="0.7"/>
<line x1="293.38" y1="969.8" x2="293.38" y2="971.6" stroke="#333" stroke-width="0.7"/>
<line x1="295.26" y1="969.8" x2="295.26" y2="971.6" stroke="#333" stroke-width="0.7"/>
<line x1="296.8" y1="969.8" x2="296.8" y2="971.6" stroke="#333" stroke-width="0.7"/>
<line x1="298.09" y1="969.8" x2="298.09" y2="971.6" stroke="#333" stroke-width="0.7"/>
<line x1="299.22" y1="969.8" x2="299.22" y2="971.6" stroke="#333" stroke-width="0.7"/>
<line x1="300.21" y1="969.8" x2="300.21" y2="971.6" stroke="#333" stroke-width="0.7"/>
<line x1="204.1" y1="971.6" x2="204.1" y2="973.6" stroke="#333" stroke-width="0.8"/>
<text x="204.7" y="983.7" font-size="9.8" text-anchor="end" fill="#1a1a1a" textLength="9.6" lengthAdjust="spacingAndGlyphs">10</text>
<text x="205" y="979.7" font-size="5.4">2</text>
<line x1="223.5" y1="971.6" x2="223.5" y2="973.6" stroke="#333" stroke-width="0.8"/>
<text x="224.1" y="983.7" font-size="9.8" text-anchor="end" fill="#1a1a1a" textLength="9.6" lengthAdjust="spacingAndGlyphs">10</text>
<text x="224.4" y="979.7" font-size="5.4">3</text>
<line x1="242.9" y1="971.6" x2="242.9" y2="973.6" stroke="#333" stroke-width="0.8"/>
<text x="243.5" y="983.7" font-size="9.8" text-anchor="end" fill="#1a1a1a" textLength="9.6" lengthAdjust="spacingAndGlyphs">10</text>
<text x="243.8" y="979.7" font-size="5.4">4</text>
<line x1="262.3" y1="971.6" x2="262.3" y2="973.6" stroke="#333" stroke-width="0.8"/>
<text x="262.9" y="983.7" font-size="9.8" text-anchor="end" fill="#1a1a1a" textLength="9.6" lengthAdjust="spacingAndGlyphs">10</text>
<text x="263.2" y="979.7" font-size="5.4">5</text>
<line x1="281.7" y1="971.6" x2="281.7" y2="973.6" stroke="#333" stroke-width="0.8"/>
<text x="282.3" y="983.7" font-size="9.8" text-anchor="end" fill="#1a1a1a" textLength="9.6" lengthAdjust="spacingAndGlyphs">10</text>
<text x="282.6" y="979.7" font-size="5.4">6</text>
<line x1="301.1" y1="971.6" x2="301.1" y2="973.6" stroke="#333" stroke-width="0.8"/>
<text x="301.7" y="983.7" font-size="9.8" text-anchor="end" fill="#1a1a1a" textLength="9.6" lengthAdjust="spacingAndGlyphs">10</text>
<text x="302" y="979.7" font-size="5.4">7</text>
<text x="201.6" y="872.1" font-size="10" text-anchor="middle" textLength="15.6" lengthAdjust="spacingAndGlyphs" transform="rotate(-90 201.6 872.1)">100</text>
<text x="201.6" y="923" font-size="10" text-anchor="middle" textLength="10.4" lengthAdjust="spacingAndGlyphs" transform="rotate(-90 201.6 923)">50</text>
<text x="201.6" y="971.6" font-size="10" text-anchor="middle" textLength="5.2" lengthAdjust="spacingAndGlyphs" transform="rotate(-90 201.6 971.6)">0</text>
<text x="228.8" y="994.8" font-size="9" textLength="45.5" lengthAdjust="spacingAndGlyphs">PE-CD163</text>
<rect x="225.2" y="885.7" width="46.5" height="83.3" fill="none" stroke="#4a4a4a" stroke-width="0.95"/>
<text x="212" y="870" font-size="9" textLength="83.3" lengthAdjust="spacingAndGlyphs">miR-708-5p mimics</text>
<text x="259.8" y="883.1" font-size="9.2" textLength="38.9" lengthAdjust="spacingAndGlyphs">(20.37%)</text>
<text x="187.2" y="920.2" font-size="8.6" text-anchor="middle" textLength="24.7" lengthAdjust="spacingAndGlyphs" transform="rotate(-90 187.2 920.2)">SSC-A</text>
<text x="187.8" y="856.2" font-size="7.8" text-anchor="middle" letter-spacing="0.35" transform="rotate(-90 187.8 856.2)">(x 10<tspan font-size="6.6" dy="-4.6">4</tspan><tspan dy="4.6">)</tspan></text>
<g opacity="0.85" stroke-width="0.7" stroke-linecap="square" fill="none"><path d="M363.4 952.8h0M363.9 963.2h0M364.5 961.2h0M363.8 960.5h0M357.3 961.3h0M362.9 954.9h0M356.9 955.0h0M369.3 962.2h0M365.2 960.0h0M359.4 956.8h0M364.1 958.5h0M357.6 962.3h0M353.0 961.5h0M350.6 962.1h0M368.8 963.1h0M360.9 965.4h0M360.3 960.4h0M356.7 961.8h0M362.8 962.4h0M354.1 963.9h0M355.4 962.9h0M357.8 949.5h0M364.4 958.7h0M364.7 952.8h0M357.5 965.6h0M372.9 947.5h0M367.4 960.4h0M357.9 964.2h0M362.9 965.6h0M362.3 957.8h0M370.2 959.9h0M359.3 966.1h0M363.3 955.4h0M364.8 959.0h0M351.8 957.2h0M352.6 959.7h0M361.5 958.1h0M365.8 944.5h0M359.1 962.9h0M363.9 958.1h0M359.6 961.5h0M353.2 963.5h0M365.2 957.6h0M362.4 949.3h0M363.7 949.1h0M362.3 965.1h0M360.0 968.5h0M364.1 955.0h0M354.7 960.4h0M365.8 960.0h0M355.8 964.4h0M362.5 949.6h0M368.9 960.5h0M363.0 954.9h0M355.5 947.2h0M359.5 959.3h0M361.3 964.8h0M360.1 956.5h0M362.5 966.7h0M355.0 962.3h0M359.5 952.5h0M363.4 962.7h0M362.1 953.2h0M364.4 953.2h0M369.4 966.5h0M369.1 949.7h0M359.0 965.0h0M352.0 961.5h0M365.1 951.9h0M357.8 966.7h0M359.8 965.4h0M350.8 965.6h0M363.6 955.8h0M362.2 961.7h0M356.7 951.9h0M364.3 959.0h0M360.4 957.3h0M362.0 967.9h0M363.9 957.5h0M356.1 959.9h0M363.1 959.9h0M362.3 962.2h0M360.0 951.3h0M363.7 957.7h0M364.3 959.3h0M367.2 946.3h0M354.8 961.3h0M363.0 954.5h0M355.6 961.7h0M367.4 951.1h0M356.8 955.5h0M356.7 958.1h0M354.5 964.6h0M363.1 964.1h0M351.6 965.1h0M357.1 964.7h0M363.1 954.4h0M362.4 956.2h0M355.8 959.7h0M358.3 967.3h0M356.0 967.4h0M363.3 959.4h0M357.4 953.2h0M368.3 960.3h0M363.6 957.3h0M367.2 960.1h0M362.9 958.9h0M358.1 951.3h0M360.9 966.9h0M363.1 965.5h0M368.7 955.0h0M362.9 962.1h0M364.6 948.0h0M367.2 943.8h0M367.8 952.3h0M363.0 958.8h0M353.5 965.8h0M364.4 955.1h0M381.4 954.7h0M357.1 954.7h0M354.6 965.3h0M364.5 960.8h0M358.0 964.1h0M368.2 959.6h0M362.2 951.1h0M365.9 959.5h0M356.7 965.9h0M362.3 962.7h0M363.0 960.9h0M362.7 944.1h0M369.0 951.5h0M354.3 964.6h0M359.0 959.3h0M365.3 960.9h0M354.5 965.8h0M366.4 954.9h0M367.1 959.4h0M352.9 965.8h0M363.0 957.2h0M364.4 955.2h0M356.7 959.4h0M372.0 959.4h0M364.3 949.7h0M363.0 962.4h0M361.9 965.4h0M368.5 944.1h0M359.9 968.0h0M359.5 954.0h0M371.3 966.6h0M357.8 962.0h0M370.7 952.7h0M356.8 962.1h0M360.7 956.2h0M360.9 960.3h0M359.4 954.1h0M351.3 964.8h0M367.9 961.0h0M362.3 960.2h0M349.8 966.9h0M356.5 952.2h0M366.6 954.5h0M368.9 957.1h0M356.0 949.2h0M368.0 965.8h0M356.7 965.2h0M363.9 950.4h0M361.4 964.8h0M354.2 955.6h0M371.5 959.3h0M358.8 952.8h0M363.3 961.0h0M367.9 942.9h0M362.8 959.3h0M363.3 958.9h0M358.5 952.5h0M366.7 955.5h0M367.8 958.2h0M353.0 963.2h0M365.4 954.1h0M358.9 957.8h0M360.2 964.0h0M357.0 962.8h0M366.2 962.5h0M360.3 963.5h0M359.9 957.8h0M356.8 959.8h0M367.5 948.0h0M357.8 963.0h0M358.8 959.6h0M356.7 966.9h0M361.6 947.8h0M365.7 950.1h0M366.6 958.6h0M352.5 959.6h0M361.1 956.1h0M360.0 948.4h0M363.8 963.6h0M367.6 937.7h0M362.3 946.1h0M363.7 961.7h0M370.3 951.5h0M350.2 959.4h0" stroke="#4a6cc8"/><path d="M358.1 963.9h0M353.8 963.2h0M362.5 960.2h0M363.7 967.5h0M368.3 946.8h0M360.6 951.1h0M354.6 963.3h0M364.5 965.2h0M359.0 965.4h0M355.6 964.5h0M353.9 961.7h0M370.5 963.4h0M354.6 966.7h0M352.1 962.2h0M364.7 959.8h0M364.3 956.0h0M370.9 951.1h0M366.1 947.9h0M360.0 958.7h0M362.4 961.9h0M358.3 964.1h0M352.0 963.5h0M359.5 951.0h0M356.9 963.5h0M363.8 949.0h0M364.6 959.9h0M366.9 959.9h0M363.3 956.2h0M352.6 962.2h0M366.0 951.1h0M356.2 968.6h0M362.5 963.9h0M359.9 960.6h0M362.2 965.2h0M365.2 952.4h0M349.2 961.1h0M360.3 957.3h0M359.6 959.9h0M361.9 965.0h0M366.7 950.4h0M364.6 959.0h0M361.4 961.7h0M356.8 965.9h0M357.4 960.1h0M373.3 944.8h0M367.6 965.1h0M363.9 962.9h0M364.0 958.2h0M356.5 958.6h0M360.4 959.6h0M358.1 942.8h0M355.0 960.7h0M364.1 964.3h0M357.4 964.9h0M359.2 950.4h0M359.4 952.5h0M351.8 958.3h0M356.9 954.1h0M363.4 962.0h0M353.0 957.0h0M368.1 951.7h0M364.7 950.9h0M363.3 948.7h0M360.4 956.2h0M369.7 961.7h0M364.3 960.1h0M358.8 965.0h0M359.4 959.5h0M366.9 962.0h0M354.1 956.4h0M354.5 964.2h0M355.1 966.2h0M363.3 961.5h0M358.4 963.1h0M354.1 961.7h0M363.5 943.5h0M360.0 954.9h0M368.8 959.1h0M368.5 955.2h0M365.4 961.6h0M371.2 964.6h0M358.7 960.4h0M355.9 962.9h0M367.5 964.8h0M364.8 944.4h0M362.4 959.2h0M357.1 964.4h0M363.7 960.3h0M365.9 962.3h0M355.8 953.0h0M362.7 963.7h0M355.2 963.5h0M353.7 960.1h0M351.9 961.8h0M367.9 957.7h0M357.9 953.3h0M363.1 953.0h0M358.4 959.7h0M366.6 941.7h0M363.5 960.7h0M366.3 959.8h0M366.1 959.6h0M355.7 962.3h0M365.3 949.8h0M368.8 959.0h0M355.1 960.6h0M365.4 966.0h0M358.8 958.1h0M365.0 951.8h0M364.7 962.0h0M373.3 947.6h0M364.6 955.4h0M361.6 954.8h0M365.5 957.1h0M360.9 951.6h0M363.0 953.2h0M363.3 936.8h0M368.6 958.9h0M364.8 948.6h0M357.3 961.5h0M361.4 953.2h0M367.2 956.7h0M364.2 955.4h0M368.0 954.5h0M363.8 961.3h0M360.6 952.1h0M362.2 962.4h0M366.9 962.0h0M353.3 965.9h0M365.3 958.1h0M356.8 958.9h0M362.6 960.1h0M360.6 963.5h0M361.1 958.1h0M361.8 960.7h0M364.0 952.1h0M359.8 957.3h0M374.6 956.7h0M360.2 965.5h0M359.3 962.8h0M366.2 947.7h0M364.7 964.3h0M359.9 965.1h0M356.0 961.7h0M370.6 948.0h0M354.8 962.1h0M355.6 968.2h0M368.5 947.1h0M360.5 950.3h0M354.0 966.2h0M365.1 947.2h0M357.5 959.5h0M366.1 954.8h0M361.6 962.3h0M366.3 964.4h0M377.0 958.7h0M362.1 960.2h0M368.5 948.4h0M362.4 956.0h0M353.8 960.6h0M366.6 956.1h0M356.6 957.4h0M362.1 957.9h0M362.1 963.5h0M358.7 958.9h0M364.6 962.9h0M355.1 963.7h0M365.8 954.3h0M360.5 956.2h0M364.3 966.6h0M363.9 948.3h0M370.6 949.9h0M363.4 959.5h0M361.9 966.3h0M356.1 962.3h0M372.1 954.2h0M362.4 945.9h0M361.8 965.5h0M364.6 959.9h0M363.4 955.4h0M364.2 960.3h0M371.5 962.5h0M367.1 959.5h0M366.9 956.9h0M348.7 968.5h0M368.7 947.6h0M359.0 949.5h0M367.2 957.8h0M350.4 962.3h0M371.8 965.4h0M363.8 959.0h0M363.3 959.6h0M361.1 949.1h0M365.9 956.8h0M361.9 945.2h0M363.1 960.3h0M362.1 952.4h0M363.4 964.1h0M363.7 965.4h0M356.6 955.5h0M365.9 964.7h0M372.8 961.1h0M357.0 955.5h0M364.7 953.0h0M358.2 951.3h0M357.9 961.8h0M352.8 954.7h0M353.4 958.8h0M362.1 961.2h0M356.8 967.4h0M361.5 961.6h0M361.5 958.9h0M363.9 964.6h0M363.3 961.8h0M359.7 963.4h0M356.3 962.8h0M368.9 951.2h0M358.2 950.2h0M351.3 959.5h0M352.9 965.0h0M362.4 962.9h0M364.8 962.0h0M359.2 958.4h0M366.0 958.1h0M363.7 959.2h0M359.1 956.3h0M357.2 965.7h0M360.5 950.4h0M369.2 962.1h0M354.6 960.9h0M370.5 943.5h0M366.0 964.1h0" stroke="#2a3fa8"/><path d="M362.5 966.2h0M371.0 944.3h0M361.3 960.1h0M361.5 962.2h0M363.8 965.7h0M356.7 960.8h0M355.9 963.0h0M368.1 967.2h0M363.4 962.6h0M371.1 944.8h0M355.2 963.5h0M363.8 964.3h0M353.4 963.9h0M367.5 963.9h0M367.9 957.2h0M364.6 964.2h0M362.2 955.1h0M353.1 963.7h0M359.0 965.4h0M354.8 959.5h0M362.5 948.4h0M358.4 956.1h0M363.3 961.4h0M357.2 952.6h0M353.7 963.0h0M357.9 965.8h0M352.4 954.0h0M361.9 959.3h0M352.5 954.5h0M357.7 967.3h0M369.3 962.1h0M358.6 961.8h0M369.7 945.8h0M358.3 959.3h0M365.6 963.5h0M350.5 964.1h0M362.1 965.9h0M364.0 957.2h0M371.1 947.2h0M358.6 954.9h0M360.0 949.1h0M352.1 968.1h0M360.8 955.8h0M361.7 949.2h0M352.9 957.4h0M355.0 962.1h0M355.1 947.0h0M360.9 954.6h0M355.1 960.1h0M367.6 958.8h0M356.5 959.3h0M358.9 949.7h0M354.6 963.0h0M358.9 965.5h0M365.6 967.4h0M364.4 958.3h0M364.6 964.2h0M363.2 957.2h0M363.2 945.7h0M363.3 963.3h0M364.0 960.7h0M362.6 952.4h0M371.3 960.3h0M363.8 949.8h0M352.1 959.0h0M364.8 951.6h0M368.5 961.8h0M361.8 959.2h0M360.8 950.6h0M365.7 963.3h0M363.0 954.6h0M369.5 949.8h0M353.0 962.7h0M351.8 961.6h0M368.1 957.4h0M368.7 953.6h0M355.6 961.5h0M367.1 959.1h0M355.3 964.4h0M361.6 967.3h0M357.1 961.7h0M351.9 963.5h0M353.2 964.8h0M358.9 956.2h0M351.3 964.1h0M355.7 959.5h0M363.1 944.5h0M374.4 951.7h0M362.2 959.2h0M368.2 957.5h0M359.8 960.2h0M368.4 959.1h0M364.8 962.3h0M362.4 953.8h0M356.1 964.8h0M360.4 957.8h0M364.3 964.3h0M367.5 965.0h0M355.3 950.4h0M367.0 966.2h0M354.7 967.2h0M361.5 960.9h0M359.1 948.5h0M367.7 963.2h0M361.3 962.5h0M349.5 960.0h0M366.6 950.2h0M358.5 961.4h0M364.9 938.7h0M361.9 952.9h0M365.3 950.0h0M374.1 946.4h0M367.0 954.0h0M364.8 957.3h0M362.8 956.9h0M363.3 958.4h0M361.6 958.7h0M362.5 959.9h0M354.8 960.5h0M360.7 965.2h0M351.7 965.7h0M364.9 959.0h0M365.2 966.9h0M360.1 955.0h0M362.1 945.5h0M362.2 949.9h0M374.9 944.7h0M369.0 945.2h0M363.6 951.6h0M367.0 959.9h0M353.8 964.6h0M373.7 953.4h0M361.1 964.0h0M354.4 961.2h0M365.7 951.4h0M360.1 957.2h0M361.2 959.1h0M365.3 960.1h0M361.8 950.4h0M364.9 951.3h0M355.5 955.2h0M374.2 947.8h0M358.5 965.3h0M359.9 962.9h0M361.6 961.9h0M372.1 963.6h0M364.5 963.7h0M353.6 963.2h0M359.5 958.3h0M364.6 950.4h0M360.4 967.2h0M374.3 961.2h0M358.0 961.1h0M360.7 951.5h0M364.1 942.4h0M368.1 962.9h0M359.7 960.8h0M363.8 963.0h0M363.3 940.1h0M358.1 956.6h0M356.5 949.9h0M359.6 957.1h0M358.1 958.8h0M368.8 960.0h0M362.8 955.6h0M362.8 965.6h0M361.3 957.4h0M360.3 954.6h0M361.5 965.2h0M364.7 958.8h0M362.8 961.2h0M365.8 963.3h0M362.1 953.3h0M354.6 965.1h0M367.8 963.2h0M357.0 966.9h0M361.4 959.7h0M349.7 967.7h0M370.6 954.9h0M351.4 956.9h0M360.3 964.9h0M366.0 951.6h0M372.3 965.6h0M365.3 966.6h0M366.2 958.7h0M362.5 963.3h0M371.1 961.8h0M365.5 961.0h0M354.6 960.4h0M362.6 962.5h0M365.6 964.9h0M358.2 961.8h0M352.5 965.2h0M357.2 957.6h0M360.1 955.3h0M363.4 956.2h0M361.6 960.7h0M356.4 965.6h0M361.2 960.8h0M362.3 962.4h0M354.5 962.5h0M363.6 961.5h0M353.8 957.0h0M365.1 945.8h0M356.1 959.9h0M355.8 960.2h0M359.4 966.1h0M365.4 950.3h0M354.9 960.9h0M362.4 960.5h0M360.5 963.2h0M357.0 951.0h0M363.5 957.5h0M355.7 964.5h0M364.0 955.1h0M351.6 956.2h0M351.0 963.5h0M363.7 962.8h0M352.5 959.1h0M369.3 964.6h0M365.0 950.2h0M365.0 950.2h0M361.7 962.5h0M365.3 961.6h0M358.7 954.1h0M368.8 951.3h0M369.1 955.6h0M356.2 954.8h0M362.5 963.7h0M364.3 943.6h0M364.9 964.9h0M355.2 959.6h0M371.9 957.7h0M358.6 958.1h0M357.9 960.9h0M356.0 964.9h0M365.0 941.2h0M364.6 955.7h0M366.0 955.4h0M356.9 959.4h0" stroke="#5a7ad0"/><path d="M360.4 957.1h0M365.9 953.6h0M367.8 965.4h0M356.7 963.8h0M366.9 961.8h0M354.2 958.9h0M357.1 952.5h0M351.6 960.8h0M362.1 944.5h0M363.0 964.1h0M363.1 956.0h0M363.8 964.5h0M359.4 965.2h0M355.5 954.8h0M369.6 961.5h0M362.5 955.1h0M363.4 957.0h0M362.0 955.3h0M360.7 963.9h0M354.0 960.8h0M364.3 955.7h0M361.7 961.9h0M363.3 955.7h0M360.8 959.1h0M355.4 967.1h0M355.2 959.3h0M362.0 959.5h0M361.6 966.6h0M368.1 955.8h0M358.0 959.8h0M351.7 950.4h0M358.6 955.9h0M362.7 958.6h0M365.8 952.0h0M361.1 967.2h0M368.9 966.8h0M354.7 963.0h0M362.4 961.1h0M359.5 958.2h0M361.4 963.8h0M356.3 952.8h0M358.3 956.7h0M359.8 966.3h0M356.1 951.9h0M361.4 960.7h0M362.9 959.0h0M356.4 962.3h0M359.3 954.7h0M356.0 950.0h0M368.7 957.3h0M365.5 949.2h0M359.2 955.2h0M359.6 955.0h0M368.2 958.2h0M367.3 956.4h0M359.1 964.0h0M359.8 959.8h0M356.3 961.5h0M363.6 962.9h0M366.0 960.6h0M363.2 945.9h0M356.0 958.2h0M367.9 956.9h0M367.8 947.6h0M353.8 962.9h0M365.1 947.9h0M368.0 956.2h0M365.6 952.3h0M363.2 964.5h0M359.3 957.1h0M365.1 957.6h0M361.0 954.5h0M355.1 967.1h0M366.8 961.4h0M368.2 950.1h0M366.8 962.9h0M368.7 961.0h0M360.9 961.2h0M351.6 960.7h0M356.5 959.5h0M357.6 964.9h0M350.1 968.0h0M362.5 952.0h0M363.2 954.1h0M360.6 965.7h0M371.1 949.4h0M356.0 954.7h0M366.2 952.4h0M360.1 947.6h0M366.6 963.3h0M361.4 962.1h0M355.4 965.4h0M352.6 965.2h0M366.9 954.0h0M373.4 961.9h0M369.1 951.1h0M355.3 955.8h0M356.5 964.0h0M355.0 961.5h0M362.4 962.5h0M363.3 950.4h0M369.2 961.0h0M362.5 961.1h0M357.2 964.0h0M367.5 946.6h0M366.6 958.9h0M368.1 962.6h0M362.5 952.9h0M354.8 966.0h0M362.2 949.4h0M362.3 956.7h0M360.3 941.6h0M361.5 958.1h0M359.2 959.0h0M354.8 961.8h0M368.4 964.1h0M368.0 962.3h0M350.2 961.0h0M360.7 952.2h0M353.8 964.6h0M360.2 956.8h0M369.0 954.7h0M353.1 952.0h0M354.7 964.6h0M354.8 960.4h0M362.6 942.9h0M349.7 961.2h0M367.9 953.7h0M362.0 950.3h0M355.5 960.4h0M365.2 957.4h0M364.0 960.1h0M363.7 961.7h0M356.9 956.3h0M357.9 966.5h0M358.2 956.1h0M363.7 964.2h0M354.2 963.9h0M359.6 961.3h0M360.5 952.3h0M354.3 948.3h0M354.4 962.8h0M360.6 958.5h0M364.3 967.3h0M356.0 956.4h0M357.5 961.3h0M356.7 965.0h0M361.0 961.8h0M358.4 965.5h0M361.0 950.9h0M362.9 962.6h0M364.6 946.2h0M353.3 965.2h0M362.4 953.6h0M363.4 953.5h0M353.0 961.2h0M356.5 961.3h0M373.6 955.7h0M358.2 961.6h0M354.2 950.2h0M355.8 957.5h0M367.5 959.6h0M364.6 953.6h0M358.6 964.8h0M364.5 956.3h0M361.3 953.8h0M357.7 958.7h0M361.2 958.5h0M354.7 960.8h0M370.0 953.3h0M355.7 962.0h0M368.4 950.9h0M364.1 962.9h0M367.8 951.4h0M357.8 961.0h0M368.7 960.0h0M363.9 961.8h0M363.0 954.4h0M357.1 968.2h0M362.7 962.4h0M365.0 945.1h0M372.3 952.3h0M358.7 948.9h0M357.0 962.0h0M365.9 960.2h0M362.2 965.8h0M366.1 953.3h0M366.7 961.7h0M353.9 964.4h0M361.9 956.8h0M367.5 962.5h0M362.4 960.3h0M362.8 961.3h0M361.3 964.7h0M358.5 954.2h0M361.8 965.4h0M366.7 961.2h0M369.1 959.8h0M357.1 955.3h0M365.4 962.2h0M359.0 955.7h0M367.4 963.5h0M349.4 959.1h0M366.9 967.5h0M362.1 953.4h0M366.2 955.5h0M366.4 949.6h0M350.9 965.6h0M360.3 943.9h0M366.6 958.5h0M366.5 953.1h0M360.8 951.9h0M356.0 963.3h0M373.3 952.5h0M367.8 954.4h0M359.6 967.4h0M350.6 962.5h0M371.9 939.6h0M361.2 951.4h0M362.7 944.3h0M364.1 960.8h0M358.4 956.7h0M365.9 958.8h0M361.0 955.7h0M364.3 956.0h0M362.0 950.7h0M353.0 958.7h0M366.1 956.0h0M353.7 962.7h0M365.0 951.9h0M369.3 955.7h0M366.3 961.7h0M366.7 947.6h0M358.7 967.6h0M369.2 949.8h0M349.7 963.4h0M363.8 957.4h0M366.5 954.7h0M362.8 961.7h0" stroke="#3a58c0"/><path d="M350.1 966.2h0M362.0 959.7h0M364.3 964.3h0M364.1 959.7h0M364.0 963.4h0M359.6 965.9h0M353.9 960.9h0M360.9 966.1h0M364.1 964.2h0M364.5 951.2h0M368.9 960.5h0M362.4 958.9h0M364.3 962.6h0M365.6 952.3h0M351.7 956.9h0M358.0 959.2h0M364.2 954.5h0M368.1 945.4h0M361.1 962.3h0M363.6 956.6h0M363.4 949.2h0M359.3 948.6h0M361.4 951.9h0M373.2 961.5h0M367.8 951.6h0M355.3 965.4h0M360.3 959.3h0M353.6 962.9h0M365.1 962.6h0M357.5 960.6h0M365.1 953.9h0M359.9 947.2h0M365.8 956.0h0M364.9 952.7h0M366.5 948.9h0M360.4 958.9h0M364.6 958.6h0M361.2 959.3h0M360.8 956.0h0M356.7 963.8h0M356.3 961.2h0M363.1 962.3h0M367.1 950.7h0M354.3 967.0h0M364.0 963.5h0M358.9 961.3h0M364.3 956.3h0M358.6 960.3h0M365.4 951.1h0M366.7 959.0h0M362.9 963.0h0M355.0 965.3h0M359.0 967.1h0M363.9 960.8h0M366.9 955.8h0M364.5 953.4h0M359.6 961.0h0M350.6 958.4h0M359.9 964.1h0M366.5 956.9h0M360.5 960.3h0M367.5 956.4h0M353.2 960.6h0M360.1 965.7h0M349.0 965.4h0M358.4 963.3h0M370.6 953.6h0M361.3 966.5h0M360.3 964.9h0M362.4 965.0h0M363.7 963.3h0M362.9 951.9h0M365.2 952.5h0M366.1 951.9h0M363.1 955.7h0M365.3 966.6h0M364.6 961.6h0M351.4 964.7h0M353.8 962.4h0M361.6 953.5h0M361.2 956.7h0M367.7 967.4h0M370.5 945.9h0M371.4 957.2h0M367.6 959.8h0M361.3 954.2h0M354.7 964.1h0M361.7 949.2h0M366.8 949.6h0M363.5 958.1h0M358.5 963.4h0M365.7 952.3h0M365.7 959.3h0M366.5 948.0h0M361.2 958.3h0M361.7 965.8h0M361.6 965.0h0M361.3 956.0h0M357.9 965.3h0M360.5 966.8h0M363.4 962.6h0M367.0 957.3h0M368.3 961.0h0M355.3 959.0h0M366.3 961.5h0M357.5 963.7h0M359.0 961.9h0M357.1 965.1h0M359.3 961.2h0M351.0 962.2h0M365.4 959.6h0M359.7 955.2h0M365.7 962.4h0M360.6 955.9h0M358.8 961.3h0M359.6 950.8h0M357.8 957.6h0M362.4 968.2h0M353.3 961.5h0M348.9 963.9h0M366.2 950.6h0M359.6 951.8h0M361.4 952.2h0M366.8 964.5h0M352.8 958.7h0M359.6 961.9h0M359.0 954.2h0M359.7 947.1h0M359.9 961.7h0M355.7 960.9h0M361.0 960.4h0M370.9 961.8h0M356.6 950.4h0M364.9 957.8h0M362.5 957.5h0M363.3 956.4h0M354.9 953.8h0M359.8 954.9h0M371.1 967.9h0M365.2 960.4h0M368.7 950.3h0M363.3 953.9h0M357.4 959.7h0M371.3 957.3h0M367.1 958.5h0M363.4 962.2h0M352.4 959.1h0M370.9 962.4h0M361.9 962.3h0M349.6 962.0h0M364.4 961.5h0M362.9 961.6h0M352.3 962.3h0M362.3 961.3h0M364.2 946.8h0M355.9 960.0h0M352.3 963.8h0M352.4 965.5h0M354.5 950.9h0M359.2 960.6h0M352.9 963.8h0M366.9 947.7h0M366.3 962.9h0M357.9 958.6h0M360.5 960.3h0M367.8 961.1h0M363.0 966.0h0M366.6 946.0h0M361.8 965.5h0M367.6 947.7h0M353.5 962.3h0M355.2 943.2h0M353.7 963.1h0M362.8 960.7h0M365.9 954.7h0M362.5 961.5h0M362.2 951.2h0M354.4 967.6h0M371.2 961.9h0M356.4 966.7h0M368.1 958.2h0M367.5 953.0h0M354.6 960.7h0M357.3 956.8h0M363.3 956.4h0M363.3 959.2h0M354.2 965.0h0M360.0 965.6h0M363.4 957.9h0M361.6 966.9h0M355.2 956.6h0M361.9 955.0h0M353.0 962.4h0M355.3 961.7h0M359.0 958.2h0M363.0 956.7h0M367.5 960.9h0M366.3 952.5h0M364.9 951.9h0M360.4 966.4h0M362.6 948.8h0M358.6 958.2h0M359.4 960.5h0M365.3 963.0h0M355.2 967.2h0M358.3 964.4h0M361.0 965.1h0M359.7 951.3h0M365.6 948.8h0M371.0 959.0h0M364.2 961.0h0M355.3 965.1h0M360.2 959.9h0M367.3 951.8h0M363.0 949.5h0M352.9 958.0h0M354.5 957.1h0M362.9 951.4h0M362.0 961.1h0M349.0 960.1h0M359.8 961.1h0M361.3 943.7h0M358.3 958.9h0" stroke="#6a88d8"/><path d="M363.2 946.9h0M353.4 959.2h0M372.4 958.7h0M364.1 961.0h0M363.2 958.1h0M362.4 964.3h0M356.1 962.9h0M360.6 955.5h0M360.2 961.8h0M364.1 947.5h0M354.4 961.1h0M359.9 956.2h0M356.5 957.1h0M374.1 947.6h0M353.9 965.9h0M354.0 964.9h0M358.6 961.6h0M362.3 953.3h0M365.7 962.7h0M364.5 954.7h0M358.4 965.2h0M364.4 960.4h0M361.4 964.7h0M367.9 967.4h0M359.2 961.9h0M369.3 944.4h0M349.5 963.4h0M366.5 949.2h0M358.6 955.7h0M361.2 954.9h0M361.5 968.3h0M368.6 952.8h0M364.6 952.4h0M359.2 957.4h0M364.6 959.7h0M368.7 949.8h0M376.0 943.3h0M361.4 962.2h0M358.8 961.7h0M362.7 960.5h0M360.8 955.3h0M366.1 961.9h0M363.1 966.3h0M357.8 946.0h0M363.2 967.0h0M376.2 959.7h0M365.9 958.1h0M364.4 958.2h0M364.1 964.6h0M355.7 964.4h0M361.6 965.2h0M354.2 960.4h0M365.2 948.1h0M363.0 960.2h0M357.0 949.5h0M365.5 961.5h0M360.1 960.1h0M355.2 960.0h0M364.2 958.7h0M367.7 944.3h0M359.5 961.2h0M358.4 958.6h0M364.6 966.4h0M350.6 958.8h0M354.5 964.3h0M370.3 962.4h0M365.2 951.8h0M358.7 960.2h0M359.7 960.3h0M363.3 956.5h0M364.0 960.2h0M358.7 960.3h0M363.5 958.3h0M354.1 963.0h0M364.6 957.6h0M365.3 960.1h0M353.9 961.2h0M356.1 958.0h0M366.4 958.3h0M357.4 965.6h0M366.2 963.8h0M365.6 956.9h0M364.0 962.7h0M360.7 957.0h0M362.4 954.0h0M360.0 964.6h0M369.8 954.1h0M370.2 940.1h0M361.3 946.9h0M362.9 959.2h0M367.8 951.8h0M360.9 951.6h0M365.9 947.3h0M365.0 958.4h0M353.2 964.8h0M362.9 960.5h0M359.6 957.0h0M363.5 959.2h0M359.1 951.6h0M359.5 961.3h0M366.8 966.0h0M358.4 947.0h0M348.6 959.4h0M366.3 960.6h0M366.1 967.0h0M360.5 964.4h0M363.7 958.8h0M361.0 948.8h0M360.3 965.4h0M359.6 952.0h0M354.1 956.6h0M357.7 959.0h0M354.2 966.8h0M361.7 952.1h0M357.2 962.1h0M358.9 964.8h0M352.1 959.3h0M363.7 957.2h0M361.8 964.7h0M355.9 958.3h0M360.2 952.0h0M362.9 958.1h0M361.6 959.7h0M354.4 962.2h0M359.9 959.4h0M356.9 963.4h0M362.2 965.9h0M364.6 950.4h0M364.7 965.7h0M354.8 967.0h0M363.4 959.2h0M361.1 966.3h0M362.9 953.4h0M363.8 955.1h0M359.9 962.0h0M357.3 965.3h0M361.3 965.7h0M362.5 950.7h0M357.5 960.8h0M353.9 964.1h0M364.1 962.9h0M367.9 958.8h0M363.7 957.8h0M358.5 959.9h0M358.8 962.4h0M367.8 954.8h0M367.0 963.5h0M364.5 964.2h0M353.3 962.5h0M369.0 957.9h0M350.5 962.7h0M363.0 952.2h0M355.1 961.9h0M363.0 941.5h0M368.9 964.0h0M353.5 965.6h0M353.5 965.3h0M365.3 961.9h0M362.6 958.0h0M363.1 944.1h0M360.0 951.5h0M369.4 950.4h0M357.4 951.1h0M364.1 947.6h0M363.0 963.8h0M367.1 944.9h0M356.5 966.1h0M360.5 960.2h0M366.5 950.9h0M368.8 960.8h0M365.0 958.4h0M366.5 950.1h0M367.1 965.2h0M362.1 960.1h0M360.0 958.2h0M363.0 961.1h0M350.1 964.5h0M373.3 941.4h0M362.4 951.8h0M359.8 963.3h0M367.6 955.0h0M355.1 965.7h0M362.2 966.2h0M363.2 959.9h0M367.2 959.1h0M356.2 962.6h0M361.5 960.8h0M364.6 963.5h0M372.8 962.6h0M363.9 959.0h0M364.0 951.8h0M363.2 953.0h0M359.2 965.8h0M365.6 957.4h0M360.3 962.2h0M366.8 949.5h0M354.1 955.2h0M353.8 953.0h0M365.5 962.3h0M361.2 956.0h0M364.6 956.7h0M366.7 953.8h0M353.1 960.5h0M353.3 962.5h0M366.1 960.7h0M364.3 945.7h0M362.6 961.0h0M365.9 944.2h0M363.4 952.0h0M369.3 965.3h0M353.7 958.6h0M357.0 964.0h0M358.9 957.0h0M366.8 955.6h0M365.7 962.7h0M364.1 961.9h0M360.0 960.9h0M373.8 949.3h0M364.4 951.0h0M360.1 942.6h0M366.0 965.0h0M366.9 951.8h0M359.5 965.2h0M373.5 947.0h0M364.6 954.2h0M359.7 966.0h0M365.0 963.8h0M355.3 963.9h0M371.0 960.2h0M369.3 961.8h0M363.8 948.4h0M361.7 950.7h0M364.7 956.8h0M355.8 953.6h0M357.3 960.8h0" stroke="#2f4db5"/><path d="M355.6 963.2h0M355.8 962.4h0M361.4 961.6h0M362.4 963.4h0M360.9 961.8h0M358.1 964.6h0M357.3 964.4h0M358.8 964.9h0M359.1 963.9h0M359.6 964.6h0M359.3 963.8h0M361.5 963.1h0M358.0 964.8h0M356.5 961.8h0M359.5 961.4h0M356.6 963.2h0M357.9 963.2h0M357.3 964.6h0M355.3 963.2h0M361.6 964.0h0" stroke="#3aa0a8"/><path d="M358.7 963.6h0M360.5 962.5h0M357.6 963.4h0M357.8 963.5h0M358.3 963.4h0M359.3 962.9h0M358.9 964.1h0M358.4 962.7h0M360.5 963.3h0M357.6 963.9h0M358.1 962.3h0M360.0 962.1h0M359.1 963.8h0M359.2 962.6h0M359.9 963.7h0" stroke="#a8d848"/><path d="M360.0 964.7h0M357.0 964.3h0M360.9 961.5h0M362.1 962.7h0M358.3 963.0h0M359.5 964.4h0M356.3 963.0h0M361.4 962.2h0M357.6 964.6h0M357.0 962.1h0M360.3 962.6h0M357.7 962.1h0M358.8 963.4h0M362.3 962.5h0M358.9 964.5h0M357.2 964.5h0M356.4 964.1h0M357.5 964.1h0M361.2 963.6h0M361.0 961.6h0M359.8 964.8h0M362.0 962.1h0" stroke="#78c858"/><path d="M362.4 963.3h0M360.6 963.6h0M355.5 962.8h0M360.2 964.8h0M358.6 961.2h0M358.4 964.3h0M357.3 964.7h0M356.4 963.0h0M357.0 961.5h0M355.8 962.4h0M358.8 962.2h0M359.5 961.3h0M360.1 961.7h0M356.1 962.1h0M355.9 962.7h0M358.1 962.1h0M357.5 963.9h0M358.0 961.8h0" stroke="#48b090"/><path d="M357.3 963.6h0M359.7 963.1h0M357.9 962.3h0M359.0 963.4h0M357.8 962.2h0M358.2 962.3h0M357.3 963.1h0M358.6 964.0h0M357.8 962.5h0M358.2 962.4h0" stroke="#e0d838"/><path d="M360.6 962.5h0M359.6 963.2h0M357.5 963.5h0M360.2 963.2h0M358.8 963.2h0M359.9 962.2h0M359.5 963.7h0M359.3 963.8h0M358.5 963.6h0M359.9 962.5h0M359.1 963.6h0M358.7 963.6h0M358.9 962.9h0M358.5 963.2h0" stroke="#88d050"/><path d="M358.8 961.9h0M357.8 962.3h0M359.7 962.5h0M357.1 963.2h0M360.6 963.0h0M358.6 964.1h0M358.7 964.0h0M360.8 963.3h0M360.7 963.1h0M357.0 963.1h0M357.3 962.4h0M358.3 963.5h0" stroke="#c8dc40"/><path d="M361.7 964.1h0M356.5 964.4h0M359.8 961.7h0M358.0 964.6h0M356.8 962.2h0M361.1 961.6h0M359.2 964.8h0M359.2 963.6h0M358.3 964.4h0M357.3 964.3h0M362.0 963.0h0M356.5 963.9h0M361.8 964.2h0M358.4 964.6h0M357.6 964.1h0M355.7 962.4h0M360.0 961.8h0M359.8 964.3h0" stroke="#58c070"/></g>
<g opacity="0.8" stroke-width="0.7" stroke-linecap="square" fill="none"><path d="M386.7 948.6h0M376.4 955.7h0" stroke="#6a88d8"/><path d="M386.1 951.5h0M370.1 950.5h0M387.1 958.6h0M373.8 946.7h0" stroke="#9ab0e6"/><path d="M373.1 947.6h0M378.5 945.4h0M378.1 945.4h0M386.8 951.4h0" stroke="#8aa2e0"/></g>
<rect x="347.6" y="873.4" width="96.4" height="97.2" fill="none" stroke="#9a9a9a" stroke-width="1"/>
<line x1="347.6" y1="872.9" x2="347.6" y2="971.1" stroke="#8a8a8a" stroke-width="1.1"/>
<line x1="347.1" y1="970.6" x2="444.5" y2="970.6" stroke="#8a8a8a" stroke-width="1.1"/>
<line x1="345.4" y1="970.6" x2="347.6" y2="970.6" stroke="#444" stroke-width="0.8"/>
<line x1="346.2" y1="960.88" x2="347.6" y2="960.88" stroke="#444" stroke-width="0.8"/>
<line x1="346.2" y1="951.16" x2="347.6" y2="951.16" stroke="#444" stroke-width="0.8"/>
<line x1="346.2" y1="941.44" x2="347.6" y2="941.44" stroke="#444" stroke-width="0.8"/>
<line x1="346.2" y1="931.72" x2="347.6" y2="931.72" stroke="#444" stroke-width="0.8"/>
<line x1="345.4" y1="922" x2="347.6" y2="922" stroke="#444" stroke-width="0.8"/>
<line x1="346.2" y1="912.28" x2="347.6" y2="912.28" stroke="#444" stroke-width="0.8"/>
<line x1="346.2" y1="902.56" x2="347.6" y2="902.56" stroke="#444" stroke-width="0.8"/>
<line x1="346.2" y1="892.84" x2="347.6" y2="892.84" stroke="#444" stroke-width="0.8"/>
<line x1="346.2" y1="883.12" x2="347.6" y2="883.12" stroke="#444" stroke-width="0.8"/>
<line x1="345.4" y1="873.4" x2="347.6" y2="873.4" stroke="#444" stroke-width="0.8"/>
<line x1="353.4" y1="968.8" x2="353.4" y2="970.6" stroke="#333" stroke-width="0.7"/>
<line x1="356.8" y1="968.8" x2="356.8" y2="970.6" stroke="#333" stroke-width="0.7"/>
<line x1="359.21" y1="968.8" x2="359.21" y2="970.6" stroke="#333" stroke-width="0.7"/>
<line x1="361.08" y1="968.8" x2="361.08" y2="970.6" stroke="#333" stroke-width="0.7"/>
<line x1="362.6" y1="968.8" x2="362.6" y2="970.6" stroke="#333" stroke-width="0.7"/>
<line x1="363.89" y1="968.8" x2="363.89" y2="970.6" stroke="#333" stroke-width="0.7"/>
<line x1="365.01" y1="968.8" x2="365.01" y2="970.6" stroke="#333" stroke-width="0.7"/>
<line x1="366" y1="968.8" x2="366" y2="970.6" stroke="#333" stroke-width="0.7"/>
<line x1="372.68" y1="968.8" x2="372.68" y2="970.6" stroke="#333" stroke-width="0.7"/>
<line x1="376.08" y1="968.8" x2="376.08" y2="970.6" stroke="#333" stroke-width="0.7"/>
<line x1="378.49" y1="968.8" x2="378.49" y2="970.6" stroke="#333" stroke-width="0.7"/>
<line x1="380.36" y1="968.8" x2="380.36" y2="970.6" stroke="#333" stroke-width="0.7"/>
<line x1="381.88" y1="968.8" x2="381.88" y2="970.6" stroke="#333" stroke-width="0.7"/>
<line x1="383.17" y1="968.8" x2="383.17" y2="970.6" stroke="#333" stroke-width="0.7"/>
<line x1="384.29" y1="968.8" x2="384.29" y2="970.6" stroke="#333" stroke-width="0.7"/>
<line x1="385.28" y1="968.8" x2="385.28" y2="970.6" stroke="#333" stroke-width="0.7"/>
<line x1="391.96" y1="968.8" x2="391.96" y2="970.6" stroke="#333" stroke-width="0.7"/>
<line x1="395.36" y1="968.8" x2="395.36" y2="970.6" stroke="#333" stroke-width="0.7"/>
<line x1="397.77" y1="968.8" x2="397.77" y2="970.6" stroke="#333" stroke-width="0.7"/>
<line x1="399.64" y1="968.8" x2="399.64" y2="970.6" stroke="#333" stroke-width="0.7"/>
<line x1="401.16" y1="968.8" x2="401.16" y2="970.6" stroke="#333" stroke-width="0.7"/>
<line x1="402.45" y1="968.8" x2="402.45" y2="970.6" stroke="#333" stroke-width="0.7"/>
<line x1="403.57" y1="968.8" x2="403.57" y2="970.6" stroke="#333" stroke-width="0.7"/>
<line x1="404.56" y1="968.8" x2="404.56" y2="970.6" stroke="#333" stroke-width="0.7"/>
<line x1="411.24" y1="968.8" x2="411.24" y2="970.6" stroke="#333" stroke-width="0.7"/>
<line x1="414.64" y1="968.8" x2="414.64" y2="970.6" stroke="#333" stroke-width="0.7"/>
<line x1="417.05" y1="968.8" x2="417.05" y2="970.6" stroke="#333" stroke-width="0.7"/>
<line x1="418.92" y1="968.8" x2="418.92" y2="970.6" stroke="#333" stroke-width="0.7"/>
<line x1="420.44" y1="968.8" x2="420.44" y2="970.6" stroke="#333" stroke-width="0.7"/>
<line x1="421.73" y1="968.8" x2="421.73" y2="970.6" stroke="#333" stroke-width="0.7"/>
<line x1="422.85" y1="968.8" x2="422.85" y2="970.6" stroke="#333" stroke-width="0.7"/>
<line x1="423.84" y1="968.8" x2="423.84" y2="970.6" stroke="#333" stroke-width="0.7"/>
<line x1="430.52" y1="968.8" x2="430.52" y2="970.6" stroke="#333" stroke-width="0.7"/>
<line x1="433.92" y1="968.8" x2="433.92" y2="970.6" stroke="#333" stroke-width="0.7"/>
<line x1="436.33" y1="968.8" x2="436.33" y2="970.6" stroke="#333" stroke-width="0.7"/>
<line x1="438.2" y1="968.8" x2="438.2" y2="970.6" stroke="#333" stroke-width="0.7"/>
<line x1="439.72" y1="968.8" x2="439.72" y2="970.6" stroke="#333" stroke-width="0.7"/>
<line x1="441.01" y1="968.8" x2="441.01" y2="970.6" stroke="#333" stroke-width="0.7"/>
<line x1="442.13" y1="968.8" x2="442.13" y2="970.6" stroke="#333" stroke-width="0.7"/>
<line x1="443.12" y1="968.8" x2="443.12" y2="970.6" stroke="#333" stroke-width="0.7"/>
<line x1="347.6" y1="970.6" x2="347.6" y2="972.6" stroke="#333" stroke-width="0.8"/>
<text x="349.7" y="983.7" font-size="9.8" text-anchor="end" fill="#1a1a1a" textLength="9.6" lengthAdjust="spacingAndGlyphs">10</text>
<text x="350" y="979.7" font-size="5.4">2</text>
<line x1="366.88" y1="970.6" x2="366.88" y2="972.6" stroke="#333" stroke-width="0.8"/>
<text x="368.98" y="983.7" font-size="9.8" text-anchor="end" fill="#1a1a1a" textLength="9.6" lengthAdjust="spacingAndGlyphs">10</text>
<text x="369.28" y="979.7" font-size="5.4">3</text>
<line x1="386.16" y1="970.6" x2="386.16" y2="972.6" stroke="#333" stroke-width="0.8"/>
<text x="388.26" y="983.7" font-size="9.8" text-anchor="end" fill="#1a1a1a" textLength="9.6" lengthAdjust="spacingAndGlyphs">10</text>
<text x="388.56" y="979.7" font-size="5.4">4</text>
<line x1="405.44" y1="970.6" x2="405.44" y2="972.6" stroke="#333" stroke-width="0.8"/>
<text x="407.54" y="983.7" font-size="9.8" text-anchor="end" fill="#1a1a1a" textLength="9.6" lengthAdjust="spacingAndGlyphs">10</text>
<text x="407.84" y="979.7" font-size="5.4">5</text>
<line x1="424.72" y1="970.6" x2="424.72" y2="972.6" stroke="#333" stroke-width="0.8"/>
<text x="426.82" y="983.7" font-size="9.8" text-anchor="end" fill="#1a1a1a" textLength="9.6" lengthAdjust="spacingAndGlyphs">10</text>
<text x="427.12" y="979.7" font-size="5.4">6</text>
<line x1="444" y1="970.6" x2="444" y2="972.6" stroke="#333" stroke-width="0.8"/>
<text x="446.1" y="983.7" font-size="9.8" text-anchor="end" fill="#1a1a1a" textLength="9.6" lengthAdjust="spacingAndGlyphs">10</text>
<text x="446.4" y="979.7" font-size="5.4">7</text>
<text x="345.1" y="871.1" font-size="10" text-anchor="middle" textLength="15.6" lengthAdjust="spacingAndGlyphs" transform="rotate(-90 345.1 871.1)">100</text>
<text x="345.1" y="922" font-size="10" text-anchor="middle" textLength="10.4" lengthAdjust="spacingAndGlyphs" transform="rotate(-90 345.1 922)">50</text>
<text x="345.1" y="970.6" font-size="10" text-anchor="middle" textLength="5.2" lengthAdjust="spacingAndGlyphs" transform="rotate(-90 345.1 970.6)">0</text>
<text x="371.2" y="994.8" font-size="9" textLength="46.5" lengthAdjust="spacingAndGlyphs">PE-CD163</text>
<rect x="368.1" y="884.4" width="46.0" height="83.6" fill="none" stroke="#4a4a4a" stroke-width="0.95"/>
<text x="357.6" y="858.1" font-size="9" textLength="77.5" lengthAdjust="spacingAndGlyphs">miR-708-5p mimic</text>
<text x="373.9" y="870" font-size="9" textLength="38.8" lengthAdjust="spacingAndGlyphs">+inhibitor</text>
<text x="408" y="883.1" font-size="9.2" textLength="34.2" lengthAdjust="spacingAndGlyphs">(4.51%)</text>
<text x="330.2" y="921.4" font-size="8.6" text-anchor="middle" textLength="24.7" lengthAdjust="spacingAndGlyphs" transform="rotate(-90 330.2 921.4)">SSC-A</text>
<text x="332" y="856.5" font-size="7.8" text-anchor="middle" letter-spacing="0.35" transform="rotate(-90 332 856.5)">(x 10<tspan font-size="6.6" dy="-4.6">4</tspan><tspan dy="4.6">)</tspan></text>
</svg>
</body></html>
